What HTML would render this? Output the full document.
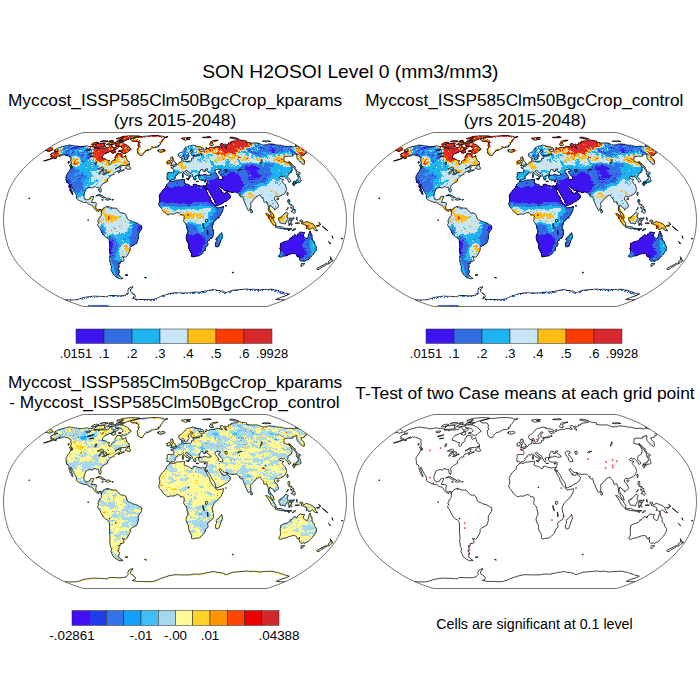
<!DOCTYPE html>
<html><head><meta charset="utf-8"><title>SON H2OSOI Level 0</title>
<style>html,body{margin:0;padding:0;background:#fff}svg{display:block}text{font-family:"Liberation Sans",sans-serif;fill:#000}</style></head>
<body>
<svg width="700" height="700" viewBox="0 0 700 700">
<rect width="700" height="700" fill="#fff"/>
<defs>
<path id="coast" d="M-120.8 -69.3l4.5 -2.5l2 -0.6l2 -0.5l3.4 -0.9l1.7 -0.4l1.7 -0.3l1.2 0.2l1.2 0.2l1.1 0.2l1 0.2l1.6 0.1l1.6 0.1l0.8 0.5l1 0.2l1.1 0.3l1.9 -0.4l1.7 -0.3l1.6 -0.2l2.5 -0.3l1.1 0.8l1.5 -0.2l1.6 -0.1l0.9 0.4l1 0.4l1.4 0.7l-1.1 0.3l1.8 0l1.8 -0.1l1.2 0.3l-0.3 0.7l2 -1.1l2.1 0l2 0.2l1.9 -0.6l1.2 0.3l1.3 -1.2l0.5 -1.4l2.2 -0.9l0.1 1.4l0 0.9l0.4 0.7l1.3 0.2l0 0.9l1 -0.5l1.6 -1.5l1.9 0.1l0 1l-1.3 1.4l-1.9 0.6l-1.6 0.3l-2.1 1.4l-2.1 0.5l-2.2 1l-2.5 1.4l-1.6 1.5l-0.7 1.3l0.5 1.7l1.9 0l1.8 1l1.1 0.7l2.1 0.2l-0.9 2.2l0.3 1l0.4 0.8l1 -0.3l1 -1.5l0.5 -1.6l2.2 -1.2l1.1 -1.3l-0.3 -1.7l1.1 -1.3l1 -2.3l2.2 0l1.9 0.6l1.1 0.7l-0.6 2l0.8 0.7l1.9 -0.7l1.4 -1.3l0 0.8l0.5 1.5l0.5 1.5l0.6 1.5l1.6 1l0.6 1.6l-0.1 1l-2 0.5l-1.9 0.9l-2.5 0l-1.5 0.1l-1.5 0.1l-1.6 1l-2.3 1.6l-1.1 0.7l2.2 -1.2l2.8 -1.1l1.3 0l-0.4 1.1l-1 0.5l0.3 1l0.9 0.6l1.6 0.2l1.5 -0.8l-0.2 0.8l-1.5 0.6l-1.9 0.7l-2 1.1l-0.4 -0.7l1.9 -1.3l-0.9 0.1l-1.4 0.3l-1.5 0.8l-1.5 0.6l-1.1 1.3l0.4 0.7l-1.4 0.5l-2.2 0.6l-0.5 1.1l-1.2 1.1l-1.2 1.3l-0.3 0.8l0 1.6l-1.6 0.9l-1.5 0.7l-1.8 1.4l-1.4 1.3l-0.4 1.4l0.4 1.9l0.2 1.6l-0.6 1.6l-0.8 0.1l-0.6 -1.4l-0.4 -1.6l0.1 -1.3l-0.7 -0.9l-1.5 0.4l-1.2 -0.8l-1.8 0.1l-0.8 1.2l-1.3 0l-1.7 -0.5l-2 0.5l-2.2 1.5l-0.7 2l-0.8 2.1l-0.4 1.8l0.3 2l0.9 1.6l1.3 0.9l1.9 -0.4l1.5 -0.5l0.7 -1.9l2 -0.8l1.4 0.2l-0.8 2l-0.6 1.6l-0.7 1.6l-0.3 0.8l1.6 0l1.9 -0.2l1.5 1l-0.4 2.2l-0.3 1.6l0.6 1.6l0.9 1.1l1.4 0l1 -0.5l1.4 0.2l0.6 0.8l-0.5 1.3l-0.7 -0.9l-0.9 -0.7l-0.8 0.7l-0.2 0.9l-0.9 -0.4l-1.2 -0.5l-0.9 -0.7l-1.1 -1.3l-0.7 -1.1l-1 -1.8l-0.7 -0.6l-1.6 -0.3l-1.3 -0.5l-1.4 -0.9l-1.2 -1.4l-1.5 0.4l-1.4 -0.2l-1.8 -0.7l-2.2 -1l-1.7 -0.8l-1.5 -1.6l0 -1.4l-0.1 -1.9l-1.1 -1.8l-1.1 -1.3l-0.5 -1.6l-1 -1.4l-0.7 -1.7l-0.3 -1.4l-0.9 -0.4l-0.3 1.3l0.6 1.6l0.5 1.6l0.7 2.2l0.6 1.6l0.3 1.1l-0.7 -0.2l-1.3 -1.8l-0.1 -1.6l-1.3 -1.3l0.2 -1.4l-0.8 -1.3l-0.2 -2.7l-0.8 -1.6l-1.5 -0.5l-0.3 -2.2l0 -1.4l-0.3 -1.8l0.1 -1.1l1 -1.6l1.7 -2.6l1.2 -1.9l0.8 -2.2l1.2 0.9l0.8 -1.6l-0.8 -1l-1.3 -1.1l0.4 -1.5l0 -2.1l-0.3 -1l0.3 -2l-0.6 -1l-1.4 -0.2l-0.8 -1.1l-1.3 -0.1l-1.2 -0.1l-1.2 -0.7l-2.1 0.2l-2.2 1l-1.7 0.3l2 -1.6l-2.6 1.3l-2.2 1l-2.9 1.2l-2.6 1l-3.1 1l-2.1 0.5l-1.6 0.2l3.5 -1.2l2.3 -0.7l3 -1.3l1.7 -1l-1.5 0.1l-2.1 0l1.3 -1.3l-1.3 -0.5l0.8 -1.3l2 -1.1l2.7 -0.5l2 -1l-1.5 0l-2.2 0zM-44.5 -80.4l2.1 -0.7l2.1 -0.6l2.3 -0.6l2.2 -0.5l1.6 -0.1l1.5 -0.2l1.6 -0.1l1.5 -0.1l1.8 -0.2l1.8 -0.2l1.8 -0.1l1.8 -0.2l1.4 0l1.4 0l1.4 0l1.4 0.1l1.4 0.2l1.4 0.2l1.5 0.2l1 0.4l1 0.5l1.8 -0.2l1.8 -0.2l-1.9 0.7l-1.9 0.7l-1 1.6l-1 1.6l-1.7 1.7l-0.4 1.8l-2.2 0.9l1.2 0.6l-1.5 0.6l-1.5 0.6l-1.8 0.2l-1.8 0.2l-1.7 1.1l-1.7 1l-1.6 0.4l-1.6 0.3l-2.2 2.4l-1.5 2.5l-1.5 0l-2 -1l-0.9 -1.5l-0.5 -2.4l-0.3 -1.8l1.9 -1.9l-1.1 -1.3l0.6 -1.8l-0.7 -2.1l-1 -0.5l-1 -0.4l-1.9 0l-1.9 0l-1.2 -0.8zM-43.8 -70.2l-2.2 1.4l-2 2l-2.6 0.7l-2 -0.5l-1.4 -1.4l-1.3 0l-1.2 -0.1l0.2 -0.9l1.5 -0.1l1.5 -0.1l1.6 -1.4l-1.2 -1.4l-1.2 -1.4l-1.7 0l-1.7 0l-1.7 -0.4l-1 -0.9l1.6 -1.8l1.5 -0.1l1.6 0l1.4 0l1.5 0l0.8 0.4l0.8 0.4l1.3 0.6l1.3 0.5l0.8 0.5l0.9 0.5l0.3 1.2l1.6 0.9zM-72.7 -72.5l-1.9 0.2l-1.9 0.2l-1.4 0l-1.4 0l-1.1 -1l1.7 -1.6l-1.1 -0.2l2.6 -1.1l1.2 0.1l1.2 0.1l1.9 -0.2l1.9 -0.2l1.6 0.3l-1.6 1.6l0.9 0.5l0.9 0.4l-1.8 0.9zM-83.6 -75.1l0.6 0.6l2 -0.2l2.3 -0.8l2.4 -0.7l0.1 -0.9l-1 -0.1l-1 -0.1l-1.4 0.2l-1.4 0.2zM-56.4 -79l1.5 0.1l1.4 0.1l1.6 0l1.5 0.1l2.6 -1.1l2.3 -0.8l1.6 -0.4l1.5 -0.4l2.3 -0.5l2.3 -0.5l2.6 -1l-1.4 -0.2l-1.4 -0.1l-1.4 -0.1l-1.4 0l-1.4 0l-1.4 0l-1.4 0l-1.6 0.2l-1.7 0.2l-1.6 0.1l-1.6 0.2l-2.1 0.7l1.1 0.3l1 0.4l-0.7 1.1l-2.7 0.8zM-51.6 -77.4l-1.7 0l-1.6 0.1l-1.4 -0.1l-1.3 0l-1.3 -0.1l0.9 -1.2l2 -0.1l1.4 0.2l1.4 0.2l1.1 0.1l1.2 0.1zM-58.3 -80.6l1.8 0.1l1.7 0.1l2.3 -1l-0.6 -0.5l-0.5 -0.5l-1.6 0.3l-1.6 0.4zM-75 -77.7l1.3 0.1l1.3 0.1l1.3 0.2l1.6 -0.2l1.5 -0.2l1 -0.9l-1 -0.2l-1 -0.2l-2 0.1l-2 0.1zM-66.5 -77.9l1.8 0.1l1.8 0.1l1.6 -0.9l-1.2 -0.6l-1.4 0.2l-1.5 0.2zM-68.6 -74.7l1.7 0l1.7 0l1.5 -0.2l1.6 -0.3l2.7 -0.8l0.2 -0.9l-1.3 0l-1.2 -0.1l-1.7 0.1l-1.7 0l-2.2 0.9zM-64 -67.3l1.2 0.5l1.2 0.4l2.4 -0.9l-0.1 -1l-0.9 -1.4l-1.7 0.5zM-49.8 -51.2l1.2 0.4l1.3 0.4l2.5 0.2l0.5 -0.9l-0.4 -1.1l-1.4 -1l0.7 -2.1l-1.4 0.5l-1.3 1.6zM-103.3 -52l-1.3 -0.5l-1 -1.9l1.2 -0.2l1 0.9zM-106.6 -58l0.9 0.1l-0.9 1.9l-0.4 -0.8zM-120.6 -61.1l2.4 -0.8l-0.2 0.6l-2.1 0.6zM-79.3 -23.5l2.5 -1.3l2.3 0l2.6 1.6l2.5 1.4l-1.6 0.2l-1.5 0.1l-0.4 -0.8l-2.2 -1.2l-1.3 -0.6l-1.9 0.4zM-69.8 -19.8l1.9 -1.7l2.4 0.1l1.3 1.3l-2 0.5l-1.2 0.5l-0.7 -0.5zM-73.5 -19.8l1.9 0.3l-0.7 0.3zM-63.1 -19.8l1.4 0.1l-0.3 0.3l-1.1 0zM-145.9 -21.8l0.8 0.5l-0.8 0.8l-0.2 -0.6zM-73.4 -9.2l1.3 -0.8l0.5 -1.5l1.2 -0.4l1.8 -1l0.9 -0.4l-0.1 1.4l1.5 -0.5l0.3 -0.8l1.1 1.3l2.3 0.5l1.9 0.1l1.9 -0.2l0.9 1.3l0.9 1l1.4 1.6l1.4 1.1l1.9 0l1.9 0.5l1.2 1.1l1.1 2.7l0.5 1.7l1.4 1l1.4 0.3l2.4 1.4l1.5 0.5l1.9 0.4l1.9 0.9l1.6 1.2l1.9 0.7l0.5 2.2l-0.6 2.1l-1.4 1.9l-1.3 1.9l-0.4 2.2l0.2 2.7l-0.8 2.7l-0.8 2.1l-1.8 1.1l-1.8 0.9l-1.8 0.9l-1.3 1.4l0.1 2.5l-0.9 1.9l-1.1 2.1l-1.3 2.2l-1.3 1l-1.9 -0.4l-1.4 -0.6l1.5 2.1l0.1 2.4l-1.9 0.8l-1.9 0.1l0.2 1.9l-2.1 0.2l1.4 1.6l-0.9 1.1l0.4 1.6l-1.4 1l1.8 1.6l-0.5 2.1l-0.6 1.6l1 1.4l0.5 0.6l2 1.6l1.2 0.4l-2 0.6l-2.2 -0.5l-2.1 -1l-2.3 -1.6l-1.7 -2l-1.1 -2.7l-0.8 -1.5l0.5 -1.6l0.3 -1.6l-1.2 -1.6l-0.3 -2.2l-0.4 -2.1l-0.1 -2.2l0.4 -2.1l-0.2 -2.2l-0.3 -2.1l-0.2 -2.2l0.1 -2.7l0 -2.7l-0.2 -3.2l-0.4 -1.8l-1.6 -1.5l-2 -1l-2.1 -2l-1.3 -2.1l-1.2 -2.4l-1.2 -2.7l-1.5 -1.6l-0.4 -1.6l0.9 -1.3l0.3 -0.9l-0.9 -0.3l0.2 -1.3l0.7 -1.3l0 -0.9l1.1 -0.5l0.3 -1.2l1 -1l0.1 -2.1l0.2 -1.7l-0.4 -0.3zM-49.8 55.5l2.3 -0.3l0.3 0.8l-2.4 0zM-5.3 -38.6l1.8 0.3l1.7 0.3l2.7 -1.4l1.8 -0.1l1.8 -0.2l2.6 -0.2l1.8 -0.3l0.9 0.3l-0.5 2.1l-0.3 1.1l0.9 0.8l1.9 0.4l2.1 0.7l1.6 1.4l1.9 0.6l0.8 -0.6l-0.1 -1.7l2.7 -0.2l1.9 1.1l2.4 0.5l1.8 0.3l1.3 -0.6l1.4 0.3l1.5 -0.1l-1.3 1.4l0.2 1.7l1.2 1.2l0.7 1.8l1.1 1.8l0.2 1.1l1.2 1.1l0.4 1.6l0.3 1.8l1.1 0.9l0.8 2.1l0.7 1.1l1.5 1.5l1.5 1.1l0.3 1l1.2 1.3l1.4 -0.4l1.9 -0.4l1.9 -0.4l1.1 -0.3l-0.1 1.6l-0.7 2.6l-1.1 2.1l-0.9 1.6l-1.9 2.2l-1.9 1.6l-1.9 2l-1 1.3l-0.9 1.6l-0.7 1.6l-0.3 1.6l0.4 1.6l0.2 2.2l0.7 1.1l0 2.1l0 2.2l-1.2 1.9l-2 1.1l-1 1.1l-1.4 1.1l-0.3 1.3l0.6 1.2l-0.2 2l-1.4 1.1l-1.1 0.8l-0.2 1.9l-0.8 1.6l-1.3 1.6l-1.8 1.9l-1.9 1.4l-1.4 0.5l-2.3 0l-2.7 0.8l-1.4 -0.6l-0.3 -1.6l0.4 -1.3l-1.1 -2.2l-0.6 -1.1l-1.1 -2.1l-0.4 -2.7l-0.1 -2.2l-1.2 -2.1l-0.9 -2.2l-0.3 -2.1l0.8 -2.2l1 -1.8l0.3 -1.6l-0.8 -2l-0.4 -2.7l-0.5 -1.6l-0.9 -1.3l-1.5 -1.6l-0.4 -1.6l0.5 -1.4l-0.1 -1.7l0.3 -1.3l-0.7 -0.8l-0.7 -0.6l-1.2 0.2l-1 0.1l-0.9 -1.4l-1.5 -0.9l-1.9 0.2l-1.4 0.6l-1.9 0.9l-1.9 -0.4l-1.9 0.4l-1.4 0.5l-1.5 -0.9l-1.9 -1.6l-1.4 -0.9l-0.7 -1.6l-1.1 -1.6l-1 -1.1l-1.1 -1.1l-0.1 -1.1l-0.6 -1.3l1 -1.4l0.3 -2.1l-0.1 -1.6l-0.6 -1.7l0.5 -1.6l0.7 -1.6l1 -1.6l1.2 -1.6l1 -1.1l1.4 -0.9l0.9 -1l0.4 -1.3l0.5 -1.7l1.1 -1l1.1 -0.8zM46.7 12.9l0.3 1.9l0.4 1.9l-0.9 2.7l-1.2 3.3l-0.8 2l-0.7 2.1l-1.7 0.7l-1.3 -0.5l-0.5 -2.7l1.2 -2.7l-0.2 -2.7l1.1 -1.6l1.9 -1.1l1.1 -1.6zM130.3 -68.8l-0.4 0.5l1.9 1.9l-1 0.3l-0.9 0.2l-0.4 1.5l-1.7 0.5l-2 0.2l0.4 1.3l0.3 1l2.1 1.5l0.5 1.2l0.3 1.9l-0.2 1.5l-0.5 0.5l-2.6 -2l-2.8 -2.6l-1.2 -1.8l-0.4 -1.7l0.2 -1.5l0.1 -1.5l-1 0.3l-1 0.2l-1.1 0.2l-1.2 0.1l0.3 1.6l-1.1 0.2l-1.1 0.2l-2.7 -0.3l-2 0.2l-1.7 0.3l-0.4 1.5l-0.1 2l0.2 1.5l1.8 0.2l2.1 0.7l1.9 1.2l0.9 1.5l1.2 2.1l0 1.8l-0.4 1.9l-0.7 1.6l-1.4 0.6l-1 0.5l-0.6 0.5l0.3 1.3l-0.7 1l0 0.9l1.4 1.1l1.7 1.6l0.2 1.4l-1.1 0.7l-1.1 0l-0.4 -1.5l-0.5 -1.3l-1.3 -0.6l-1.1 -1.4l-0.9 -0.8l-1.6 0.3l-0.6 0.5l-0.8 -1.6l-1.2 1.1l-1.1 0.5l1 1.1l1.5 0.5l2.2 0.4l-0.8 0.7l-0.8 1.3l1 1.4l1.5 1.6l1.3 1.7l-0.3 1l1 1.1l-0.3 1.3l-0.6 2l-0.8 1.5l-1.2 1.1l-1.7 0.9l-1.3 0.6l-1.7 0.7l-1.1 0.8l-0.8 -0.8l-1.4 -0.1l-1 1.2l-0.6 1.6l1.2 1.8l1.6 1.4l1.1 2.2l0.4 2.2l-0.7 1l-1.4 0.7l-0.8 1l-0.9 0.8l-0.3 -1.4l-1.3 -0.6l-1.1 -1.5l-1.5 -0.9l-0.5 -0.8l-0.4 1.1l-0.3 1.6l-0.1 1.9l1 1l0.6 1.4l0.9 0.6l1.1 1.1l0.7 1.4l0.1 1.6l0.7 1.3l-0.9 0l-1.7 -1.3l-0.8 -1.4l-0.5 -1.8l-0.6 -1.2l-1.2 -1.3l-0.3 -1.6l0.2 -2.2l-0.4 -1.6l-0.8 -2l-0.3 -1.6l-1.2 -0.2l-1 0.8l-1 -0.5l-0.1 -1.9l-0.9 -1.6l-1.6 -1.7l-0.9 -1.6l-1 0l-1.3 0.8l-1.8 0.5l-0.3 1.4l-1.3 0.8l-1.2 1.4l-1 1.5l-1.6 0.9l-0.2 1.9l0.4 1.6l-0.4 2.2l-0.6 1.3l-0.7 0.5l-0.7 0.8l-1 -1.3l-0.9 -2.4l-1 -1.6l-0.6 -2.2l-0.9 -1.6l-0.9 -2.5l-0.3 -1.8l-0.3 -1.1l-1.3 0.8l-1.8 -1.1l-0.1 -0.8l0.9 -0.5l-1.7 -0.6l-1.3 -1.2l-0.8 -0.7l-2.3 0l-2.3 0.2l-2.4 -0.3l-1.6 -0.4l-0.6 -1.3l-1.6 0.3l-1.4 -0.1l-1.5 -1l-1.3 -1.4l-0.9 -1.3l-1.1 -0.1l-0.6 0.9l0.8 1.3l1.4 1.7l0.3 1.3l0.8 0.9l0.4 -1.2l0.3 1.4l1.2 0.3l1.4 -0.1l1.2 -1.6l0.3 -0.6l0.3 1.6l1.5 1.2l1.8 1.3l-0.8 2.2l-0.7 1.6l-1.1 1.1l-1.4 1.1l-1.8 0.5l-1.8 1.3l-1.8 1.2l-1.9 0.7l-1.8 0.8l-1.5 0.1l-0.5 -1.9l-0.4 -2.2l-1.3 -2.2l-1.5 -1.9l-1 -1.8l-0.8 -1.9l-1.2 -1.9l-1.2 -1.6l-1 -1.2l-0.2 -1.5l-0.5 1.8l-1.2 -1.3l-0.5 -1.1l1.3 -1.4l0.5 -1l0.2 -1.3l0.4 -1.7l0 -1.4l-1 -0.4l-1.3 0.5l-1.3 -0.3l-1.4 0l-1.3 0l-1.4 -0.5l-0.6 -1.1l-0.5 -1.4l0.1 -1.1l2.1 -0.4l0 -0.5l1.9 0l1.6 -0.9l1.8 0.3l1.4 0.7l1.7 0l2.2 -0.4l-0.7 -1.4l-1.5 -0.9l-1.5 -0.9l-0.9 -0.8l0.7 -0.8l0.6 -1.1l-1.3 0l-1.5 0.8l-0.3 0.6l1.3 0.4l-0.8 0.5l-1.4 0.5l-1.2 -1.1l0.7 -0.6l-1.3 -0.6l-1 0l-0.8 1.3l-0.6 1.4l-0.4 1.6l0.3 1.1l0.7 0.2l0 0.3l-1.3 0.1l-0.8 0.5l-0.5 -0.4l-1.3 0l-0.8 0.9l-0.6 -0.5l0.1 1.2l1.2 1.2l-0.9 0.7l0.1 1.1l-0.9 -0.2l-0.7 -1.1l-0.4 -1.4l-1.1 -1l-0.4 -1.6l-0.5 -0.9l-1.4 -0.7l-1.8 -1.1l-0.7 -1.3l-0.9 -0.4l-1.2 0.3l0.1 1.1l1.2 0.8l0.8 1.3l1.3 0.5l0.1 0.6l1.8 0.7l0.4 0.6l-1.1 -0.4l-0.4 1l0.4 0.5l-0.5 0.8l-0.7 0.3l0.2 -1.1l-0.3 -1l-1.1 -0.8l-1.8 -0.8l-1.4 -1.1l-0.6 -1.1l-1.2 -0.8l-1.3 0.5l-1.2 0.8l-1.8 -0.5l-0.8 1.1l0.2 0.7l-1.9 0.9l-1.1 1.6l0.4 0.8l-0.8 1l-1.2 1.1l-2.2 0.1l-0.9 0.8l-0.9 -0.9l-0.9 -0.3l-1.3 0.1l0.2 -1.6l-0.6 -0.3l0.7 -2.4l-0.3 -2.1l1.1 -0.8l2.2 0.1l2.1 0.2l1 0l0.6 -1.3l0.1 -1.4l-1 -1.3l-1.9 -0.6l-0.1 -0.8l1.4 -0.3l1.2 0.1l-0.2 -1l1.5 0.3l1.2 -0.7l0.2 -1l1.5 -0.4l0.8 -1.1l0.3 -0.7l1.6 -0.4l1.2 -0.3l0.1 -1.2l-0.5 -1l0.1 -1l1.3 -0.6l0.4 1.1l-0.3 1l0.1 1l0.8 0.5l1.2 -0.3l1.2 0.3l1.6 -0.3l2 -0.4l1 0.3l0.9 -0.6l-0.2 -1.8l0.6 -0.8l1.3 0.6l0.5 -0.5l-0.4 -1l-0.5 -0.7l1.1 -0.3l2.3 -0.1l1.4 -0.4l-1.2 -0.5l-1.9 0.1l-2.2 0.5l-1.2 -0.7l-0.4 -1.4l0 -1.1l0.9 -0.8l1.3 -1l-0.5 -0.7l-1.6 0l-0.5 1l-0.8 1.1l-1.3 1l-0.4 1.5l0.3 0.5l1 0.7l-0.5 0.8l-0.8 1l-0.2 1.5l-1 0.4l-0.5 0.6l-1 0.1l-0.5 -0.9l-0.6 -1.5l-0.8 -1.2l-0.4 -0.5l-0.7 0.5l-1.1 0.9l-1.2 0l-0.8 -0.7l-0.4 -1.2l-0.1 -1.5l0.4 -0.8l1.1 -0.6l1.4 -0.6l1 -0.9l1 -0.9l0.7 -1l0.9 -1.2l0.9 -0.8l1.3 -0.7l1.6 -0.5l1.7 -0.4l1.7 -0.6l1.6 0.2l2.1 0.5l-0.5 0.6l2.2 0.3l2.1 0.1l1.5 0.6l1.6 0.5l1.1 1.1l-1.6 0.7l-1.3 -0.2l-1.3 -0.2l-1.4 -0.2l1.3 1.2l0.5 0.9l1.8 0.5l0.5 -0.7l1.5 0.1l0.1 -0.8l0.8 -0.9l1.4 0.2l-0.2 -1.2l-0.5 -0.9l1.5 0.3l0.7 1.1l0.8 -0.7l1.3 -0.4l1.8 -0.5l1.5 0.2l1.9 -0.4l1 -0.7l0.7 -0.1l2.3 0.4l2.4 0.6l0.9 -0.3l-1.6 -0.9l-0.9 -1.3l0.6 -1.2l2 0l1.1 1.2l0.9 1.3l0.6 1.4l1.6 0.9l-0.4 -1.1l-0.7 -1.6l-1.3 -1.4l0.7 -0.4l1.7 0.9l1 -0.5l1 -0.4l-0.7 -0.9l1.5 -0.1l1.5 -0.1l-0.3 -1l1 -0.3l1 -0.3l1.1 -0.2l1 -0.2l1.4 -0.1l1.4 -0.2l0.7 -0.4l0.7 -0.5l2.7 0.7l1.7 0.1l1.8 0.2l1.7 0.6l-0.4 0.5l-0.5 0.5l2.6 0.6l1.8 0.1l1.8 0.1l1.5 -0.1l1.6 0l1.5 0.1l1.5 0.2l3 1.3l2.6 0.7l0.3 -0.5l1.4 0l1.4 0.1l0.8 -0.9l1.7 0l1.7 0l2.1 0.3l2.1 0.3l2.3 0.7l1.7 0l1.7 0l3.6 1.1l1.9 0.1l1.8 0.1l1.5 -0.4l3.5 0.9l0.8 -0.3l0.8 -0.4l2.3 0.4l2.3 0.3M-124.7 -72.5l1.1 0.7l0.5 0.6l0.5 0.6l0.8 0.9l-3.4 1.4l-1.7 -0.3l-0.5 -0.6l-2.9 0.4M-4.5 -53.8l1.6 -0.2l2.1 -0.5l1.9 -0.5l-0.4 -0.4l0.7 -1.1l-1.2 -0.3l-0.4 -1.1l-1 -1l-0.4 -1l-0.8 -0.2l0.8 -1.3l-1.1 -0.2l0.4 -0.9l-1.6 0l-0.6 1.1l0.2 1.2l0.3 1l1.2 0.4l0.4 0.9l-0.2 0.7l-1 0.2l0.2 0.9l-0.8 0.5l1.3 0.4l-0.8 0.4zM-8.2 -55.6l1.7 0.1l1.5 -0.5l0.2 -1.4l0.2 -1l-0.6 -0.7l-1.3 0l-0.3 0.8l-1.2 0.2l0.1 0.9l0.4 0.7zM-17.3 -69.2l1.6 -0.9l1.3 0.7l1.5 -0.5l1.5 -0.3l1 0.5l0.5 0.9l-1 0.7l-2.3 0.8l-1.9 -0.1l-1.4 -0.3l0.5 -0.7l-1.4 -0.3l1.2 -0.3zM6.6 -81l2 1.2l2 0.6l1.7 -0.6l1.1 -0.6l-2 -0.6l1.5 -0.2l1.4 -0.2l1.6 -0.5l-1.4 0l-1.4 -0.1l-1.4 -0.1l-1.4 0.2l-1.4 0.2l-1.2 0.1l-1.2 0.1zM34.6 -74.7l1.3 0.6l2.1 0.1l0.4 -1.2l-1.7 -1.3l0.8 -0.8l1 -0.4l1 -0.5l1.3 -0.4l1.2 -0.4l1.1 -0.2l-2 -0.2l-1.7 0.3l-1.7 0.3l-0.9 0.4l-1 0.4l-0.4 1.5l-0.9 0.9zM57.2 -81l2 0.4l2 0.4l1.3 -0.2l1.2 -0.2l-2.2 -0.8l-2.8 -0.7l-1.7 -0.2l-1.7 -0.1l-0.8 0.7zM27.7 -81.9l1.6 0.1l1.6 0l1.7 0.1l1.2 -0.1l1.3 -0.2l1.3 -0.1l-1.8 -0.7l-1.4 0.1l-1.5 0.1l-1.4 0.2l-1.4 0.1l-1.4 0.1zM87.2 -78.2l2.1 0.3l2 0.3l1 -0.6l1.8 0.2l1.8 0.1l-1.8 -0.7l-1.5 0l-1.6 -0.1l-1.6 0l-1.1 0.2zM121 -74.7l-1 0l0.8 0.4l1.3 0.2M113.6 -58.2l2 1.4l2 2l1.6 1.8l1.1 0.3l-0.1 1.6l1.3 1.4l-1 0.2l-1.5 -2.1l-1.6 -2.1l-1.9 -2.1zM122 -44.7l0.6 -1.1l1.9 0.5l1 -1.4l-1.6 -0.7l-3 -1.6l0.3 1.1l0.5 1.3l-0.4 0.8zM118 -36.7l1.3 -0.3l2.2 -0.3l1.6 0.1l0.1 -0.2l1.6 0l0.8 -0.4l0.5 -0.7l-0.5 -1.4l-0.3 -1.4l-0.3 -1.3l-1.6 -1.9l-0.9 0.3l0.6 1.3l0.3 1.4l-0.2 1.3l-1.3 0.1l0.1 0.7l-0.2 0.9l-2.6 0.1l-1.3 1.2zM117.5 -36.1l0.7 -0.4l1.2 0.9l0.1 1.7l-0.8 0.2l-0.8 -1.4zM119.6 -36.5l1.6 -0.4l0.1 0.8l-0.8 0.7zM112.1 -27.2l1 0.2l-0.1 1.6l-0.3 1.7l-0.8 -1.1zM101.8 -20.8l1.1 -0.8l1 0.3l-0.4 1.3l-1.2 0.3zM75.9 -10.5l1.2 1.3l0.6 1.6l-0.7 1l-0.9 0.1l-0.3 -1.6zM113.1 -20l1.6 0.2l0.1 2l-0.2 1.6l1.1 1.1l1.5 0.5l-0.1 0.8l-1.3 -0.8l-1.5 -0.2l-0.8 -1.2l-0.5 -1.3zM116 -7.6l1.3 -1.6l1.8 -1.3l0.8 1.3l0.2 2.2l-0.7 0.9l-1.5 -0.9l-0.6 -1.1zM115.5 -12.7l1.5 0.8l1.3 -1.6l0.6 1.6l-0.5 1.1l-1.2 0.6l-1 -0.6zM111.3 -9.2l2 -2.1l-0.1 -0.9l-0.8 1.4zM90.6 -6l2.2 0.4l2.4 2.4l2.9 2.7l1.4 2.7l1.4 1.6l-0.3 2.5l-1.2 0l-1.8 -1.8l-1.4 -1.8l-1.4 -2.7l-1.5 -2.7l-1.9 -2.2zM100 7.3l1.3 -0.8l1.8 0.6l2 -0.1l1.8 0.4l1.9 1l-0.3 1l-1.5 -0.2l-1.6 -0.2l-2.3 -0.6l-1.9 -0.4zM109.2 8.8l1.9 0l1.9 0.3l1.9 0l1.9 -0.1l-0.2 0.5l-2.7 0.1l-2.8 0.1l-1.9 -0.2zM117.1 11.1l1.5 -1.4l2 -0.6l0 0.4l-1.5 1l-1.5 0.7zM112.9 10.2l1.7 0.4l-0.8 0.5zM103.8 -1.6l1 -0.2l1.1 0.3l0.3 -1.4l1.4 -0.6l0.9 -1.4l1.4 -1l1.1 -1.7l0.9 0.8l1.5 1.2l-1.1 1l-0.2 1.9l1.1 1.6l-1.2 1.1l-0.1 1.3l-1 1.4l-0.5 1.6l-1.4 0l-0.9 -0.7l-1.7 0.2l-1.5 -0.6l-0.1 -1.6l-1 -1.1zM114.1 -0.9l1.2 -0.5l1.9 0.3l1.9 -0.6l-0.5 1.3l-1.4 0l-1.9 -0.1l-0.7 1.4l1.1 0.2l1.8 -0.2l-0.8 1l-0.8 0.3l0.7 1.6l0.6 1.1l-0.7 1l-0.9 -1l-0.4 -1.7l-0.5 0.6l-0.2 2.1l-0.8 0l0.1 -2.1l-0.5 -1.1l0.8 -2.2zM121.4 -2.2l1 0.6l-0.4 1.6l0.4 0.9l-0.6 -0.4l-0.3 -1.6zM120 3.5l1.1 0.1l0.8 -0.4l2.6 0.4l-0.7 0.4l-1.9 -0.1l-1.5 0.2zM124.8 0.9l1.4 -0.5l1.5 0.5l0.1 1.8l1.2 0.9l2 -1.8l1.9 0.6l1.4 0.4l1.8 0.9l1.5 0.4l1.1 1.3l1.6 1.1l-0.4 0.8l1.1 1.9l1.3 1.6l0.4 0.6l-1.4 -0.3l-1.4 -0.3l-1.3 -1.6l-1.3 -0.9l-1 0.9l-1.1 0.7l-1.4 -0.1l-1.3 -1.1l-1.4 0.3l0.8 -1.4l-0.6 -1.7l-1.9 -0.9l-1.8 -0.8l-1 0.1l-0.2 -1.1l0.7 -0.7l-1.4 -0.1l-0.9 -1zM141.2 6l2 -0.1l1.5 -1.3l0.2 0.8l-1.3 1.3l-1.5 0.1zM143.6 2.8l1.6 1.2l0.4 1.2l-0.4 -0.9l-1.6 -1.3zM147.4 6.5l1.3 1.1l1.4 1l1.7 1.6l1.3 1.1l-1.3 -0.6l-2.2 -1.7l-2.2 -2zM157.1 16.2l0.6 1.6l0.5 1.1l-0.9 -1zM153.4 21.8l1.2 0.9l1.1 1.4l-0.5 0l-1.5 -1.4zM166.6 18.9l1.2 0.1l-0.4 0.6l-0.9 -0.2zM105.8 23.7l0.7 -0.2l1.4 -0.8l1.5 -0.5l2 -0.6l1.9 -0.6l1.5 -1.6l0.1 -1.1l1.2 0.4l0.6 -1.1l1.2 -1.1l1.1 -1.4l1.4 0l0.6 1.1l1.2 -0.1l0.7 -1.8l0.9 -0.9l1.2 -0.5l0.7 -0.6l2.1 0.8l1.7 -0.2l-0.5 1.4l-0.8 1.3l0.4 1.3l1.2 1.1l1.3 0.9l1.2 0l1.1 -2.2l0.4 -2.1l0.8 -2.7l0.5 -0.4l0.7 2l0 1.9l1.3 0.8l0 1.9l0 2.2l1.3 1l0.8 1.1l0.3 1.7l0.7 1.3l1.2 1.6l0.1 1.6l-0.5 2.1l-1.3 2.2l-1.3 1.9l-1.9 1.7l-1.6 1.8l-1.5 1.9l-2.1 0.7l-2 1.2l-0.9 -0.8l-1.6 0.5l-1.5 -0.5l-0.9 -0.8l0.4 -1.7l-0.9 -0.5l0.5 -1.1l0.2 -1.6l-1 1.9l-1.3 0l-0.3 -0.5l-0.2 -1.4l-1 -1.1l-1.6 -0.5l-1.9 0.2l-2 0.6l-2.1 0.6l-1.2 0.7l-1.9 0.5l-1.9 0.1l-2.2 1.1l-1.7 -0.3l-0.7 -0.5l1.5 -2.5l0.4 -2.1l-0.1 -1.7l-0.1 -2.1l-0.1 -1.6l0.5 -1.6zM126.6 43.9l1.3 0.4l1.7 -0.3l-1 1.5l-1.4 1.2l-1.4 0.2l0.1 -1.1zM155.4 37.2l0.6 1.1l0.6 1.1l-0.3 1.2l1.8 0l-0.4 0.9l-1.9 1.1l-1.8 1.6l-1.5 0.5l0.9 -1.2l-0.3 -1.1l1.4 -0.9l1.1 -1.6l-0.1 -1.6zM151.3 43.8l0.5 0.9l-2.3 1.6l-1.2 0.9l-1.9 0.7l-1.3 1.4l-2.2 0.9l-0.9 -0.5l-0.4 -0.5l2.4 -1.5l2.9 -1.4l2.3 -1.2zM7.2 -44.2l1.2 0l0.1 1.9l-1 0.2l-0.2 -1zM7.5 -45.8l0.7 -0.5l0.1 1.6l-0.6 0zM11.1 -41l2.6 -0.2l-0.2 1.6l-1.9 -0.6zM21.1 -38.4l2.5 0.3l-0.2 0.3l-2.3 -0.2zM29 -37.8l1.9 -0.6l-0.3 0.7l-1.2 0.4zM57.3 52.7l1.2 0.1l-0.5 0.6l-0.9 -0.1zM50.5 -13.6l1.1 0l-0.2 0.3l-0.9 -0.1zM-87.2 0.3l0.7 0l-0.1 0.8l-0.6 -0.1zM13.6 -79.8l1.4 -0.2l-0.4 -0.4l-1.2 0zM-30.5 57.9l1.7 0.3l0.1 0.5l-1.3 -0.4zM-110.2 80.2l1.7 0.1l1.7 0l1.6 0.1l1.7 0l1.4 0l1.4 -0.1l1.4 0l1.4 -0.1l0.9 -0.3l0.9 -0.3l1 -0.3l1.1 -0.3l0.8 -0.4l0.9 -0.4l1.2 -0.2l1.3 -0.3l1.3 -0.2l1.3 -0.2l1.4 -0.2l1.3 -0.1l1.4 -0.2l1.4 -0.2l1.8 0.1l1.7 0.1l1.7 0l1.7 0.1l1.7 0.1l1.8 0.1l1.7 0.1l1.8 0.1l0.9 -0.6l0.9 -0.7l1.7 0l1.6 0l1.8 0.1l1.7 0.1l1.7 0l1.7 0.1l1.4 -0.1l1.5 -0.1l1.5 -0.1l1.3 -0.4l1.3 -0.4l1 -1.1l1 -1.2l-0.4 -1.8l0.9 -2.3l1.1 -0.6l1.2 -0.6l2 -0.5l-0.6 1.2l-1.3 0.9l-0.4 1.4l-0.3 1.4l3.3 2.3l1.7 2.2l-0.2 1.2l-1.4 0.7l-1.4 0.6l1.9 0.3l2 0.4l1.9 0.3l1.5 0l1.5 0l1.6 0l1.5 0l1.6 0.1l1.5 0l1.6 0.1l1.5 0l1.5 -0.2l1.4 -0.2l1.3 -0.4l1.3 -0.4l1.3 -0.4l1.5 -0.7l1.5 -0.7l1.6 -0.7l1.4 -0.5l1.5 -0.4l1.5 -0.4l1.6 -0.6l1.7 -0.5l1.8 -0.3l1.8 -0.3l1.8 -0.3l1.7 0l1.7 0.1l1.7 0l1.7 0.1l1.8 0l1.7 0l1.7 0l1.7 0l1.8 -0.2l1.7 -0.3l1.8 -0.2l1.8 -0.2l1.7 0.1l1.7 0.2l1.8 -0.4l1.9 -0.4l1.8 -0.3l1.9 -0.4l1.9 -0.3l1.9 -0.4l1.9 -0.3l2 -0.3l1.5 0.5l1.6 0.4l1.6 0.2l1.7 0.2l1.6 0.2l1.6 0.2l0.7 1.2l1.9 0.2l2.8 -1.1l1.9 -0.7l1.9 -0.7l2.2 -0.1l2.2 -0.1l1.8 -0.2l1.8 -0.2l1.8 -0.1l1.9 -0.2l2 -0.2l1.6 0.2l1.6 0.3l1.9 -0.2l1.9 -0.1l1.6 0.2l1.5 0.3l1.7 0.1l1.6 0.2l2 -0.3l2 -0.2l1.9 -0.1l1.8 0l1.9 -0.1l1.9 -0.1l1.4 0.3l1.4 0.4l1.5 0.2l1.5 0.2l1.1 0.5l1.1 0.5l1.4 0.4l1.3 0.3l1.1 0.4l1 0.5l1.3 0.3l1.2 0.3l1.2 0.4l1.1 0.3l-4.2 1.8l-5.1 1.7l-3.8 1.6l1.4 0.2l1.4 0.2l1.6 0l1.5 0l1.5 0l1.6 0M41.5 -50.1l2 -0.3l1.3 0.3l0.5 1.6l-1.6 0.6l-0.1 1.6l1.6 1l1.2 1.6l1.1 1.6l0.5 1.9l-1.6 0.5l-1.7 -0.5l-1.3 -1.1l0 -2.2l-1.7 -1.8l-1 -1.6l-0.7 -1.4l0.4 -1zM49.6 -49.8l2.4 -0.3l0.3 2.4l-1.7 0.6zM62.6 -49l1.6 -1.3l2.6 0.2l-1.5 0.4l-1.3 1zM85.1 -55.3l1.1 -0.7l1 -1.7l-0.3 -1.8l-0.7 -0.1l0.2 1.9l-1 1.1zM23.2 -63.9l1.5 -0.2l0.2 -0.8l-1.3 -0.7l-1 0.7zM26 -64.9l1.1 -0.3l-0.7 -1.2l-0.7 0.2zM-77.7 -50.4l1.6 0.1l1.9 -0.3l1 0.5l1.5 0l0.4 -1.3l-1.2 -1.1l-1.9 0.5zM-76.3 -45.3l1.1 0l1.1 -1.6l1.8 -2.3l-0.8 -0.1l-2 1.4zM-71.8 -49.4l0.2 2.7l1.1 0.1l0.9 -1.3l1.2 -0.2l-0.3 -1.4l-1.7 -0.2zM-72.5 -45l2 0.2l2.1 -1.2l-1.3 0l-1.9 0.5zM-68.7 -46.7l1.9 0l1.2 -0.5l-0.5 -0.3l-1.8 0.3zM-79.9 -54.3l1 -1l0.6 -2.4l-1.4 0.3l-0.2 1.6zM-87.8 -64.9l1.9 0l3.5 -1.5l1.3 -0.2l-2.5 0.7l-2.2 0zM-89.2 -69.7l0.9 0.9l2.4 -0.2l1.8 -1.2l-0.9 -0.4l-2.6 0.4zM-85.5 -62.6l2.7 -0.5l1.6 -0.1l-2.1 -0.2zM30.3 0.3l1.9 -0.6l0.5 1.4l-0.8 1.8l-1.4 -0.2zM27.9 3.8l0.5 1.6l0.5 1.9l0.5 1.9l-0.4 0l-1.1 -2.7zM32.3 10.5l0.6 1.4l0.3 3.2l-0.6 0l-0.2 -2.7zM-66 16.6l1 0.4l0 0.7l-0.7 -0.4zM12.8 -14l1.1 -0.6l-0.2 1z"/>
<path id="frame" d="M91.3 -87L94.5 -86.1L98.1 -84.9L102.2 -83.4L106.6 -81.7L111.1 -79.8L115.5 -77.7L119.5 -75.6L123.2 -73.4L126.8 -71.1L130.3 -68.8L133.7 -66.4L137 -63.9L140.1 -61.4L143.2 -58.9L146.1 -56.3L148.8 -53.7L151.3 -51.1L153.7 -48.5L155.9 -45.8L158.1 -43.1L160 -40.5L161.7 -37.8L163.2 -35.1L164.6 -32.4L165.9 -29.7L166.9 -27L167.7 -24.3L168.4 -21.6L169.2 -18.9L169.8 -16.2L170.3 -13.5L170.7 -10.8L171 -8.1L171.3 -5.4L171.4 -2.7L171.5 0L171.4 2.7L171.3 5.4L171 8.1L170.7 10.8L170.3 13.5L169.8 16.2L169.2 18.9L168.4 21.6L167.7 24.3L166.9 27L165.9 29.7L164.6 32.4L163.2 35.1L161.7 37.8L160 40.5L158.1 43.1L155.9 45.8L153.7 48.5L151.3 51.1L148.8 53.7L146.1 56.3L143.2 58.9L140.1 61.4L137 63.9L133.7 66.4L130.3 68.8L126.8 71.1L123.2 73.4L119.5 75.6L115.5 77.7L111.1 79.8L106.6 81.7L102.2 83.4L98.1 84.9L94.5 86.1L91.3 87L-91.3 87L-94.5 86.1L-98.1 84.9L-102.2 83.4L-106.6 81.7L-111.1 79.8L-115.5 77.7L-119.5 75.6L-123.2 73.4L-126.8 71.1L-130.3 68.8L-133.7 66.4L-137 63.9L-140.1 61.4L-143.2 58.9L-146.1 56.3L-148.8 53.7L-151.3 51.1L-153.7 48.5L-155.9 45.8L-158.1 43.1L-160 40.5L-161.7 37.8L-163.2 35.1L-164.6 32.4L-165.9 29.7L-166.9 27L-167.7 24.3L-168.4 21.6L-169.2 18.9L-169.8 16.2L-170.3 13.5L-170.7 10.8L-171 8.1L-171.3 5.4L-171.4 2.7L-171.5 0L-171.4 -2.7L-171.3 -5.4L-171 -8.1L-170.7 -10.8L-170.3 -13.5L-169.8 -16.2L-169.2 -18.9L-168.4 -21.6L-167.7 -24.3L-166.9 -27L-165.9 -29.7L-164.6 -32.4L-163.2 -35.1L-161.7 -37.8L-160 -40.5L-158.1 -43.1L-155.9 -45.8L-153.7 -48.5L-151.3 -51.1L-148.8 -53.7L-146.1 -56.3L-143.2 -58.9L-140.1 -61.4L-137 -63.9L-133.7 -66.4L-130.3 -68.8L-126.8 -71.1L-123.2 -73.4L-119.5 -75.6L-115.5 -77.7L-111.1 -79.8L-106.6 -81.7L-102.2 -83.4L-98.1 -84.9L-94.5 -86.1L-91.3 -87z"/>
<clipPath id="clip"><use href="#frame"/></clipPath>
<g id="absmap" shape-rendering="crispEdges"><path fill="#3d14f0" d="M-69.5 86.8h0.8v0.3h-0.8zM-65 86.8h0.8v0.3h-0.8zM-84.4 86.5h0.8v0.4h-0.8zM-77.1 86.1h0.8v0.5h-0.8zM-86.7 85.7h0.8v0.5h-0.8zM-72.9 85.7h0.8v0.5h-0.8zM-79.3 85.3h1.5v0.6h-1.5zM-104.8 80.3h0.9v0.8h-0.9zM-34.2 79.6h0.9v0.9h-0.9zM-5.5 74.8h1v0.9h-1zM112.1 74.8h1v0.9h-1zM106.2 73.1h1v1h-1zM41 70.5h1v1h-1zM83.3 69.6h1v1h-1zM124.5 38.6h1.2v1.1h-1.2zM123.8 37.6h4.6v1.1h-4.6zM130.6 37.6h1.2v1.1h-1.2zM16.3 36.6h4.6v1.1h-4.6zM122.1 36.6h6.9v1.1h-6.9zM-62.7 35.5h1.2v1.1h-1.2zM16.3 35.5h8v1.1h-8zM107.8 35.5h1.2v1.1h-1.2zM110.1 35.5h2.4v1.1h-2.4zM121.4 35.5h8v1.1h-8zM16.4 34.5h8.1v1.1h-8.1zM109.3 34.5h5.8v1.1h-5.8zM120.7 34.5h11.5v1.1h-11.5zM-65.4 33.5h2.4v1.1h-2.4zM16.4 33.5h8.1v1.1h-8.1zM108.6 33.5h22.9v1.1h-22.9zM-65.7 32.5h3.5v1.1h-3.5zM15.4 32.5h10.4v1.1h-10.4zM107.8 32.5h24.1v1.1h-24.1zM-65.9 31.5h2.4v1.1h-2.4zM15.4 31.5h11.6v1.1h-11.6zM104.7 31.5h1.3v1.1h-1.3zM107 31.5h24.2v1.1h-24.2zM-66 30.4h2.4v1.1h-2.4zM14.3 30.4h12.7v1.1h-12.7zM105 30.4h25.4v1.1h-25.4zM-66.2 29.4h3.6v1.1h-3.6zM14.3 29.4h12.8v1.1h-12.8zM105.2 29.4h24.3v1.1h-24.3zM-66.4 28.4h3.6v1.1h-3.6zM13.2 28.4h14v1.1h-14zM104.4 28.4h26.7v1.1h-26.7zM-65.4 27.4h3.6v1.1h-3.6zM13.2 27.4h15.2v1.1h-15.2zM104.6 27.4h23.2v1.1h-23.2zM-65.5 26.4h2.4v1.1h-2.4zM13.3 26.4h15.2v1.1h-15.2zM30.7 26.4h1.3v1.1h-1.3zM104.8 26.4h23.3v1.1h-23.3zM-65.7 25.4h3.6v1.1h-3.6zM13.3 25.4h15.2v1.1h-15.2zM105 25.4h22.2v1.1h-22.2zM-65.8 24.4h3.6v1.1h-3.6zM13.3 24.4h15.2v1.1h-15.2zM105.2 24.4h22.2v1.1h-22.2zM132 24.4h1.3v1.1h-1.3zM-65.9 23.3h3.6v1.1h-3.6zM13.4 23.3h17.6v1.1h-17.6zM105.4 23.3h22.3v1.1h-22.3zM-66 22.3h3.6v1.1h-3.6zM12.2 22.3h17.6v1.1h-17.6zM106.8 22.3h22.3v1.1h-22.3zM-66.1 21.3h3.6v1.1h-3.6zM12.2 21.3h17.7v1.1h-17.7zM109.3 21.3h20v1.1h-20zM-62.7 20.3h1.3v1.1h-1.3zM11.1 20.3h18.9v1.1h-18.9zM113 20.3h17.7v1.1h-17.7zM11.1 19.3h18.9v1.1h-18.9zM114.3 19.3h15.4v1.1h-15.4zM-40.6 18.3h1.3v1.1h-1.3zM11.1 18.3h18.9v1.1h-18.9zM114.5 18.3h14.2v1.1h-14.2zM11.1 17.2h16.6v1.1h-16.6zM115.8 17.2h14.2v1.1h-14.2zM11.1 16.2h15.4v1.1h-15.4zM27.6 16.2h1.3v1.1h-1.3zM117.2 16.2h11.9v1.1h-11.9zM11.2 15.2h15.5v1.1h-15.5zM118.5 15.2h2.5v1.1h-2.5zM122 15.2h7.2v1.1h-7.2zM11.2 14.2h2.5v1.1h-2.5zM15.9 14.2h1.3v1.1h-1.3zM19.4 14.2h6v1.1h-6zM36 14.2h1.3v1.1h-1.3zM122.2 14.2h6v1.1h-6zM20.6 13.2h2.5v1.1h-2.5zM123.5 13.2h2.5v1.1h-2.5zM124.8 12.2h3.7v1.1h-3.7zM-37.4 11.1h2.5v1.1h-2.5zM-38.6 10.1h1.3v1.1h-1.3zM-38.6 9.1h3.7v1.1h-3.7zM-37.4 8.1h2.5v1.1h-2.5zM-33.9 8.1h1.3v1.1h-1.3zM18.4 8.1h1.3v1.1h-1.3zM-37.5 7.1h4.9v1.1h-4.9zM-37.5 6.1h1.3v1.1h-1.3zM-35.1 6.1h1.3v1.1h-1.3zM39.8 -3.1h1.3v1.1h-1.3zM42.2 -6.2h1.3v1.1h-1.3zM45.7 -7.2h1.3v1.1h-1.3zM45.6 -12.3h1.3v1.1h-1.3zM47.9 -12.3h1.3v1.1h-1.3zM46.7 -13.3h2.5v1.1h-2.5zM38.4 -14.3h4.8v1.1h-4.8zM50.2 -14.3h1.3v1.1h-1.3zM23 -15.3h1.3v1.1h-1.3zM37.2 -15.3h2.5v1.1h-2.5zM40.7 -15.3h4.8v1.1h-4.8zM-11.3 -16.3h1.3v1.1h-1.3zM2.9 -16.3h3.7v1.1h-3.7zM10 -16.3h7.2v1.1h-7.2zM34.8 -16.3h3.7v1.1h-3.7zM40.6 -16.3h7.2v1.1h-7.2zM-10.1 -17.3h7.2v1.1h-7.2zM-1.8 -17.3h20.1v1.1h-20.1zM32.3 -17.3h6v1.1h-6zM39.4 -17.3h9.5v1.1h-9.5zM-15.9 -18.4h53.1v1.1h-53.1zM39.4 -18.4h11.9v1.1h-11.9zM-15.9 -19.4h53v1.1h-53zM39.3 -19.4h13v1.1h-13zM-15.9 -20.4h51.7v1.1h-51.7zM38.1 -20.4h15.4v1.1h-15.4zM-15.9 -21.4h51.6v1.1h-51.6zM38 -21.4h16.5v1.1h-16.5zM-15.8 -22.4h51.6v1.1h-51.6zM36.8 -22.4h18.8v1.1h-18.8zM-15.8 -23.4h50.3v1.1h-50.3zM36.7 -23.4h18.8v1.1h-18.8zM-15.8 -24.5h50.2v1.1h-50.2zM35.5 -24.5h19.9v1.1h-19.9zM-15.8 -25.5h49v1.1h-49zM35.4 -25.5h19.9v1.1h-19.9zM-14.6 -26.5h47.7v1.1h-47.7zM35.4 -26.5h18.7v1.1h-18.7zM-14.5 -27.5h47.6v1.1h-47.6zM34.1 -27.5h14v1.1h-14zM50.4 -27.5h2.4v1.1h-2.4zM56.2 -27.5h2.4v1.1h-2.4zM60.8 -27.5h2.4v1.1h-2.4zM-13.3 -28.5h45.2v1.1h-45.2zM34.1 -28.5h12.8v1.1h-12.8zM51.4 -28.5h15.2v1.1h-15.2zM-13.3 -29.5h45.1v1.1h-45.1zM32.8 -29.5h14v1.1h-14zM49 -29.5h16.3v1.1h-16.3zM-105.3 -30.5h1.3v1.1h-1.3zM-12.1 -30.5h57.7v1.1h-57.7zM47.7 -30.5h19.7v1.1h-19.7zM-105.1 -31.6h1.3v1.1h-1.3zM-11 -31.6h35.7v1.1h-35.7zM26.9 -31.6h18.5v1.1h-18.5zM46.4 -31.6h20.8v1.1h-20.8zM-105.9 -32.6h2.4v1.1h-2.4zM-9.8 -32.6h4.7v1.1h-4.7zM-1.8 -32.6h24.2v1.1h-24.2zM23.4 -32.6h1.3v1.1h-1.3zM26.8 -32.6h17.3v1.1h-17.3zM45.2 -32.6h21.9v1.1h-21.9zM-106.7 -33.6h2.4v1.1h-2.4zM-9.7 -33.6h2.4v1.1h-2.4zM-0.6 -33.6h1.3v1.1h-1.3zM1.7 -33.6h3.5v1.1h-3.5zM7.4 -33.6h60.6v1.1h-60.6zM-106.4 -34.6h3.5v1.1h-3.5zM8.5 -34.6h3.5v1.1h-3.5zM13 -34.6h2.4v1.1h-2.4zM17.6 -34.6h6.9v1.1h-6.9zM27.8 -34.6h1.3v1.1h-1.3zM30.1 -34.6h38.8v1.1h-38.8zM-106 -35.6h3.5v1.1h-3.5zM9.6 -35.6h1.3v1.1h-1.3zM17.5 -35.6h4.7v1.1h-4.7zM31.1 -35.6h37.5v1.1h-37.5zM69.7 -35.6h1.3v1.1h-1.3zM-106.8 -36.7h1.2v1.1h-1.2zM0.5 -36.7h1.2v1.1h-1.2zM9.6 -36.7h1.2v1.1h-1.2zM31 -36.7h2.4v1.1h-2.4zM34.4 -36.7h34v1.1h-34zM-106.4 -37.7h1.2v1.1h-1.2zM1.6 -37.7h1.2v1.1h-1.2zM8.4 -37.7h1.2v1.1h-1.2zM34.3 -37.7h33.9v1.1h-33.9zM73.7 -37.7h1.2v1.1h-1.2zM75.9 -37.7h2.4v1.1h-2.4zM80.4 -37.7h1.2v1.1h-1.2zM-108.2 -38.7h3.5v1.1h-3.5zM29.7 -38.7h1.2v1.1h-1.2zM34.1 -38.7h33.8v1.1h-33.8zM79 -38.7h1.2v1.1h-1.2zM85.7 -38.7h1.2v1.1h-1.2zM-107.8 -39.7h2.4v1.1h-2.4zM34 -39.7h32.5v1.1h-32.5zM87.6 -39.7h1.2v1.1h-1.2zM-107.4 -40.7h1.2v1.1h-1.2zM30.5 -40.7h1.2v1.1h-1.2zM38.3 -40.7h27.9v1.1h-27.9zM72.8 -40.7h6.8v1.1h-6.8zM81.7 -40.7h1.2v1.1h-1.2zM-95.8 -41.7h1.2v1.1h-1.2zM12.7 -41.7h1.2v1.1h-1.2zM40.4 -41.7h3.4v1.1h-3.4zM47 -41.7h18.9v1.1h-18.9zM73.6 -41.7h1.2v1.1h-1.2zM75.8 -41.7h2.3v1.1h-2.3zM80.2 -41.7h1.2v1.1h-1.2zM82.5 -41.7h1.2v1.1h-1.2zM88 -41.7h3.4v1.1h-3.4zM42.4 -42.7h1.2v1.1h-1.2zM46.8 -42.7h18.9v1.1h-18.9zM73.3 -42.7h2.3v1.1h-2.3zM76.6 -42.7h8.9v1.1h-8.9zM46.6 -43.7h18.8v1.1h-18.8zM74 -43.7h1.2v1.1h-1.2zM76.2 -43.7h10v1.1h-10zM-93.4 -44.8h1.2v1.1h-1.2zM48.5 -44.8h1.2v1.1h-1.2zM51.8 -44.8h12.1v1.1h-12.1zM76.9 -44.8h9.9v1.1h-9.9zM47.2 -45.8h2.3v1.1h-2.3zM51.6 -45.8h12.1v1.1h-12.1zM73.3 -45.8h1.2v1.1h-1.2zM75.5 -45.8h8.8v1.1h-8.8zM90.7 -45.8h1.2v1.1h-1.2zM53.4 -46.8h7.7v1.1h-7.7zM72.9 -46.8h1.2v1.1h-1.2zM75.1 -46.8h8.8v1.1h-8.8zM55.3 -47.8h4.4v1.1h-4.4zM61.8 -47.8h1.2v1.1h-1.2zM71.4 -47.8h10.9v1.1h-10.9zM53.9 -48.8h1.2v1.1h-1.2zM75.3 -48.8h7.6v1.1h-7.6zM71.7 -49.8h9.7v1.1h-9.7zM68.1 -50.8h1.2v1.1h-1.2zM70.2 -50.8h13.9v1.1h-13.9zM69.8 -51.8h14.8v1.1h-14.8zM67.3 -52.7h1.2v1.1h-1.2zM69.4 -52.7h13.7v1.1h-13.7zM70 -53.7h2.2v1.1h-2.2zM74.1 -53.7h7.4v1.1h-7.4zM71.6 -54.7h1.2v1.1h-1.2zM75.7 -54.7h2.2v1.1h-2.2zM77.2 -55.7h1.1v1.1h-1.1zM-87.5 -61.5h1.1v1.1h-1.1zM-86.8 -62.4h1.1v1.1h-1.1zM12.1 -62.4h1.1v1.1h-1.1zM-92.9 -64.3h1.1v1.1h-1.1zM8 -64.3h1.1v1.1h-1.1zM-109.1 -65.2h2v1h-2zM-84.5 -65.2h1.1v1h-1.1zM-103.4 -67h1v1h-1zM80.1 -67h2v1h-2zM86.6 -67h1v1h-1zM98.6 -67h2v1h-2zM102.3 -67h1v1h-1zM-103.3 -67.9h1v1h-1zM79.3 -67.9h2v1h-2zM96.8 -67.9h2.9v1h-2.9zM101.4 -67.9h2v1h-2zM117 -67.9h1v1h-1zM118.8 -67.9h1v1h-1zM-102.3 -68.8h1v1h-1zM75.9 -68.8h1v1h-1zM89.5 -68.8h1v1h-1zM96.8 -68.8h1.9v1h-1.9zM115.8 -68.8h1v1h-1zM-107.6 -69.7h1v1h-1zM-90.5 -69.7h1v1h-1zM74.2 -69.7h1v1h-1zM90.4 -69.7h1v1h-1zM94.9 -69.7h6.4v1h-6.4zM103 -69.7h1v1h-1zM105.7 -69.7h1v1h-1zM107.5 -69.7h1v1h-1zM115.6 -69.7h1.9v1h-1.9zM-103.9 -70.6h1v1h-1zM94.8 -70.6h1v1h-1zM96.6 -70.6h2.8v1h-2.8zM106.4 -70.6h1v1h-1zM114.4 -70.6h1v1h-1zM-104.5 -71.5h2.8v1h-2.8zM-101 -71.5h1.9v1h-1.9zM85.9 -71.5h1v1h-1zM87.7 -71.5h1v1h-1zM96.5 -71.5h2.8v1h-2.8zM100 -71.5h1v1h-1zM113.3 -71.5h1v1h-1zM-109.6 -72.3h1v1h-1zM-103.5 -72.3h6.2v1h-6.2zM85 -72.3h1.9v1h-1.9zM93.8 -72.3h3.6v1h-3.6zM104.2 -72.3h1v1h-1zM106.8 -72.3h1v1h-1zM-100.6 -73.2h1.8v1h-1.8zM-98 -73.2h1.8v1h-1.8zM-93.7 -73.2h2.7v1h-2.7zM82.4 -73.2h1v1h-1zM85 -73.2h1v1h-1zM93.6 -73.2h2.7v1h-2.7zM98.8 -73.2h3.6v1h-3.6zM105.7 -73.2h1v1h-1zM107.4 -73.2h1v1h-1zM-98.7 -74h1.8v1h-1.8zM92.6 -74h1v1h-1zM98.6 -74h1v1h-1zM107.1 -74h1.8v1h-1.8zM90.7 -74.9h1.8v1h-1.8zM95.7 -74.9h2.7v1h-2.7zM94.6 -75.7h2.6v0.9h-2.6zM98 -75.7h1v0.9h-1z"/><path fill="#326ee1" d="M-83.4 86.8h3.9v0.3h-3.9zM-79 86.8h3.3v0.3h-3.3zM-75.2 86.8h5.8v0.3h-5.8zM-68.8 86.8h3.9v0.3h-3.9zM-64.4 86.8h0.8v0.3h-0.8zM-83.8 86.5h4.6v0.4h-4.6zM-78.7 86.5h4.6v0.4h-4.6zM-73.5 86.5h9.1v0.4h-9.1zM-85.5 86.1h8.6v0.5h-8.6zM-76.4 86.1h11.2v0.5h-11.2zM-85.4 85.7h2.1v0.5h-2.1zM-82.8 85.7h10v0.5h-10zM-72.2 85.7h5.4v0.5h-5.4zM-88 85.3h8.8v0.6h-8.8zM-77.3 85.3h6.1v0.6h-6.1zM-70.6 85.3h3.5v0.6h-3.5zM-99.4 81.1h0.9v0.8h-0.9zM-109.3 80.3h0.9v0.8h-0.9zM-107.8 80.3h0.9v0.8h-0.9zM-99.5 80.3h0.9v0.8h-0.9zM-96.5 80.3h0.9v0.8h-0.9zM-39 80.3h0.9v0.8h-0.9zM-37.5 80.3h0.9v0.8h-0.9zM-30.7 80.3h0.9v0.8h-0.9zM-27.7 80.3h0.9v0.8h-0.9zM-25.4 80.3h2.4v0.8h-2.4zM-22.4 80.3h2.4v0.8h-2.4zM107 80.3h1.6v0.8h-1.6zM-99.5 79.6h2.4v0.9h-2.4zM-93.4 79.6h0.9v0.9h-0.9zM-39.6 79.6h1.7v0.9h-1.7zM-35.8 79.6h1.7v0.9h-1.7zM-33.5 79.6h0.9v0.9h-0.9zM-31.9 79.6h0.9v0.9h-0.9zM-29.6 79.6h0.9v0.9h-0.9zM-28.1 79.6h0.9v0.9h-0.9zM-25.8 79.6h0.9v0.9h-0.9zM-23.5 79.6h0.9v0.9h-0.9zM-21.9 79.6h1.7v0.9h-1.7zM-18.9 79.6h0.9v0.9h-0.9zM100.2 79.6h0.9v0.9h-0.9zM103.3 79.6h1.7v0.9h-1.7zM-94.8 78.8h0.9v0.9h-0.9zM-93.2 78.8h0.9v0.9h-0.9zM-90.9 78.8h0.9v0.9h-0.9zM-89.3 78.8h0.9v0.9h-0.9zM-92.3 78h0.9v0.9h-0.9zM-89.1 78h1.7v0.9h-1.7zM-86.7 78h0.9v0.9h-0.9zM-18.6 78h0.9v0.9h-0.9zM-17.1 78h1.7v0.9h-1.7zM104 78h0.9v0.9h-0.9zM-87.9 77.2h1.7v0.9h-1.7zM-84.7 77.2h0.9v0.9h-0.9zM-81.5 77.2h1.7v0.9h-1.7zM-78.3 77.2h1.7v0.9h-1.7zM-69.5 77.2h0.9v0.9h-0.9zM-42.2 77.2h0.9v0.9h-0.9zM-84.2 76.4h0.9v0.9h-0.9zM-72 76.4h0.9v0.9h-0.9zM-63.1 76.4h1.7v0.9h-1.7zM-60.7 76.4h0.9v0.9h-0.9zM-58.2 76.4h0.9v0.9h-0.9zM-56.6 76.4h0.9v0.9h-0.9zM-55 76.4h1.7v0.9h-1.7zM-41.9 76.4h0.9v0.9h-0.9zM-12.7 76.4h2.6v0.9h-2.6zM107.7 76.4h0.9v0.9h-0.9zM-65.6 75.6h0.9v0.9h-0.9zM-63.9 75.6h3.4v0.9h-3.4zM-59 75.6h0.9v0.9h-0.9zM-52.4 75.6h0.9v0.9h-0.9zM-49.9 75.6h0.9v0.9h-0.9zM-12.8 75.6h1.8v0.9h-1.8zM-9.5 75.6h0.9v0.9h-0.9zM110 75.6h1.8v0.9h-1.8zM-48 74.8h1v0.9h-1zM-42.2 74.8h1.8v0.9h-1.8zM-8 74.8h1v0.9h-1zM108.8 74.8h1v0.9h-1zM-48.6 73.9h1v1h-1zM-42.7 73.9h1v1h-1zM-4.7 73.9h1.8v1h-1.8zM-0.5 73.9h1v1h-1zM1.2 73.9h1v1h-1zM6.3 73.9h1.8v1h-1.8zM8.8 73.9h1v1h-1zM14.7 73.9h1v1h-1zM50.2 73.9h1v1h-1zM106.7 73.9h1v1h-1zM113.5 73.9h1v1h-1zM-48.3 73.1h1.8v1h-1.8zM-3 73.1h1.8v1h-1.8zM8.1 73.1h1v1h-1zM12.3 73.1h1v1h-1zM16.6 73.1h3.5v1h-3.5zM23.4 73.1h1.8v1h-1.8zM26 73.1h1v1h-1zM49 73.1h1.8v1h-1.8zM105.4 73.1h1v1h-1zM107.9 73.1h1v1h-1zM16.8 72.2h1.8v1h-1.8zM20.2 72.2h1v1h-1zM22.8 72.2h1v1h-1zM24.6 72.2h1v1h-1zM27.1 72.2h3.6v1h-3.6zM44.4 72.2h1v1h-1zM47 72.2h1.8v1h-1.8zM49.6 72.2h1v1h-1zM53.9 72.2h1.8v1h-1.8zM102.2 72.2h1v1h-1zM104 72.2h1.8v1h-1.8zM108.3 72.2h1v1h-1zM27.4 71.4h1.9v1h-1.9zM30.9 71.4h1v1h-1zM44.9 71.4h1v1h-1zM55.4 71.4h1.9v1h-1.9zM83.3 71.4h1v1h-1zM99 71.4h1.9v1h-1.9zM103.4 71.4h1v1h-1zM33.9 70.5h1.9v1h-1.9zM36.5 70.5h1v1h-1zM41.8 70.5h2.8v1h-2.8zM56.8 70.5h1v1h-1zM58.6 70.5h1v1h-1zM60.4 70.5h2.8v1h-2.8zM71.8 70.5h1v1h-1zM74.5 70.5h1v1h-1zM78.9 70.5h1.9v1h-1.9zM82.4 70.5h1.9v1h-1.9zM85 70.5h1v1h-1zM86.8 70.5h1v1h-1zM93 70.5h1v1h-1zM95.6 70.5h1.9v1h-1.9zM100 70.5h1.9v1h-1.9zM102.7 70.5h1v1h-1zM-45 69.6h1v1h-1zM36.9 69.6h1v1h-1zM62.8 69.6h1v1h-1zM66.3 69.6h1.9v1h-1.9zM70.8 69.6h1v1h-1zM74.3 69.6h2.8v1h-2.8zM80.6 69.6h1v1h-1zM85.9 69.6h1.9v1h-1.9zM89.5 69.6h1v1h-1zM94.8 69.6h1.9v1h-1.9zM98.4 69.6h1v1h-1zM-47.3 68.7h1v1h-1zM-58.6 57.5h2.1v1.1h-2.1zM-59.5 55.6h2.2v1.1h-2.2zM-56.5 55.6h1.1v1.1h-1.1zM-59.9 54.6h4.2v1.1h-4.2zM-59.3 53.6h3.2v1.1h-3.2zM-59.7 52.6h4.3v1.1h-4.3zM-60.1 51.7h4.3v1.1h-4.3zM-60.4 50.7h5.4v1.1h-5.4zM-60.8 49.7h4.3v1.1h-4.3zM-61.2 48.7h4.4v1.1h-4.4zM-61.5 47.7h5.5v1.1h-5.5zM-60.8 46.7h5.5v1.1h-5.5zM-61.1 45.7h5.5v1.1h-5.5zM-62.5 44.7h6.6v1.1h-6.6zM-62.8 43.6h7.8v1.1h-7.8zM-63.1 42.6h7.8v1.1h-7.8zM-63.4 41.6h7.8v1.1h-7.8zM128.4 41.6h1.2v1.1h-1.2zM-63.7 40.6h5.7v1.1h-5.7zM124.5 40.6h6.8v1.1h-6.8zM-64 39.6h3.5v1.1h-3.5zM124 39.6h10.1v1.1h-10.1zM-65.4 38.6h4.6v1.1h-4.6zM-58.7 38.6h1.2v1.1h-1.2zM125.6 38.6h3.5v1.1h-3.5zM130.1 38.6h1.2v1.1h-1.2zM132.3 38.6h2.4v1.1h-2.4zM-64.5 37.6h4.6v1.1h-4.6zM128.3 37.6h2.4v1.1h-2.4zM131.7 37.6h3.5v1.1h-3.5zM-65.9 36.6h6.9v1.1h-6.9zM102.9 36.6h2.4v1.1h-2.4zM128.8 36.6h6.9v1.1h-6.9zM-65 35.5h2.4v1.1h-2.4zM-61.6 35.5h2.4v1.1h-2.4zM24.2 35.5h1.2v1.1h-1.2zM103.3 35.5h1.2v1.1h-1.2zM105.6 35.5h2.4v1.1h-2.4zM109 35.5h1.2v1.1h-1.2zM129.3 35.5h6.9v1.1h-6.9zM-65.2 34.5h5.8v1.1h-5.8zM24.3 34.5h2.4v1.1h-2.4zM105.9 34.5h3.5v1.1h-3.5zM132 34.5h3.5v1.1h-3.5zM-63.2 33.5h4.7v1.1h-4.7zM24.4 33.5h3.5v1.1h-3.5zM105.2 33.5h3.5v1.1h-3.5zM131.3 33.5h4.7v1.1h-4.7zM138.1 33.5h1.3v1.1h-1.3zM-62.2 32.5h4.7v1.1h-4.7zM25.6 32.5h2.4v1.1h-2.4zM105.5 32.5h2.4v1.1h-2.4zM131.7 32.5h4.7v1.1h-4.7zM-63.6 31.5h5.8v1.1h-5.8zM26.8 31.5h2.4v1.1h-2.4zM105.8 31.5h1.3v1.1h-1.3zM131 31.5h5.8v1.1h-5.8zM-63.7 30.4h5.9v1.1h-5.9zM26.9 30.4h3.6v1.1h-3.6zM130.2 30.4h3.6v1.1h-3.6zM134.8 30.4h1.3v1.1h-1.3zM-62.8 29.4h5.9v1.1h-5.9zM27 29.4h3.6v1.1h-3.6zM129.4 29.4h5.9v1.1h-5.9zM-62.9 28.4h5.9v1.1h-5.9zM27.1 28.4h3.6v1.1h-3.6zM130.9 28.4h4.7v1.1h-4.7zM139 28.4h1.3v1.1h-1.3zM-61.9 27.4h4.7v1.1h-4.7zM28.3 27.4h2.4v1.1h-2.4zM127.7 27.4h7.1v1.1h-7.1zM-63.2 26.4h7.1v1.1h-7.1zM-44.7 26.4h1.3v1.1h-1.3zM28.3 26.4h2.4v1.1h-2.4zM39.9 26.4h3.6v1.1h-3.6zM128 26.4h7.1v1.1h-7.1zM-62.2 25.4h5.9v1.1h-5.9zM-44.8 25.4h3.6v1.1h-3.6zM28.4 25.4h4.8v1.1h-4.8zM40 25.4h3.6v1.1h-3.6zM127.1 25.4h8.2v1.1h-8.2zM-62.3 24.4h5.9v1.1h-5.9zM-44.8 24.4h4.8v1.1h-4.8zM28.5 24.4h4.8v1.1h-4.8zM40.1 24.4h4.8v1.1h-4.8zM127.3 24.4h4.8v1.1h-4.8zM133.2 24.4h1.3v1.1h-1.3zM-62.4 23.3h2.5v1.1h-2.5zM-58.9 23.3h1.3v1.1h-1.3zM-43.8 23.3h5.9v1.1h-5.9zM30.8 23.3h2.5v1.1h-2.5zM40.2 23.3h4.8v1.1h-4.8zM127.6 23.3h7.1v1.1h-7.1zM135.7 23.3h1.3v1.1h-1.3zM154.4 23.3h1.3v1.1h-1.3zM-62.5 22.3h6v1.1h-6zM-45 22.3h7.1v1.1h-7.1zM29.7 22.3h3.6v1.1h-3.6zM40.2 22.3h6v1.1h-6zM128.9 22.3h6v1.1h-6zM153.5 22.3h1.3v1.1h-1.3zM-62.6 21.3h4.8v1.1h-4.8zM-45.1 21.3h8.3v1.1h-8.3zM29.8 21.3h3.6v1.1h-3.6zM41.5 21.3h2.5v1.1h-2.5zM45 21.3h1.3v1.1h-1.3zM129.2 21.3h6v1.1h-6zM-66.2 20.3h3.6v1.1h-3.6zM-60.4 20.3h1.3v1.1h-1.3zM-45.1 20.3h8.3v1.1h-8.3zM29.8 20.3h4.8v1.1h-4.8zM41.5 20.3h4.8v1.1h-4.8zM130.5 20.3h4.8v1.1h-4.8zM136.4 20.3h1.3v1.1h-1.3zM-66.3 19.3h7.2v1.1h-7.2zM-52.2 19.3h1.3v1.1h-1.3zM-49.9 19.3h1.3v1.1h-1.3zM-45.2 19.3h8.3v1.1h-8.3zM29.9 19.3h4.8v1.1h-4.8zM40.4 19.3h2.5v1.1h-2.5zM43.9 19.3h1.3v1.1h-1.3zM129.6 19.3h8.3v1.1h-8.3zM-66.4 18.3h7.2v1.1h-7.2zM-51.2 18.3h1.3v1.1h-1.3zM-46.5 18.3h6v1.1h-6zM-39.4 18.3h3.6v1.1h-3.6zM29.9 18.3h7.2v1.1h-7.2zM40.5 18.3h4.8v1.1h-4.8zM128.6 18.3h9.5v1.1h-9.5zM-65.3 17.2h3.6v1.1h-3.6zM-47.7 17.2h11.9v1.1h-11.9zM27.6 17.2h10.7v1.1h-10.7zM41.7 17.2h3.6v1.1h-3.6zM132.3 17.2h4.8v1.1h-4.8zM-64.3 16.2h2.5v1.1h-2.5zM-45.4 16.2h9.5v1.1h-9.5zM26.5 16.2h1.3v1.1h-1.3zM28.8 16.2h9.5v1.1h-9.5zM43 16.2h2.5v1.1h-2.5zM132.5 16.2h4.8v1.1h-4.8zM-50.2 15.2h1.3v1.1h-1.3zM-45.5 15.2h9.6v1.1h-9.6zM26.5 15.2h11.9v1.1h-11.9zM44.2 15.2h1.3v1.1h-1.3zM132.7 15.2h4.8v1.1h-4.8zM-72.7 14.2h1.3v1.1h-1.3zM-43.2 14.2h7.2v1.1h-7.2zM13.5 14.2h2.5v1.1h-2.5zM17.1 14.2h2.5v1.1h-2.5zM25.3 14.2h10.7v1.1h-10.7zM37.2 14.2h1.3v1.1h-1.3zM44.2 14.2h1.3v1.1h-1.3zM128.1 14.2h1.3v1.1h-1.3zM132.8 14.2h3.7v1.1h-3.7zM-72.8 13.2h1.3v1.1h-1.3zM-44.4 13.2h8.4v1.1h-8.4zM12.4 13.2h8.4v1.1h-8.4zM23 13.2h15.5v1.1h-15.5zM125.9 13.2h3.7v1.1h-3.7zM134.1 13.2h2.5v1.1h-2.5zM-74 12.2h3.7v1.1h-3.7zM-46.8 12.2h1.3v1.1h-1.3zM-43.2 12.2h8.4v1.1h-8.4zM12.4 12.2h7.2v1.1h-7.2zM20.7 12.2h3.7v1.1h-3.7zM25.4 12.2h13.1v1.1h-13.1zM128.4 12.2h1.3v1.1h-1.3zM134.3 12.2h1.3v1.1h-1.3zM-74.1 11.1h3.7v1.1h-3.7zM-43.3 11.1h6v1.1h-6zM12.4 11.1h12v1.1h-12zM29 11.1h9.6v1.1h-9.6zM134.4 11.1h1.3v1.1h-1.3zM-74.1 10.1h3.7v1.1h-3.7zM-43.3 10.1h4.9v1.1h-4.9zM-37.4 10.1h3.7v1.1h-3.7zM12.4 10.1h10.8v1.1h-10.8zM29 10.1h9.6v1.1h-9.6zM113.2 10.1h1.3v1.1h-1.3zM116.7 10.1h2.5v1.1h-2.5zM-73 9.1h1.3v1.1h-1.3zM-43.4 9.1h4.9v1.1h-4.9zM-35.1 9.1h2.5v1.1h-2.5zM12.4 9.1h10.8v1.1h-10.8zM30.2 9.1h8.4v1.1h-8.4zM-73.1 8.1h1.3v1.1h-1.3zM-43.4 8.1h6.1v1.1h-6.1zM-35.1 8.1h1.3v1.1h-1.3zM11.2 8.1h7.2v1.1h-7.2zM19.5 8.1h2.5v1.1h-2.5zM30.2 8.1h7.2v1.1h-7.2zM-42.2 7.1h4.9v1.1h-4.9zM11.2 7.1h9.6v1.1h-9.6zM30.2 7.1h4.9v1.1h-4.9zM36.2 7.1h1.3v1.1h-1.3zM-73.2 6.1h1.3v1.1h-1.3zM-42.2 6.1h4.9v1.1h-4.9zM-36.3 6.1h1.3v1.1h-1.3zM-33.9 6.1h1.3v1.1h-1.3zM11.2 6.1h12v1.1h-12zM31.4 6.1h6.1v1.1h-6.1zM-42.3 5h8.4v1.1h-8.4zM11.2 5h9.6v1.1h-9.6zM32.7 5h4.9v1.1h-4.9zM-42.3 4h6.1v1.1h-6.1zM13.6 4h4.9v1.1h-4.9zM33.9 4h4.9v1.1h-4.9zM-39.9 3h2.5v1.1h-2.5zM12.4 3h1.3v1.1h-1.3zM33.9 3h4.9v1.1h-4.9zM36.3 2h2.5v1.1h-2.5zM37.5 1h2.5v1.1h-2.5zM37.5 0h3.7v1.1h-3.7zM35.1 -1.1h7.3v1.1h-7.3zM35.1 -2.1h8.5v1.1h-8.5zM35.1 -3.1h4.9v1.1h-4.9zM41 -3.1h3.7v1.1h-3.7zM35.1 -4.1h9.6v1.1h-9.6zM37.4 -5.1h8.4v1.1h-8.4zM37.4 -6.2h4.9v1.1h-4.9zM43.4 -6.2h3.7v1.1h-3.7zM39.8 -7.2h6.1v1.1h-6.1zM40.9 -8.2h7.2v1.1h-7.2zM40.9 -9.2h7.2v1.1h-7.2zM39.7 -10.2h8.4v1.1h-8.4zM39.7 -11.2h8.4v1.1h-8.4zM38.5 -12.3h7.2v1.1h-7.2zM46.7 -12.3h1.3v1.1h-1.3zM-3 -13.3h1.3v1.1h-1.3zM-0.6 -13.3h9.6v1.1h-9.6zM10 -13.3h1.3v1.1h-1.3zM13.6 -13.3h2.5v1.1h-2.5zM36 -13.3h4.9v1.1h-4.9zM-16 -14.3h7.2v1.1h-7.2zM-7.7 -14.3h30.9v1.1h-30.9zM26.6 -14.3h11.9v1.1h-11.9zM-16 -15.3h2.5v1.1h-2.5zM-12.5 -15.3h35.6v1.1h-35.6zM24.2 -15.3h1.3v1.1h-1.3zM26.5 -15.3h2.5v1.1h-2.5zM31.2 -15.3h6v1.1h-6zM-17.2 -16.3h6v1.1h-6zM-10.1 -16.3h13.1v1.1h-13.1zM6.4 -16.3h3.7v1.1h-3.7zM17.1 -16.3h17.8v1.1h-17.8zM-16 -17.3h6v1.1h-6zM-3 -17.3h1.3v1.1h-1.3zM18.2 -17.3h14.3v1.1h-14.3zM-62.8 -20.4h1.3v1.1h-1.3zM-145.9 -21.4h1.3v1.1h-1.3zM-103 -25.5h1.3v1.1h-1.3zM64.5 -25.5h1.3v1.1h-1.3zM-104 -26.5h2.4v1.1h-2.4zM-98.2 -26.5h1.3v1.1h-1.3zM63.2 -26.5h2.4v1.1h-2.4zM-103.8 -27.5h1.3v1.1h-1.3zM-98 -27.5h2.4v1.1h-2.4zM63.1 -27.5h3.6v1.1h-3.6zM-104.7 -28.5h2.4v1.1h-2.4zM-100.1 -28.5h4.7v1.1h-4.7zM-93.1 -28.5h1.3v1.1h-1.3zM66.4 -28.5h2.4v1.1h-2.4zM-105.6 -29.5h2.4v1.1h-2.4zM-102.2 -29.5h8.2v1.1h-8.2zM-92.9 -29.5h3.6v1.1h-3.6zM65.1 -29.5h4.7v1.1h-4.7zM-104.2 -30.5h1.3v1.1h-1.3zM-101.9 -30.5h9.3v1.1h-9.3zM67.3 -30.5h4.7v1.1h-4.7zM-102.8 -31.6h4.7v1.1h-4.7zM-97 -31.6h5.9v1.1h-5.9zM24.6 -31.6h2.4v1.1h-2.4zM67.1 -31.6h7v1.1h-7zM75.1 -31.6h4.7v1.1h-4.7zM-103.6 -32.6h11.6v1.1h-11.6zM-5.2 -32.6h3.6v1.1h-3.6zM22.3 -32.6h1.3v1.1h-1.3zM24.6 -32.6h2.4v1.1h-2.4zM66.9 -32.6h8.1v1.1h-8.1zM76.1 -32.6h3.6v1.1h-3.6zM-103.3 -33.6h11.5v1.1h-11.5zM-7.5 -33.6h7v1.1h-7zM0.5 -33.6h1.3v1.1h-1.3zM5.1 -33.6h2.4v1.1h-2.4zM67.8 -33.6h2.4v1.1h-2.4zM71.3 -33.6h10.4v1.1h-10.4zM-103 -34.6h11.5v1.1h-11.5zM-8.6 -34.6h17.2v1.1h-17.2zM11.9 -34.6h1.3v1.1h-1.3zM68.8 -34.6h2.4v1.1h-2.4zM72.2 -34.6h6.9v1.1h-6.9zM-102.6 -35.6h10.3v1.1h-10.3zM-8.6 -35.6h18.3v1.1h-18.3zM10.7 -35.6h3.5v1.1h-3.5zM68.5 -35.6h1.3v1.1h-1.3zM70.8 -35.6h1.3v1.1h-1.3zM73.1 -35.6h9.2v1.1h-9.2zM-105.7 -36.7h13.7v1.1h-13.7zM-88.7 -36.7h1.2v1.1h-1.2zM-7.4 -36.7h8v1.1h-8zM1.6 -36.7h8v1.1h-8zM33.3 -36.7h1.2v1.1h-1.2zM68.3 -36.7h5.8v1.1h-5.8zM75.1 -36.7h10.3v1.1h-10.3zM88.6 -36.7h1.2v1.1h-1.2zM90.9 -36.7h1.2v1.1h-1.2zM-108.7 -37.7h2.4v1.1h-2.4zM-105.3 -37.7h13.6v1.1h-13.6zM-6.2 -37.7h8v1.1h-8zM2.8 -37.7h5.7v1.1h-5.7zM32 -37.7h2.4v1.1h-2.4zM68 -37.7h5.7v1.1h-5.7zM74.8 -37.7h1.2v1.1h-1.2zM78.2 -37.7h2.4v1.1h-2.4zM81.5 -37.7h9.1v1.1h-9.1zM-109.4 -38.7h1.2v1.1h-1.2zM-104.9 -38.7h2.4v1.1h-2.4zM-101.5 -38.7h8v1.1h-8zM-92.5 -38.7h1.2v1.1h-1.2zM-6.2 -38.7h15.8v1.1h-15.8zM20.7 -38.7h2.4v1.1h-2.4zM31.9 -38.7h2.4v1.1h-2.4zM67.8 -38.7h11.3v1.1h-11.3zM80.1 -38.7h5.7v1.1h-5.7zM86.8 -38.7h4.6v1.1h-4.6zM-108.9 -39.7h1.2v1.1h-1.2zM-105.6 -39.7h3.5v1.1h-3.5zM-101.1 -39.7h1.2v1.1h-1.2zM-98.9 -39.7h4.6v1.1h-4.6zM-93.3 -39.7h1.2v1.1h-1.2zM0.5 -39.7h9.1v1.1h-9.1zM26.2 -39.7h4.6v1.1h-4.6zM31.8 -39.7h2.4v1.1h-2.4zM66.4 -39.7h21.3v1.1h-21.3zM88.7 -39.7h4.6v1.1h-4.6zM-109.6 -40.7h2.3v1.1h-2.3zM-106.3 -40.7h5.7v1.1h-5.7zM-99.6 -40.7h7.9v1.1h-7.9zM6.1 -40.7h3.5v1.1h-3.5zM11.6 -40.7h2.3v1.1h-2.3zM29.4 -40.7h1.2v1.1h-1.2zM32.8 -40.7h5.7v1.1h-5.7zM66.1 -40.7h6.8v1.1h-6.8zM79.5 -40.7h2.3v1.1h-2.3zM82.8 -40.7h10.1v1.1h-10.1zM-109.1 -41.7h5.7v1.1h-5.7zM-102.5 -41.7h6.8v1.1h-6.8zM-94.7 -41.7h1.2v1.1h-1.2zM-92.5 -41.7h3.4v1.1h-3.4zM-88.1 -41.7h2.3v1.1h-2.3zM-8.4 -41.7h1.2v1.1h-1.2zM11.6 -41.7h1.2v1.1h-1.2zM13.8 -41.7h1.2v1.1h-1.2zM29.3 -41.7h11.2v1.1h-11.2zM65.8 -41.7h7.9v1.1h-7.9zM74.7 -41.7h1.2v1.1h-1.2zM78 -41.7h2.3v1.1h-2.3zM81.3 -41.7h1.2v1.1h-1.2zM83.6 -41.7h4.5v1.1h-4.5zM91.3 -41.7h1.2v1.1h-1.2zM-109.7 -42.7h11.1v1.1h-11.1zM-97.6 -42.7h1.2v1.1h-1.2zM-95.4 -42.7h3.4v1.1h-3.4zM-91 -42.7h2.3v1.1h-2.3zM7.1 -42.7h1.2v1.1h-1.2zM29.2 -42.7h8.9v1.1h-8.9zM39.1 -42.7h3.4v1.1h-3.4zM65.5 -42.7h7.8v1.1h-7.8zM75.5 -42.7h1.2v1.1h-1.2zM85.4 -42.7h6.7v1.1h-6.7zM93.1 -42.7h2.3v1.1h-2.3zM-109.2 -43.7h21v1.1h-21zM29 -43.7h3.4v1.1h-3.4zM35.6 -43.7h7.8v1.1h-7.8zM65.2 -43.7h8.9v1.1h-8.9zM75.1 -43.7h1.2v1.1h-1.2zM86.1 -43.7h7.8v1.1h-7.8zM94.9 -43.7h1.2v1.1h-1.2zM-108.7 -44.8h8.9v1.1h-8.9zM-97.8 -44.8h4.5v1.1h-4.5zM-92.3 -44.8h1.2v1.1h-1.2zM-90.1 -44.8h2.3v1.1h-2.3zM26.7 -44.8h6.7v1.1h-6.7zM35.4 -44.8h7.8v1.1h-7.8zM45.3 -44.8h3.4v1.1h-3.4zM49.6 -44.8h2.3v1.1h-2.3zM63.8 -44.8h13.2v1.1h-13.2zM86.8 -44.8h8.9v1.1h-8.9zM109.7 -44.8h1.2v1.1h-1.2zM-108.1 -45.8h2.3v1.1h-2.3zM-104.9 -45.8h3.4v1.1h-3.4zM-99.5 -45.8h1.2v1.1h-1.2zM-97.3 -45.8h6.6v1.1h-6.6zM23.3 -45.8h1.2v1.1h-1.2zM28.7 -45.8h2.3v1.1h-2.3zM35.3 -45.8h6.6v1.1h-6.6zM45 -45.8h2.3v1.1h-2.3zM49.4 -45.8h2.3v1.1h-2.3zM63.5 -45.8h2.3v1.1h-2.3zM66.8 -45.8h6.6v1.1h-6.6zM74.4 -45.8h1.2v1.1h-1.2zM84.1 -45.8h6.6v1.1h-6.6zM91.7 -45.8h6.6v1.1h-6.6zM-107.6 -46.8h8.8v1.1h-8.8zM-93.5 -46.8h1.2v1.1h-1.2zM-7.1 -46.8h1.2v1.1h-1.2zM37.2 -46.8h4.4v1.1h-4.4zM43.7 -46.8h1.2v1.1h-1.2zM45.9 -46.8h7.7v1.1h-7.7zM61 -46.8h12v1.1h-12zM74 -46.8h1.2v1.1h-1.2zM83.7 -46.8h13.1v1.1h-13.1zM98.8 -46.8h1.2v1.1h-1.2zM105.3 -46.8h1.2v1.1h-1.2zM-107 -47.8h6.6v1.1h-6.6zM-99.5 -47.8h3.3v1.1h-3.3zM-94.1 -47.8h3.3v1.1h-3.3zM38.1 -47.8h3.3v1.1h-3.3zM43.5 -47.8h11.9v1.1h-11.9zM59.6 -47.8h2.3v1.1h-2.3zM62.8 -47.8h8.7v1.1h-8.7zM82.2 -47.8h14.1v1.1h-14.1zM-106.4 -48.8h10.8v1.1h-10.8zM43.2 -48.8h10.8v1.1h-10.8zM55 -48.8h20.4v1.1h-20.4zM82.8 -48.8h6.5v1.1h-6.5zM90.3 -48.8h5.5v1.1h-5.5zM114.9 -48.8h1.2v1.1h-1.2zM-105.8 -49.8h10.7v1.1h-10.7zM-86.7 -49.8h1.2v1.1h-1.2zM38.7 -49.8h1.2v1.1h-1.2zM45.1 -49.8h16.1v1.1h-16.1zM62.1 -49.8h9.7v1.1h-9.7zM81.3 -49.8h13.9v1.1h-13.9zM-105.2 -50.8h6.5v1.1h-6.5zM-97.8 -50.8h1.2v1.1h-1.2zM44.9 -50.8h2.2v1.1h-2.2zM48 -50.8h20.2v1.1h-20.2zM69.2 -50.8h1.2v1.1h-1.2zM84 -50.8h10.7v1.1h-10.7zM99.8 -50.8h1.2v1.1h-1.2zM106.1 -50.8h1.2v1.1h-1.2zM-104.6 -51.8h4.3v1.1h-4.3zM-92 -51.8h1.2v1.1h-1.2zM45.6 -51.8h1.2v1.1h-1.2zM63.5 -51.8h6.4v1.1h-6.4zM84.5 -51.8h11.7v1.1h-11.7zM-105 -52.7h3.3v1.1h-3.3zM42.2 -52.7h1.2v1.1h-1.2zM65.2 -52.7h2.2v1.1h-2.2zM68.3 -52.7h1.2v1.1h-1.2zM82.9 -52.7h11.6v1.1h-11.6zM-104.3 -53.7h1.2v1.1h-1.2zM46.1 -53.7h1.2v1.1h-1.2zM65.8 -53.7h4.3v1.1h-4.3zM72 -53.7h2.2v1.1h-2.2zM81.4 -53.7h6.3v1.1h-6.3zM88.6 -53.7h10.5v1.1h-10.5zM-105.7 -54.7h1.2v1.1h-1.2zM-90.2 -54.7h1.2v1.1h-1.2zM66.4 -54.7h5.3v1.1h-5.3zM72.6 -54.7h3.2v1.1h-3.2zM77.8 -54.7h9.4v1.1h-9.4zM89.1 -54.7h9.4v1.1h-9.4zM-105 -55.7h1.1v1.1h-1.1zM68 -55.7h1.1v1.1h-1.1zM70.1 -55.7h7.3v1.1h-7.3zM78.2 -55.7h4.2v1.1h-4.2zM89.5 -55.7h5.2v1.1h-5.2zM95.6 -55.7h3.2v1.1h-3.2zM76.7 -56.7h1.1v1.1h-1.1zM88.9 -56.7h4.2v1.1h-4.2zM94 -56.7h2.2v1.1h-2.2zM97 -56.7h1.1v1.1h-1.1zM-107.5 -57.6h2.1v1.1h-2.1zM-93.4 -57.6h2.1v1.1h-2.1zM-106.7 -58.6h1.1v1.1h-1.1zM-93.7 -58.6h5.1v1.1h-5.1zM-104.9 -59.6h1.1v1.1h-1.1zM-93.9 -59.6h3.1v1.1h-3.1zM-90 -59.6h1.1v1.1h-1.1zM-105 -60.5h1.1v1.1h-1.1zM-93.2 -60.5h1.1v1.1h-1.1zM-90.2 -60.5h1.1v1.1h-1.1zM-88.2 -60.5h1.1v1.1h-1.1zM-94.4 -61.5h1.1v1.1h-1.1zM-92.4 -61.5h1.1v1.1h-1.1zM-90.5 -61.5h3.1v1.1h-3.1zM-86.5 -61.5h1.1v1.1h-1.1zM-105.2 -62.4h1.1v1.1h-1.1zM-95.5 -62.4h4v1.1h-4zM-88.7 -62.4h2.1v1.1h-2.1zM-85.8 -62.4h2.1v1.1h-2.1zM9.2 -62.4h1.1v1.1h-1.1zM11.1 -62.4h1.1v1.1h-1.1zM-106.2 -63.3h2v1.1h-2zM-93.7 -63.3h3v1.1h-3zM-88.9 -63.3h5.9v1.1h-5.9zM8.1 -63.3h2v1.1h-2zM11 -63.3h2v1.1h-2zM17.7 -63.3h1.1v1.1h-1.1zM85 -63.3h2v1.1h-2zM-110.1 -64.3h4.9v1.1h-4.9zM-104.4 -64.3h1.1v1.1h-1.1zM-96.7 -64.3h3.9v1.1h-3.9zM-92 -64.3h2v1.1h-2zM-88.2 -64.3h4.9v1.1h-4.9zM7.1 -64.3h1.1v1.1h-1.1zM9 -64.3h4.9v1.1h-4.9zM17.6 -64.3h2v1.1h-2zM27.1 -64.3h1.1v1.1h-1.1zM81.4 -64.3h4.9v1.1h-4.9zM90 -64.3h1.1v1.1h-1.1zM-113.8 -65.2h4.8v1h-4.8zM-107.2 -65.2h7.7v1h-7.7zM-98.7 -65.2h8.6v1h-8.6zM-87.4 -65.2h3v1h-3zM8 -65.2h3v1h-3zM15.5 -65.2h1.1v1h-1.1zM17.4 -65.2h2v1h-2zM78.8 -65.2h4.8v1h-4.8zM84.4 -65.2h5.8v1h-5.8zM91 -65.2h1.1v1h-1.1zM103.3 -65.2h1.1v1h-1.1zM123.1 -65.2h1.1v1h-1.1zM-112.8 -66.1h6.7v1h-6.7zM-104.3 -66.1h4.8v1h-4.8zM-98.7 -66.1h1.1v1h-1.1zM-96.9 -66.1h2v1h-2zM-92.2 -66.1h1.1v1h-1.1zM-86.6 -66.1h2v1h-2zM18.2 -66.1h1.1v1h-1.1zM77.1 -66.1h8.5v1h-8.5zM86.5 -66.1h2.9v1h-2.9zM90.2 -66.1h2v1h-2zM94 -66.1h2v1h-2zM100.5 -66.1h1.1v1h-1.1zM102.4 -66.1h1.1v1h-1.1zM115.5 -66.1h1.1v1h-1.1zM119.2 -66.1h2v1h-2zM-111.7 -67h8.5v1h-8.5zM-102.4 -67h1v1h-1zM-100.6 -67h1v1h-1zM-96.9 -67h3.8v1h-3.8zM-92.3 -67h2v1h-2zM-88.5 -67h2v1h-2zM-85.8 -67h2v1h-2zM9.7 -67h1v1h-1zM17.1 -67h1v1h-1zM70.8 -67h1v1h-1zM75.5 -67h4.8v1h-4.8zM82 -67h4.8v1h-4.8zM89.4 -67h1v1h-1zM93.1 -67h3.8v1h-3.8zM100.5 -67h2v1h-2zM103.3 -67h1v1h-1zM105.1 -67h2v1h-2zM107.9 -67h1v1h-1zM113.5 -67h1v1h-1zM118.1 -67h1v1h-1zM120 -67h1v1h-1zM-109.7 -67.9h2v1h-2zM-107 -67.9h2v1h-2zM-102.4 -67.9h3.8v1h-3.8zM-97.8 -67.9h2v1h-2zM-95.1 -67.9h4.7v1h-4.7zM-89.5 -67.9h2.9v1h-2.9zM-85 -67.9h2v1h-2zM8.7 -67.9h2v1h-2zM16 -67.9h2v1h-2zM70.2 -67.9h1v1h-1zM74.8 -67.9h4.7v1h-4.7zM81.2 -67.9h5.6v1h-5.6zM88.5 -67.9h1v1h-1zM91.3 -67.9h2.9v1h-2.9zM95.9 -67.9h1v1h-1zM99.5 -67.9h2v1h-2zM105 -67.9h1v1h-1zM112.4 -67.9h1v1h-1zM117.9 -67.9h1v1h-1zM119.7 -67.9h1v1h-1zM-110.5 -68.8h5.6v1h-5.6zM-101.4 -68.8h1v1h-1zM-97.8 -68.8h1v1h-1zM-91.4 -68.8h4.7v1h-4.7zM-84.1 -68.8h1v1h-1zM8.6 -68.8h2.8v1h-2.8zM16.8 -68.8h1v1h-1zM73.1 -68.8h2.8v1h-2.8zM76.8 -68.8h3.8v1h-3.8zM82.2 -68.8h7.4v1h-7.4zM90.4 -68.8h6.5v1h-6.5zM98.6 -68.8h6.5v1h-6.5zM105.8 -68.8h3.8v1h-3.8zM112.2 -68.8h1.9v1h-1.9zM114.9 -68.8h1v1h-1zM116.8 -68.8h1.9v1h-1.9zM-109.4 -69.7h1.9v1h-1.9zM-106.7 -69.7h1.9v1h-1.9zM-103.1 -69.7h1.9v1h-1.9zM-89.6 -69.7h4.6v1h-4.6zM-84.2 -69.7h1v1h-1zM9.4 -69.7h1.9v1h-1.9zM14.8 -69.7h1.9v1h-1.9zM72.4 -69.7h1.9v1h-1.9zM75.1 -69.7h1v1h-1zM81.4 -69.7h1v1h-1zM84.1 -69.7h6.4v1h-6.4zM91.3 -69.7h3.7v1h-3.7zM101.2 -69.7h1v1h-1zM103.9 -69.7h1.9v1h-1.9zM106.6 -69.7h1v1h-1zM111.1 -69.7h1.9v1h-1.9zM113.8 -69.7h1.9v1h-1.9zM117.4 -69.7h1v1h-1zM-118.1 -70.6h1v1h-1zM-112.8 -70.6h3.7v1h-3.7zM-107.4 -70.6h3.7v1h-3.7zM-103 -70.6h2.8v1h-2.8zM-99.4 -70.6h1v1h-1zM-97.6 -70.6h3.7v1h-3.7zM-90.5 -70.6h1.9v1h-1.9zM-86.9 -70.6h2.8v1h-2.8zM10.2 -70.6h1.9v1h-1.9zM15.5 -70.6h1.9v1h-1.9zM71.7 -70.6h4.6v1h-4.6zM77.9 -70.6h1.9v1h-1.9zM80.6 -70.6h1v1h-1zM85 -70.6h1.9v1h-1.9zM87.7 -70.6h7.2v1h-7.2zM95.7 -70.6h1v1h-1zM99.3 -70.6h7.2v1h-7.2zM107.3 -70.6h3.7v1h-3.7zM112.7 -70.6h1.9v1h-1.9zM115.3 -70.6h1.9v1h-1.9zM-112.5 -71.5h4.5v1h-4.5zM-107.2 -71.5h2.8v1h-2.8zM-101.9 -71.5h1v1h-1zM-99.3 -71.5h4.5v1h-4.5zM-94 -71.5h1v1h-1zM-92.2 -71.5h1v1h-1zM12.7 -71.5h1v1h-1zM15.4 -71.5h1.9v1h-1.9zM72.7 -71.5h3.6v1h-3.6zM77.1 -71.5h1.9v1h-1.9zM82.4 -71.5h1.9v1h-1.9zM85 -71.5h1v1h-1zM86.8 -71.5h1v1h-1zM88.6 -71.5h8.1v1h-8.1zM99.2 -71.5h1v1h-1zM100.9 -71.5h1.9v1h-1.9zM103.6 -71.5h4.5v1h-4.5zM110.6 -71.5h1.9v1h-1.9zM115 -71.5h1v1h-1zM-111.3 -72.3h1.9v1h-1.9zM-107.8 -72.3h3.6v1h-3.6zM-97.3 -72.3h6.2v1h-6.2zM10 -72.3h1v1h-1zM81.5 -72.3h3.6v1h-3.6zM86.8 -72.3h4.5v1h-4.5zM92 -72.3h1v1h-1zM97.2 -72.3h7.1v1h-7.1zM105.1 -72.3h1.9v1h-1.9zM107.7 -72.3h5.4v1h-5.4zM113.8 -72.3h2.7v1h-2.7zM-110.1 -73.2h5.3v1h-5.3zM-102.3 -73.2h1.8v1h-1.8zM-98.9 -73.2h1v1h-1zM-96.3 -73.2h2.7v1h-2.7zM-91.1 -73.2h1v1h-1zM-19.5 -73.2h1v1h-1zM15.9 -73.2h1v1h-1zM78.9 -73.2h3.6v1h-3.6zM84.1 -73.2h1v1h-1zM85.8 -73.2h7.9v1h-7.9zM96.2 -73.2h1.8v1h-1.8zM102.2 -73.2h3.6v1h-3.6zM106.6 -73.2h1v1h-1zM108.3 -73.2h1v1h-1zM110.9 -73.2h1.8v1h-1.8zM113.5 -73.2h1v1h-1zM115.2 -73.2h1v1h-1zM-108.9 -74h1v1h-1zM-107.2 -74h1.8v1h-1.8zM-99.5 -74h1v1h-1zM-90.1 -74h1v1h-1zM79.8 -74h1.8v1h-1.8zM84.9 -74h2.7v1h-2.7zM89.2 -74h3.5v1h-3.5zM93.4 -74h3.5v1h-3.5zM97.7 -74h1v1h-1zM99.4 -74h1v1h-1zM101.1 -74h6.1v1h-6.1zM113.9 -74h1v1h-1zM-106 -74.9h2.7v1h-2.7zM79.7 -74.9h2.7v1h-2.7zM83.1 -74.9h1.8v1h-1.8zM89 -74.9h1.8v1h-1.8zM93.2 -74.9h2.7v1h-2.7zM98.3 -74.9h7.7v1h-7.7zM79.6 -75.7h1.8v0.9h-1.8zM82.9 -75.7h1v0.9h-1zM93 -75.7h1.8v0.9h-1.8zM97.1 -75.7h1v0.9h-1zM98.8 -75.7h1v0.9h-1zM81.9 -76.5h1.8v0.9h-1.8zM91.9 -78.1h0.9v0.9h-0.9z"/><path fill="#1eb4f0" d="M-79.6 86.8h0.8v0.3h-0.8zM-75.8 86.8h0.8v0.3h-0.8zM-79.3 86.5h0.8v0.4h-0.8zM-74.2 86.5h0.8v0.4h-0.8zM-86.1 85.7h0.8v0.5h-0.8zM-83.4 85.7h0.8v0.5h-0.8zM-67 85.7h0.8v0.5h-0.8zM-77.9 85.3h0.8v0.6h-0.8zM-71.2 85.3h0.8v0.6h-0.8zM-28.4 80.3h0.9v0.8h-0.9zM-31.2 79.6h0.9v0.9h-0.9zM101.7 79.6h0.9v0.9h-0.9zM-79.4 76.4h0.9v0.9h-0.9zM-64.7 76.4h0.9v0.9h-0.9zM-51.7 76.4h0.9v0.9h-0.9zM-7.2 73.9h1v1h-1zM0.4 73.9h1v1h-1zM18.5 72.2h1v1h-1zM106.6 72.2h1v1h-1zM77.1 70.5h1v1h-1zM64.5 69.6h1v1h-1zM-56.2 58.5h1.1v1.1h-1.1zM-56.6 57.5h1.1v1.1h-1.1zM-30.6 57.5h2.1v1.1h-2.1zM-60.1 56.6h5.2v1.1h-5.2zM-60.5 55.6h1.1v1.1h-1.1zM-57.5 55.6h1.1v1.1h-1.1zM-49.3 55.6h1.1v1.1h-1.1zM-62 54.6h2.2v1.1h-2.2zM-49.7 54.6h2.2v1.1h-2.2zM-62.4 53.6h3.2v1.1h-3.2zM-62.8 52.6h3.2v1.1h-3.2zM56.5 52.6h2.2v1.1h-2.2zM-63.2 51.7h3.3v1.1h-3.3zM-63.6 50.7h3.3v1.1h-3.3zM-64 49.7h3.3v1.1h-3.3zM-63.3 48.7h2.2v1.1h-2.2zM141.8 48.7h1.2v1.1h-1.2zM-63.6 47.7h2.3v1.1h-2.3zM-64 46.7h3.3v1.1h-3.3zM-64.3 45.7h3.4v1.1h-3.4zM125.8 45.7h1.2v1.1h-1.2zM-64.7 44.7h2.3v1.1h-2.3zM-63.9 43.6h1.2v1.1h-1.2zM126.1 43.6h3.4v1.1h-3.4zM-65.3 42.6h2.3v1.1h-2.3zM-55.5 42.6h1.2v1.1h-1.2zM154.1 42.6h1.2v1.1h-1.2zM-65.6 41.6h2.3v1.1h-2.3zM-55.7 41.6h3.4v1.1h-3.4zM-65.9 40.6h2.3v1.1h-2.3zM-58.2 40.6h5.7v1.1h-5.7zM-60.7 39.6h7.9v1.1h-7.9zM-60.9 38.6h2.4v1.1h-2.4zM-57.6 38.6h2.4v1.1h-2.4zM-54.2 38.6h1.2v1.1h-1.2zM128.9 38.6h1.2v1.1h-1.2zM131.2 38.6h1.2v1.1h-1.2zM154.6 38.6h1.2v1.1h-1.2zM-65.6 37.6h1.2v1.1h-1.2zM-60 37.6h6.8v1.1h-6.8zM-59.1 36.6h4.6v1.1h-4.6zM105.2 36.6h2.4v1.1h-2.4zM135.6 36.6h1.2v1.1h-1.2zM-59.4 35.5h4.6v1.1h-4.6zM104.4 35.5h1.2v1.1h-1.2zM136.1 35.5h1.2v1.1h-1.2zM-59.6 34.5h3.5v1.1h-3.5zM104.8 34.5h1.3v1.1h-1.3zM135.4 34.5h3.5v1.1h-3.5zM-58.6 33.5h3.5v1.1h-3.5zM-49.5 33.5h1.3v1.1h-1.3zM135.9 33.5h2.4v1.1h-2.4zM-57.7 32.5h1.3v1.1h-1.3zM136.3 32.5h3.5v1.1h-3.5zM-57.8 31.5h2.4v1.1h-2.4zM-53.3 31.5h1.3v1.1h-1.3zM136.7 31.5h3.6v1.1h-3.6zM-58 30.4h2.4v1.1h-2.4zM133.7 30.4h1.3v1.1h-1.3zM136 30.4h5.9v1.1h-5.9zM-57 29.4h2.4v1.1h-2.4zM135.2 29.4h7v1.1h-7zM-57.2 28.4h1.3v1.1h-1.3zM135.5 28.4h3.6v1.1h-3.6zM140.1 28.4h1.3v1.1h-1.3zM-57.3 27.4h2.4v1.1h-2.4zM134.7 27.4h7.1v1.1h-7.1zM-56.3 26.4h2.4v1.1h-2.4zM135 26.4h5.9v1.1h-5.9zM-56.4 25.4h3.6v1.1h-3.6zM-45.9 25.4h1.3v1.1h-1.3zM43.5 25.4h1.3v1.1h-1.3zM135.2 25.4h2.4v1.1h-2.4zM138.7 25.4h2.4v1.1h-2.4zM-56.5 24.4h3.6v1.1h-3.6zM-46 24.4h1.3v1.1h-1.3zM134.3 24.4h5.9v1.1h-5.9zM-60.1 23.3h1.3v1.1h-1.3zM-57.7 23.3h7.1v1.1h-7.1zM-48.4 23.3h4.8v1.1h-4.8zM134.6 23.3h1.3v1.1h-1.3zM136.9 23.3h3.6v1.1h-3.6zM-56.7 22.3h11.8v1.1h-11.8zM134.8 22.3h4.8v1.1h-4.8zM-57.9 21.3h6v1.1h-6zM-50.9 21.3h6v1.1h-6zM43.8 21.3h1.3v1.1h-1.3zM135 21.3h4.8v1.1h-4.8zM-61.5 20.3h1.3v1.1h-1.3zM-59.2 20.3h6v1.1h-6zM-52.2 20.3h7.1v1.1h-7.1zM135.2 20.3h1.3v1.1h-1.3zM137.6 20.3h1.3v1.1h-1.3zM-59.3 19.3h7.2v1.1h-7.2zM-51.1 19.3h1.3v1.1h-1.3zM-48.7 19.3h3.6v1.1h-3.6zM42.8 19.3h1.3v1.1h-1.3zM45.1 19.3h1.3v1.1h-1.3zM-67.6 18.3h1.3v1.1h-1.3zM-59.4 18.3h8.3v1.1h-8.3zM-50 18.3h3.6v1.1h-3.6zM45.2 18.3h2.5v1.1h-2.5zM166.2 18.3h1.3v1.1h-1.3zM-67.7 17.2h2.5v1.1h-2.5zM-61.8 17.2h2.5v1.1h-2.5zM-58.3 17.2h10.7v1.1h-10.7zM45.2 17.2h2.5v1.1h-2.5zM157 17.2h1.3v1.1h-1.3zM-67.8 16.2h3.7v1.1h-3.7zM-61.9 16.2h16.6v1.1h-16.6zM45.3 16.2h2.5v1.1h-2.5zM-71.4 15.2h1.3v1.1h-1.3zM-66.7 15.2h16.6v1.1h-16.6zM-49 15.2h3.7v1.1h-3.7zM45.4 15.2h2.5v1.1h-2.5zM-71.5 14.2h1.3v1.1h-1.3zM-68 14.2h1.3v1.1h-1.3zM-65.6 14.2h4.8v1.1h-4.8zM-58.5 14.2h15.5v1.1h-15.5zM45.4 14.2h2.5v1.1h-2.5zM-71.6 13.2h2.5v1.1h-2.5zM-63.3 13.2h1.3v1.1h-1.3zM-56.2 13.2h1.3v1.1h-1.3zM-53.8 13.2h2.5v1.1h-2.5zM-50.3 13.2h6v1.1h-6zM45.5 13.2h1.3v1.1h-1.3zM-70.5 12.2h2.5v1.1h-2.5zM-56.3 12.2h1.3v1.1h-1.3zM-50.4 12.2h3.7v1.1h-3.7zM-45.6 12.2h2.5v1.1h-2.5zM19.5 12.2h1.3v1.1h-1.3zM24.2 12.2h1.3v1.1h-1.3zM-48 11.1h4.9v1.1h-4.9zM24.2 11.1h4.9v1.1h-4.9zM-70.6 10.1h1.3v1.1h-1.3zM-64.7 10.1h1.3v1.1h-1.3zM-46.9 10.1h3.7v1.1h-3.7zM23.1 10.1h3.7v1.1h-3.7zM27.8 10.1h1.3v1.1h-1.3zM140.4 10.1h2.5v1.1h-2.5zM-75.4 9.1h2.5v1.1h-2.5zM-71.8 9.1h2.5v1.1h-2.5zM-48.1 9.1h4.9v1.1h-4.9zM23.1 9.1h7.2v1.1h-7.2zM108.5 9.1h1.3v1.1h-1.3zM112.1 9.1h4.9v1.1h-4.9zM118 9.1h2.5v1.1h-2.5zM150 9.1h1.3v1.1h-1.3zM-75.4 8.1h2.5v1.1h-2.5zM-71.9 8.1h2.5v1.1h-2.5zM-61.2 8.1h2.5v1.1h-2.5zM-46.9 8.1h3.7v1.1h-3.7zM21.9 8.1h8.4v1.1h-8.4zM105 8.1h1.3v1.1h-1.3zM107.4 8.1h4.9v1.1h-4.9zM149 8.1h1.3v1.1h-1.3zM-75.5 7.1h6.1v1.1h-6.1zM-62.4 7.1h1.3v1.1h-1.3zM-45.8 7.1h1.3v1.1h-1.3zM-43.4 7.1h1.3v1.1h-1.3zM20.7 7.1h9.6v1.1h-9.6zM35 7.1h1.3v1.1h-1.3zM105.1 7.1h1.3v1.1h-1.3zM147.9 7.1h1.3v1.1h-1.3zM-75.5 6.1h2.5v1.1h-2.5zM-72 6.1h1.3v1.1h-1.3zM-56.5 6.1h1.3v1.1h-1.3zM-45.8 6.1h3.7v1.1h-3.7zM23.1 6.1h2.5v1.1h-2.5zM26.7 6.1h4.9v1.1h-4.9zM146.7 6.1h1.3v1.1h-1.3zM-74.4 5h3.7v1.1h-3.7zM-44.6 5h2.5v1.1h-2.5zM20.8 5h12v1.1h-12zM113.5 5h1.3v1.1h-1.3zM115.9 5h1.3v1.1h-1.3zM-74.4 4h2.5v1.1h-2.5zM-43.5 4h1.3v1.1h-1.3zM10.1 4h3.7v1.1h-3.7zM18.4 4h7.3v1.1h-7.3zM26.7 4h7.3v1.1h-7.3zM114.8 4h2.5v1.1h-2.5zM-72.1 3h1.3v1.1h-1.3zM-45.9 3h6.1v1.1h-6.1zM10.1 3h2.5v1.1h-2.5zM13.6 3h7.3v1.1h-7.3zM27.9 3h6.1v1.1h-6.1zM-74.5 2h1.3v1.1h-1.3zM-45.9 2h6.1v1.1h-6.1zM12.4 2h6.1v1.1h-6.1zM30.3 2h1.3v1.1h-1.3zM32.7 2h3.7v1.1h-3.7zM-44.7 1h2.5v1.1h-2.5zM19.6 1h1.3v1.1h-1.3zM30.3 1h3.7v1.1h-3.7zM35.1 1h2.5v1.1h-2.5zM14.8 0h1.3v1.1h-1.3zM31.5 0h6.1v1.1h-6.1zM31.5 -1.1h3.7v1.1h-3.7zM32.7 -2.1h2.5v1.1h-2.5zM-55.4 -3.1h1.3v1.1h-1.3zM32.7 -3.1h2.5v1.1h-2.5zM-55.4 -4.1h1.3v1.1h-1.3zM-51.8 -4.1h1.3v1.1h-1.3zM32.7 -4.1h2.5v1.1h-2.5zM32.7 -5.1h4.9v1.1h-4.9zM29.1 -6.2h1.3v1.1h-1.3zM32.7 -6.2h4.9v1.1h-4.9zM108.8 -6.2h1.3v1.1h-1.3zM-52.9 -7.2h1.3v1.1h-1.3zM2.9 -7.2h1.3v1.1h-1.3zM7.7 -7.2h1.3v1.1h-1.3zM32.6 -7.2h7.3v1.1h-7.3zM-1.8 -8.2h1.3v1.1h-1.3zM35 -8.2h6.1v1.1h-6.1zM-0.6 -9.2h1.3v1.1h-1.3zM11.2 -9.2h1.3v1.1h-1.3zM23.1 -9.2h1.3v1.1h-1.3zM36.2 -9.2h4.9v1.1h-4.9zM75.3 -9.2h1.3v1.1h-1.3zM119.3 -9.2h1.3v1.1h-1.3zM-64.7 -10.2h1.3v1.1h-1.3zM-3 -10.2h6.1v1.1h-6.1zM5.3 -10.2h1.3v1.1h-1.3zM7.7 -10.2h2.5v1.1h-2.5zM16 -10.2h1.3v1.1h-1.3zM19.5 -10.2h4.9v1.1h-4.9zM36.1 -10.2h3.7v1.1h-3.7zM119.2 -10.2h1.3v1.1h-1.3zM-65.9 -11.2h2.5v1.1h-2.5zM-7.8 -11.2h1.3v1.1h-1.3zM-5.4 -11.2h33.3v1.1h-33.3zM36.1 -11.2h3.7v1.1h-3.7zM74 -11.2h1.3v1.1h-1.3zM-14.9 -12.3h2.5v1.1h-2.5zM-6.6 -12.3h45.1v1.1h-45.1zM-16 -13.3h13.1v1.1h-13.1zM-1.8 -13.3h1.3v1.1h-1.3zM8.8 -13.3h1.3v1.1h-1.3zM11.2 -13.3h2.5v1.1h-2.5zM15.9 -13.3h20.2v1.1h-20.2zM100 -13.3h1.3v1.1h-1.3zM-8.9 -14.3h1.3v1.1h-1.3zM23 -14.3h3.7v1.1h-3.7zM-13.6 -15.3h1.3v1.1h-1.3zM25.3 -15.3h1.3v1.1h-1.3zM28.9 -15.3h2.5v1.1h-2.5zM91.4 -16.3h1.3v1.1h-1.3zM97.3 -16.3h1.3v1.1h-1.3zM68.8 -18.4h1.3v1.1h-1.3zM112.3 -18.4h2.5v1.1h-2.5zM95.7 -19.4h2.5v1.1h-2.5zM112.1 -19.4h2.5v1.1h-2.5zM-91 -20.4h1.3v1.1h-1.3zM-68.7 -20.4h4.8v1.1h-4.8zM68.6 -20.4h1.3v1.1h-1.3zM-99 -21.4h1.3v1.1h-1.3zM87.2 -21.4h1.3v1.1h-1.3zM-98.9 -22.4h2.5v1.1h-2.5zM87.1 -22.4h2.5v1.1h-2.5zM-98.7 -23.4h4.8v1.1h-4.8zM-83.5 -23.4h2.5v1.1h-2.5zM64.7 -23.4h1.3v1.1h-1.3zM-98.5 -24.5h7.1v1.1h-7.1zM-78.7 -24.5h5.9v1.1h-5.9zM64.6 -24.5h2.5v1.1h-2.5zM94.9 -24.5h1.3v1.1h-1.3zM-99.5 -25.5h9.4v1.1h-9.4zM-77.4 -25.5h1.3v1.1h-1.3zM65.7 -25.5h2.4v1.1h-2.4zM85.5 -25.5h1.3v1.1h-1.3zM-100.5 -26.5h2.4v1.1h-2.4zM-97 -26.5h7.1v1.1h-7.1zM65.6 -26.5h3.6v1.1h-3.6zM-100.3 -27.5h2.4v1.1h-2.4zM-95.7 -27.5h5.9v1.1h-5.9zM66.6 -27.5h3.6v1.1h-3.6zM-101.2 -28.5h1.3v1.1h-1.3zM-95.5 -28.5h2.4v1.1h-2.4zM-92 -28.5h2.4v1.1h-2.4zM68.8 -28.5h3.6v1.1h-3.6zM78 -28.5h1.3v1.1h-1.3zM-94.1 -29.5h1.3v1.1h-1.3zM-76.8 -29.5h1.3v1.1h-1.3zM69.7 -29.5h10.5v1.1h-10.5zM-92.7 -30.5h3.6v1.1h-3.6zM-76.6 -30.5h1.3v1.1h-1.3zM71.9 -30.5h10.5v1.1h-10.5zM-98.2 -31.6h1.3v1.1h-1.3zM-91.3 -31.6h3.6v1.1h-3.6zM-76.4 -31.6h1.3v1.1h-1.3zM74 -31.6h1.3v1.1h-1.3zM79.7 -31.6h2.4v1.1h-2.4zM-92.2 -32.6h8.1v1.1h-8.1zM74.9 -32.6h1.3v1.1h-1.3zM79.5 -32.6h4.7v1.1h-4.7zM-91.9 -33.6h2.4v1.1h-2.4zM-88.5 -33.6h3.5v1.1h-3.5zM70.1 -33.6h1.3v1.1h-1.3zM81.5 -33.6h4.7v1.1h-4.7zM-91.6 -34.6h6.9v1.1h-6.9zM71 -34.6h1.3v1.1h-1.3zM79 -34.6h12.6v1.1h-12.6zM102.9 -34.6h1.3v1.1h-1.3zM109.7 -34.6h1.3v1.1h-1.3zM117.7 -34.6h1.3v1.1h-1.3zM-92.4 -35.6h4.7v1.1h-4.7zM-86.8 -35.6h4.7v1.1h-4.7zM-78.8 -35.6h1.3v1.1h-1.3zM71.9 -35.6h1.3v1.1h-1.3zM82.1 -35.6h10.3v1.1h-10.3zM103.7 -35.6h1.3v1.1h-1.3zM109.3 -35.6h1.3v1.1h-1.3zM117.3 -35.6h2.4v1.1h-2.4zM-92.1 -36.7h3.5v1.1h-3.5zM-87.6 -36.7h6.9v1.1h-6.9zM-78.6 -36.7h1.2v1.1h-1.2zM73.9 -36.7h1.2v1.1h-1.2zM85.2 -36.7h3.5v1.1h-3.5zM89.8 -36.7h1.2v1.1h-1.2zM92 -36.7h2.4v1.1h-2.4zM99.9 -36.7h1.2v1.1h-1.2zM102.2 -36.7h1.2v1.1h-1.2zM104.4 -36.7h1.2v1.1h-1.2zM116.9 -36.7h4.6v1.1h-4.6zM-91.8 -37.7h11.4v1.1h-11.4zM90.5 -37.7h4.6v1.1h-4.6zM99.6 -37.7h3.5v1.1h-3.5zM117.6 -37.7h6.9v1.1h-6.9zM-102.6 -38.7h1.2v1.1h-1.2zM-93.7 -38.7h1.2v1.1h-1.2zM-91.4 -38.7h5.7v1.1h-5.7zM-84.7 -38.7h1.2v1.1h-1.2zM-81.3 -38.7h4.6v1.1h-4.6zM91.3 -38.7h3.5v1.1h-3.5zM100.3 -38.7h1.2v1.1h-1.2zM103.7 -38.7h1.2v1.1h-1.2zM119.4 -38.7h2.4v1.1h-2.4zM122.7 -38.7h1.2v1.1h-1.2zM125 -38.7h1.2v1.1h-1.2zM-102.2 -39.7h1.2v1.1h-1.2zM-100 -39.7h1.2v1.1h-1.2zM-94.4 -39.7h1.2v1.1h-1.2zM-92.2 -39.7h7.9v1.1h-7.9zM-81 -39.7h1.2v1.1h-1.2zM-78.8 -39.7h2.4v1.1h-2.4zM-6.2 -39.7h2.4v1.1h-2.4zM-0.6 -39.7h1.2v1.1h-1.2zM93.2 -39.7h3.5v1.1h-3.5zM101 -39.7h3.5v1.1h-3.5zM122.2 -39.7h2.4v1.1h-2.4zM125.6 -39.7h1.2v1.1h-1.2zM-100.7 -40.7h1.2v1.1h-1.2zM-91.8 -40.7h5.7v1.1h-5.7zM-85.1 -40.7h1.2v1.1h-1.2zM-79.6 -40.7h1.2v1.1h-1.2zM-8.4 -40.7h2.3v1.1h-2.3zM-5.1 -40.7h4.6v1.1h-4.6zM18.3 -40.7h2.3v1.1h-2.3zM23.9 -40.7h5.7v1.1h-5.7zM31.6 -40.7h1.2v1.1h-1.2zM92.8 -40.7h4.6v1.1h-4.6zM99.5 -40.7h5.7v1.1h-5.7zM-103.6 -41.7h1.2v1.1h-1.2zM-93.6 -41.7h1.2v1.1h-1.2zM-89.2 -41.7h1.2v1.1h-1.2zM-85.9 -41.7h2.3v1.1h-2.3zM-7.2 -41.7h7.9v1.1h-7.9zM18.2 -41.7h3.4v1.1h-3.4zM23.8 -41.7h5.7v1.1h-5.7zM92.4 -41.7h13.4v1.1h-13.4zM111.2 -41.7h1.2v1.1h-1.2zM-98.7 -42.7h1.2v1.1h-1.2zM-96.5 -42.7h1.2v1.1h-1.2zM-92.1 -42.7h1.2v1.1h-1.2zM-88.8 -42.7h4.5v1.1h-4.5zM-8.3 -42.7h4.5v1.1h-4.5zM-2.8 -42.7h3.4v1.1h-3.4zM13.7 -42.7h1.2v1.1h-1.2zM18.1 -42.7h2.3v1.1h-2.3zM22.6 -42.7h6.7v1.1h-6.7zM38 -42.7h1.2v1.1h-1.2zM92 -42.7h1.2v1.1h-1.2zM95.3 -42.7h10v1.1h-10zM110.7 -42.7h1.2v1.1h-1.2zM-88.4 -43.7h5.6v1.1h-5.6zM-81.8 -43.7h1.2v1.1h-1.2zM-65.3 -43.7h1.2v1.1h-1.2zM-8.3 -43.7h8.9v1.1h-8.9zM7.1 -43.7h1.2v1.1h-1.2zM13.7 -43.7h2.3v1.1h-2.3zM18.1 -43.7h3.4v1.1h-3.4zM23.5 -43.7h5.6v1.1h-5.6zM32.3 -43.7h3.4v1.1h-3.4zM93.8 -43.7h1.2v1.1h-1.2zM96 -43.7h12.2v1.1h-12.2zM109.1 -43.7h3.4v1.1h-3.4zM122.3 -43.7h2.3v1.1h-2.3zM-100 -44.8h2.3v1.1h-2.3zM-91.2 -44.8h1.2v1.1h-1.2zM-88 -44.8h5.6v1.1h-5.6zM-67.2 -44.8h2.3v1.1h-2.3zM-8.2 -44.8h9.9v1.1h-9.9zM7 -44.8h1.2v1.1h-1.2zM16.9 -44.8h1.2v1.1h-1.2zM20.2 -44.8h6.7v1.1h-6.7zM33.3 -44.8h2.3v1.1h-2.3zM95.5 -44.8h14.3v1.1h-14.3zM110.8 -44.8h2.3v1.1h-2.3zM121.7 -44.8h2.3v1.1h-2.3zM-106 -45.8h1.2v1.1h-1.2zM-101.6 -45.8h2.3v1.1h-2.3zM-98.4 -45.8h1.2v1.1h-1.2zM-90.8 -45.8h7.7v1.1h-7.7zM-8.2 -45.8h11v1.1h-11zM16.8 -45.8h1.2v1.1h-1.2zM22.2 -45.8h1.2v1.1h-1.2zM65.7 -45.8h1.2v1.1h-1.2zM98.3 -45.8h13.2v1.1h-13.2zM112.4 -45.8h1.2v1.1h-1.2zM121.1 -45.8h1.2v1.1h-1.2zM123.3 -45.8h1.2v1.1h-1.2zM-98.9 -46.8h5.5v1.1h-5.5zM-92.4 -46.8h8.8v1.1h-8.8zM-73 -46.8h1.2v1.1h-1.2zM-8.2 -46.8h1.2v1.1h-1.2zM-6 -46.8h9.8v1.1h-9.8zM7 -46.8h1.2v1.1h-1.2zM9.1 -46.8h1.2v1.1h-1.2zM14.5 -46.8h1.2v1.1h-1.2zM22.1 -46.8h2.3v1.1h-2.3zM35.1 -46.8h2.3v1.1h-2.3zM44.8 -46.8h1.2v1.1h-1.2zM96.7 -46.8h2.3v1.1h-2.3zM99.9 -46.8h5.5v1.1h-5.5zM106.4 -46.8h8.8v1.1h-8.8zM-100.5 -47.8h1.2v1.1h-1.2zM-96.2 -47.8h2.3v1.1h-2.3zM-90.9 -47.8h7.6v1.1h-7.6zM-79 -47.8h1.2v1.1h-1.2zM-76.9 -47.8h1.2v1.1h-1.2zM-7 -47.8h3.3v1.1h-3.3zM-1.7 -47.8h6.6v1.1h-6.6zM8 -47.8h1.2v1.1h-1.2zM14.5 -47.8h3.3v1.1h-3.3zM19.8 -47.8h2.3v1.1h-2.3zM23.1 -47.8h2.3v1.1h-2.3zM32.7 -47.8h1.2v1.1h-1.2zM34.9 -47.8h3.3v1.1h-3.3zM96.1 -47.8h20.5v1.1h-20.5zM-95.7 -48.8h10.8v1.1h-10.8zM-58.3 -48.8h1.2v1.1h-1.2zM-1.7 -48.8h6.5v1.1h-6.5zM9 -48.8h2.3v1.1h-2.3zM15.4 -48.8h9.7v1.1h-9.7zM32.5 -48.8h7.6v1.1h-7.6zM89.2 -48.8h1.2v1.1h-1.2zM95.6 -48.8h19.4v1.1h-19.4zM-95.2 -49.8h8.6v1.1h-8.6zM-85.6 -49.8h7.6v1.1h-7.6zM-54.8 -49.8h1.2v1.1h-1.2zM-1.6 -49.8h5.4v1.1h-5.4zM15.4 -49.8h6.5v1.1h-6.5zM24.9 -49.8h1.2v1.1h-1.2zM34.5 -49.8h4.4v1.1h-4.4zM39.8 -49.8h1.2v1.1h-1.2zM61.1 -49.8h1.2v1.1h-1.2zM95.1 -49.8h8.6v1.1h-8.6zM104.6 -49.8h12.9v1.1h-12.9zM-98.8 -50.8h1.2v1.1h-1.2zM-96.7 -50.8h19.1v1.1h-19.1zM-55.5 -50.8h1.2v1.1h-1.2zM35.3 -50.8h9.6v1.1h-9.6zM47 -50.8h1.2v1.1h-1.2zM94.5 -50.8h5.4v1.1h-5.4zM100.9 -50.8h5.4v1.1h-5.4zM107.2 -50.8h10.7v1.1h-10.7zM-100.4 -51.8h8.5v1.1h-8.5zM-90.9 -51.8h12.7v1.1h-12.7zM-73.1 -51.8h1.2v1.1h-1.2zM18.3 -51.8h1.2v1.1h-1.2zM36.2 -51.8h5.4v1.1h-5.4zM42.5 -51.8h3.3v1.1h-3.3zM46.7 -51.8h16.9v1.1h-16.9zM96.1 -51.8h21.1v1.1h-21.1zM-101.8 -52.7h12.6v1.1h-12.6zM-88.3 -52.7h5.3v1.1h-5.3zM-82 -52.7h5.3v1.1h-5.3zM-3.7 -52.7h1.2v1.1h-1.2zM36 -52.7h6.4v1.1h-6.4zM43.3 -52.7h22v1.1h-22zM94.4 -52.7h23.1v1.1h-23.1zM-105.3 -53.7h1.2v1.1h-1.2zM-103.3 -53.7h3.2v1.1h-3.2zM-97 -53.7h20.9v1.1h-20.9zM37.8 -53.7h8.4v1.1h-8.4zM47.2 -53.7h8.4v1.1h-8.4zM56.5 -53.7h2.2v1.1h-2.2zM59.6 -53.7h6.3v1.1h-6.3zM87.6 -53.7h1.2v1.1h-1.2zM99 -53.7h9.5v1.1h-9.5zM-104.7 -54.7h2.2v1.1h-2.2zM-95.4 -54.7h5.3v1.1h-5.3zM-89.2 -54.7h5.3v1.1h-5.3zM-82 -54.7h6.3v1.1h-6.3zM-60.3 -54.7h2.2v1.1h-2.2zM36.5 -54.7h4.2v1.1h-4.2zM41.7 -54.7h6.3v1.1h-6.3zM49.9 -54.7h4.2v1.1h-4.2zM55.1 -54.7h2.2v1.1h-2.2zM58.2 -54.7h2.2v1.1h-2.2zM62.3 -54.7h2.2v1.1h-2.2zM65.4 -54.7h1.2v1.1h-1.2zM87 -54.7h2.2v1.1h-2.2zM98.4 -54.7h9.4v1.1h-9.4zM-103.9 -55.7h1.1v1.1h-1.1zM-94.7 -55.7h13.4v1.1h-13.4zM-80.4 -55.7h2.2v1.1h-2.2zM-2.6 -55.7h1.1v1.1h-1.1zM-0.6 -55.7h1.1v1.1h-1.1zM36.3 -55.7h3.2v1.1h-3.2zM50.6 -55.7h7.3v1.1h-7.3zM63.9 -55.7h4.2v1.1h-4.2zM69 -55.7h1.1v1.1h-1.1zM82.3 -55.7h7.3v1.1h-7.3zM94.6 -55.7h1.1v1.1h-1.1zM98.7 -55.7h6.3v1.1h-6.3zM-104.2 -56.7h1.1v1.1h-1.1zM-95.1 -56.7h12.3v1.1h-12.3zM-81.9 -56.7h4.2v1.1h-4.2zM-72.7 -56.7h1.1v1.1h-1.1zM36 -56.7h3.2v1.1h-3.2zM50.3 -56.7h4.2v1.1h-4.2zM63.5 -56.7h13.3v1.1h-13.3zM77.7 -56.7h5.2v1.1h-5.2zM83.8 -56.7h5.2v1.1h-5.2zM92.9 -56.7h1.1v1.1h-1.1zM96 -56.7h1.1v1.1h-1.1zM98 -56.7h5.2v1.1h-5.2zM-104.5 -57.6h1.1v1.1h-1.1zM-91.3 -57.6h11.2v1.1h-11.2zM10.5 -57.6h4.2v1.1h-4.2zM25.7 -57.6h1.1v1.1h-1.1zM34.8 -57.6h4.2v1.1h-4.2zM40.8 -57.6h1.1v1.1h-1.1zM49.9 -57.6h5.2v1.1h-5.2zM64 -57.6h2.1v1.1h-2.1zM72.1 -57.6h1.1v1.1h-1.1zM74.1 -57.6h3.1v1.1h-3.1zM84.2 -57.6h2.1v1.1h-2.1zM87.2 -57.6h8.2v1.1h-8.2zM96.3 -57.6h1.1v1.1h-1.1zM98.3 -57.6h2.1v1.1h-2.1zM-94.7 -58.6h1.1v1.1h-1.1zM-88.7 -58.6h5.1v1.1h-5.1zM-82.6 -58.6h2.1v1.1h-2.1zM11.5 -58.6h4.1v1.1h-4.1zM23.5 -58.6h2.1v1.1h-2.1zM29.5 -58.6h2.1v1.1h-2.1zM34.5 -58.6h3.1v1.1h-3.1zM39.5 -58.6h1.1v1.1h-1.1zM50.5 -58.6h4.1v1.1h-4.1zM62.5 -58.6h2.1v1.1h-2.1zM90.6 -58.6h1.1v1.1h-1.1zM92.6 -58.6h2.1v1.1h-2.1zM124.6 -58.6h1.1v1.1h-1.1zM-90.9 -59.6h1.1v1.1h-1.1zM-89 -59.6h2.1v1.1h-2.1zM-86 -59.6h2.1v1.1h-2.1zM-83 -59.6h2.1v1.1h-2.1zM-80 -59.6h1.1v1.1h-1.1zM22.3 -59.6h1.1v1.1h-1.1zM24.3 -59.6h2.1v1.1h-2.1zM28.3 -59.6h2.1v1.1h-2.1zM35.2 -59.6h1.1v1.1h-1.1zM50.1 -59.6h1.1v1.1h-1.1zM52.1 -59.6h2.1v1.1h-2.1zM63 -59.6h2.1v1.1h-2.1zM89.9 -59.6h1.1v1.1h-1.1zM-95.1 -60.5h2.1v1.1h-2.1zM-92.2 -60.5h2.1v1.1h-2.1zM-89.2 -60.5h1.1v1.1h-1.1zM-87.3 -60.5h2.1v1.1h-2.1zM-84.3 -60.5h1.1v1.1h-1.1zM-82.3 -60.5h1.1v1.1h-1.1zM7.3 -60.5h1.1v1.1h-1.1zM9.3 -60.5h3.1v1.1h-3.1zM22.1 -60.5h4.1v1.1h-4.1zM27 -60.5h1.1v1.1h-1.1zM50.7 -60.5h3.1v1.1h-3.1zM61.5 -60.5h2.1v1.1h-2.1zM86.2 -60.5h2.1v1.1h-2.1zM-104.1 -61.5h1.1v1.1h-1.1zM-95.3 -61.5h1.1v1.1h-1.1zM-93.4 -61.5h1.1v1.1h-1.1zM-91.4 -61.5h1.1v1.1h-1.1zM-85.6 -61.5h1.1v1.1h-1.1zM6.3 -61.5h2.1v1.1h-2.1zM9.2 -61.5h4v1.1h-4zM16.1 -61.5h2.1v1.1h-2.1zM24.9 -61.5h1.1v1.1h-1.1zM26.8 -61.5h2.1v1.1h-2.1zM30.7 -61.5h1.1v1.1h-1.1zM33.7 -61.5h1.1v1.1h-1.1zM42.5 -61.5h1.1v1.1h-1.1zM62 -61.5h1.1v1.1h-1.1zM77.7 -61.5h1.1v1.1h-1.1zM91.3 -61.5h2.1v1.1h-2.1zM94.3 -61.5h1.1v1.1h-1.1zM121.6 -61.5h1.1v1.1h-1.1zM-104.2 -62.4h1.1v1.1h-1.1zM-96.5 -62.4h1.1v1.1h-1.1zM-91.6 -62.4h3v1.1h-3zM10.1 -62.4h1.1v1.1h-1.1zM25.6 -62.4h4v1.1h-4zM31.4 -62.4h3v1.1h-3zM42.1 -62.4h1.1v1.1h-1.1zM66.3 -62.4h1.1v1.1h-1.1zM76 -62.4h2.1v1.1h-2.1zM80.9 -62.4h1.1v1.1h-1.1zM83.8 -62.4h1.1v1.1h-1.1zM85.7 -62.4h3v1.1h-3zM89.6 -62.4h3v1.1h-3zM-104.3 -63.3h2v1.1h-2zM-98.5 -63.3h4.9v1.1h-4.9zM-90.9 -63.3h2v1.1h-2zM6.2 -63.3h1.1v1.1h-1.1zM10 -63.3h1.1v1.1h-1.1zM12.9 -63.3h1.1v1.1h-1.1zM18.7 -63.3h3v1.1h-3zM22.5 -63.3h1.1v1.1h-1.1zM25.4 -63.3h4v1.1h-4zM31.2 -63.3h1.1v1.1h-1.1zM33.1 -63.3h1.1v1.1h-1.1zM76.3 -63.3h3v1.1h-3zM80.2 -63.3h4.9v1.1h-4.9zM86.9 -63.3h4.9v1.1h-4.9zM92.7 -63.3h1.1v1.1h-1.1zM96.5 -63.3h1.1v1.1h-1.1zM98.4 -63.3h2v1.1h-2zM-105.3 -64.3h1.1v1.1h-1.1zM-103.4 -64.3h6.8v1.1h-6.8zM-90.1 -64.3h2v1.1h-2zM-83.4 -64.3h1.1v1.1h-1.1zM3.3 -64.3h1.1v1.1h-1.1zM5.2 -64.3h1.1v1.1h-1.1zM16.6 -64.3h1.1v1.1h-1.1zM19.5 -64.3h2v1.1h-2zM23.3 -64.3h3.9v1.1h-3.9zM28 -64.3h1.1v1.1h-1.1zM30.9 -64.3h3v1.1h-3zM34.7 -64.3h3v1.1h-3zM40.4 -64.3h1.1v1.1h-1.1zM71.9 -64.3h2v1.1h-2zM75.7 -64.3h2v1.1h-2zM79.5 -64.3h2v1.1h-2zM86.2 -64.3h3.9v1.1h-3.9zM90.9 -64.3h2v1.1h-2zM97.6 -64.3h2v1.1h-2zM103.3 -64.3h2v1.1h-2zM116.6 -64.3h1.1v1.1h-1.1zM124.3 -64.3h1.1v1.1h-1.1zM-114.7 -65.2h1.1v1h-1.1zM-99.6 -65.2h1.1v1h-1.1zM-90.2 -65.2h2v1h-2zM-83.6 -65.2h1.1v1h-1.1zM3.3 -65.2h1.1v1h-1.1zM7 -65.2h1.1v1h-1.1zM10.8 -65.2h3v1h-3zM16.5 -65.2h1.1v1h-1.1zM19.3 -65.2h1.1v1h-1.1zM21.2 -65.2h3v1h-3zM25 -65.2h3.9v1h-3.9zM32.5 -65.2h4.8v1h-4.8zM53.3 -65.2h1.1v1h-1.1zM65.6 -65.2h1.1v1h-1.1zM67.4 -65.2h1.1v1h-1.1zM70.3 -65.2h3.9v1h-3.9zM76.9 -65.2h2v1h-2zM83.5 -65.2h1.1v1h-1.1zM90.1 -65.2h1.1v1h-1.1zM92 -65.2h9.6v1h-9.6zM102.4 -65.2h1.1v1h-1.1zM104.3 -65.2h1.1v1h-1.1zM108 -65.2h2v1h-2zM115.6 -65.2h2v1h-2zM121.3 -65.2h2v1h-2zM-113.7 -66.1h1.1v1h-1.1zM-106.2 -66.1h2v1h-2zM-99.7 -66.1h1.1v1h-1.1zM-97.8 -66.1h1.1v1h-1.1zM-95 -66.1h2.9v1h-2.9zM-91.3 -66.1h4.8v1h-4.8zM-84.7 -66.1h2v1h-2zM-32.3 -66.1h1.1v1h-1.1zM3.2 -66.1h1.1v1h-1.1zM7 -66.1h3.9v1h-3.9zM11.6 -66.1h2v1h-2zM15.4 -66.1h1.1v1h-1.1zM17.3 -66.1h1.1v1h-1.1zM21.9 -66.1h1.1v1h-1.1zM26.6 -66.1h1.1v1h-1.1zM55.6 -66.1h1.1v1h-1.1zM65.9 -66.1h2.9v1h-2.9zM69.6 -66.1h3.9v1h-3.9zM74.3 -66.1h1.1v1h-1.1zM76.2 -66.1h1.1v1h-1.1zM85.5 -66.1h1.1v1h-1.1zM89.3 -66.1h1.1v1h-1.1zM92.1 -66.1h2v1h-2zM95.8 -66.1h4.8v1h-4.8zM101.4 -66.1h1.1v1h-1.1zM103.3 -66.1h6.7v1h-6.7zM111.7 -66.1h3.9v1h-3.9zM116.4 -66.1h2.9v1h-2.9zM121.1 -66.1h1.1v1h-1.1zM-113.6 -67h2v1h-2zM-101.5 -67h1v1h-1zM-99.7 -67h2.9v1h-2.9zM-93.2 -67h1v1h-1zM-90.4 -67h2v1h-2zM-86.7 -67h1v1h-1zM-83.9 -67h1v1h-1zM4.1 -67h5.7v1h-5.7zM10.6 -67h1v1h-1zM15.2 -67h2v1h-2zM18 -67h1v1h-1zM63.4 -67h1v1h-1zM65.3 -67h1v1h-1zM69 -67h1v1h-1zM71.8 -67h1v1h-1zM74.5 -67h1v1h-1zM87.5 -67h2v1h-2zM90.3 -67h2.9v1h-2.9zM96.8 -67h2v1h-2zM104.2 -67h1v1h-1zM107 -67h1v1h-1zM108.8 -67h4.8v1h-4.8zM114.4 -67h3.8v1h-3.8zM119 -67h1v1h-1zM120.9 -67h1v1h-1zM-114.3 -67.9h4.7v1h-4.7zM-107.9 -67.9h1v1h-1zM-105.1 -67.9h2v1h-2zM-98.7 -67.9h1v1h-1zM-96 -67.9h1v1h-1zM-90.5 -67.9h1v1h-1zM-86.8 -67.9h2v1h-2zM5.9 -67.9h2.9v1h-2.9zM10.5 -67.9h2.9v1h-2.9zM17.8 -67.9h3.8v1h-3.8zM62.8 -67.9h2.9v1h-2.9zM66.5 -67.9h3.8v1h-3.8zM71.1 -67.9h3.8v1h-3.8zM86.7 -67.9h2v1h-2zM89.4 -67.9h2v1h-2zM94 -67.9h2v1h-2zM103.2 -67.9h2v1h-2zM106 -67.9h6.5v1h-6.5zM113.3 -67.9h1v1h-1zM115.1 -67.9h2v1h-2zM-114.1 -68.8h1v1h-1zM-112.3 -68.8h1.9v1h-1.9zM-105 -68.8h2.8v1h-2.8zM-100.5 -68.8h2.8v1h-2.8zM-96.9 -68.8h2.8v1h-2.8zM-93.2 -68.8h1.9v1h-1.9zM-86.9 -68.8h1.9v1h-1.9zM7.7 -68.8h1v1h-1zM11.3 -68.8h1v1h-1zM14.9 -68.8h1v1h-1zM17.7 -68.8h1v1h-1zM21.3 -68.8h1v1h-1zM64 -68.8h1v1h-1zM65.9 -68.8h5.6v1h-5.6zM72.2 -68.8h1v1h-1zM80.4 -68.8h1.9v1h-1.9zM104.9 -68.8h1v1h-1zM109.5 -68.8h2.8v1h-2.8zM118.6 -68.8h1v1h-1zM127.7 -68.8h1v1h-1zM-114.8 -69.7h5.5v1h-5.5zM-104.9 -69.7h1.9v1h-1.9zM-101.3 -69.7h5.5v1h-5.5zM-94.1 -69.7h3.7v1h-3.7zM-85.1 -69.7h1v1h-1zM8.5 -69.7h1v1h-1zM11.2 -69.7h1v1h-1zM17.5 -69.7h1v1h-1zM63.4 -69.7h1v1h-1zM68.8 -69.7h1v1h-1zM71.5 -69.7h1v1h-1zM76 -69.7h1v1h-1zM77.8 -69.7h3.7v1h-3.7zM82.3 -69.7h1.9v1h-1.9zM102.1 -69.7h1v1h-1zM108.4 -69.7h2.8v1h-2.8zM112.9 -69.7h1v1h-1zM118.3 -69.7h1v1h-1zM-117.2 -70.6h1v1h-1zM-108.3 -70.6h1v1h-1zM-100.3 -70.6h1v1h-1zM-98.5 -70.6h1v1h-1zM-94.1 -70.6h3.7v1h-3.7zM-88.7 -70.6h1.9v1h-1.9zM-84.2 -70.6h1.9v1h-1.9zM-27.2 -70.6h1v1h-1zM-16.5 -70.6h1.9v1h-1.9zM9.3 -70.6h1v1h-1zM12 -70.6h1v1h-1zM13.8 -70.6h1.9v1h-1.9zM17.3 -70.6h2.8v1h-2.8zM20.9 -70.6h1.9v1h-1.9zM70.8 -70.6h1v1h-1zM76.1 -70.6h1.9v1h-1.9zM79.7 -70.6h1v1h-1zM83.3 -70.6h1.9v1h-1.9zM86.8 -70.6h1v1h-1zM110.9 -70.6h1.9v1h-1.9zM117.1 -70.6h1v1h-1zM118.9 -70.6h1v1h-1zM-108.1 -71.5h1v1h-1zM-94.8 -71.5h1v1h-1zM-93.1 -71.5h1v1h-1zM-91.3 -71.5h4.5v1h-4.5zM-86 -71.5h1.9v1h-1.9zM9.2 -71.5h2.8v1h-2.8zM13.6 -71.5h1.9v1h-1.9zM17.1 -71.5h1v1h-1zM18.9 -71.5h1.9v1h-1.9zM26 -71.5h1v1h-1zM70.9 -71.5h1.9v1h-1.9zM76.2 -71.5h1v1h-1zM78.9 -71.5h2.8v1h-2.8zM84.2 -71.5h1v1h-1zM102.7 -71.5h1v1h-1zM108 -71.5h2.8v1h-2.8zM112.4 -71.5h1v1h-1zM114.1 -71.5h1v1h-1zM115.9 -71.5h1v1h-1zM117.7 -71.5h1v1h-1zM-125.3 -72.3h1v1h-1zM-116.5 -72.3h1v1h-1zM-112.2 -72.3h1v1h-1zM-108.7 -72.3h1v1h-1zM-104.3 -72.3h1v1h-1zM-91.2 -72.3h1.9v1h-1.9zM-88.6 -72.3h1.9v1h-1.9zM-20.6 -72.3h1.9v1h-1.9zM12.6 -72.3h1v1h-1zM15.2 -72.3h2.7v1h-2.7zM70.2 -72.3h1v1h-1zM75.4 -72.3h6.2v1h-6.2zM91.1 -72.3h1v1h-1zM92.9 -72.3h1v1h-1zM113 -72.3h1v1h-1zM116.4 -72.3h1.9v1h-1.9zM-113.6 -73.2h3.6v1h-3.6zM-104.9 -73.2h2.7v1h-2.7zM-90.3 -73.2h1v1h-1zM-87.7 -73.2h1v1h-1zM-20.3 -73.2h1v1h-1zM-18.6 -73.2h1v1h-1zM13.3 -73.2h1v1h-1zM15.1 -73.2h1v1h-1zM16.8 -73.2h1v1h-1zM18.5 -73.2h1v1h-1zM78.1 -73.2h1v1h-1zM83.3 -73.2h1v1h-1zM97.9 -73.2h1v1h-1zM109.1 -73.2h1.8v1h-1.8zM112.6 -73.2h1v1h-1zM114.3 -73.2h1v1h-1zM116.1 -73.2h1v1h-1zM119.5 -73.2h2.7v1h-2.7zM-110.6 -74h1.8v1h-1.8zM-108 -74h1v1h-1zM-105.5 -74h2.7v1h-2.7zM-102.1 -74h2.7v1h-2.7zM-89.3 -74h1.8v1h-1.8zM-20.1 -74h1.8v1h-1.8zM14.9 -74h3.5v1h-3.5zM77.2 -74h1.8v1h-1.8zM81.5 -74h3.5v1h-3.5zM87.5 -74h1.8v1h-1.8zM96.8 -74h1v1h-1zM100.3 -74h1v1h-1zM-106.8 -74.9h1v1h-1zM-103.4 -74.9h1v1h-1zM16.4 -74.9h1v1h-1zM78.9 -74.9h1v1h-1zM82.2 -74.9h1v1h-1zM84.8 -74.9h1v1h-1zM86.5 -74.9h2.7v1h-2.7zM92.4 -74.9h1v1h-1zM120.2 -74.9h1v1h-1zM78.8 -75.7h1v0.9h-1zM82.1 -75.7h1v0.9h-1zM83.8 -75.7h2.6v0.9h-2.6zM92.1 -75.7h1v0.9h-1zM78.6 -76.5h3.4v0.9h-3.4zM83.6 -76.5h0.9v0.9h-0.9zM90.3 -78.1h1.7v0.9h-1.7zM89 -78.9h0.9v0.9h-0.9zM92.9 -78.9h0.9v0.9h-0.9zM-43.3 -79.7h0.9v0.9h-0.9zM-40.4 -80.4h0.9v0.9h-0.9zM-39.8 -81.2h0.9v0.8h-0.9zM-12.3 -81.9h0.9v0.8h-0.9zM-47.3 -83.2h0.8v0.8h-0.8z"/><path fill="#c8e6f7" d="M-55.2 58.5h3.1v1.1h-3.1zM-55.6 57.5h2.1v1.1h-2.1zM-55 56.6h1.1v1.1h-1.1zM-48.3 55.6h1.1v1.1h-1.1zM142.1 49.7h1.2v1.1h-1.2zM-64.4 48.7h1.2v1.1h-1.2zM142.9 48.7h2.2v1.1h-2.2zM142.6 47.7h4.4v1.1h-4.4zM144.5 46.7h4.4v1.1h-4.4zM126.9 45.7h1.2v1.1h-1.2zM146.4 45.7h3.4v1.1h-3.4zM125.4 44.7h3.4v1.1h-3.4zM148.2 44.7h3.4v1.1h-3.4zM-65 43.6h1.2v1.1h-1.2zM150.1 43.6h4.5v1.1h-4.5zM153 42.6h1.2v1.1h-1.2zM152.6 41.6h4.5v1.1h-4.5zM-52.7 40.6h2.3v1.1h-2.3zM154.4 40.6h3.4v1.1h-3.4zM-65.1 39.6h1.2v1.1h-1.2zM-52.9 39.6h2.3v1.1h-2.3zM155.1 39.6h2.3v1.1h-2.3zM-55.3 38.6h1.2v1.1h-1.2zM-53.1 38.6h2.4v1.1h-2.4zM155.7 38.6h1.2v1.1h-1.2zM-53.3 37.6h2.4v1.1h-2.4zM155.2 37.6h1.2v1.1h-1.2zM-54.6 36.6h6.9v1.1h-6.9zM-54.8 35.5h8v1.1h-8zM-56.2 34.5h2.4v1.1h-2.4zM-52.8 34.5h5.8v1.1h-5.8zM-55.2 33.5h3.5v1.1h-3.5zM-50.7 33.5h1.3v1.1h-1.3zM-48.4 33.5h2.4v1.1h-2.4zM-56.5 32.5h10.4v1.1h-10.4zM-55.6 31.5h2.4v1.1h-2.4zM-52.1 31.5h3.6v1.1h-3.6zM-46.4 31.5h1.3v1.1h-1.3zM-55.7 30.4h5.9v1.1h-5.9zM-45.4 30.4h1.3v1.1h-1.3zM-54.7 29.4h4.7v1.1h-4.7zM-45.5 29.4h1.3v1.1h-1.3zM-56 28.4h4.7v1.1h-4.7zM-45.6 28.4h1.3v1.1h-1.3zM-55 27.4h4.7v1.1h-4.7zM-48 27.4h3.6v1.1h-3.6zM-53.9 26.4h2.4v1.1h-2.4zM-47 26.4h2.4v1.1h-2.4zM140.8 26.4h1.3v1.1h-1.3zM-52.9 25.4h2.4v1.1h-2.4zM-47.1 25.4h1.3v1.1h-1.3zM137.6 25.4h1.3v1.1h-1.3zM-53 24.4h7.1v1.1h-7.1zM-50.7 23.3h2.5v1.1h-2.5zM-52.1 21.3h1.3v1.1h-1.3zM-53.3 20.3h1.3v1.1h-1.3zM-68.9 17.2h1.3v1.1h-1.3zM-59.5 17.2h1.3v1.1h-1.3zM-70.2 16.2h2.5v1.1h-2.5zM-70.2 15.2h3.7v1.1h-3.7zM-70.3 14.2h2.5v1.1h-2.5zM-66.8 14.2h1.3v1.1h-1.3zM-60.9 14.2h2.5v1.1h-2.5zM-69.2 13.2h6v1.1h-6zM-62.1 13.2h6v1.1h-6zM-55 13.2h1.3v1.1h-1.3zM-51.5 13.2h1.3v1.1h-1.3zM-68.1 12.2h12v1.1h-12zM-55.1 12.2h4.9v1.1h-4.9zM-70.5 11.1h3.7v1.1h-3.7zM-65.8 11.1h7.2v1.1h-7.2zM-57.5 11.1h9.6v1.1h-9.6zM-69.4 10.1h4.9v1.1h-4.9zM-63.5 10.1h16.7v1.1h-16.7zM26.6 10.1h1.3v1.1h-1.3zM139.3 10.1h1.3v1.1h-1.3zM151.1 10.1h1.3v1.1h-1.3zM-69.5 9.1h8.4v1.1h-8.4zM-60 9.1h12v1.1h-12zM109.7 9.1h2.5v1.1h-2.5zM133.4 9.1h1.3v1.1h-1.3zM138.2 9.1h3.7v1.1h-3.7zM-69.5 8.1h8.4v1.1h-8.4zM-58.8 8.1h4.9v1.1h-4.9zM-52.9 8.1h6.1v1.1h-6.1zM102.7 8.1h2.5v1.1h-2.5zM106.2 8.1h1.3v1.1h-1.3zM137.1 8.1h1.3v1.1h-1.3zM-76.7 7.1h1.3v1.1h-1.3zM-69.5 7.1h7.2v1.1h-7.2zM-61.2 7.1h15.6v1.1h-15.6zM-44.6 7.1h1.3v1.1h-1.3zM100.3 7.1h4.9v1.1h-4.9zM106.3 7.1h1.3v1.1h-1.3zM131.2 7.1h1.3v1.1h-1.3zM-70.8 6.1h14.4v1.1h-14.4zM-55.3 6.1h1.3v1.1h-1.3zM-52.9 6.1h3.7v1.1h-3.7zM-48.2 6.1h2.5v1.1h-2.5zM25.5 6.1h1.3v1.1h-1.3zM100.4 6.1h2.5v1.1h-2.5zM136.1 6.1h1.3v1.1h-1.3zM138.4 6.1h1.3v1.1h-1.3zM-77.9 5h3.7v1.1h-3.7zM-70.8 5h15.6v1.1h-15.6zM-54.2 5h9.6v1.1h-9.6zM99.2 5h2.5v1.1h-2.5zM134.9 5h2.5v1.1h-2.5zM-78 4h3.7v1.1h-3.7zM-72 4h28.7v1.1h-28.7zM25.5 4h1.3v1.1h-1.3zM100.5 4h1.3v1.1h-1.3zM108.8 4h1.3v1.1h-1.3zM113.6 4h1.3v1.1h-1.3zM-76.8 3h4.9v1.1h-4.9zM-70.9 3h3.7v1.1h-3.7zM-66.1 3h20.4v1.1h-20.4zM20.8 3h7.3v1.1h-7.3zM99.3 3h1.3v1.1h-1.3zM105.3 3h3.7v1.1h-3.7zM113.6 3h3.7v1.1h-3.7zM119.6 3h4.9v1.1h-4.9zM129.1 3h1.3v1.1h-1.3zM-76.8 2h2.5v1.1h-2.5zM-73.3 2h9.6v1.1h-9.6zM-62.5 2h16.8v1.1h-16.8zM8.9 2h3.7v1.1h-3.7zM18.4 2h3.7v1.1h-3.7zM23.2 2h7.3v1.1h-7.3zM31.5 2h1.3v1.1h-1.3zM99.4 2h1.3v1.1h-1.3zM104.1 2h7.3v1.1h-7.3zM112.4 2h3.7v1.1h-3.7zM-76.9 1h1.3v1.1h-1.3zM-74.5 1h6.1v1.1h-6.1zM-66.1 1h2.5v1.1h-2.5zM-62.6 1h12v1.1h-12zM-49.5 1h4.9v1.1h-4.9zM8.9 1h10.8v1.1h-10.8zM20.8 1h9.6v1.1h-9.6zM33.9 1h1.3v1.1h-1.3zM104.1 1h4.9v1.1h-4.9zM111.3 1h1.3v1.1h-1.3zM113.7 1h3.7v1.1h-3.7zM124.4 1h1.3v1.1h-1.3zM-87.6 0h1.3v1.1h-1.3zM-76.9 0h1.3v1.1h-1.3zM-70.9 0h1.3v1.1h-1.3zM-66.1 0h1.3v1.1h-1.3zM-57.8 0h3.7v1.1h-3.7zM-53 0h8.5v1.1h-8.5zM7.7 0h6.1v1.1h-6.1zM16 0h4.9v1.1h-4.9zM22 0h9.6v1.1h-9.6zM98.2 0h1.3v1.1h-1.3zM108.9 0h3.7v1.1h-3.7zM113.7 0h1.3v1.1h-1.3zM124.4 0h3.7v1.1h-3.7zM-76.9 -1.1h2.5v1.1h-2.5zM-73.3 -1.1h1.3v1.1h-1.3zM-70.9 -1.1h1.3v1.1h-1.3zM-62.6 -1.1h1.3v1.1h-1.3zM-59 -1.1h12v1.1h-12zM8.9 -1.1h22.7v1.1h-22.7zM104.2 -1.1h1.3v1.1h-1.3zM108.9 -1.1h3.7v1.1h-3.7zM113.7 -1.1h4.9v1.1h-4.9zM120.8 -1.1h1.3v1.1h-1.3zM-75.7 -2.1h6.1v1.1h-6.1zM-56.6 -2.1h9.6v1.1h-9.6zM14.8 -2.1h1.3v1.1h-1.3zM18.4 -2.1h3.7v1.1h-3.7zM25.6 -2.1h2.5v1.1h-2.5zM29.1 -2.1h3.7v1.1h-3.7zM110.1 -2.1h3.7v1.1h-3.7zM114.9 -2.1h1.3v1.1h-1.3zM117.2 -2.1h2.5v1.1h-2.5zM120.8 -2.1h1.3v1.1h-1.3zM-75.6 -3.1h6.1v1.1h-6.1zM-66.1 -3.1h1.3v1.1h-1.3zM-57.8 -3.1h1.3v1.1h-1.3zM-54.2 -3.1h6.1v1.1h-6.1zM14.8 -3.1h1.3v1.1h-1.3zM18.4 -3.1h3.7v1.1h-3.7zM23.2 -3.1h3.7v1.1h-3.7zM29.1 -3.1h3.7v1.1h-3.7zM94.6 -3.1h1.3v1.1h-1.3zM105.3 -3.1h1.3v1.1h-1.3zM107.7 -3.1h1.3v1.1h-1.3zM110.1 -3.1h1.3v1.1h-1.3zM-74.4 -4.1h3.7v1.1h-3.7zM-61.3 -4.1h6.1v1.1h-6.1zM-54.2 -4.1h2.5v1.1h-2.5zM-50.6 -4.1h2.5v1.1h-2.5zM19.6 -4.1h1.3v1.1h-1.3zM23.2 -4.1h1.3v1.1h-1.3zM29.1 -4.1h3.7v1.1h-3.7zM92.2 -4.1h1.3v1.1h-1.3zM106.5 -4.1h4.9v1.1h-4.9zM-74.4 -5.1h3.7v1.1h-3.7zM-64.9 -5.1h16.8v1.1h-16.8zM-7.8 -5.1h1.3v1.1h-1.3zM19.6 -5.1h1.3v1.1h-1.3zM26.7 -5.1h6.1v1.1h-6.1zM107.6 -5.1h3.7v1.1h-3.7zM-74.4 -6.2h1.3v1.1h-1.3zM-69.6 -6.2h18v1.1h-18zM-50.6 -6.2h1.3v1.1h-1.3zM-6.6 -6.2h4.9v1.1h-4.9zM4.1 -6.2h6.1v1.1h-6.1zM17.2 -6.2h1.3v1.1h-1.3zM22 -6.2h2.5v1.1h-2.5zM26.7 -6.2h2.5v1.1h-2.5zM30.3 -6.2h2.5v1.1h-2.5zM110 -6.2h3.7v1.1h-3.7zM-74.3 -7.2h1.3v1.1h-1.3zM-70.8 -7.2h9.6v1.1h-9.6zM-60.1 -7.2h7.3v1.1h-7.3zM-7.8 -7.2h9.6v1.1h-9.6zM4.1 -7.2h3.7v1.1h-3.7zM8.9 -7.2h2.5v1.1h-2.5zM13.6 -7.2h1.3v1.1h-1.3zM16 -7.2h16.8v1.1h-16.8zM75.4 -7.2h2.5v1.1h-2.5zM109.9 -7.2h2.5v1.1h-2.5zM118.2 -7.2h2.5v1.1h-2.5zM-73.1 -8.2h1.3v1.1h-1.3zM-69.5 -8.2h14.4v1.1h-14.4zM-5.4 -8.2h3.7v1.1h-3.7zM-0.6 -8.2h6.1v1.1h-6.1zM6.5 -8.2h20.3v1.1h-20.3zM27.9 -8.2h7.2v1.1h-7.2zM75.4 -8.2h2.5v1.1h-2.5zM115.8 -8.2h4.9v1.1h-4.9zM-70.7 -9.2h10.8v1.1h-10.8zM-58.8 -9.2h2.5v1.1h-2.5zM-12.5 -9.2h1.3v1.1h-1.3zM-7.8 -9.2h7.2v1.1h-7.2zM0.5 -9.2h10.8v1.1h-10.8zM12.4 -9.2h10.8v1.1h-10.8zM24.3 -9.2h12v1.1h-12zM76.5 -9.2h1.3v1.1h-1.3zM116.9 -9.2h2.5v1.1h-2.5zM-70.6 -10.2h6.1v1.1h-6.1zM-63.5 -10.2h6.1v1.1h-6.1zM-8.9 -10.2h6.1v1.1h-6.1zM2.9 -10.2h2.5v1.1h-2.5zM6.5 -10.2h1.3v1.1h-1.3zM10 -10.2h6.1v1.1h-6.1zM17.2 -10.2h2.5v1.1h-2.5zM24.3 -10.2h12v1.1h-12zM72.9 -10.2h3.7v1.1h-3.7zM99 -10.2h1.3v1.1h-1.3zM116.8 -10.2h2.5v1.1h-2.5zM-70.6 -11.2h4.9v1.1h-4.9zM-63.5 -11.2h6v1.1h-6zM-13.7 -11.2h3.7v1.1h-3.7zM-8.9 -11.2h1.3v1.1h-1.3zM-6.6 -11.2h1.3v1.1h-1.3zM27.8 -11.2h8.4v1.1h-8.4zM71.7 -11.2h2.5v1.1h-2.5zM98.9 -11.2h2.5v1.1h-2.5zM112 -11.2h1.3v1.1h-1.3zM115.5 -11.2h3.7v1.1h-3.7zM-71.7 -12.3h10.8v1.1h-10.8zM-59.9 -12.3h1.3v1.1h-1.3zM-12.5 -12.3h6v1.1h-6zM71.6 -12.3h4.9v1.1h-4.9zM92.9 -12.3h1.3v1.1h-1.3zM97.7 -12.3h2.5v1.1h-2.5zM101.2 -12.3h1.3v1.1h-1.3zM111.9 -12.3h1.3v1.1h-1.3zM115.5 -12.3h3.7v1.1h-3.7zM-82.3 -13.3h1.3v1.1h-1.3zM-69.3 -13.3h3.7v1.1h-3.7zM71.6 -13.3h4.9v1.1h-4.9zM92.9 -13.3h2.5v1.1h-2.5zM96.4 -13.3h3.7v1.1h-3.7zM101.1 -13.3h2.5v1.1h-2.5zM117.7 -13.3h1.3v1.1h-1.3zM-83.4 -14.3h3.7v1.1h-3.7zM70.3 -14.3h6v1.1h-6zM92.8 -14.3h10.8v1.1h-10.8zM-85.7 -15.3h7.2v1.1h-7.2zM70.2 -15.3h6v1.1h-6zM92.7 -15.3h10.7v1.1h-10.7zM113.9 -15.3h3.7v1.1h-3.7zM-87.9 -16.3h9.6v1.1h-9.6zM70.1 -16.3h6v1.1h-6zM92.6 -16.3h4.8v1.1h-4.8zM98.5 -16.3h4.8v1.1h-4.8zM113.8 -16.3h1.3v1.1h-1.3zM-91.4 -17.3h1.3v1.1h-1.3zM-89 -17.3h2.5v1.1h-2.5zM-85.5 -17.3h7.2v1.1h-7.2zM68.9 -17.3h7.2v1.1h-7.2zM92.4 -17.3h10.7v1.1h-10.7zM112.5 -17.3h2.5v1.1h-2.5zM-93.6 -18.4h10.7v1.1h-10.7zM70 -18.4h8.4v1.1h-8.4zM88.8 -18.4h13.1v1.1h-13.1zM-95.8 -19.4h13v1.1h-13zM68.7 -19.4h9.5v1.1h-9.5zM88.6 -19.4h7.2v1.1h-7.2zM98 -19.4h2.5v1.1h-2.5zM-98 -20.4h7.2v1.1h-7.2zM-89.8 -20.4h4.8v1.1h-4.8zM-83.9 -20.4h2.5v1.1h-2.5zM-73.4 -20.4h1.3v1.1h-1.3zM-69.8 -20.4h1.3v1.1h-1.3zM69.7 -20.4h9.5v1.1h-9.5zM88.5 -20.4h11.8v1.1h-11.8zM102.6 -20.4h1.3v1.1h-1.3zM113.1 -20.4h1.3v1.1h-1.3zM-97.8 -21.4h8.3v1.1h-8.3zM-86.1 -21.4h1.3v1.1h-1.3zM-83.8 -21.4h2.5v1.1h-2.5zM-68.6 -21.4h3.6v1.1h-3.6zM67.3 -21.4h2.5v1.1h-2.5zM70.8 -21.4h6v1.1h-6zM79 -21.4h1.3v1.1h-1.3zM88.4 -21.4h11.8v1.1h-11.8zM101.3 -21.4h2.5v1.1h-2.5zM-96.5 -22.4h6v1.1h-6zM-84.8 -22.4h3.6v1.1h-3.6zM-73.1 -22.4h1.3v1.1h-1.3zM-70.8 -22.4h1.3v1.1h-1.3zM67.2 -22.4h4.8v1.1h-4.8zM73 -22.4h1.3v1.1h-1.3zM75.4 -22.4h2.5v1.1h-2.5zM78.9 -22.4h2.5v1.1h-2.5zM89.4 -22.4h10.6v1.1h-10.6zM-94 -23.4h3.6v1.1h-3.6zM-84.7 -23.4h1.3v1.1h-1.3zM-74.2 -23.4h3.6v1.1h-3.6zM65.9 -23.4h2.5v1.1h-2.5zM69.4 -23.4h1.3v1.1h-1.3zM71.7 -23.4h1.3v1.1h-1.3zM74.1 -23.4h1.3v1.1h-1.3zM76.4 -23.4h1.3v1.1h-1.3zM79.9 -23.4h2.5v1.1h-2.5zM85.8 -23.4h15.3v1.1h-15.3zM102.1 -23.4h2.5v1.1h-2.5zM-91.5 -24.5h1.3v1.1h-1.3zM67 -24.5h9.4v1.1h-9.4zM78.6 -24.5h16.4v1.1h-16.4zM96.1 -24.5h3.6v1.1h-3.6zM100.8 -24.5h5.9v1.1h-5.9zM-76.3 -25.5h2.4v1.1h-2.4zM68 -25.5h4.8v1.1h-4.8zM77.3 -25.5h8.3v1.1h-8.3zM86.6 -25.5h15.2v1.1h-15.2zM102.9 -25.5h5.9v1.1h-5.9zM111.1 -25.5h2.4v1.1h-2.4zM69 -26.5h3.6v1.1h-3.6zM77.2 -26.5h23.3v1.1h-23.3zM102.7 -26.5h7.1v1.1h-7.1zM112 -26.5h1.3v1.1h-1.3zM70.1 -27.5h3.6v1.1h-3.6zM75.9 -27.5h24.5v1.1h-24.5zM101.4 -27.5h9.4v1.1h-9.4zM111.8 -27.5h1.3v1.1h-1.3zM-75.8 -28.5h2.4v1.1h-2.4zM72.2 -28.5h5.9v1.1h-5.9zM79.2 -28.5h16.3v1.1h-16.3zM96.5 -28.5h3.6v1.1h-3.6zM101.1 -28.5h10.5v1.1h-10.5zM-75.6 -29.5h2.4v1.1h-2.4zM80.1 -29.5h4.7v1.1h-4.7zM85.9 -29.5h10.5v1.1h-10.5zM97.4 -29.5h14v1.1h-14zM-75.4 -30.5h2.4v1.1h-2.4zM82.2 -30.5h30v1.1h-30zM-75.2 -31.6h1.3v1.1h-1.3zM82 -31.6h30v1.1h-30zM-84.2 -32.6h2.4v1.1h-2.4zM-78.4 -32.6h4.7v1.1h-4.7zM84.1 -32.6h27.6v1.1h-27.6zM-89.6 -33.6h1.3v1.1h-1.3zM-85.1 -33.6h11.5v1.1h-11.5zM86.1 -33.6h25.2v1.1h-25.2zM-84.8 -34.6h11.5v1.1h-11.5zM91.5 -34.6h11.5v1.1h-11.5zM104 -34.6h5.8v1.1h-5.8zM118.8 -34.6h1.3v1.1h-1.3zM-87.9 -35.6h1.3v1.1h-1.3zM-82.2 -35.6h3.5v1.1h-3.5zM-77.7 -35.6h5.8v1.1h-5.8zM92.3 -35.6h11.5v1.1h-11.5zM104.8 -35.6h4.7v1.1h-4.7zM-80.8 -36.7h2.4v1.1h-2.4zM-77.4 -36.7h6.9v1.1h-6.9zM94.3 -36.7h5.8v1.1h-5.8zM101 -36.7h1.2v1.1h-1.2zM103.3 -36.7h1.2v1.1h-1.2zM105.6 -36.7h3.5v1.1h-3.5zM-80.5 -37.7h9.1v1.1h-9.1zM95.1 -37.7h4.6v1.1h-4.6zM102.9 -37.7h5.7v1.1h-5.7zM114.2 -37.7h1.2v1.1h-1.2zM-85.8 -38.7h1.2v1.1h-1.2zM-83.6 -38.7h2.4v1.1h-2.4zM-76.9 -38.7h5.7v1.1h-5.7zM94.7 -38.7h5.7v1.1h-5.7zM101.4 -38.7h2.4v1.1h-2.4zM104.8 -38.7h3.5v1.1h-3.5zM112.6 -38.7h3.5v1.1h-3.5zM118.2 -38.7h1.2v1.1h-1.2zM121.6 -38.7h1.2v1.1h-1.2zM123.8 -38.7h1.2v1.1h-1.2zM-84.4 -39.7h3.5v1.1h-3.5zM-79.9 -39.7h1.2v1.1h-1.2zM-76.5 -39.7h5.7v1.1h-5.7zM96.5 -39.7h4.6v1.1h-4.6zM104.4 -39.7h3.5v1.1h-3.5zM112.2 -39.7h3.5v1.1h-3.5zM121.1 -39.7h1.2v1.1h-1.2zM124.5 -39.7h1.2v1.1h-1.2zM-86.2 -40.7h1.2v1.1h-1.2zM-84 -40.7h4.6v1.1h-4.6zM-78.5 -40.7h9v1.1h-9zM-6.2 -40.7h1.2v1.1h-1.2zM97.3 -40.7h2.3v1.1h-2.3zM105 -40.7h3.5v1.1h-3.5zM111.7 -40.7h3.5v1.1h-3.5zM121.7 -40.7h4.6v1.1h-4.6zM-83.7 -41.7h17.8v1.1h-17.8zM110.1 -41.7h1.2v1.1h-1.2zM112.4 -41.7h2.3v1.1h-2.3zM123.4 -41.7h2.3v1.1h-2.3zM-84.4 -42.7h11.1v1.1h-11.1zM-72.3 -42.7h6.7v1.1h-6.7zM-3.9 -42.7h1.2v1.1h-1.2zM109.6 -42.7h1.2v1.1h-1.2zM111.8 -42.7h1.2v1.1h-1.2zM122.9 -42.7h2.3v1.1h-2.3zM-82.9 -43.7h1.2v1.1h-1.2zM-80.7 -43.7h15.5v1.1h-15.5zM17 -43.7h1.2v1.1h-1.2zM108 -43.7h1.2v1.1h-1.2zM112.4 -43.7h1.2v1.1h-1.2zM-82.5 -44.8h15.4v1.1h-15.4zM-65 -44.8h2.3v1.1h-2.3zM11.4 -44.8h4.5v1.1h-4.5zM18 -44.8h2.3v1.1h-2.3zM-83.2 -45.8h22.9v1.1h-22.9zM7 -45.8h1.2v1.1h-1.2zM10.3 -45.8h3.4v1.1h-3.4zM17.9 -45.8h4.5v1.1h-4.5zM111.3 -45.8h1.2v1.1h-1.2zM-83.8 -46.8h10.9v1.1h-10.9zM-71.9 -46.8h10.9v1.1h-10.9zM10.2 -46.8h2.3v1.1h-2.3zM15.6 -46.8h6.6v1.1h-6.6zM121.5 -46.8h4.4v1.1h-4.4zM-83.3 -47.8h4.4v1.1h-4.4zM-78 -47.8h1.2v1.1h-1.2zM-75.8 -47.8h1.2v1.1h-1.2zM-73.7 -47.8h7.6v1.1h-7.6zM-64 -47.8h4.4v1.1h-4.4zM-57.6 -47.8h2.3v1.1h-2.3zM4.8 -47.8h2.3v1.1h-2.3zM9.1 -47.8h2.3v1.1h-2.3zM13.4 -47.8h1.2v1.1h-1.2zM17.7 -47.8h2.3v1.1h-2.3zM22 -47.8h1.2v1.1h-1.2zM33.8 -47.8h1.2v1.1h-1.2zM120.9 -47.8h4.4v1.1h-4.4zM-85 -48.8h18.3v1.1h-18.3zM-63.6 -48.8h5.5v1.1h-5.5zM-56.2 -48.8h3.3v1.1h-3.3zM4.8 -48.8h4.4v1.1h-4.4zM12.2 -48.8h3.3v1.1h-3.3zM28.3 -48.8h2.3v1.1h-2.3zM31.5 -48.8h1.2v1.1h-1.2zM115.9 -48.8h1.2v1.1h-1.2zM120.2 -48.8h2.3v1.1h-2.3zM-78.2 -49.8h7.6v1.1h-7.6zM-69.7 -49.8h2.2v1.1h-2.2zM-62.2 -49.8h7.6v1.1h-7.6zM-53.7 -49.8h3.3v1.1h-3.3zM3.7 -49.8h11.8v1.1h-11.8zM21.7 -49.8h3.3v1.1h-3.3zM28.1 -49.8h2.2v1.1h-2.2zM31.3 -49.8h3.3v1.1h-3.3zM103.6 -49.8h1.2v1.1h-1.2zM-77.7 -50.8h8.6v1.1h-8.6zM-68.2 -50.8h1.2v1.1h-1.2zM-66.1 -50.8h2.2v1.1h-2.2zM-62.9 -50.8h7.5v1.1h-7.5zM-48.1 -50.8h3.3v1.1h-3.3zM-1.6 -50.8h8.6v1.1h-8.6zM7.9 -50.8h27.6v1.1h-27.6zM119.9 -50.8h1.2v1.1h-1.2zM-78.3 -51.8h5.4v1.1h-5.4zM-72 -51.8h18v1.1h-18zM-49.9 -51.8h6.4v1.1h-6.4zM-3.7 -51.8h9.6v1.1h-9.6zM11 -51.8h7.5v1.1h-7.5zM19.4 -51.8h16.9v1.1h-16.9zM41.4 -51.8h1.2v1.1h-1.2zM119.2 -51.8h1.2v1.1h-1.2zM-89.3 -52.7h1.2v1.1h-1.2zM-83 -52.7h1.2v1.1h-1.2zM-76.8 -52.7h3.3v1.1h-3.3zM-72.6 -52.7h1.2v1.1h-1.2zM-70.5 -52.7h2.2v1.1h-2.2zM-67.4 -52.7h13.7v1.1h-13.7zM-49.6 -52.7h5.3v1.1h-5.3zM-2.7 -52.7h7.4v1.1h-7.4zM12 -52.7h24.1v1.1h-24.1zM118.4 -52.7h2.2v1.1h-2.2zM-100.2 -53.7h3.2v1.1h-3.2zM-76.3 -53.7h20.9v1.1h-20.9zM-48.3 -53.7h3.2v1.1h-3.2zM-1.6 -53.7h7.4v1.1h-7.4zM10.8 -53.7h27.1v1.1h-27.1zM55.5 -53.7h1.2v1.1h-1.2zM58.6 -53.7h1.2v1.1h-1.2zM108.4 -53.7h8.4v1.1h-8.4zM117.7 -53.7h2.2v1.1h-2.2zM-102.6 -54.7h2.2v1.1h-2.2zM-99.5 -54.7h1.2v1.1h-1.2zM-96.4 -54.7h1.2v1.1h-1.2zM-84 -54.7h2.2v1.1h-2.2zM-75.8 -54.7h7.3v1.1h-7.3zM-65.5 -54.7h5.3v1.1h-5.3zM-58.3 -54.7h4.2v1.1h-4.2zM-50 -54.7h4.2v1.1h-4.2zM-3.7 -54.7h3.2v1.1h-3.2zM1.5 -54.7h2.2v1.1h-2.2zM7.7 -54.7h2.2v1.1h-2.2zM10.8 -54.7h25.9v1.1h-25.9zM40.7 -54.7h1.2v1.1h-1.2zM47.9 -54.7h2.2v1.1h-2.2zM54.1 -54.7h1.2v1.1h-1.2zM57.1 -54.7h1.2v1.1h-1.2zM60.2 -54.7h2.2v1.1h-2.2zM64.4 -54.7h1.2v1.1h-1.2zM107.6 -54.7h4.2v1.1h-4.2zM112.8 -54.7h1.2v1.1h-1.2zM116.9 -54.7h2.2v1.1h-2.2zM-96.8 -55.7h2.2v1.1h-2.2zM-81.4 -55.7h1.1v1.1h-1.1zM-78.3 -55.7h7.3v1.1h-7.3zM-68.1 -55.7h1.1v1.1h-1.1zM-64 -55.7h9.3v1.1h-9.3zM-52.8 -55.7h1.1v1.1h-1.1zM-47.6 -55.7h2.2v1.1h-2.2zM-3.6 -55.7h1.1v1.1h-1.1zM-1.6 -55.7h1.1v1.1h-1.1zM0.5 -55.7h2.2v1.1h-2.2zM7.6 -55.7h13.4v1.1h-13.4zM22 -55.7h14.4v1.1h-14.4zM39.4 -55.7h11.4v1.1h-11.4zM57.8 -55.7h6.3v1.1h-6.3zM104.9 -55.7h5.2v1.1h-5.2zM116.1 -55.7h1.1v1.1h-1.1zM127.4 -55.7h2.2v1.1h-2.2zM-103.2 -56.7h1.1v1.1h-1.1zM-82.9 -56.7h1.1v1.1h-1.1zM-77.8 -56.7h5.2v1.1h-5.2zM-71.7 -56.7h3.2v1.1h-3.2zM-66.6 -56.7h1.1v1.1h-1.1zM-64.6 -56.7h1.1v1.1h-1.1zM-60.5 -56.7h7.2v1.1h-7.2zM-46.3 -56.7h1.1v1.1h-1.1zM-5.6 -56.7h1.1v1.1h-1.1zM-3.6 -56.7h5.2v1.1h-5.2zM5.5 -56.7h1.1v1.1h-1.1zM7.6 -56.7h10.3v1.1h-10.3zM18.8 -56.7h17.4v1.1h-17.4zM39.1 -56.7h11.3v1.1h-11.3zM54.3 -56.7h9.3v1.1h-9.3zM82.8 -56.7h1.1v1.1h-1.1zM103.1 -56.7h2.2v1.1h-2.2zM106.1 -56.7h3.2v1.1h-3.2zM115.3 -56.7h1.1v1.1h-1.1zM127.5 -56.7h2.2v1.1h-2.2zM-103.5 -57.6h1.1v1.1h-1.1zM-95.4 -57.6h2.1v1.1h-2.1zM-80.2 -57.6h3.1v1.1h-3.1zM-76.2 -57.6h1.1v1.1h-1.1zM-72.2 -57.6h3.1v1.1h-3.1zM-67.1 -57.6h1.1v1.1h-1.1zM-58.1 -57.6h1.1v1.1h-1.1zM-56 -57.6h2.1v1.1h-2.1zM-52 -57.6h1.1v1.1h-1.1zM-47 -57.6h1.1v1.1h-1.1zM-3.6 -57.6h4.2v1.1h-4.2zM3.5 -57.6h1.1v1.1h-1.1zM7.5 -57.6h3.1v1.1h-3.1zM14.6 -57.6h11.2v1.1h-11.2zM26.7 -57.6h4.2v1.1h-4.2zM31.7 -57.6h3.1v1.1h-3.1zM38.8 -57.6h2.1v1.1h-2.1zM41.8 -57.6h8.2v1.1h-8.2zM54.9 -57.6h4.2v1.1h-4.2zM61 -57.6h3.1v1.1h-3.1zM66 -57.6h6.2v1.1h-6.2zM73.1 -57.6h1.1v1.1h-1.1zM77.1 -57.6h7.2v1.1h-7.2zM86.2 -57.6h1.1v1.1h-1.1zM95.3 -57.6h1.1v1.1h-1.1zM97.3 -57.6h1.1v1.1h-1.1zM100.3 -57.6h3.1v1.1h-3.1zM108.4 -57.6h2.1v1.1h-2.1zM126.6 -57.6h2.1v1.1h-2.1zM-104.7 -58.6h2.1v1.1h-2.1zM-101.7 -58.6h1.1v1.1h-1.1zM-95.7 -58.6h1.1v1.1h-1.1zM-83.6 -58.6h1.1v1.1h-1.1zM-80.6 -58.6h2.1v1.1h-2.1zM-69.6 -58.6h1.1v1.1h-1.1zM-67.6 -58.6h1.1v1.1h-1.1zM-54.6 -58.6h3.1v1.1h-3.1zM-47.6 -58.6h2.1v1.1h-2.1zM-2.6 -58.6h2.1v1.1h-2.1zM6.5 -58.6h5.1v1.1h-5.1zM15.5 -58.6h8.1v1.1h-8.1zM25.5 -58.6h4.1v1.1h-4.1zM31.5 -58.6h3.1v1.1h-3.1zM37.5 -58.6h1.1v1.1h-1.1zM40.5 -58.6h10.1v1.1h-10.1zM54.5 -58.6h4.1v1.1h-4.1zM59.5 -58.6h3.1v1.1h-3.1zM64.5 -58.6h20.1v1.1h-20.1zM85.5 -58.6h5.1v1.1h-5.1zM91.6 -58.6h1.1v1.1h-1.1zM94.6 -58.6h3.1v1.1h-3.1zM98.6 -58.6h3.1v1.1h-3.1zM125.6 -58.6h1.1v1.1h-1.1zM-130.7 -59.6h1.1v1.1h-1.1zM-103.9 -59.6h1.1v1.1h-1.1zM-98.9 -59.6h5.1v1.1h-5.1zM-87 -59.6h1.1v1.1h-1.1zM-84 -59.6h1.1v1.1h-1.1zM-81 -59.6h1.1v1.1h-1.1zM-56.2 -59.6h5.1v1.1h-5.1zM-49.2 -59.6h2.1v1.1h-2.1zM-1.5 -59.6h1.1v1.1h-1.1zM6.4 -59.6h2.1v1.1h-2.1zM16.3 -59.6h6.1v1.1h-6.1zM23.3 -59.6h1.1v1.1h-1.1zM27.3 -59.6h1.1v1.1h-1.1zM30.2 -59.6h2.1v1.1h-2.1zM33.2 -59.6h2.1v1.1h-2.1zM36.2 -59.6h3.1v1.1h-3.1zM44.2 -59.6h1.1v1.1h-1.1zM46.1 -59.6h4.1v1.1h-4.1zM51.1 -59.6h1.1v1.1h-1.1zM54.1 -59.6h1.1v1.1h-1.1zM56.1 -59.6h7.1v1.1h-7.1zM65 -59.6h1.1v1.1h-1.1zM68 -59.6h1.1v1.1h-1.1zM71 -59.6h2.1v1.1h-2.1zM74 -59.6h8.1v1.1h-8.1zM84.9 -59.6h5.1v1.1h-5.1zM90.8 -59.6h7.1v1.1h-7.1zM105.7 -59.6h1.1v1.1h-1.1zM123.6 -59.6h2.1v1.1h-2.1zM126.6 -59.6h1.1v1.1h-1.1zM-104 -60.5h1.1v1.1h-1.1zM-96.1 -60.5h1.1v1.1h-1.1zM-85.3 -60.5h1.1v1.1h-1.1zM-83.3 -60.5h1.1v1.1h-1.1zM-81.3 -60.5h1.1v1.1h-1.1zM-54.7 -60.5h2.1v1.1h-2.1zM-51.8 -60.5h2.1v1.1h-2.1zM6.4 -60.5h1.1v1.1h-1.1zM16.2 -60.5h6v1.1h-6zM26.1 -60.5h1.1v1.1h-1.1zM28 -60.5h2.1v1.1h-2.1zM31 -60.5h9v1.1h-9zM44.8 -60.5h2.1v1.1h-2.1zM49.7 -60.5h1.1v1.1h-1.1zM53.7 -60.5h2.1v1.1h-2.1zM57.6 -60.5h4.1v1.1h-4.1zM63.5 -60.5h3.1v1.1h-3.1zM68.4 -60.5h1.1v1.1h-1.1zM72.4 -60.5h8v1.1h-8zM83.2 -60.5h1.1v1.1h-1.1zM88.1 -60.5h1.1v1.1h-1.1zM90.1 -60.5h8v1.1h-8zM122.6 -60.5h1.1v1.1h-1.1zM-103.2 -61.5h1.1v1.1h-1.1zM-101.2 -61.5h2.1v1.1h-2.1zM-97.3 -61.5h2.1v1.1h-2.1zM-84.6 -61.5h3.1v1.1h-3.1zM-56.3 -61.5h2.1v1.1h-2.1zM-53.3 -61.5h2.1v1.1h-2.1zM-50.4 -61.5h2.1v1.1h-2.1zM-4.4 -61.5h1.1v1.1h-1.1zM18 -61.5h7v1.1h-7zM25.9 -61.5h1.1v1.1h-1.1zM28.8 -61.5h2.1v1.1h-2.1zM31.7 -61.5h2.1v1.1h-2.1zM34.6 -61.5h7.9v1.1h-7.9zM46.4 -61.5h1.1v1.1h-1.1zM49.3 -61.5h5v1.1h-5zM60.1 -61.5h2.1v1.1h-2.1zM64 -61.5h1.1v1.1h-1.1zM65.9 -61.5h4v1.1h-4zM73.7 -61.5h4v1.1h-4zM78.6 -61.5h2.1v1.1h-2.1zM85.5 -61.5h6v1.1h-6zM93.3 -61.5h1.1v1.1h-1.1zM95.2 -61.5h4v1.1h-4zM101.1 -61.5h1.1v1.1h-1.1zM123.6 -61.5h1.1v1.1h-1.1zM-103.3 -62.4h6.9v1.1h-6.9zM-83.9 -62.4h1.1v1.1h-1.1zM-56.7 -62.4h1.1v1.1h-1.1zM-54.8 -62.4h1.1v1.1h-1.1zM-4.4 -62.4h2.1v1.1h-2.1zM5.3 -62.4h1.1v1.1h-1.1zM18.8 -62.4h5v1.1h-5zM24.7 -62.4h1.1v1.1h-1.1zM29.5 -62.4h2.1v1.1h-2.1zM34.4 -62.4h2.1v1.1h-2.1zM37.3 -62.4h2.1v1.1h-2.1zM40.2 -62.4h2.1v1.1h-2.1zM43.1 -62.4h2.1v1.1h-2.1zM49.9 -62.4h3v1.1h-3zM60.5 -62.4h2.1v1.1h-2.1zM65.4 -62.4h1.1v1.1h-1.1zM67.3 -62.4h1.1v1.1h-1.1zM71.2 -62.4h1.1v1.1h-1.1zM74.1 -62.4h2.1v1.1h-2.1zM78 -62.4h3v1.1h-3zM81.8 -62.4h2.1v1.1h-2.1zM84.8 -62.4h1.1v1.1h-1.1zM88.6 -62.4h1.1v1.1h-1.1zM92.5 -62.4h7.9v1.1h-7.9zM106.1 -62.4h3v1.1h-3zM121.6 -62.4h2.1v1.1h-2.1zM-102.4 -63.3h1.1v1.1h-1.1zM-100.5 -63.3h2v1.1h-2zM-83.2 -63.3h1.1v1.1h-1.1zM4.3 -63.3h2v1.1h-2zM21.6 -63.3h1.1v1.1h-1.1zM23.5 -63.3h2v1.1h-2zM29.3 -63.3h2v1.1h-2zM32.1 -63.3h1.1v1.1h-1.1zM34.1 -63.3h8.8v1.1h-8.8zM44.6 -63.3h1.1v1.1h-1.1zM55.2 -63.3h1.1v1.1h-1.1zM60 -63.3h1.1v1.1h-1.1zM61.9 -63.3h1.1v1.1h-1.1zM64.8 -63.3h4v1.1h-4zM69.6 -63.3h1.1v1.1h-1.1zM72.5 -63.3h4v1.1h-4zM79.2 -63.3h1.1v1.1h-1.1zM91.7 -63.3h1.1v1.1h-1.1zM93.6 -63.3h3v1.1h-3zM97.5 -63.3h1.1v1.1h-1.1zM101.3 -63.3h2v1.1h-2zM104.2 -63.3h4v1.1h-4zM121.5 -63.3h2v1.1h-2zM-114.8 -64.3h1.1v1.1h-1.1zM-33.9 -64.3h1.1v1.1h-1.1zM4.2 -64.3h1.1v1.1h-1.1zM6.1 -64.3h1.1v1.1h-1.1zM13.8 -64.3h1.1v1.1h-1.1zM21.4 -64.3h2v1.1h-2zM29 -64.3h2v1.1h-2zM33.8 -64.3h1.1v1.1h-1.1zM38.5 -64.3h2v1.1h-2zM41.4 -64.3h1.1v1.1h-1.1zM43.3 -64.3h3v1.1h-3zM48.1 -64.3h1.1v1.1h-1.1zM53.8 -64.3h3v1.1h-3zM63.3 -64.3h8.7v1.1h-8.7zM73.8 -64.3h2v1.1h-2zM77.6 -64.3h2v1.1h-2zM92.8 -64.3h4.9v1.1h-4.9zM99.5 -64.3h3v1.1h-3zM105.2 -64.3h1.1v1.1h-1.1zM110.9 -64.3h3v1.1h-3zM114.7 -64.3h2v1.1h-2zM117.6 -64.3h1.1v1.1h-1.1zM122.3 -64.3h2v1.1h-2zM-116.6 -65.2h2v1h-2zM-88.3 -65.2h1.1v1h-1.1zM-82.7 -65.2h1.1v1h-1.1zM-34.5 -65.2h3v1h-3zM4.2 -65.2h3v1h-3zM20.2 -65.2h1.1v1h-1.1zM24 -65.2h1.1v1h-1.1zM28.7 -65.2h3.9v1h-3.9zM37.2 -65.2h3.9v1h-3.9zM50.5 -65.2h1.1v1h-1.1zM55.2 -65.2h1.1v1h-1.1zM60.8 -65.2h4.8v1h-4.8zM66.5 -65.2h1.1v1h-1.1zM68.4 -65.2h2v1h-2zM74.1 -65.2h3v1h-3zM101.4 -65.2h1.1v1h-1.1zM105.2 -65.2h3v1h-3zM109.9 -65.2h1.1v1h-1.1zM111.8 -65.2h3.9v1h-3.9zM117.5 -65.2h1.1v1h-1.1zM-114.6 -66.1h1.1v1h-1.1zM-82.8 -66.1h1.1v1h-1.1zM-33.3 -66.1h1.1v1h-1.1zM4.2 -66.1h2.9v1h-2.9zM10.7 -66.1h1.1v1h-1.1zM16.3 -66.1h1.1v1h-1.1zM19.1 -66.1h2.9v1h-2.9zM22.9 -66.1h1.1v1h-1.1zM24.7 -66.1h2v1h-2zM27.5 -66.1h10.4v1h-10.4zM56.5 -66.1h1.1v1h-1.1zM60.3 -66.1h2.9v1h-2.9zM64 -66.1h2v1h-2zM68.7 -66.1h1.1v1h-1.1zM73.4 -66.1h1.1v1h-1.1zM75.2 -66.1h1.1v1h-1.1zM109.9 -66.1h2v1h-2zM122 -66.1h2v1h-2zM-116.3 -67h2.9v1h-2.9zM-83 -67h1v1h-1zM-35.7 -67h1v1h-1zM-32.9 -67h1v1h-1zM11.5 -67h2.9v1h-2.9zM18.9 -67h3.8v1h-3.8zM26.4 -67h3.8v1h-3.8zM32.8 -67h3.8v1h-3.8zM41.2 -67h1v1h-1zM55.1 -67h1v1h-1zM61.6 -67h1v1h-1zM64.4 -67h1v1h-1zM66.2 -67h2.9v1h-2.9zM69.9 -67h1v1h-1zM72.7 -67h2v1h-2zM123.7 -67h1v1h-1zM131.1 -67h1v1h-1zM-115.2 -67.9h1v1h-1zM-83.1 -67.9h1v1h-1zM-16.1 -67.9h1v1h-1zM13.3 -67.9h2v1h-2zM21.5 -67.9h2v1h-2zM27 -67.9h2v1h-2zM35.3 -67.9h2v1h-2zM39.9 -67.9h1v1h-1zM61.9 -67.9h1v1h-1zM65.6 -67.9h1v1h-1zM114.2 -67.9h1v1h-1zM120.7 -67.9h2v1h-2zM128 -67.9h1v1h-1zM-115.9 -68.8h1v1h-1zM-113.2 -68.8h1v1h-1zM-94.1 -68.8h1v1h-1zM-85 -68.8h1v1h-1zM-83.2 -68.8h1v1h-1zM-37.8 -68.8h1v1h-1zM-16.9 -68.8h1.9v1h-1.9zM13.1 -68.8h1.9v1h-1.9zM18.6 -68.8h2.8v1h-2.8zM22.2 -68.8h1v1h-1zM26.8 -68.8h1v1h-1zM38.6 -68.8h1v1h-1zM40.4 -68.8h1.9v1h-1.9zM44.9 -68.8h1.9v1h-1.9zM64.9 -68.8h1v1h-1zM71.3 -68.8h1v1h-1zM114 -68.8h1v1h-1zM119.5 -68.8h1v1h-1zM124.9 -68.8h1.9v1h-1.9zM128.6 -68.8h1v1h-1zM-123.8 -69.7h1v1h-1zM-95.9 -69.7h1.9v1h-1.9zM-83.3 -69.7h1v1h-1zM-45.5 -69.7h1v1h-1zM-17.6 -69.7h3.7v1h-3.7zM12.1 -69.7h2.8v1h-2.8zM18.4 -69.7h4.6v1h-4.6zM29.2 -69.7h1v1h-1zM40.9 -69.7h1v1h-1zM67 -69.7h1.9v1h-1.9zM69.7 -69.7h1.9v1h-1.9zM76.9 -69.7h1v1h-1zM119.2 -69.7h1v1h-1zM121.9 -69.7h1v1h-1zM126.4 -69.7h1v1h-1zM-122.6 -70.6h1v1h-1zM-119.9 -70.6h1v1h-1zM-116.3 -70.6h1v1h-1zM-114.5 -70.6h1.9v1h-1.9zM-109.2 -70.6h1v1h-1zM-82.5 -70.6h1v1h-1zM-29.9 -70.6h1v1h-1zM-26.3 -70.6h1.9v1h-1.9zM8.4 -70.6h1v1h-1zM12.9 -70.6h1v1h-1zM20 -70.6h1v1h-1zM22.7 -70.6h1v1h-1zM25.3 -70.6h2.8v1h-2.8zM40.5 -70.6h1v1h-1zM81.5 -70.6h1.9v1h-1.9zM119.8 -70.6h1v1h-1zM-116.9 -71.5h1.9v1h-1.9zM-113.4 -71.5h1v1h-1zM-86.9 -71.5h1v1h-1zM-84.3 -71.5h1.9v1h-1.9zM-26.9 -71.5h1.9v1h-1.9zM-24.3 -71.5h1v1h-1zM11.9 -71.5h1v1h-1zM18 -71.5h1v1h-1zM20.7 -71.5h3.6v1h-3.6zM25.1 -71.5h1v1h-1zM26.8 -71.5h1.9v1h-1.9zM70.1 -71.5h1v1h-1zM81.5 -71.5h1v1h-1zM116.8 -71.5h1v1h-1zM118.6 -71.5h1.9v1h-1.9zM-114.8 -72.3h2.7v1h-2.7zM-89.5 -72.3h1v1h-1zM-86.9 -72.3h1v1h-1zM-84.3 -72.3h1v1h-1zM-82.5 -72.3h1v1h-1zM-58.1 -72.3h1v1h-1zM-50.2 -72.3h1v1h-1zM-24.9 -72.3h1v1h-1zM-21.4 -72.3h1v1h-1zM10.9 -72.3h1.9v1h-1.9zM13.5 -72.3h1.9v1h-1.9zM17.8 -72.3h3.6v1h-3.6zM24.8 -72.3h1v1h-1zM65 -72.3h1v1h-1zM71.9 -72.3h3.6v1h-3.6zM118.2 -72.3h4.5v1h-4.5zM-89.4 -73.2h1.8v1h-1.8zM-86.8 -73.2h1v1h-1zM-49.7 -73.2h1v1h-1zM-35.9 -73.2h1v1h-1zM-17.7 -73.2h1.8v1h-1.8zM11.6 -73.2h1.8v1h-1.8zM14.2 -73.2h1v1h-1zM17.6 -73.2h1v1h-1zM19.4 -73.2h2.7v1h-2.7zM23.7 -73.2h1v1h-1zM75.5 -73.2h2.7v1h-2.7zM116.9 -73.2h2.7v1h-2.7zM122.1 -73.2h1v1h-1zM-102.9 -74h1v1h-1zM-87.6 -74h1v1h-1zM-37.2 -74h1v1h-1zM-21 -74h1v1h-1zM-18.4 -74h1v1h-1zM14 -74h1v1h-1zM18.3 -74h1.8v1h-1.8zM76.4 -74h1v1h-1zM78.9 -74h1v1h-1zM-55.3 -74.9h1v1h-1zM-17.4 -74.9h1v1h-1zM17.3 -74.9h1.8v1h-1.8zM36.7 -74.9h1.8v1h-1.8zM77.2 -74.9h1.8v1h-1.8zM85.6 -74.9h1v1h-1zM-83.9 -75.7h1v0.9h-1zM-53.9 -75.7h1v0.9h-1zM-17.1 -75.7h2.6v0.9h-2.6zM37.1 -75.7h1.8v0.9h-1.8zM77.9 -75.7h1v0.9h-1zM81.3 -75.7h1v0.9h-1zM-77.9 -76.5h0.9v0.9h-0.9zM-65.6 -76.5h0.9v0.9h-0.9zM-54.8 -76.5h1.8v0.9h-1.8zM-16.1 -76.5h0.9v0.9h-0.9zM-76.9 -77.3h0.9v0.9h-0.9zM-63.9 -77.3h1.7v0.9h-1.7zM79.3 -77.3h0.9v0.9h-0.9zM37.3 -78.1h0.9v0.9h-0.9zM89.4 -78.1h0.9v0.9h-0.9zM36 -78.9h0.9v0.9h-0.9zM88.2 -78.9h0.9v0.9h-0.9zM89.8 -78.9h3.3v0.9h-3.3zM93.7 -78.9h0.9v0.9h-0.9zM-42.6 -79.7h0.9v0.9h-0.9zM9.7 -79.7h0.9v0.9h-0.9zM-44.2 -80.4h2.4v0.9h-2.4zM-39.6 -80.4h0.9v0.9h-0.9zM-44.3 -81.2h0.9v0.8h-0.9zM-40.5 -81.2h0.9v0.8h-0.9zM10.2 -81.2h0.9v0.8h-0.9zM-40.6 -81.9h2.4v0.8h-2.4zM-42.9 -82.5h0.9v0.8h-0.9zM-39.3 -82.5h0.9v0.8h-0.9zM-37.8 -82.5h0.9v0.8h-0.9zM-31.2 -82.5h0.9v0.8h-0.9zM-13.6 -82.5h1.6v0.8h-1.6zM10.6 -82.5h1.6v0.8h-1.6zM-46.6 -83.2h0.8v0.8h-0.8zM-30 -83.2h1.6v0.8h-1.6zM-11.2 -83.2h0.8v0.8h-0.8zM-48.7 -83.8h0.8v0.7h-0.8zM-40.9 -83.8h0.8v0.7h-0.8z"/><path fill="#ffbe14" d="M-44.6 70.5h1v1h-1zM-45.9 69.6h1v1h-1zM-45 67.8h1.9v1h-1.9zM-53.9 34.5h1.3v1.1h-1.3zM-51.8 33.5h1.3v1.1h-1.3zM-48.7 31.5h2.4v1.1h-2.4zM-50 30.4h4.7v1.1h-4.7zM-50.1 29.4h4.7v1.1h-4.7zM-51.4 28.4h5.9v1.1h-5.9zM-50.4 27.4h2.4v1.1h-2.4zM-51.6 26.4h2.4v1.1h-2.4zM-48.1 26.4h1.3v1.1h-1.3zM-50.6 25.4h3.6v1.1h-3.6zM-67 11.1h1.3v1.1h-1.3zM-58.7 11.1h1.3v1.1h-1.3zM-61.2 9.1h1.3v1.1h-1.3zM134.6 9.1h1.3v1.1h-1.3zM-54.1 8.1h1.3v1.1h-1.3zM131.1 8.1h6.1v1.1h-6.1zM138.3 8.1h2.5v1.1h-2.5zM133.6 7.1h7.2v1.1h-7.2zM-76.7 6.1h1.3v1.1h-1.3zM-54.1 6.1h1.3v1.1h-1.3zM-49.4 6.1h1.3v1.1h-1.3zM133.7 6.1h2.5v1.1h-2.5zM137.2 6.1h1.3v1.1h-1.3zM139.6 6.1h4.9v1.1h-4.9zM-55.3 5h1.3v1.1h-1.3zM98.1 5h1.3v1.1h-1.3zM130.2 5h1.3v1.1h-1.3zM133.7 5h1.3v1.1h-1.3zM137.3 5h2.5v1.1h-2.5zM143.2 5h1.3v1.1h-1.3zM96.9 4h3.7v1.1h-3.7zM126.7 4h12v1.1h-12zM-67.3 3h1.3v1.1h-1.3zM96.9 3h2.5v1.1h-2.5zM108.8 3h2.5v1.1h-2.5zM125.5 3h3.7v1.1h-3.7zM130.3 3h7.3v1.1h-7.3zM-63.7 2h1.3v1.1h-1.3zM22 2h1.3v1.1h-1.3zM95.8 2h3.7v1.1h-3.7zM125.5 2h2.5v1.1h-2.5zM129.1 2h4.9v1.1h-4.9zM-75.7 1h1.3v1.1h-1.3zM-68.5 1h2.5v1.1h-2.5zM-63.8 1h1.3v1.1h-1.3zM-50.7 1h1.3v1.1h-1.3zM95.8 1h3.7v1.1h-3.7zM108.9 1h2.5v1.1h-2.5zM125.6 1h2.5v1.1h-2.5zM-75.7 0h4.9v1.1h-4.9zM-69.7 0h3.7v1.1h-3.7zM-65 0h7.3v1.1h-7.3zM-54.2 0h1.3v1.1h-1.3zM13.6 0h1.3v1.1h-1.3zM20.8 0h1.3v1.1h-1.3zM94.6 0h3.7v1.1h-3.7zM103 0h6.1v1.1h-6.1zM-74.5 -1.1h1.3v1.1h-1.3zM-72.1 -1.1h1.3v1.1h-1.3zM-69.7 -1.1h2.5v1.1h-2.5zM-66.1 -1.1h3.7v1.1h-3.7zM-61.4 -1.1h2.5v1.1h-2.5zM94.6 -1.1h1.3v1.1h-1.3zM97 -1.1h1.3v1.1h-1.3zM103 -1.1h1.3v1.1h-1.3zM105.3 -1.1h3.7v1.1h-3.7zM-69.7 -2.1h2.5v1.1h-2.5zM-64.9 -2.1h8.5v1.1h-8.5zM8.9 -2.1h6.1v1.1h-6.1zM16 -2.1h2.5v1.1h-2.5zM22 -2.1h3.7v1.1h-3.7zM27.9 -2.1h1.3v1.1h-1.3zM94.6 -2.1h2.5v1.1h-2.5zM98.2 -2.1h1.3v1.1h-1.3zM102.9 -2.1h7.3v1.1h-7.3zM-69.7 -3.1h2.5v1.1h-2.5zM-64.9 -3.1h7.3v1.1h-7.3zM-56.6 -3.1h1.3v1.1h-1.3zM8.9 -3.1h6.1v1.1h-6.1zM16 -3.1h2.5v1.1h-2.5zM22 -3.1h1.3v1.1h-1.3zM26.7 -3.1h2.5v1.1h-2.5zM93.4 -3.1h1.3v1.1h-1.3zM95.8 -3.1h3.7v1.1h-3.7zM106.5 -3.1h1.3v1.1h-1.3zM108.9 -3.1h1.3v1.1h-1.3zM111.3 -3.1h1.3v1.1h-1.3zM-70.9 -4.1h9.6v1.1h-9.6zM8.9 -4.1h10.8v1.1h-10.8zM20.8 -4.1h2.5v1.1h-2.5zM24.3 -4.1h4.9v1.1h-4.9zM94.6 -4.1h4.9v1.1h-4.9zM111.2 -4.1h1.3v1.1h-1.3zM-70.8 -5.1h6.1v1.1h-6.1zM5.3 -5.1h7.3v1.1h-7.3zM13.6 -5.1h6.1v1.1h-6.1zM20.8 -5.1h6.1v1.1h-6.1zM91 -5.1h3.7v1.1h-3.7zM95.7 -5.1h3.7v1.1h-3.7zM111.2 -5.1h1.3v1.1h-1.3zM-73.2 -6.2h3.7v1.1h-3.7zM-51.8 -6.2h1.3v1.1h-1.3zM-9 -6.2h2.5v1.1h-2.5zM-1.8 -6.2h1.3v1.1h-1.3zM10.1 -6.2h7.3v1.1h-7.3zM18.4 -6.2h3.7v1.1h-3.7zM24.3 -6.2h2.5v1.1h-2.5zM90.9 -6.2h2.5v1.1h-2.5zM95.7 -6.2h2.5v1.1h-2.5zM-73.2 -7.2h2.5v1.1h-2.5zM-61.3 -7.2h1.3v1.1h-1.3zM-10.2 -7.2h2.5v1.1h-2.5zM1.7 -7.2h1.3v1.1h-1.3zM11.2 -7.2h2.5v1.1h-2.5zM14.8 -7.2h1.3v1.1h-1.3zM94.4 -7.2h3.7v1.1h-3.7zM-74.3 -8.2h1.3v1.1h-1.3zM-71.9 -8.2h2.5v1.1h-2.5zM-11.3 -8.2h6.1v1.1h-6.1zM5.3 -8.2h1.3v1.1h-1.3zM26.7 -8.2h1.3v1.1h-1.3zM94.4 -8.2h2.5v1.1h-2.5zM-79 -9.2h8.4v1.1h-8.4zM-60 -9.2h1.3v1.1h-1.3zM-11.3 -9.2h3.7v1.1h-3.7zM93.2 -9.2h2.5v1.1h-2.5zM-80.1 -10.2h9.6v1.1h-9.6zM-12.5 -10.2h3.7v1.1h-3.7zM93.1 -10.2h2.5v1.1h-2.5zM-81.3 -11.2h3.7v1.1h-3.7zM-71.8 -11.2h1.3v1.1h-1.3zM-10.1 -11.2h1.3v1.1h-1.3zM93 -11.2h1.3v1.1h-1.3zM-81.2 -12.3h2.5v1.1h-2.5zM100.1 -12.3h1.3v1.1h-1.3zM-81.1 -13.3h2.5v1.1h-2.5zM-79.9 -14.3h1.3v1.1h-1.3zM-86.6 -17.3h1.3v1.1h-1.3zM91.3 -17.3h1.3v1.1h-1.3zM-85.1 -20.4h1.3v1.1h-1.3zM101.4 -20.4h1.3v1.1h-1.3zM-85 -21.4h1.3v1.1h-1.3zM69.6 -21.4h1.3v1.1h-1.3zM76.7 -21.4h2.5v1.1h-2.5zM-72 -22.4h1.3v1.1h-1.3zM71.9 -22.4h1.3v1.1h-1.3zM74.2 -22.4h1.3v1.1h-1.3zM77.7 -22.4h1.3v1.1h-1.3zM68.2 -23.4h1.3v1.1h-1.3zM70.6 -23.4h1.3v1.1h-1.3zM72.9 -23.4h1.3v1.1h-1.3zM75.2 -23.4h1.3v1.1h-1.3zM77.6 -23.4h2.5v1.1h-2.5zM76.3 -24.5h2.5v1.1h-2.5zM99.6 -24.5h1.3v1.1h-1.3zM72.7 -25.5h4.8v1.1h-4.8zM101.7 -25.5h1.3v1.1h-1.3zM72.5 -26.5h4.8v1.1h-4.8zM100.4 -26.5h2.4v1.1h-2.4zM73.5 -27.5h2.4v1.1h-2.4zM100.2 -27.5h1.3v1.1h-1.3zM95.4 -28.5h1.3v1.1h-1.3zM100 -28.5h1.3v1.1h-1.3zM84.7 -29.5h1.3v1.1h-1.3zM96.3 -29.5h1.3v1.1h-1.3zM-71.5 -37.7h2.4v1.1h-2.4zM-71.2 -38.7h3.5v1.1h-3.5zM-71 -39.7h3.5v1.1h-3.5zM-69.6 -40.7h2.3v1.1h-2.3zM-73.4 -42.7h1.2v1.1h-1.2zM-74.7 -47.8h1.2v1.1h-1.2zM-66.2 -47.8h2.3v1.1h-2.3zM-66.9 -48.8h3.3v1.1h-3.3zM-70.7 -49.8h1.2v1.1h-1.2zM-67.5 -49.8h5.4v1.1h-5.4zM-69.3 -50.8h1.2v1.1h-1.2zM-67.1 -50.8h1.2v1.1h-1.2zM-64 -50.8h1.2v1.1h-1.2zM6.8 -50.8h1.2v1.1h-1.2zM5.7 -51.8h5.4v1.1h-5.4zM-73.7 -52.7h1.2v1.1h-1.2zM-71.6 -52.7h1.2v1.1h-1.2zM-68.4 -52.7h1.2v1.1h-1.2zM4.6 -52.7h7.4v1.1h-7.4zM5.7 -53.7h5.3v1.1h-5.3zM-100.5 -54.7h1.2v1.1h-1.2zM-98.5 -54.7h2.2v1.1h-2.2zM-68.6 -54.7h3.2v1.1h-3.2zM-54.2 -54.7h4.2v1.1h-4.2zM-4.7 -54.7h1.2v1.1h-1.2zM0.5 -54.7h1.2v1.1h-1.2zM3.6 -54.7h4.2v1.1h-4.2zM9.7 -54.7h1.2v1.1h-1.2zM111.8 -54.7h1.2v1.1h-1.2zM113.8 -54.7h2.2v1.1h-2.2zM-102.9 -55.7h2.2v1.1h-2.2zM-98.8 -55.7h2.2v1.1h-2.2zM-71.2 -55.7h3.2v1.1h-3.2zM-67.1 -55.7h3.2v1.1h-3.2zM-54.8 -55.7h2.2v1.1h-2.2zM-51.7 -55.7h4.2v1.1h-4.2zM2.5 -55.7h5.2v1.1h-5.2zM20.9 -55.7h1.1v1.1h-1.1zM110 -55.7h6.3v1.1h-6.3zM-98.1 -56.7h3.2v1.1h-3.2zM-68.6 -56.7h2.2v1.1h-2.2zM-63.6 -56.7h3.2v1.1h-3.2zM-53.4 -56.7h7.2v1.1h-7.2zM-8.7 -56.7h3.2v1.1h-3.2zM3.5 -56.7h2.2v1.1h-2.2zM6.6 -56.7h1.1v1.1h-1.1zM17.7 -56.7h1.1v1.1h-1.1zM105.1 -56.7h1.1v1.1h-1.1zM109.2 -56.7h6.2v1.1h-6.2zM126.5 -56.7h1.1v1.1h-1.1zM-102.4 -57.6h1.1v1.1h-1.1zM-100.4 -57.6h2.1v1.1h-2.1zM-97.4 -57.6h2.1v1.1h-2.1zM-77.2 -57.6h1.1v1.1h-1.1zM-75.2 -57.6h3.1v1.1h-3.1zM-69.2 -57.6h2.1v1.1h-2.1zM-64.1 -57.6h2.1v1.1h-2.1zM-61.1 -57.6h3.1v1.1h-3.1zM-57 -57.6h1.1v1.1h-1.1zM-54 -57.6h2.1v1.1h-2.1zM-50 -57.6h3.1v1.1h-3.1zM-8.6 -57.6h1.1v1.1h-1.1zM-6.6 -57.6h2.1v1.1h-2.1zM4.5 -57.6h3.1v1.1h-3.1zM30.7 -57.6h1.1v1.1h-1.1zM59 -57.6h2.1v1.1h-2.1zM103.4 -57.6h5.2v1.1h-5.2zM110.4 -57.6h3.1v1.1h-3.1zM114.4 -57.6h1.1v1.1h-1.1zM125.5 -57.6h1.1v1.1h-1.1zM-102.7 -58.6h1.1v1.1h-1.1zM-99.7 -58.6h4.1v1.1h-4.1zM-78.6 -58.6h3.1v1.1h-3.1zM-73.6 -58.6h4.1v1.1h-4.1zM-68.6 -58.6h1.1v1.1h-1.1zM-66.6 -58.6h1.1v1.1h-1.1zM-63.6 -58.6h9.1v1.1h-9.1zM-51.6 -58.6h4.1v1.1h-4.1zM-8.6 -58.6h4.1v1.1h-4.1zM38.5 -58.6h1.1v1.1h-1.1zM58.5 -58.6h1.1v1.1h-1.1zM84.5 -58.6h1.1v1.1h-1.1zM97.6 -58.6h1.1v1.1h-1.1zM101.6 -58.6h4.1v1.1h-4.1zM106.6 -58.6h3.1v1.1h-3.1zM126.6 -58.6h3.1v1.1h-3.1zM-102.9 -59.6h3.1v1.1h-3.1zM-79 -59.6h1.1v1.1h-1.1zM-71.1 -59.6h6.1v1.1h-6.1zM-62.1 -59.6h1.1v1.1h-1.1zM-59.2 -59.6h3.1v1.1h-3.1zM-51.2 -59.6h2.1v1.1h-2.1zM-6.5 -59.6h5.1v1.1h-5.1zM26.3 -59.6h1.1v1.1h-1.1zM32.2 -59.6h1.1v1.1h-1.1zM39.2 -59.6h5.1v1.1h-5.1zM45.1 -59.6h1.1v1.1h-1.1zM55.1 -59.6h1.1v1.1h-1.1zM66 -59.6h2.1v1.1h-2.1zM69 -59.6h2.1v1.1h-2.1zM73 -59.6h1.1v1.1h-1.1zM81.9 -59.6h3.1v1.1h-3.1zM97.8 -59.6h5.1v1.1h-5.1zM104.8 -59.6h1.1v1.1h-1.1zM106.7 -59.6h3.1v1.1h-3.1zM125.6 -59.6h1.1v1.1h-1.1zM127.6 -59.6h1.1v1.1h-1.1zM-103 -60.5h4.1v1.1h-4.1zM-98.1 -60.5h2.1v1.1h-2.1zM-80.4 -60.5h1.1v1.1h-1.1zM-69.5 -60.5h1.1v1.1h-1.1zM-58.7 -60.5h4.1v1.1h-4.1zM-52.8 -60.5h1.1v1.1h-1.1zM-49.8 -60.5h2.1v1.1h-2.1zM-4.5 -60.5h3.1v1.1h-3.1zM30 -60.5h1.1v1.1h-1.1zM39.9 -60.5h5v1.1h-5zM46.8 -60.5h1.1v1.1h-1.1zM48.7 -60.5h1.1v1.1h-1.1zM55.6 -60.5h2.1v1.1h-2.1zM66.5 -60.5h2.1v1.1h-2.1zM69.4 -60.5h3.1v1.1h-3.1zM80.3 -60.5h3.1v1.1h-3.1zM84.2 -60.5h2.1v1.1h-2.1zM89.1 -60.5h1.1v1.1h-1.1zM98 -60.5h3.1v1.1h-3.1zM101.9 -60.5h4.1v1.1h-4.1zM107.9 -60.5h1.1v1.1h-1.1zM123.6 -60.5h4.1v1.1h-4.1zM-119.8 -61.5h1.1v1.1h-1.1zM-99.3 -61.5h2.1v1.1h-2.1zM-81.7 -61.5h3.1v1.1h-3.1zM-60.2 -61.5h4v1.1h-4zM-54.3 -61.5h1.1v1.1h-1.1zM-51.4 -61.5h1.1v1.1h-1.1zM-3.5 -61.5h2.1v1.1h-2.1zM43.4 -61.5h3.1v1.1h-3.1zM47.4 -61.5h2.1v1.1h-2.1zM54.2 -61.5h6v1.1h-6zM63 -61.5h1.1v1.1h-1.1zM64.9 -61.5h1.1v1.1h-1.1zM69.8 -61.5h1.1v1.1h-1.1zM72.8 -61.5h1.1v1.1h-1.1zM80.6 -61.5h5v1.1h-5zM99.2 -61.5h2.1v1.1h-2.1zM102.1 -61.5h4v1.1h-4zM107 -61.5h2.1v1.1h-2.1zM122.6 -61.5h1.1v1.1h-1.1zM124.6 -61.5h3.1v1.1h-3.1zM-120.7 -62.4h1.1v1.1h-1.1zM-118.8 -62.4h1.1v1.1h-1.1zM-82.9 -62.4h1.1v1.1h-1.1zM-81 -62.4h1.1v1.1h-1.1zM-60.6 -62.4h1.1v1.1h-1.1zM-55.8 -62.4h1.1v1.1h-1.1zM-53.8 -62.4h1.1v1.1h-1.1zM-51.9 -62.4h3v1.1h-3zM23.7 -62.4h1.1v1.1h-1.1zM36.3 -62.4h1.1v1.1h-1.1zM39.2 -62.4h1.1v1.1h-1.1zM45 -62.4h5v1.1h-5zM52.8 -62.4h7.9v1.1h-7.9zM62.5 -62.4h1.1v1.1h-1.1zM68.3 -62.4h3v1.1h-3zM72.2 -62.4h2.1v1.1h-2.1zM100.3 -62.4h5.9v1.1h-5.9zM109 -62.4h1.1v1.1h-1.1zM123.5 -62.4h3v1.1h-3zM-123.5 -63.3h1.1v1.1h-1.1zM-121.6 -63.3h1.1v1.1h-1.1zM-101.4 -63.3h1.1v1.1h-1.1zM-82.2 -63.3h1.1v1.1h-1.1zM-57.2 -63.3h2v1.1h-2zM-49.5 -63.3h1.1v1.1h-1.1zM-3.4 -63.3h1.1v1.1h-1.1zM42.7 -63.3h2v1.1h-2zM45.6 -63.3h9.7v1.1h-9.7zM56.2 -63.3h4v1.1h-4zM61 -63.3h1.1v1.1h-1.1zM63.9 -63.3h1.1v1.1h-1.1zM68.7 -63.3h1.1v1.1h-1.1zM70.6 -63.3h2v1.1h-2zM100.4 -63.3h1.1v1.1h-1.1zM103.2 -63.3h1.1v1.1h-1.1zM108.1 -63.3h3v1.1h-3zM123.4 -63.3h3v1.1h-3zM-122.4 -64.3h1.1v1.1h-1.1zM-120.5 -64.3h1.1v1.1h-1.1zM-118.6 -64.3h3.9v1.1h-3.9zM-82.4 -64.3h1.1v1.1h-1.1zM-80.5 -64.3h1.1v1.1h-1.1zM-56.7 -64.3h1.1v1.1h-1.1zM-50.1 -64.3h1.1v1.1h-1.1zM-34.8 -64.3h1.1v1.1h-1.1zM37.6 -64.3h1.1v1.1h-1.1zM42.3 -64.3h1.1v1.1h-1.1zM46.1 -64.3h2v1.1h-2zM50.9 -64.3h3v1.1h-3zM56.6 -64.3h3v1.1h-3zM60.4 -64.3h3v1.1h-3zM102.3 -64.3h1.1v1.1h-1.1zM106.2 -64.3h4.9v1.1h-4.9zM113.8 -64.3h1.1v1.1h-1.1zM121.4 -64.3h1.1v1.1h-1.1zM125.2 -64.3h3v1.1h-3zM-123.2 -65.2h2v1h-2zM-36.4 -65.2h2v1h-2zM41 -65.2h1.1v1h-1.1zM43.8 -65.2h2v1h-2zM46.7 -65.2h1.1v1h-1.1zM49.5 -65.2h1.1v1h-1.1zM51.4 -65.2h2v1h-2zM54.2 -65.2h1.1v1h-1.1zM56.1 -65.2h3v1h-3zM59.9 -65.2h1.1v1h-1.1zM110.9 -65.2h1.1v1h-1.1zM124.1 -65.2h1.1v1h-1.1zM-116.5 -66.1h2v1h-2zM-81.9 -66.1h2v1h-2zM-53.8 -66.1h1.1v1h-1.1zM-36.1 -66.1h2.9v1h-2.9zM23.8 -66.1h1.1v1h-1.1zM37.8 -66.1h2v1h-2zM50 -66.1h5.7v1h-5.7zM63.1 -66.1h1.1v1h-1.1zM129.5 -66.1h1.1v1h-1.1zM-82.1 -67h1v1h-1zM-78.4 -67h1v1h-1zM-53.3 -67h1v1h-1zM-51.5 -67h1v1h-1zM-37.6 -67h2v1h-2zM-32 -67h1v1h-1zM22.7 -67h3.8v1h-3.8zM30.1 -67h2.9v1h-2.9zM36.6 -67h1v1h-1zM38.4 -67h2.9v1h-2.9zM42.1 -67h1v1h-1zM44.9 -67h1v1h-1zM48.6 -67h1v1h-1zM50.5 -67h1v1h-1zM52.3 -67h2.9v1h-2.9zM56 -67h1v1h-1zM60.6 -67h1v1h-1zM62.5 -67h1v1h-1zM121.8 -67h2v1h-2zM125.5 -67h2v1h-2zM128.3 -67h2v1h-2zM-117.1 -67.9h2v1h-2zM-82.2 -67.9h1v1h-1zM-77.6 -67.9h1v1h-1zM-51.9 -67.9h1v1h-1zM-49.2 -67.9h2v1h-2zM-37.2 -67.9h2v1h-2zM-31.7 -67.9h1v1h-1zM-15.2 -67.9h2.9v1h-2.9zM23.4 -67.9h3.8v1h-3.8zM29.8 -67.9h5.6v1h-5.6zM37.1 -67.9h2.9v1h-2.9zM40.8 -67.9h1v1h-1zM44.5 -67.9h2.9v1h-2.9zM48.1 -67.9h1v1h-1zM60.1 -67.9h2v1h-2zM122.5 -67.9h1v1h-1zM128.9 -67.9h1v1h-1zM-115 -68.8h1v1h-1zM-82.3 -68.8h1v1h-1zM-76.9 -68.8h1v1h-1zM-47.8 -68.8h1.9v1h-1.9zM-36.9 -68.8h1v1h-1zM-31.4 -68.8h1v1h-1zM-29.6 -68.8h1v1h-1zM-15 -68.8h3.8v1h-3.8zM12.2 -68.8h1v1h-1zM23.1 -68.8h2.8v1h-2.8zM27.7 -68.8h1v1h-1zM29.5 -68.8h1.9v1h-1.9zM32.2 -68.8h2.8v1h-2.8zM35.9 -68.8h2.8v1h-2.8zM39.5 -68.8h1v1h-1zM42.2 -68.8h1v1h-1zM44 -68.8h1v1h-1zM63.1 -68.8h1v1h-1zM120.4 -68.8h1.9v1h-1.9zM123.1 -68.8h1.9v1h-1.9zM126.8 -68.8h1v1h-1zM129.5 -68.8h1v1h-1zM-119.3 -69.7h1v1h-1zM-117.5 -69.7h1v1h-1zM-115.7 -69.7h1v1h-1zM-82.4 -69.7h1v1h-1zM-49.1 -69.7h1v1h-1zM-38.3 -69.7h2.8v1h-2.8zM-29.3 -69.7h1v1h-1zM-27.5 -69.7h1.9v1h-1.9zM-14 -69.7h1v1h-1zM-11.3 -69.7h1v1h-1zM22.9 -69.7h1v1h-1zM30.1 -69.7h3.7v1h-3.7zM35.5 -69.7h1.9v1h-1.9zM38.2 -69.7h2.8v1h-2.8zM41.8 -69.7h1.9v1h-1.9zM44.5 -69.7h1.9v1h-1.9zM62.5 -69.7h1v1h-1zM64.3 -69.7h2.8v1h-2.8zM120.1 -69.7h1.9v1h-1.9zM122.8 -69.7h1.9v1h-1.9zM125.5 -69.7h1v1h-1zM-123.5 -70.6h1v1h-1zM-119 -70.6h1v1h-1zM-115.4 -70.6h1v1h-1zM-66.4 -70.6h1v1h-1zM-63.8 -70.6h1.9v1h-1.9zM-61.1 -70.6h1v1h-1zM-48.6 -70.6h1v1h-1zM-45 -70.6h1v1h-1zM-37 -70.6h1v1h-1zM-29 -70.6h1v1h-1zM-13 -70.6h1v1h-1zM23.6 -70.6h1.9v1h-1.9zM28 -70.6h1v1h-1zM30.7 -70.6h1.9v1h-1.9zM33.4 -70.6h1v1h-1zM36 -70.6h1v1h-1zM37.8 -70.6h2.8v1h-2.8zM41.4 -70.6h1.9v1h-1.9zM61.9 -70.6h3.7v1h-3.7zM66.3 -70.6h1v1h-1zM68.1 -70.6h2.8v1h-2.8zM118 -70.6h1v1h-1zM120.7 -70.6h1.9v1h-1.9zM124.2 -70.6h1.9v1h-1.9zM-117.8 -71.5h1v1h-1zM-115.1 -71.5h1.9v1h-1.9zM-82.5 -71.5h1.9v1h-1.9zM-67.5 -71.5h2.8v1h-2.8zM-63.1 -71.5h1v1h-1zM-50.8 -71.5h1.9v1h-1.9zM-47.2 -71.5h1v1h-1zM-25.2 -71.5h1v1h-1zM24.2 -71.5h1v1h-1zM33.9 -71.5h4.5v1h-4.5zM40.1 -71.5h2.8v1h-2.8zM61.2 -71.5h1v1h-1zM65.6 -71.5h1v1h-1zM69.2 -71.5h1v1h-1zM120.3 -71.5h1v1h-1zM123 -71.5h1v1h-1zM124.7 -71.5h1.9v1h-1.9zM-126.1 -72.3h1v1h-1zM-124.4 -72.3h1.9v1h-1.9zM-115.7 -72.3h1v1h-1zM-86 -72.3h1v1h-1zM-83.4 -72.3h1v1h-1zM-81.6 -72.3h1v1h-1zM-79.9 -72.3h1v1h-1zM-67.7 -72.3h1v1h-1zM-62.4 -72.3h1v1h-1zM-57.2 -72.3h1v1h-1zM-49.4 -72.3h1v1h-1zM-37.1 -72.3h1.9v1h-1.9zM-24 -72.3h2.7v1h-2.7zM21.3 -72.3h3.6v1h-3.6zM25.7 -72.3h1.9v1h-1.9zM30.9 -72.3h1v1h-1zM37 -72.3h1v1h-1zM69.3 -72.3h1v1h-1zM71.1 -72.3h1v1h-1zM122.6 -72.3h2.7v1h-2.7zM-85.9 -73.2h1v1h-1zM-79 -73.2h1.8v1h-1.8zM-66.1 -73.2h1.8v1h-1.8zM-58.3 -73.2h1v1h-1zM-48 -73.2h1v1h-1zM-36.7 -73.2h1v1h-1zM-22.1 -73.2h1.8v1h-1.8zM22 -73.2h1.8v1h-1.8zM24.6 -73.2h1v1h-1zM41 -73.2h1v1h-1zM69.4 -73.2h1v1h-1zM73.8 -73.2h1.8v1h-1.8zM123 -73.2h1v1h-1zM-70.5 -74h1v1h-1zM-65.4 -74h1v1h-1zM-17.6 -74h1.8v1h-1.8zM20 -74h1v1h-1zM50.7 -74h1.8v1h-1.8zM74.6 -74h1.8v1h-1.8zM-37.6 -74.9h1v1h-1zM-18.2 -74.9h1v1h-1zM-16.5 -74.9h1.8v1h-1.8zM35.8 -74.9h1v1h-1zM73.8 -74.9h1.8v1h-1.8zM76.3 -74.9h1v1h-1zM-80.5 -75.7h1.8v0.9h-1.8zM-78 -75.7h1v0.9h-1zM-74.7 -75.7h1v0.9h-1zM-66.4 -75.7h1.8v0.9h-1.8zM-62.2 -75.7h1v0.9h-1zM-55.5 -75.7h1.8v0.9h-1.8zM34.6 -75.7h2.6v0.9h-2.6zM57.9 -75.7h1v0.9h-1zM72.9 -75.7h1v0.9h-1zM77.1 -75.7h1v0.9h-1zM-82.9 -76.5h0.9v0.9h-0.9zM-79.6 -76.5h0.9v0.9h-0.9zM-64.7 -76.5h0.9v0.9h-0.9zM-61.4 -76.5h1.8v0.9h-1.8zM-53.2 -76.5h1.8v0.9h-1.8zM34.1 -76.5h0.9v0.9h-0.9zM36.6 -76.5h0.9v0.9h-0.9zM72.9 -76.5h0.9v0.9h-0.9zM77 -76.5h1.8v0.9h-1.8zM-80.2 -77.3h0.9v0.9h-0.9zM-64.7 -77.3h0.9v0.9h-0.9zM-53.3 -77.3h0.9v0.9h-0.9zM-15.1 -77.3h1.7v0.9h-1.7zM35.3 -77.3h1.7v0.9h-1.7zM-66.3 -78.1h0.9v0.9h-0.9zM-59 -78.1h0.9v0.9h-0.9zM-14.9 -78.1h0.9v0.9h-0.9zM38.1 -78.1h0.9v0.9h-0.9zM-58.2 -78.9h0.9v0.9h-0.9zM-13.9 -78.9h0.9v0.9h-0.9zM36.8 -78.9h4.9v0.9h-4.9zM87.4 -78.9h0.9v0.9h-0.9zM-53.5 -79.7h0.9v0.9h-0.9zM-51.9 -79.7h0.9v0.9h-0.9zM-44.1 -79.7h0.9v0.9h-0.9zM-41.8 -79.7h2.5v0.9h-2.5zM-37.9 -79.7h1.7v0.9h-1.7zM-12.9 -79.7h0.9v0.9h-0.9zM10.5 -79.7h0.9v0.9h-0.9zM-45 -80.4h0.9v0.9h-0.9zM-41.1 -80.4h0.9v0.9h-0.9zM-38.8 -80.4h0.9v0.9h-0.9zM9.6 -80.4h1.7v0.9h-1.7zM11.9 -80.4h0.9v0.9h-0.9zM13.4 -80.4h0.9v0.9h-0.9zM-51.1 -81.2h1.6v0.8h-1.6zM-45.8 -81.2h0.9v0.8h-0.9zM-43.5 -81.2h1.6v0.8h-1.6zM-41.3 -81.2h0.9v0.8h-0.9zM-12.5 -81.2h1.6v0.8h-1.6zM9.4 -81.2h0.9v0.8h-0.9zM10.9 -81.2h1.6v0.8h-1.6zM-55.5 -81.9h0.9v0.8h-0.9zM-44.3 -81.9h3.8v0.8h-3.8zM-38.4 -81.9h0.9v0.8h-0.9zM-11.6 -81.9h0.9v0.8h-0.9zM10 -81.9h1.6v0.8h-1.6zM-55.4 -82.5h0.9v0.8h-0.9zM-47.3 -82.5h0.9v0.8h-0.9zM-41.5 -82.5h2.3v0.8h-2.3zM-38.5 -82.5h0.9v0.8h-0.9zM-33.4 -82.5h0.9v0.8h-0.9zM-31.9 -82.5h0.9v0.8h-0.9zM-30.5 -82.5h0.9v0.8h-0.9zM-12.1 -82.5h0.9v0.8h-0.9zM31.1 -82.5h0.9v0.8h-0.9zM-49.5 -83.2h0.8v0.8h-0.8zM-32.9 -83.2h1.6v0.8h-1.6zM-24.2 -83.2h1.6v0.8h-1.6zM-17.7 -83.2h0.8v0.8h-0.8zM-14.1 -83.2h2.3v0.8h-2.3zM-49.4 -83.8h0.8v0.7h-0.8zM-48 -83.8h0.8v0.7h-0.8zM-45.9 -83.8h0.8v0.7h-0.8zM-41.6 -83.8h0.8v0.7h-0.8zM-40.2 -83.8h0.8v0.7h-0.8zM-28.1 -83.8h0.8v0.7h-0.8zM-24.6 -83.8h1.5v0.7h-1.5zM-21.7 -83.8h0.8v0.7h-0.8zM-21.4 -84.3h0.8v0.7h-0.8zM-19.3 -84.3h0.8v0.7h-0.8z"/><path fill="#ff3c00" d="M-49.3 26.4h1.3v1.1h-1.3zM132.4 7.1h1.3v1.1h-1.3zM131.3 6.1h2.5v1.1h-2.5zM131.4 5h2.5v1.1h-2.5zM94.6 1h1.3v1.1h-1.3zM-67.3 -1.1h1.3v1.1h-1.3zM95.8 -1.1h1.3v1.1h-1.3zM-67.3 -2.1h2.5v1.1h-2.5zM93.4 -2.1h1.3v1.1h-1.3zM-67.3 -3.1h1.3v1.1h-1.3zM93.4 -4.1h1.3v1.1h-1.3zM12.4 -5.1h1.3v1.1h-1.3zM-100.9 -55.7h2.2v1.1h-2.2zM-102.2 -56.7h4.2v1.1h-4.2zM-101.4 -57.6h1.1v1.1h-1.1zM-98.4 -57.6h1.1v1.1h-1.1zM-62.1 -57.6h1.1v1.1h-1.1zM-51 -57.6h1.1v1.1h-1.1zM-7.6 -57.6h1.1v1.1h-1.1zM128.6 -57.6h1.1v1.1h-1.1zM-100.7 -58.6h1.1v1.1h-1.1zM-75.6 -58.6h2.1v1.1h-2.1zM105.6 -58.6h1.1v1.1h-1.1zM-129.7 -59.6h2.1v1.1h-2.1zM-99.9 -59.6h1.1v1.1h-1.1zM-78 -59.6h3.1v1.1h-3.1zM-74.1 -59.6h3.1v1.1h-3.1zM-61.1 -59.6h2.1v1.1h-2.1zM102.8 -59.6h2.1v1.1h-2.1zM128.6 -59.6h1.1v1.1h-1.1zM-127.7 -60.5h2.1v1.1h-2.1zM-99.1 -60.5h1.1v1.1h-1.1zM-79.4 -60.5h1.1v1.1h-1.1zM-60.7 -60.5h2.1v1.1h-2.1zM47.7 -60.5h1.1v1.1h-1.1zM101 -60.5h1.1v1.1h-1.1zM105.9 -60.5h2.1v1.1h-2.1zM127.6 -60.5h1.1v1.1h-1.1zM-124.7 -61.5h2.1v1.1h-2.1zM-120.8 -61.5h1.1v1.1h-1.1zM-102.2 -61.5h1.1v1.1h-1.1zM-78.7 -61.5h1.1v1.1h-1.1zM70.8 -61.5h2.1v1.1h-2.1zM106 -61.5h1.1v1.1h-1.1zM-122.7 -62.4h2.1v1.1h-2.1zM-81.9 -62.4h1.1v1.1h-1.1zM-80 -62.4h3v1.1h-3zM-59.7 -62.4h3v1.1h-3zM-52.9 -62.4h1.1v1.1h-1.1zM63.4 -62.4h2.1v1.1h-2.1zM-124.5 -63.3h1.1v1.1h-1.1zM-122.6 -63.3h1.1v1.1h-1.1zM-120.6 -63.3h3v1.1h-3zM-81.2 -63.3h1.1v1.1h-1.1zM-79.3 -63.3h2v1.1h-2zM-60.1 -63.3h3v1.1h-3zM-55.3 -63.3h1.1v1.1h-1.1zM-53.4 -63.3h1.1v1.1h-1.1zM-51.5 -63.3h1.1v1.1h-1.1zM62.9 -63.3h1.1v1.1h-1.1zM-121.5 -64.3h1.1v1.1h-1.1zM-119.6 -64.3h1.1v1.1h-1.1zM-79.6 -64.3h3v1.1h-3zM-75.8 -64.3h3v1.1h-3zM-59.6 -64.3h1.1v1.1h-1.1zM-55.8 -64.3h3v1.1h-3zM49 -64.3h2v1.1h-2zM59.5 -64.3h1.1v1.1h-1.1zM128.1 -64.3h1.1v1.1h-1.1zM-124.2 -65.2h1.1v1h-1.1zM-121.4 -65.2h1.1v1h-1.1zM-117.6 -65.2h1.1v1h-1.1zM-81.7 -65.2h2v1h-2zM-76 -65.2h1.1v1h-1.1zM-73.2 -65.2h1.1v1h-1.1zM-59.1 -65.2h1.1v1h-1.1zM-56.2 -65.2h1.1v1h-1.1zM-54.3 -65.2h2v1h-2zM42 -65.2h2v1h-2zM45.7 -65.2h1.1v1h-1.1zM47.6 -65.2h2v1h-2zM59 -65.2h1.1v1h-1.1zM125 -65.2h1.1v1h-1.1zM127.9 -65.2h2v1h-2zM-120.2 -66.1h1.1v1h-1.1zM-117.4 -66.1h1.1v1h-1.1zM-79.1 -66.1h2v1h-2zM-58.5 -66.1h1.1v1h-1.1zM-55.7 -66.1h2v1h-2zM-37 -66.1h1.1v1h-1.1zM39.7 -66.1h8.5v1h-8.5zM49.1 -66.1h1.1v1h-1.1zM57.5 -66.1h2.9v1h-2.9zM124.8 -66.1h1.1v1h-1.1zM126.7 -66.1h2.9v1h-2.9zM-119.1 -67h2.9v1h-2.9zM-81.1 -67h2.9v1h-2.9zM-77.4 -67h1v1h-1zM-70.9 -67h2v1h-2zM-61.7 -67h1v1h-1zM-52.4 -67h1v1h-1zM37.5 -67h1v1h-1zM43 -67h2v1h-2zM45.8 -67h2.9v1h-2.9zM49.5 -67h1v1h-1zM51.4 -67h1v1h-1zM59.7 -67h1v1h-1zM127.4 -67h1v1h-1zM130.1 -67h1v1h-1zM-119.8 -67.9h1v1h-1zM-118 -67.9h1v1h-1zM-80.4 -67.9h2v1h-2zM-75.8 -67.9h1v1h-1zM-51 -67.9h1v1h-1zM-38.1 -67.9h1v1h-1zM-30.8 -67.9h1v1h-1zM28.9 -67.9h1v1h-1zM41.7 -67.9h2.9v1h-2.9zM47.2 -67.9h1v1h-1zM52.7 -67.9h2v1h-2zM58.2 -67.9h1v1h-1zM123.4 -67.9h2.9v1h-2.9zM127.1 -67.9h1v1h-1zM129.8 -67.9h1v1h-1zM-126.9 -68.8h1v1h-1zM-119.6 -68.8h3.8v1h-3.8zM-81.4 -68.8h1v1h-1zM-56.9 -68.8h1v1h-1zM-52.3 -68.8h1.9v1h-1.9zM-48.7 -68.8h1v1h-1zM-30.5 -68.8h1v1h-1zM-11.4 -68.8h1v1h-1zM28.6 -68.8h1v1h-1zM31.3 -68.8h1v1h-1zM34.9 -68.8h1v1h-1zM43.1 -68.8h1v1h-1zM46.8 -68.8h1.9v1h-1.9zM57.7 -68.8h1v1h-1zM61.3 -68.8h1.9v1h-1.9zM122.2 -68.8h1v1h-1zM-130.1 -69.7h1v1h-1zM-124.7 -69.7h1v1h-1zM-121.1 -69.7h1.9v1h-1.9zM-118.4 -69.7h1v1h-1zM-116.6 -69.7h1v1h-1zM-81.5 -69.7h1v1h-1zM-75.2 -69.7h1v1h-1zM-67.1 -69.7h1.9v1h-1.9zM-64.4 -69.7h1v1h-1zM-56.3 -69.7h1v1h-1zM-54.5 -69.7h1v1h-1zM-50.9 -69.7h1.9v1h-1.9zM-47.3 -69.7h1.9v1h-1.9zM-30.2 -69.7h1v1h-1zM-28.4 -69.7h1v1h-1zM-13.1 -69.7h1.9v1h-1.9zM-10.4 -69.7h1v1h-1zM23.8 -69.7h1v1h-1zM33.7 -69.7h1.9v1h-1.9zM37.3 -69.7h1v1h-1zM43.6 -69.7h1v1h-1zM124.6 -69.7h1v1h-1zM127.3 -69.7h1.9v1h-1.9zM-127 -70.6h1.9v1h-1.9zM-80.7 -70.6h1.9v1h-1.9zM-64.6 -70.6h1v1h-1zM-62 -70.6h1v1h-1zM-53.1 -70.6h4.6v1h-4.6zM-37.9 -70.6h1v1h-1zM-28.1 -70.6h1v1h-1zM-12.1 -70.6h1.9v1h-1.9zM29.8 -70.6h1v1h-1zM32.5 -70.6h1v1h-1zM34.3 -70.6h1.9v1h-1.9zM36.9 -70.6h1v1h-1zM43.2 -70.6h1v1h-1zM44.9 -70.6h1.9v1h-1.9zM59.2 -70.6h1v1h-1zM67.2 -70.6h1v1h-1zM122.5 -70.6h1.9v1h-1.9zM126 -70.6h1.9v1h-1.9zM-126.6 -71.5h2.8v1h-2.8zM-123.1 -71.5h1v1h-1zM-80.7 -71.5h1v1h-1zM-64 -71.5h1v1h-1zM-62.2 -71.5h1v1h-1zM-52.5 -71.5h1.9v1h-1.9zM-46.3 -71.5h1.9v1h-1.9zM-37.5 -71.5h1.9v1h-1.9zM31.3 -71.5h2.8v1h-2.8zM38.3 -71.5h1v1h-1zM42.7 -71.5h1v1h-1zM58.6 -71.5h1v1h-1zM62.1 -71.5h1v1h-1zM64.8 -71.5h1v1h-1zM66.5 -71.5h1v1h-1zM68.3 -71.5h1v1h-1zM121.2 -71.5h1.9v1h-1.9zM123.9 -71.5h1v1h-1zM-85.1 -72.3h1v1h-1zM-68.5 -72.3h1v1h-1zM-66.8 -72.3h1.9v1h-1.9zM-63.3 -72.3h1v1h-1zM-61.6 -72.3h1.9v1h-1.9zM-53.7 -72.3h3.6v1h-3.6zM-46.7 -72.3h1.9v1h-1.9zM34.4 -72.3h2.7v1h-2.7zM37.9 -72.3h3.6v1h-3.6zM42.3 -72.3h1v1h-1zM46.6 -72.3h1v1h-1zM52.7 -72.3h1.9v1h-1.9zM57.1 -72.3h1v1h-1zM64.1 -72.3h1v1h-1zM65.8 -72.3h1v1h-1zM67.6 -72.3h1v1h-1zM-85.1 -73.2h1v1h-1zM-83.4 -73.2h1.8v1h-1.8zM-64.4 -73.2h1v1h-1zM-57.5 -73.2h1v1h-1zM-54 -73.2h4.4v1h-4.4zM-48.8 -73.2h1v1h-1zM-47.1 -73.2h1v1h-1zM-23.8 -73.2h1.8v1h-1.8zM40.1 -73.2h1v1h-1zM52.2 -73.2h1v1h-1zM53.9 -73.2h3.6v1h-3.6zM63.4 -73.2h1.8v1h-1.8zM70.3 -73.2h2.7v1h-2.7zM-66.2 -74h1v1h-1zM-48.3 -74h1v1h-1zM54.2 -74h1v1h-1zM61.8 -74h1.8v1h-1.8zM64.4 -74h1v1h-1zM72.9 -74h1.8v1h-1.8zM-83.2 -74.9h1.8v1h-1.8zM-76.4 -74.9h1v1h-1zM-73.9 -74.9h1.8v1h-1.8zM-56.2 -74.9h1v1h-1zM-54.5 -74.9h1v1h-1zM-50.3 -74.9h1v1h-1zM-48.6 -74.9h1v1h-1zM-36.8 -74.9h1v1h-1zM35 -74.9h1v1h-1zM58.6 -74.9h1.8v1h-1.8zM61.1 -74.9h1v1h-1zM68.7 -74.9h1v1h-1zM73 -74.9h1v1h-1zM75.5 -74.9h1v1h-1zM-83 -75.7h1.8v0.9h-1.8zM-78.9 -75.7h1v0.9h-1zM-77.2 -75.7h1v0.9h-1zM-75.5 -75.7h1v0.9h-1zM-64.7 -75.7h1v0.9h-1zM-59.7 -75.7h1v0.9h-1zM-56.4 -75.7h1v0.9h-1zM-53 -75.7h1v0.9h-1zM57.1 -75.7h1v0.9h-1zM59.6 -75.7h1.8v0.9h-1.8zM75.4 -75.7h1.8v0.9h-1.8zM-81.2 -76.5h0.9v0.9h-0.9zM-78.7 -76.5h0.9v0.9h-0.9zM-77.1 -76.5h1.8v0.9h-1.8zM-74.6 -76.5h1.8v0.9h-1.8zM-67.2 -76.5h1.8v0.9h-1.8zM-63.9 -76.5h1.8v0.9h-1.8zM-59.8 -76.5h0.9v0.9h-0.9zM-57.3 -76.5h0.9v0.9h-0.9zM-15.3 -76.5h0.9v0.9h-0.9zM35 -76.5h1.8v0.9h-1.8zM53.9 -76.5h0.9v0.9h-0.9zM57.2 -76.5h0.9v0.9h-0.9zM65.5 -76.5h0.9v0.9h-0.9zM73.7 -76.5h0.9v0.9h-0.9zM76.2 -76.5h0.9v0.9h-0.9zM-81 -77.3h0.9v0.9h-0.9zM-62.3 -77.3h2.6v0.9h-2.6zM-55.8 -77.3h0.9v0.9h-0.9zM-54.1 -77.3h0.9v0.9h-0.9zM-15.9 -77.3h0.9v0.9h-0.9zM71.9 -77.3h0.9v0.9h-0.9zM-71.9 -78.1h1.7v0.9h-1.7zM-68.7 -78.1h0.9v0.9h-0.9zM-65.5 -78.1h0.9v0.9h-0.9zM-58.2 -78.1h0.9v0.9h-0.9zM-55.8 -78.1h1.7v0.9h-1.7zM-51.8 -78.1h0.9v0.9h-0.9zM-38.2 -78.1h0.9v0.9h-0.9zM-14.1 -78.1h0.9v0.9h-0.9zM35.7 -78.1h0.9v0.9h-0.9zM-74.1 -78.9h1.7v0.9h-1.7zM-70.9 -78.9h0.9v0.9h-0.9zM-66.1 -78.9h1.7v0.9h-1.7zM-62.2 -78.9h0.9v0.9h-0.9zM-56.6 -78.9h0.9v0.9h-0.9zM-54.3 -78.9h0.9v0.9h-0.9zM-52.7 -78.9h0.9v0.9h-0.9zM-43.2 -78.9h0.9v0.9h-0.9zM-41.6 -78.9h1.7v0.9h-1.7zM-38.4 -78.9h1.7v0.9h-1.7zM-13.1 -78.9h0.9v0.9h-0.9zM58.9 -78.9h0.9v0.9h-0.9zM-54.3 -79.7h0.9v0.9h-0.9zM-52.7 -79.7h0.9v0.9h-0.9zM-51.1 -79.7h0.9v0.9h-0.9zM-13.7 -79.7h0.9v0.9h-0.9zM-51.9 -80.4h1.7v0.9h-1.7zM-41.9 -80.4h0.9v0.9h-0.9zM8 -80.4h1.7v0.9h-1.7zM11.1 -80.4h0.9v0.9h-0.9zM12.6 -80.4h0.9v0.9h-0.9zM14.2 -80.4h0.9v0.9h-0.9zM-58.7 -81.2h0.9v0.8h-0.9zM-57.2 -81.2h1.6v0.8h-1.6zM-54.9 -81.2h0.9v0.8h-0.9zM-49.6 -81.2h0.9v0.8h-0.9zM-45.1 -81.2h0.9v0.8h-0.9zM-42 -81.2h0.9v0.8h-0.9zM7.9 -81.2h0.9v0.8h-0.9zM-56.3 -81.9h0.9v0.8h-0.9zM-54.8 -81.9h0.9v0.8h-0.9zM-50.3 -81.9h1.6v0.8h-1.6zM-45.1 -81.9h0.9v0.8h-0.9zM-37.6 -81.9h0.9v0.8h-0.9zM11.5 -81.9h1.6v0.8h-1.6zM-53.9 -82.5h0.9v0.8h-0.9zM-51 -82.5h0.9v0.8h-0.9zM-48.8 -82.5h1.6v0.8h-1.6zM-46.6 -82.5h0.9v0.8h-0.9zM-44.4 -82.5h1.6v0.8h-1.6zM-42.2 -82.5h0.9v0.8h-0.9zM-34.1 -82.5h0.9v0.8h-0.9zM-29.7 -82.5h0.9v0.8h-0.9zM-14.3 -82.5h0.9v0.8h-0.9zM-11.4 -82.5h0.9v0.8h-0.9zM-9.9 -82.5h0.9v0.8h-0.9zM12 -82.5h0.9v0.8h-0.9zM14.2 -82.5h0.9v0.8h-0.9zM30.4 -82.5h0.9v0.8h-0.9zM34.8 -82.5h0.9v0.8h-0.9zM-53.1 -83.2h0.8v0.8h-0.8zM-50.9 -83.2h1.6v0.8h-1.6zM-48.7 -83.2h1.6v0.8h-1.6zM-45.9 -83.2h0.8v0.8h-0.8zM-43.7 -83.2h3.7v0.8h-3.7zM-38.6 -83.2h2.3v0.8h-2.3zM-28.5 -83.2h3v0.8h-3zM-24.9 -83.2h0.8v0.8h-0.8zM-19.9 -83.2h0.8v0.8h-0.8zM-18.4 -83.2h0.8v0.8h-0.8zM-17 -83.2h0.8v0.8h-0.8zM-8.3 -83.2h0.8v0.8h-0.8zM-47.3 -83.8h1.5v0.7h-1.5zM-45.1 -83.8h0.8v0.7h-0.8zM-43 -83.8h0.8v0.7h-0.8zM-39.5 -83.8h1.5v0.7h-1.5zM-30.2 -83.8h2.3v0.7h-2.3zM-27.4 -83.8h3v0.7h-3zM-23.1 -83.8h0.8v0.7h-0.8zM-21 -83.8h0.8v0.7h-0.8zM-19.6 -83.8h0.8v0.7h-0.8zM-23.5 -84.3h2.2v0.7h-2.2z"/><path fill="#d7282d" d="M-75 -59.6h1.1v1.1h-1.1zM-125.7 -60.5h1.1v1.1h-1.1zM-78.4 -60.5h9v1.1h-9zM-77.8 -61.5h7.9v1.1h-7.9zM-77.1 -62.4h5v1.1h-5zM-80.3 -63.3h1.1v1.1h-1.1zM-77.4 -63.3h4.9v1.1h-4.9zM-54.3 -63.3h1.1v1.1h-1.1zM-50.5 -63.3h1.1v1.1h-1.1zM-124.4 -64.3h2v1.1h-2zM-81.5 -64.3h1.1v1.1h-1.1zM-76.7 -64.3h1.1v1.1h-1.1zM-72.9 -64.3h1.1v1.1h-1.1zM-58.6 -64.3h2v1.1h-2zM-125.1 -65.2h1.1v1h-1.1zM-120.4 -65.2h3v1h-3zM-79.8 -65.2h3.9v1h-3.9zM-75.1 -65.2h2v1h-2zM-72.3 -65.2h1.1v1h-1.1zM-58.1 -65.2h2v1h-2zM-55.3 -65.2h1.1v1h-1.1zM126 -65.2h2v1h-2zM-124 -66.1h3.9v1h-3.9zM-119.3 -66.1h2v1h-2zM-80 -66.1h1.1v1h-1.1zM-77.2 -66.1h7.6v1h-7.6zM-57.6 -66.1h2v1h-2zM48.1 -66.1h1.1v1h-1.1zM123.9 -66.1h1.1v1h-1.1zM125.8 -66.1h1.1v1h-1.1zM-122.8 -67h3.8v1h-3.8zM-76.5 -67h5.7v1h-5.7zM-69.1 -67h1v1h-1zM-62.6 -67h1v1h-1zM-50.6 -67h2v1h-2zM56.9 -67h2.9v1h-2.9zM124.6 -67h1v1h-1zM-118.9 -67.9h1v1h-1zM-81.3 -67.9h1v1h-1zM-78.5 -67.9h1v1h-1zM-76.7 -67.9h1v1h-1zM-74.9 -67.9h8.4v1h-8.4zM-63.8 -67.9h4.7v1h-4.7zM-53.7 -67.9h2v1h-2zM-50.1 -67.9h1v1h-1zM49.1 -67.9h3.8v1h-3.8zM54.6 -67.9h3.8v1h-3.8zM59.2 -67.9h1v1h-1zM126.2 -67.9h1v1h-1zM-127.8 -68.8h1v1h-1zM-125.9 -68.8h1v1h-1zM-121.4 -68.8h1.9v1h-1.9zM-80.5 -68.8h3.8v1h-3.8zM-76 -68.8h17.4v1h-17.4zM-56 -68.8h3.8v1h-3.8zM-50.5 -68.8h1.9v1h-1.9zM48.6 -68.8h9.2v1h-9.2zM58.6 -68.8h2.8v1h-2.8zM-129.2 -69.7h4.6v1h-4.6zM-80.6 -69.7h5.5v1h-5.5zM-74.3 -69.7h7.3v1h-7.3zM-65.3 -69.7h1v1h-1zM-63.5 -69.7h3.7v1h-3.7zM-55.4 -69.7h1v1h-1zM-53.6 -69.7h2.8v1h-2.8zM-48.2 -69.7h1v1h-1zM46.3 -69.7h16.3v1h-16.3zM-128.8 -70.6h1.9v1h-1.9zM-125.2 -70.6h1.9v1h-1.9zM-81.6 -70.6h1v1h-1zM-78.9 -70.6h12.6v1h-12.6zM-65.5 -70.6h1v1h-1zM-60.2 -70.6h1v1h-1zM-47.7 -70.6h2.8v1h-2.8zM44.1 -70.6h1v1h-1zM46.7 -70.6h12.6v1h-12.6zM60.1 -70.6h1.9v1h-1.9zM65.4 -70.6h1v1h-1zM-127.5 -71.5h1v1h-1zM-124 -71.5h1v1h-1zM-79.9 -71.5h12.5v1h-12.5zM-64.9 -71.5h1v1h-1zM-61.3 -71.5h3.6v1h-3.6zM-49 -71.5h1.9v1h-1.9zM-44.6 -71.5h1v1h-1zM39.2 -71.5h1v1h-1zM43.6 -71.5h15.1v1h-15.1zM59.5 -71.5h1.9v1h-1.9zM63 -71.5h1.9v1h-1.9zM67.4 -71.5h1v1h-1zM-80.8 -72.3h1v1h-1zM-79 -72.3h2.7v1h-2.7zM-69.4 -72.3h1v1h-1zM-65.1 -72.3h1.9v1h-1.9zM-59.8 -72.3h1.9v1h-1.9zM-48.5 -72.3h1.9v1h-1.9zM41.4 -72.3h1v1h-1zM43.1 -72.3h3.6v1h-3.6zM47.5 -72.3h5.4v1h-5.4zM54.5 -72.3h2.7v1h-2.7zM58 -72.3h6.2v1h-6.2zM66.7 -72.3h1v1h-1zM68.4 -72.3h1v1h-1zM-84.2 -73.2h1v1h-1zM-81.6 -73.2h2.7v1h-2.7zM-77.3 -73.2h7v1h-7zM-63.5 -73.2h1v1h-1zM-59.2 -73.2h1v1h-1zM41.8 -73.2h3.6v1h-3.6zM46.1 -73.2h4.4v1h-4.4zM51.3 -73.2h1v1h-1zM53 -73.2h1v1h-1zM57.4 -73.2h6.2v1h-6.2zM65.1 -73.2h4.4v1h-4.4zM72.9 -73.2h1v1h-1zM-79.9 -74h9.5v1h-9.5zM-69.6 -74h1v1h-1zM-64.5 -74h1.8v1h-1.8zM-59.4 -74h11.2v1h-11.2zM-47.4 -74h1v1h-1zM-36.3 -74h1.8v1h-1.8zM45.6 -74h4.4v1h-4.4zM52.5 -74h1.8v1h-1.8zM55 -74h6.9v1h-6.9zM63.6 -74h1v1h-1zM65.3 -74h7.8v1h-7.8zM-79 -74.9h2.7v1h-2.7zM-75.6 -74.9h1.8v1h-1.8zM-72.2 -74.9h1.8v1h-1.8zM-65.5 -74.9h2.7v1h-2.7zM-60.4 -74.9h4.3v1h-4.3zM-53.6 -74.9h3.5v1h-3.5zM-49.4 -74.9h1v1h-1zM-35.9 -74.9h1v1h-1zM45.1 -74.9h4.3v1h-4.3zM50.2 -74.9h8.6v1h-8.6zM60.3 -74.9h1v1h-1zM62 -74.9h6.9v1h-6.9zM69.6 -74.9h3.5v1h-3.5zM-81.4 -75.7h1v0.9h-1zM-76.4 -75.7h1v0.9h-1zM-73.9 -75.7h4.3v0.9h-4.3zM-68 -75.7h1.8v0.9h-1.8zM-63.9 -75.7h1.8v0.9h-1.8zM-58.9 -75.7h2.6v0.9h-2.6zM-52.2 -75.7h3.5v0.9h-3.5zM-37.2 -75.7h1.8v0.9h-1.8zM44.6 -75.7h4.3v0.9h-4.3zM49.6 -75.7h1.8v0.9h-1.8zM52.1 -75.7h5.1v0.9h-5.1zM58.8 -75.7h1v0.9h-1zM61.3 -75.7h11.8v0.9h-11.8zM73.8 -75.7h1.8v0.9h-1.8zM-82 -76.5h0.9v0.9h-0.9zM-80.4 -76.5h0.9v0.9h-0.9zM-75.4 -76.5h0.9v0.9h-0.9zM-73 -76.5h3.4v0.9h-3.4zM-62.3 -76.5h0.9v0.9h-0.9zM-59 -76.5h1.8v0.9h-1.8zM-56.5 -76.5h1.8v0.9h-1.8zM-51.5 -76.5h0.9v0.9h-0.9zM-36.7 -76.5h1.8v0.9h-1.8zM45.7 -76.5h1.8v0.9h-1.8zM53.1 -76.5h0.9v0.9h-0.9zM54.7 -76.5h2.6v0.9h-2.6zM58 -76.5h7.5v0.9h-7.5zM66.3 -76.5h6.7v0.9h-6.7zM74.5 -76.5h1.8v0.9h-1.8zM-79.4 -77.3h2.6v0.9h-2.6zM-65.5 -77.3h0.9v0.9h-0.9zM-59.8 -77.3h0.9v0.9h-0.9zM-55 -77.3h0.9v0.9h-0.9zM-37.1 -77.3h2.6v0.9h-2.6zM37 -77.3h0.9v0.9h-0.9zM54.9 -77.3h17.2v0.9h-17.2zM72.8 -77.3h2.6v0.9h-2.6zM-75.1 -78.1h3.3v0.9h-3.3zM-70.3 -78.1h1.7v0.9h-1.7zM-64.7 -78.1h1.7v0.9h-1.7zM-57.4 -78.1h1.7v0.9h-1.7zM-54.2 -78.1h2.5v0.9h-2.5zM-37.4 -78.1h2.5v0.9h-2.5zM36.5 -78.1h0.9v0.9h-0.9zM55.7 -78.1h16.2v0.9h-16.2zM-72.5 -78.9h1.7v0.9h-1.7zM-70.1 -78.9h3.3v0.9h-3.3zM-64.6 -78.9h2.5v0.9h-2.5zM-57.4 -78.9h0.9v0.9h-0.9zM-55.8 -78.9h1.7v0.9h-1.7zM-53.5 -78.9h0.9v0.9h-0.9zM-51.9 -78.9h0.9v0.9h-0.9zM-42.4 -78.9h0.9v0.9h-0.9zM-40 -78.9h1.7v0.9h-1.7zM-36.9 -78.9h1.7v0.9h-1.7zM57.3 -78.9h1.7v0.9h-1.7zM59.7 -78.9h12v0.9h-12zM-63.6 -79.7h1.7v0.9h-1.7zM-55.8 -79.7h1.7v0.9h-1.7zM-50.4 -79.7h1.7v0.9h-1.7zM-39.4 -79.7h1.7v0.9h-1.7zM-36.3 -79.7h0.9v0.9h-0.9zM38.6 -79.7h4v0.9h-4zM62 -79.7h7.1v0.9h-7.1zM-55 -80.4h3.2v0.9h-3.2zM-50.4 -80.4h4v0.9h-4zM-38.1 -80.4h0.9v0.9h-0.9zM-12.7 -80.4h1.7v0.9h-1.7zM61 -80.4h0.9v0.9h-0.9zM63.3 -80.4h0.9v0.9h-0.9zM-57.9 -81.2h0.9v0.8h-0.9zM-55.6 -81.2h0.9v0.8h-0.9zM-52.6 -81.2h1.6v0.8h-1.6zM-48.8 -81.2h3.1v0.8h-3.1zM6.4 -81.2h1.6v0.8h-1.6zM8.6 -81.2h0.9v0.8h-0.9zM12.4 -81.2h0.9v0.8h-0.9zM57.8 -81.2h5.4v0.8h-5.4zM-57.7 -81.9h1.6v0.8h-1.6zM-54 -81.9h1.6v0.8h-1.6zM-51.8 -81.9h1.6v0.8h-1.6zM-48.8 -81.9h3.8v0.8h-3.8zM-36.9 -81.9h0.9v0.8h-0.9zM-10.8 -81.9h0.9v0.8h-0.9zM6.3 -81.9h3.8v0.8h-3.8zM13 -81.9h2.4v0.8h-2.4zM54.7 -81.9h6.8v0.8h-6.8zM-54.6 -82.5h0.9v0.8h-0.9zM-53.2 -82.5h2.3v0.8h-2.3zM-50.2 -82.5h1.6v0.8h-1.6zM-45.9 -82.5h1.6v0.8h-1.6zM-37.1 -82.5h3.1v0.8h-3.1zM-32.7 -82.5h0.9v0.8h-0.9zM-10.7 -82.5h0.9v0.8h-0.9zM-9.2 -82.5h0.9v0.8h-0.9zM12.8 -82.5h1.6v0.8h-1.6zM27.4 -82.5h3.1v0.8h-3.1zM31.8 -82.5h3.1v0.8h-3.1zM35.5 -82.5h0.9v0.8h-0.9zM54.5 -82.5h4.5v0.8h-4.5zM-52.4 -83.2h1.6v0.8h-1.6zM-45.1 -83.2h1.6v0.8h-1.6zM-40.1 -83.2h1.6v0.8h-1.6zM-36.5 -83.2h3.7v0.8h-3.7zM-31.4 -83.2h1.6v0.8h-1.6zM-25.7 -83.2h0.8v0.8h-0.8zM-22.8 -83.2h3v0.8h-3zM-19.2 -83.2h0.8v0.8h-0.8zM-16.3 -83.2h2.3v0.8h-2.3zM-12 -83.2h0.8v0.8h-0.8zM-9.1 -83.2h0.8v0.8h-0.8zM32.1 -83.2h3v0.8h-3zM-50.1 -83.8h0.8v0.7h-0.8zM-44.4 -83.8h1.5v0.7h-1.5zM-42.3 -83.8h0.8v0.7h-0.8zM-38 -83.8h3v0.7h-3zM-30.9 -83.8h0.8v0.7h-0.8zM-22.4 -83.8h0.8v0.7h-0.8zM-20.3 -83.8h0.8v0.7h-0.8zM-18.9 -83.8h6.5v0.7h-6.5zM-24.2 -84.3h0.8v0.7h-0.8zM-20.7 -84.3h1.5v0.7h-1.5zM-18.6 -84.3h2.9v0.7h-2.9z"/></g>
<g id="difmap" shape-rendering="crispEdges"><path fill="#3273eb" d="M42.2 -6.2h1.3v1.1h-1.3zM12.4 -7.2h1.3v1.1h-1.3zM90.1 -35.6h1.3v1.1h-1.3zM89.8 -36.7h1.2v1.1h-1.2zM44.2 -38.7h1.2v1.1h-1.2zM59.2 -41.7h1.2v1.1h-1.2zM124.1 -47.8h1.2v1.1h-1.2zM7.9 -49.8h1.2v1.1h-1.2zM-3.7 -51.8h1.2v1.1h-1.2zM-102.9 -52.7h1.2v1.1h-1.2zM30.5 -58.6h1.1v1.1h-1.1zM100.3 -62.4h1.1v1.1h-1.1zM65.8 -63.3h1.1v1.1h-1.1zM-124.4 -64.3h1.1v1.1h-1.1zM107.1 -65.2h1.1v1h-1.1zM-104.3 -67h1v1h-1zM-98.7 -67.9h1v1h-1zM-84.3 -71.5h1v1h-1zM66 -73.2h1v1h-1zM68.7 -74h1v1h-1zM-35.9 -74.9h1v1h-1zM-39.2 -78.9h0.9v0.9h-0.9z"/><path fill="#14a0fa" d="M-64.9 30.4h1.3v1.1h-1.3zM-63.7 22.3h1.3v1.1h-1.3zM55.9 -41.7h1.2v1.1h-1.2zM7.6 -56.7h1.1v1.1h-1.1zM46.2 -56.7h1.1v1.1h-1.1zM-89.3 -57.6h1.1v1.1h-1.1zM6.5 -57.6h1.1v1.1h-1.1zM69.1 -57.6h1.1v1.1h-1.1zM48.5 -58.6h1.1v1.1h-1.1zM94.1 -60.5h1.1v1.1h-1.1zM101.2 -62.4h1.1v1.1h-1.1zM-93.7 -63.3h4v1.1h-4zM62.9 -63.3h1.1v1.1h-1.1zM69.6 -63.3h1.1v1.1h-1.1zM99.4 -63.3h1.1v1.1h-1.1zM-93.9 -64.3h4.9v1.1h-4.9zM-91.1 -65.2h2v1h-2zM-55.3 -65.2h1.1v1h-1.1zM-84.7 -66.1h1.1v1h-1.1zM-55.7 -66.1h1.1v1h-1.1zM-103.4 -67h1v1h-1zM-91.3 -67h1v1h-1zM-85.8 -67h3.8v1h-3.8zM-116.2 -67.9h1v1h-1zM57.3 -67.9h1v1h-1zM99.5 -67.9h1v1h-1zM107.5 -69.7h1v1h-1zM-86 -70.6h1v1h-1zM69.9 -70.6h1v1h-1zM104.8 -73.2h1v1h-1zM55.4 -75.7h1v0.9h-1zM-41.8 -79.7h0.9v0.9h-0.9z"/><path fill="#41bef5" d="M25 23.3h1.3v1.1h-1.3zM-62.9 18.3h1.3v1.1h-1.3zM-39.4 18.3h1.3v1.1h-1.3zM122.7 18.3h1.3v1.1h-1.3zM19.5 12.2h1.3v1.1h-1.3zM24.2 12.2h2.5v1.1h-2.5zM25.4 11.1h2.5v1.1h-2.5zM30.2 10.1h1.3v1.1h-1.3zM32.6 10.1h1.3v1.1h-1.3zM-61.2 9.1h1.3v1.1h-1.3zM-37.5 6.1h1.3v1.1h-1.3zM-47 4h1.3v1.1h-1.3zM107.7 -3.1h1.3v1.1h-1.3zM42.1 -8.2h1.3v1.1h-1.3zM70 -18.4h1.3v1.1h-1.3zM-89.9 -19.4h1.3v1.1h-1.3zM51.8 -24.5h1.3v1.1h-1.3zM71.5 -25.5h3.6v1.1h-3.6zM71.4 -26.5h2.4v1.1h-2.4zM20.1 -30.5h1.3v1.1h-1.3zM36.8 -35.6h1.3v1.1h-1.3zM-102.3 -36.7h1.2v1.1h-1.2zM-99.5 -47.8h1.2v1.1h-1.2zM-75 -49.8h1.2v1.1h-1.2zM50.1 -50.8h1.2v1.1h-1.2zM-66.8 -51.8h1.2v1.1h-1.2zM15.2 -51.8h1.2v1.1h-1.2zM25.5 -52.7h2.2v1.1h-2.2zM108 -52.7h1.2v1.1h-1.2zM112.2 -52.7h1.2v1.1h-1.2zM0.5 -53.7h1.2v1.1h-1.2zM3.6 -53.7h1.2v1.1h-1.2zM25.4 -53.7h4.3v1.1h-4.3zM-1.6 -54.7h1.2v1.1h-1.2zM1.5 -54.7h5.3v1.1h-5.3zM25.2 -54.7h3.2v1.1h-3.2zM83.9 -54.7h2.2v1.1h-2.2zM-0.6 -55.7h1.1v1.1h-1.1zM3.5 -55.7h1.1v1.1h-1.1zM13.8 -55.7h1.1v1.1h-1.1zM27.1 -55.7h1.1v1.1h-1.1zM70.1 -55.7h1.1v1.1h-1.1zM77.2 -55.7h1.1v1.1h-1.1zM14.7 -56.7h1.1v1.1h-1.1zM-63.1 -57.6h1.1v1.1h-1.1zM-1.6 -57.6h1.1v1.1h-1.1zM35.8 -57.6h1.1v1.1h-1.1zM-46.6 -58.6h1.1v1.1h-1.1zM-90 -59.6h1.1v1.1h-1.1zM80.9 -59.6h1.1v1.1h-1.1zM-86.3 -60.5h1.1v1.1h-1.1zM63.5 -60.5h1.1v1.1h-1.1zM67.5 -60.5h1.1v1.1h-1.1zM79.3 -60.5h1.1v1.1h-1.1zM-124.7 -61.5h1.1v1.1h-1.1zM-73.8 -61.5h1.1v1.1h-1.1zM-70.9 -61.5h1.1v1.1h-1.1zM64.9 -61.5h2.1v1.1h-2.1zM86.4 -61.5h1.1v1.1h-1.1zM101.1 -61.5h1.1v1.1h-1.1zM-94.5 -62.4h5.9v1.1h-5.9zM-81.9 -62.4h1.1v1.1h-1.1zM44 -62.4h1.1v1.1h-1.1zM-102.4 -63.3h1.1v1.1h-1.1zM-94.7 -63.3h1.1v1.1h-1.1zM-89.9 -63.3h2v1.1h-2zM54.2 -63.3h1.1v1.1h-1.1zM67.7 -63.3h1.1v1.1h-1.1zM-97.7 -64.3h1.1v1.1h-1.1zM-94.8 -64.3h1.1v1.1h-1.1zM-89.1 -64.3h1.1v1.1h-1.1zM63.3 -64.3h1.1v1.1h-1.1zM68.1 -64.3h1.1v1.1h-1.1zM75.7 -64.3h1.1v1.1h-1.1zM-96.8 -65.2h1.1v1h-1.1zM-94.9 -65.2h3.9v1h-3.9zM-89.3 -65.2h5.8v1h-5.8zM-82.7 -65.2h1.1v1h-1.1zM-80.8 -65.2h2v1h-2zM40.1 -65.2h1.1v1h-1.1zM42.9 -65.2h1.1v1h-1.1zM61.8 -65.2h1.1v1h-1.1zM64.6 -65.2h1.1v1h-1.1zM67.4 -65.2h1.1v1h-1.1zM93.9 -65.2h1.1v1h-1.1zM-124 -66.1h1.1v1h-1.1zM-95 -66.1h10.4v1h-10.4zM-83.8 -66.1h1.1v1h-1.1zM-79.1 -66.1h1.1v1h-1.1zM39.7 -66.1h2v1h-2zM61.2 -66.1h1.1v1h-1.1zM65 -66.1h1.1v1h-1.1zM68.7 -66.1h1.1v1h-1.1zM74.3 -66.1h1.1v1h-1.1zM-105.2 -67h1v1h-1zM-93.2 -67h1v1h-1zM-87.6 -67h2v1h-2zM-81.1 -67h1v1h-1zM38.4 -67h5.7v1h-5.7zM59.7 -67h2.9v1h-2.9zM76.4 -67h1v1h-1zM98.6 -67h1v1h-1zM-113.4 -67.9h1v1h-1zM-108.8 -67.9h1v1h-1zM-91.4 -67.9h1v1h-1zM-85 -67.9h4.7v1h-4.7zM36.2 -67.9h1v1h-1zM38 -67.9h5.6v1h-5.6zM58.2 -67.9h3.8v1h-3.8zM76.6 -67.9h1v1h-1zM82.1 -67.9h1v1h-1zM88.5 -67.9h1v1h-1zM95.9 -67.9h2v1h-2zM98.6 -67.9h1v1h-1zM101.4 -67.9h1v1h-1zM103.2 -67.9h1v1h-1zM-92.3 -68.8h1v1h-1zM-88.7 -68.8h1v1h-1zM-81.4 -68.8h1v1h-1zM-65 -68.8h1.9v1h-1.9zM36.8 -68.8h6.5v1h-6.5zM49.5 -68.8h1v1h-1zM57.7 -68.8h4.7v1h-4.7zM63.1 -68.8h1v1h-1zM76.8 -68.8h1.9v1h-1.9zM94 -68.8h3.8v1h-3.8zM-91.4 -69.7h1.9v1h-1.9zM-75.2 -69.7h1v1h-1zM-63.5 -69.7h1v1h-1zM-28.4 -69.7h1v1h-1zM40 -69.7h1v1h-1zM58.9 -69.7h1v1h-1zM60.7 -69.7h1v1h-1zM76.9 -69.7h1.9v1h-1.9zM-126.1 -70.6h1v1h-1zM-112.8 -70.6h1v1h-1zM-100.3 -70.6h1v1h-1zM-91.4 -70.6h1v1h-1zM48.5 -70.6h1v1h-1zM62.8 -70.6h1v1h-1zM66.3 -70.6h1v1h-1zM75.2 -70.6h1v1h-1zM103.8 -70.6h1v1h-1zM-116 -71.5h1.9v1h-1.9zM-100.1 -71.5h1v1h-1zM-96.6 -71.5h1v1h-1zM-90.4 -71.5h1v1h-1zM-26.9 -71.5h1v1h-1zM37.4 -71.5h1v1h-1zM63 -71.5h2.8v1h-2.8zM66.5 -71.5h1v1h-1zM68.3 -71.5h1v1h-1zM-69.4 -72.3h1v1h-1zM-64.2 -72.3h1v1h-1zM23.1 -72.3h1v1h-1zM24.8 -72.3h1.9v1h-1.9zM36.2 -72.3h3.6v1h-3.6zM70.2 -72.3h1v1h-1zM-111 -73.2h1v1h-1zM-100.6 -73.2h1v1h-1zM-96.3 -73.2h1v1h-1zM20.2 -73.2h1v1h-1zM22 -73.2h1v1h-1zM24.6 -73.2h1v1h-1zM67.7 -73.2h1v1h-1zM69.4 -73.2h1v1h-1zM71.2 -73.2h1v1h-1zM-59.4 -74h1v1h-1zM-57.7 -74h1.8v1h-1.8zM67.8 -74h1v1h-1zM69.5 -74h1v1h-1zM76.4 -74h1v1h-1zM-60.4 -74.9h1v1h-1zM-57 -74.9h1v1h-1zM35 -74.9h1.8v1h-1.8zM50.2 -74.9h1v1h-1zM63.7 -74.9h1.8v1h-1.8zM66.2 -74.9h1v1h-1zM89.8 -74.9h1v1h-1zM-82.2 -75.7h1v0.9h-1zM64.6 -75.7h1v0.9h-1zM78.8 -75.7h1.8v0.9h-1.8zM34.1 -76.5h0.9v0.9h-0.9zM58 -76.5h0.9v0.9h-0.9zM62.2 -76.5h3.4v0.9h-3.4zM-74.3 -78.1h0.9v0.9h-0.9zM-69.5 -78.1h0.9v0.9h-0.9zM55.7 -78.1h1.7v0.9h-1.7zM-40.6 -81.9h0.9v0.8h-0.9zM55.4 -81.9h0.9v0.8h-0.9zM56.9 -81.9h0.9v0.8h-0.9zM-48 -83.8h0.8v0.7h-0.8zM-26 -83.8h0.8v0.7h-0.8z"/><path fill="#a5d7f0" d="M-56.2 58.5h2.1v1.1h-2.1zM-56.6 57.5h3.1v1.1h-3.1zM-58.1 56.6h3.1v1.1h-3.1zM-60.5 55.6h5.2v1.1h-5.2zM-62 54.6h6.3v1.1h-6.3zM-61.4 53.6h5.3v1.1h-5.3zM-62.8 52.6h1.2v1.1h-1.2zM-59.7 52.6h1.2v1.1h-1.2zM-57.6 52.6h2.2v1.1h-2.2zM56.5 52.6h1.2v1.1h-1.2zM-63.6 50.7h3.3v1.1h-3.3zM-64 49.7h2.2v1.1h-2.2zM142.1 49.7h1.2v1.1h-1.2zM141.8 48.7h1.2v1.1h-1.2zM144 48.7h1.2v1.1h-1.2zM143.7 47.7h1.2v1.1h-1.2zM145.6 46.7h2.3v1.1h-2.3zM-57.9 45.7h1.2v1.1h-1.2zM125.8 45.7h2.3v1.1h-2.3zM146.4 45.7h2.3v1.1h-2.3zM-60.3 44.7h1.2v1.1h-1.2zM125.4 44.7h2.3v1.1h-2.3zM148.2 44.7h3.4v1.1h-3.4zM127.9 40.6h3.4v1.1h-3.4zM-59.6 39.6h1.2v1.1h-1.2zM126.2 39.6h1.2v1.1h-1.2zM128.4 39.6h1.2v1.1h-1.2zM130.6 39.6h1.2v1.1h-1.2zM-60.9 38.6h3.5v1.1h-3.5zM125.6 38.6h1.2v1.1h-1.2zM127.8 38.6h1.2v1.1h-1.2zM-61.2 37.6h2.4v1.1h-2.4zM-57.8 37.6h3.5v1.1h-3.5zM-56.9 36.6h2.4v1.1h-2.4zM-58.2 35.5h2.4v1.1h-2.4zM-48.1 35.5h1.2v1.1h-1.2zM-60.7 34.5h6.9v1.1h-6.9zM-49.4 34.5h2.4v1.1h-2.4zM16.4 34.5h1.3v1.1h-1.3zM25.5 34.5h1.3v1.1h-1.3zM134.3 34.5h1.3v1.1h-1.3zM136.5 34.5h2.4v1.1h-2.4zM-60.9 33.5h6.9v1.1h-6.9zM-51.8 33.5h1.3v1.1h-1.3zM-49.5 33.5h3.5v1.1h-3.5zM26.7 33.5h1.3v1.1h-1.3zM125.6 33.5h8.1v1.1h-8.1zM138.1 33.5h1.3v1.1h-1.3zM-61.1 32.5h7v1.1h-7zM-53.1 32.5h7v1.1h-7zM15.4 32.5h1.3v1.1h-1.3zM124.9 32.5h10.4v1.1h-10.4zM136.3 32.5h3.5v1.1h-3.5zM-65.9 31.5h3.6v1.1h-3.6zM-57.8 31.5h1.3v1.1h-1.3zM-55.6 31.5h3.6v1.1h-3.6zM-49.8 31.5h2.4v1.1h-2.4zM26.8 31.5h1.3v1.1h-1.3zM126.4 31.5h2.4v1.1h-2.4zM129.8 31.5h10.4v1.1h-10.4zM-66 30.4h1.3v1.1h-1.3zM-63.7 30.4h2.4v1.1h-2.4zM-56.9 30.4h10.4v1.1h-10.4zM14.3 30.4h4.7v1.1h-4.7zM20 30.4h1.3v1.1h-1.3zM26.9 30.4h2.4v1.1h-2.4zM125.6 30.4h2.4v1.1h-2.4zM129.1 30.4h2.4v1.1h-2.4zM133.7 30.4h8.2v1.1h-8.2zM-66.2 29.4h3.6v1.1h-3.6zM-55.9 29.4h9.3v1.1h-9.3zM-45.5 29.4h1.3v1.1h-1.3zM14.3 29.4h7v1.1h-7zM24.7 29.4h2.4v1.1h-2.4zM28.1 29.4h2.4v1.1h-2.4zM120.2 29.4h3.6v1.1h-3.6zM129.4 29.4h3.6v1.1h-3.6zM136.3 29.4h1.3v1.1h-1.3zM138.6 29.4h3.6v1.1h-3.6zM-61.8 28.4h1.3v1.1h-1.3zM-49.1 28.4h1.3v1.1h-1.3zM-45.6 28.4h1.3v1.1h-1.3zM14.4 28.4h5.9v1.1h-5.9zM24.8 28.4h5.9v1.1h-5.9zM118.2 28.4h4.7v1.1h-4.7zM126.3 28.4h1.3v1.1h-1.3zM128.6 28.4h3.6v1.1h-3.6zM133.2 28.4h2.4v1.1h-2.4zM140.1 28.4h1.3v1.1h-1.3zM-65.4 27.4h2.4v1.1h-2.4zM-45.7 27.4h1.3v1.1h-1.3zM16.7 27.4h1.3v1.1h-1.3zM24.8 27.4h5.9v1.1h-5.9zM105.8 27.4h1.3v1.1h-1.3zM118.5 27.4h1.3v1.1h-1.3zM120.8 27.4h1.3v1.1h-1.3zM123.1 27.4h2.4v1.1h-2.4zM126.6 27.4h15.2v1.1h-15.2zM-60.9 26.4h1.3v1.1h-1.3zM23.7 26.4h1.3v1.1h-1.3zM26 26.4h5.9v1.1h-5.9zM104.8 26.4h1.3v1.1h-1.3zM108.3 26.4h1.3v1.1h-1.3zM121.1 26.4h2.4v1.1h-2.4zM126.8 26.4h15.2v1.1h-15.2zM-52.9 25.4h1.3v1.1h-1.3zM-49.4 25.4h1.3v1.1h-1.3zM-47.1 25.4h1.3v1.1h-1.3zM14.5 25.4h1.3v1.1h-1.3zM17.9 25.4h2.4v1.1h-2.4zM21.4 25.4h1.3v1.1h-1.3zM23.8 25.4h8.2v1.1h-8.2zM105 25.4h5.9v1.1h-5.9zM112 25.4h1.3v1.1h-1.3zM116.7 25.4h1.3v1.1h-1.3zM128.3 25.4h12.9v1.1h-12.9zM-64.6 24.4h1.3v1.1h-1.3zM-54.1 24.4h9.4v1.1h-9.4zM-41.3 24.4h1.3v1.1h-1.3zM19.1 24.4h14.1v1.1h-14.1zM105.2 24.4h1.3v1.1h-1.3zM107.6 24.4h1.3v1.1h-1.3zM109.9 24.4h2.4v1.1h-2.4zM119.2 24.4h1.3v1.1h-1.3zM125 24.4h10.6v1.1h-10.6zM136.6 24.4h1.3v1.1h-1.3zM-65.9 23.3h2.5v1.1h-2.5zM-53.1 23.3h7.1v1.1h-7.1zM-44.9 23.3h7.1v1.1h-7.1zM19.2 23.3h5.9v1.1h-5.9zM26.2 23.3h7.1v1.1h-7.1zM105.4 23.3h4.8v1.1h-4.8zM112.4 23.3h1.3v1.1h-1.3zM120.6 23.3h1.3v1.1h-1.3zM126.4 23.3h11.8v1.1h-11.8zM154.4 23.3h1.3v1.1h-1.3zM-66 22.3h2.5v1.1h-2.5zM-53.2 22.3h6v1.1h-6zM-45 22.3h7.1v1.1h-7.1zM18 22.3h15.3v1.1h-15.3zM44.9 22.3h1.3v1.1h-1.3zM106.8 22.3h8.3v1.1h-8.3zM121.9 22.3h1.3v1.1h-1.3zM132.4 22.3h1.3v1.1h-1.3zM134.8 22.3h1.3v1.1h-1.3zM137.1 22.3h1.3v1.1h-1.3zM-66.1 21.3h1.3v1.1h-1.3zM-53.3 21.3h7.1v1.1h-7.1zM-42.7 21.3h6v1.1h-6zM16.9 21.3h15.3v1.1h-15.3zM45 21.3h1.3v1.1h-1.3zM109.3 21.3h3.6v1.1h-3.6zM115.1 21.3h2.5v1.1h-2.5zM122.1 21.3h1.3v1.1h-1.3zM132.7 21.3h3.6v1.1h-3.6zM137.3 21.3h1.3v1.1h-1.3zM-52.2 20.3h6v1.1h-6zM-42.8 20.3h6v1.1h-6zM11.1 20.3h23.5v1.1h-23.5zM41.5 20.3h4.8v1.1h-4.8zM113 20.3h3.6v1.1h-3.6zM134 20.3h1.3v1.1h-1.3zM136.4 20.3h1.3v1.1h-1.3zM-66.3 19.3h4.8v1.1h-4.8zM-48.7 19.3h11.8v1.1h-11.8zM11.1 19.3h23.6v1.1h-23.6zM41.6 19.3h4.8v1.1h-4.8zM114.3 19.3h3.6v1.1h-3.6zM131.9 19.3h4.8v1.1h-4.8zM-67.6 18.3h4.8v1.1h-4.8zM-61.7 18.3h3.6v1.1h-3.6zM-50 18.3h1.3v1.1h-1.3zM-47.6 18.3h8.3v1.1h-8.3zM-38.2 18.3h2.5v1.1h-2.5zM14.6 18.3h1.3v1.1h-1.3zM17 18.3h6v1.1h-6zM24 18.3h3.6v1.1h-3.6zM31.1 18.3h1.3v1.1h-1.3zM33.4 18.3h1.3v1.1h-1.3zM44 18.3h3.6v1.1h-3.6zM114.5 18.3h2.5v1.1h-2.5zM132.1 18.3h4.8v1.1h-4.8zM166.2 18.3h1.3v1.1h-1.3zM-55.9 17.2h1.3v1.1h-1.3zM-53.6 17.2h17.8v1.1h-17.8zM20.5 17.2h4.8v1.1h-4.8zM27.6 17.2h1.3v1.1h-1.3zM32.3 17.2h2.5v1.1h-2.5zM42.9 17.2h2.5v1.1h-2.5zM46.4 17.2h1.3v1.1h-1.3zM115.8 17.2h3.6v1.1h-3.6zM135.8 17.2h1.3v1.1h-1.3zM-58.4 16.2h2.5v1.1h-2.5zM-53.7 16.2h17.8v1.1h-17.8zM14.7 16.2h1.3v1.1h-1.3zM18.2 16.2h1.3v1.1h-1.3zM20.6 16.2h1.3v1.1h-1.3zM22.9 16.2h6v1.1h-6zM30 16.2h1.3v1.1h-1.3zM32.3 16.2h6v1.1h-6zM44.1 16.2h1.3v1.1h-1.3zM46.5 16.2h1.3v1.1h-1.3zM117.2 16.2h4.8v1.1h-4.8zM134.8 16.2h2.5v1.1h-2.5zM-64.3 15.2h1.3v1.1h-1.3zM-62 15.2h4.8v1.1h-4.8zM-56.1 15.2h20.2v1.1h-20.2zM14.7 15.2h2.5v1.1h-2.5zM18.2 15.2h2.5v1.1h-2.5zM23 15.2h3.7v1.1h-3.7zM27.7 15.2h4.8v1.1h-4.8zM33.6 15.2h1.3v1.1h-1.3zM35.9 15.2h1.3v1.1h-1.3zM45.4 15.2h2.5v1.1h-2.5zM118.5 15.2h2.5v1.1h-2.5zM136.2 15.2h1.3v1.1h-1.3zM-65.6 14.2h10.7v1.1h-10.7zM-53.8 14.2h3.7v1.1h-3.7zM-49.1 14.2h1.3v1.1h-1.3zM-45.5 14.2h2.5v1.1h-2.5zM-42 14.2h6v1.1h-6zM14.7 14.2h3.7v1.1h-3.7zM26.5 14.2h8.4v1.1h-8.4zM122.2 14.2h1.3v1.1h-1.3zM134 14.2h1.3v1.1h-1.3zM-63.3 13.2h6v1.1h-6zM-56.2 13.2h4.8v1.1h-4.8zM-47.9 13.2h1.3v1.1h-1.3zM-44.4 13.2h1.3v1.1h-1.3zM-38.5 13.2h2.5v1.1h-2.5zM12.4 13.2h1.3v1.1h-1.3zM20.6 13.2h1.3v1.1h-1.3zM23 13.2h15.5v1.1h-15.5zM-63.4 12.2h9.6v1.1h-9.6zM-52.7 12.2h1.3v1.1h-1.3zM-50.4 12.2h3.7v1.1h-3.7zM-44.4 12.2h1.3v1.1h-1.3zM-39.7 12.2h4.9v1.1h-4.9zM13.6 12.2h1.3v1.1h-1.3zM21.8 12.2h2.5v1.1h-2.5zM26.6 12.2h9.6v1.1h-9.6zM-61.1 11.1h2.5v1.1h-2.5zM-56.3 11.1h1.3v1.1h-1.3zM-54 11.1h19.1v1.1h-19.1zM12.4 11.1h2.5v1.1h-2.5zM19.5 11.1h6v1.1h-6zM27.8 11.1h8.4v1.1h-8.4zM-61.1 10.1h2.5v1.1h-2.5zM-56.4 10.1h4.9v1.1h-4.9zM-50.4 10.1h1.3v1.1h-1.3zM-48.1 10.1h9.6v1.1h-9.6zM-37.4 10.1h1.3v1.1h-1.3zM-35 10.1h1.3v1.1h-1.3zM12.4 10.1h1.3v1.1h-1.3zM20.7 10.1h9.6v1.1h-9.6zM31.4 10.1h1.3v1.1h-1.3zM33.7 10.1h1.3v1.1h-1.3zM113.2 10.1h1.3v1.1h-1.3zM140.4 10.1h2.5v1.1h-2.5zM151.1 10.1h1.3v1.1h-1.3zM-62.3 9.1h1.3v1.1h-1.3zM-58.8 9.1h3.7v1.1h-3.7zM-52.8 9.1h1.3v1.1h-1.3zM-50.5 9.1h7.2v1.1h-7.2zM-42.2 9.1h1.3v1.1h-1.3zM12.4 9.1h2.5v1.1h-2.5zM16 9.1h1.3v1.1h-1.3zM18.3 9.1h4.9v1.1h-4.9zM25.5 9.1h7.2v1.1h-7.2zM108.5 9.1h8.4v1.1h-8.4zM133.4 9.1h2.5v1.1h-2.5zM150 9.1h1.3v1.1h-1.3zM-75.4 8.1h1.3v1.1h-1.3zM-58.8 8.1h1.3v1.1h-1.3zM-54.1 8.1h6.1v1.1h-6.1zM-46.9 8.1h1.3v1.1h-1.3zM-44.6 8.1h3.7v1.1h-3.7zM11.2 8.1h1.3v1.1h-1.3zM21.9 8.1h2.5v1.1h-2.5zM26.7 8.1h8.4v1.1h-8.4zM103.8 8.1h8.4v1.1h-8.4zM131.1 8.1h3.7v1.1h-3.7zM149 8.1h1.3v1.1h-1.3zM-76.7 7.1h2.5v1.1h-2.5zM-64.8 7.1h1.3v1.1h-1.3zM-52.9 7.1h12v1.1h-12zM-36.3 7.1h1.3v1.1h-1.3zM-33.9 7.1h1.3v1.1h-1.3zM12.4 7.1h1.3v1.1h-1.3zM14.8 7.1h1.3v1.1h-1.3zM17.2 7.1h2.5v1.1h-2.5zM21.9 7.1h4.9v1.1h-4.9zM27.9 7.1h4.9v1.1h-4.9zM103.9 7.1h3.7v1.1h-3.7zM131.2 7.1h2.5v1.1h-2.5zM136 7.1h1.3v1.1h-1.3zM139.5 7.1h1.3v1.1h-1.3zM-76.7 6.1h2.5v1.1h-2.5zM-66 6.1h3.7v1.1h-3.7zM-51.8 6.1h12v1.1h-12zM-38.7 6.1h1.3v1.1h-1.3zM-35.1 6.1h2.5v1.1h-2.5zM11.2 6.1h6.1v1.1h-6.1zM18.4 6.1h12v1.1h-12zM131.3 6.1h1.3v1.1h-1.3zM139.6 6.1h1.3v1.1h-1.3zM142 6.1h2.5v1.1h-2.5zM146.7 6.1h1.3v1.1h-1.3zM-64.9 5h3.7v1.1h-3.7zM-60.1 5h3.7v1.1h-3.7zM-50.6 5h16.8v1.1h-16.8zM11.2 5h7.3v1.1h-7.3zM19.6 5h12v1.1h-12zM36.2 5h1.3v1.1h-1.3zM100.4 5h1.3v1.1h-1.3zM130.2 5h4.9v1.1h-4.9zM136.1 5h3.7v1.1h-3.7zM143.2 5h1.3v1.1h-1.3zM-76.8 4h1.3v1.1h-1.3zM-72 4h1.3v1.1h-1.3zM-68.5 4h9.6v1.1h-9.6zM-51.8 4h4.9v1.1h-4.9zM-45.9 4h9.6v1.1h-9.6zM10.1 4h4.9v1.1h-4.9zM19.6 4h1.3v1.1h-1.3zM22 4h9.6v1.1h-9.6zM37.4 4h1.3v1.1h-1.3zM99.3 4h2.5v1.1h-2.5zM108.8 4h1.3v1.1h-1.3zM126.7 4h2.5v1.1h-2.5zM130.2 4h2.5v1.1h-2.5zM133.8 4h1.3v1.1h-1.3zM136.2 4h1.3v1.1h-1.3zM-75.6 3h18v1.1h-18zM-49.4 3h9.6v1.1h-9.6zM-38.7 3h1.3v1.1h-1.3zM11.3 3h4.9v1.1h-4.9zM22 3h1.3v1.1h-1.3zM24.3 3h1.3v1.1h-1.3zM26.7 3h7.3v1.1h-7.3zM35.1 3h1.3v1.1h-1.3zM99.3 3h1.3v1.1h-1.3zM105.3 3h3.7v1.1h-3.7zM-75.6 2h2.5v1.1h-2.5zM-72.1 2h12v1.1h-12zM-49.5 2h8.5v1.1h-8.5zM12.4 2h4.9v1.1h-4.9zM27.9 2h1.3v1.1h-1.3zM30.3 2h8.5v1.1h-8.5zM98.2 2h2.5v1.1h-2.5zM104.1 2h6.1v1.1h-6.1zM-74.5 1h6.1v1.1h-6.1zM-67.3 1h7.3v1.1h-7.3zM-59 1h1.3v1.1h-1.3zM-50.7 1h7.3v1.1h-7.3zM11.3 1h6.1v1.1h-6.1zM31.5 1h7.3v1.1h-7.3zM94.6 1h4.9v1.1h-4.9zM104.1 1h8.5v1.1h-8.5zM116 1h1.3v1.1h-1.3zM-75.7 0h7.3v1.1h-7.3zM-67.3 0h3.7v1.1h-3.7zM-62.6 0h2.5v1.1h-2.5zM-53 0h8.5v1.1h-8.5zM13.6 0h2.5v1.1h-2.5zM17.2 0h1.3v1.1h-1.3zM33.9 0h7.3v1.1h-7.3zM97 0h2.5v1.1h-2.5zM103 0h1.3v1.1h-1.3zM105.3 0h4.9v1.1h-4.9zM111.3 0h1.3v1.1h-1.3zM113.7 0h1.3v1.1h-1.3zM-76.9 -1.1h6.1v1.1h-6.1zM-66.1 -1.1h1.3v1.1h-1.3zM-63.8 -1.1h3.7v1.1h-3.7zM-51.9 -1.1h4.9v1.1h-4.9zM8.9 -1.1h2.5v1.1h-2.5zM12.5 -1.1h4.9v1.1h-4.9zM36.3 -1.1h6.1v1.1h-6.1zM97 -1.1h1.3v1.1h-1.3zM104.2 -1.1h7.3v1.1h-7.3zM113.7 -1.1h4.9v1.1h-4.9zM120.8 -1.1h1.3v1.1h-1.3zM-75.7 -2.1h3.7v1.1h-3.7zM-68.5 -2.1h3.7v1.1h-3.7zM-62.6 -2.1h1.3v1.1h-1.3zM-59 -2.1h1.3v1.1h-1.3zM-51.8 -2.1h4.9v1.1h-4.9zM8.9 -2.1h2.5v1.1h-2.5zM13.6 -2.1h6.1v1.1h-6.1zM27.9 -2.1h1.3v1.1h-1.3zM36.3 -2.1h7.3v1.1h-7.3zM94.6 -2.1h2.5v1.1h-2.5zM105.3 -2.1h8.5v1.1h-8.5zM114.9 -2.1h1.3v1.1h-1.3zM117.2 -2.1h2.5v1.1h-2.5zM120.8 -2.1h1.3v1.1h-1.3zM-75.6 -3.1h1.3v1.1h-1.3zM-70.9 -3.1h1.3v1.1h-1.3zM-68.5 -3.1h9.6v1.1h-9.6zM-51.8 -3.1h3.7v1.1h-3.7zM8.9 -3.1h1.3v1.1h-1.3zM11.3 -3.1h1.3v1.1h-1.3zM14.8 -3.1h2.5v1.1h-2.5zM18.4 -3.1h3.7v1.1h-3.7zM29.1 -3.1h1.3v1.1h-1.3zM33.9 -3.1h1.3v1.1h-1.3zM36.3 -3.1h1.3v1.1h-1.3zM38.6 -3.1h2.5v1.1h-2.5zM93.4 -3.1h1.3v1.1h-1.3zM105.3 -3.1h2.5v1.1h-2.5zM108.9 -3.1h3.7v1.1h-3.7zM-73.2 -4.1h1.3v1.1h-1.3zM-70.9 -4.1h1.3v1.1h-1.3zM-67.3 -4.1h3.7v1.1h-3.7zM-62.5 -4.1h1.3v1.1h-1.3zM-60.1 -4.1h1.3v1.1h-1.3zM-54.2 -4.1h1.3v1.1h-1.3zM-51.8 -4.1h1.3v1.1h-1.3zM-49.4 -4.1h1.3v1.1h-1.3zM16 -4.1h6.1v1.1h-6.1zM35.1 -4.1h1.3v1.1h-1.3zM37.4 -4.1h1.3v1.1h-1.3zM94.6 -4.1h2.5v1.1h-2.5zM98.1 -4.1h1.3v1.1h-1.3zM106.5 -4.1h6.1v1.1h-6.1zM-67.3 -5.1h1.3v1.1h-1.3zM-62.5 -5.1h3.7v1.1h-3.7zM-50.6 -5.1h2.5v1.1h-2.5zM5.3 -5.1h1.3v1.1h-1.3zM18.4 -5.1h2.5v1.1h-2.5zM36.2 -5.1h1.3v1.1h-1.3zM93.3 -5.1h1.3v1.1h-1.3zM96.9 -5.1h2.5v1.1h-2.5zM107.6 -5.1h2.5v1.1h-2.5zM111.2 -5.1h1.3v1.1h-1.3zM-69.6 -6.2h1.3v1.1h-1.3zM-63.7 -6.2h1.3v1.1h-1.3zM-61.3 -6.2h3.7v1.1h-3.7zM-50.6 -6.2h1.3v1.1h-1.3zM-1.8 -6.2h1.3v1.1h-1.3zM4.1 -6.2h1.3v1.1h-1.3zM14.8 -6.2h2.5v1.1h-2.5zM20.8 -6.2h1.3v1.1h-1.3zM35 -6.2h2.5v1.1h-2.5zM38.6 -6.2h1.3v1.1h-1.3zM95.7 -6.2h2.5v1.1h-2.5zM108.8 -6.2h4.9v1.1h-4.9zM-74.3 -7.2h3.7v1.1h-3.7zM-61.3 -7.2h3.7v1.1h-3.7zM-52.9 -7.2h1.3v1.1h-1.3zM-9 -7.2h1.3v1.1h-1.3zM-5.4 -7.2h1.3v1.1h-1.3zM-1.8 -7.2h1.3v1.1h-1.3zM0.5 -7.2h1.3v1.1h-1.3zM16 -7.2h1.3v1.1h-1.3zM32.6 -7.2h6.1v1.1h-6.1zM75.4 -7.2h2.5v1.1h-2.5zM94.4 -7.2h3.7v1.1h-3.7zM109.9 -7.2h2.5v1.1h-2.5zM118.2 -7.2h2.5v1.1h-2.5zM-74.3 -8.2h4.9v1.1h-4.9zM-68.4 -8.2h2.5v1.1h-2.5zM-60 -8.2h2.5v1.1h-2.5zM-56.5 -8.2h1.3v1.1h-1.3zM19.6 -8.2h3.7v1.1h-3.7zM29.1 -8.2h1.3v1.1h-1.3zM31.4 -8.2h6.1v1.1h-6.1zM75.4 -8.2h1.3v1.1h-1.3zM94.4 -8.2h2.5v1.1h-2.5zM115.8 -8.2h4.9v1.1h-4.9zM-79 -9.2h10.8v1.1h-10.8zM-63.6 -9.2h1.3v1.1h-1.3zM-57.6 -9.2h1.3v1.1h-1.3zM-5.4 -9.2h1.3v1.1h-1.3zM-1.8 -9.2h1.3v1.1h-1.3zM14.8 -9.2h1.3v1.1h-1.3zM25.5 -9.2h1.3v1.1h-1.3zM30.2 -9.2h6.1v1.1h-6.1zM76.5 -9.2h1.3v1.1h-1.3zM93.2 -9.2h2.5v1.1h-2.5zM-76.6 -10.2h7.2v1.1h-7.2zM5.3 -10.2h1.3v1.1h-1.3zM7.7 -10.2h1.3v1.1h-1.3zM29 -10.2h1.3v1.1h-1.3zM31.4 -10.2h1.3v1.1h-1.3zM72.9 -10.2h1.3v1.1h-1.3zM93.1 -10.2h2.5v1.1h-2.5zM99 -10.2h1.3v1.1h-1.3zM-80.1 -11.2h2.5v1.1h-2.5zM-71.8 -11.2h4.9v1.1h-4.9zM-13.7 -11.2h7.2v1.1h-7.2zM5.3 -11.2h6v1.1h-6zM39.7 -11.2h1.3v1.1h-1.3zM71.7 -11.2h1.3v1.1h-1.3zM93 -11.2h1.3v1.1h-1.3zM98.9 -11.2h2.5v1.1h-2.5zM112 -11.2h1.3v1.1h-1.3zM115.5 -11.2h1.3v1.1h-1.3zM-71.7 -12.3h8.4v1.1h-8.4zM4.1 -12.3h8.4v1.1h-8.4zM13.6 -12.3h1.3v1.1h-1.3zM40.8 -12.3h1.3v1.1h-1.3zM71.6 -12.3h2.5v1.1h-2.5zM75.2 -12.3h1.3v1.1h-1.3zM92.9 -12.3h1.3v1.1h-1.3zM97.7 -12.3h4.9v1.1h-4.9zM111.9 -12.3h1.3v1.1h-1.3zM115.5 -12.3h3.7v1.1h-3.7zM-69.3 -13.3h3.7v1.1h-3.7zM6.5 -13.3h7.2v1.1h-7.2zM39.6 -13.3h1.3v1.1h-1.3zM75.1 -13.3h1.3v1.1h-1.3zM92.9 -13.3h1.3v1.1h-1.3zM96.4 -13.3h7.2v1.1h-7.2zM117.7 -13.3h1.3v1.1h-1.3zM7.6 -14.3h6v1.1h-6zM25.4 -14.3h3.7v1.1h-3.7zM38.4 -14.3h4.8v1.1h-4.8zM70.3 -14.3h1.3v1.1h-1.3zM73.8 -14.3h2.5v1.1h-2.5zM99.9 -14.3h3.7v1.1h-3.7zM-85.7 -15.3h1.3v1.1h-1.3zM-83.3 -15.3h3.7v1.1h-3.7zM10 -15.3h2.5v1.1h-2.5zM13.5 -15.3h1.3v1.1h-1.3zM24.2 -15.3h3.7v1.1h-3.7zM99.8 -15.3h2.5v1.1h-2.5zM-87.9 -16.3h9.6v1.1h-9.6zM-17.2 -16.3h3.7v1.1h-3.7zM24.1 -16.3h1.3v1.1h-1.3zM26.5 -16.3h1.3v1.1h-1.3zM37.1 -16.3h1.3v1.1h-1.3zM70.1 -16.3h1.3v1.1h-1.3zM91.4 -16.3h1.3v1.1h-1.3zM-91.4 -17.3h1.3v1.1h-1.3zM-89 -17.3h10.7v1.1h-10.7zM39.4 -17.3h2.5v1.1h-2.5zM68.9 -17.3h4.8v1.1h-4.8zM93.6 -17.3h1.3v1.1h-1.3zM99.5 -17.3h1.3v1.1h-1.3zM101.9 -17.3h1.3v1.1h-1.3zM113.6 -17.3h1.3v1.1h-1.3zM-93.6 -18.4h8.4v1.1h-8.4zM-84.2 -18.4h1.3v1.1h-1.3zM-7.7 -18.4h2.5v1.1h-2.5zM7.6 -18.4h1.3v1.1h-1.3zM12.3 -18.4h1.3v1.1h-1.3zM68.8 -18.4h1.3v1.1h-1.3zM71.1 -18.4h4.8v1.1h-4.8zM94.7 -18.4h7.2v1.1h-7.2zM-95.8 -19.4h6v1.1h-6zM-88.7 -19.4h3.6v1.1h-3.6zM-84 -19.4h1.3v1.1h-1.3zM-8.9 -19.4h1.3v1.1h-1.3zM-6.5 -19.4h4.8v1.1h-4.8zM42.8 -19.4h1.3v1.1h-1.3zM68.7 -19.4h7.2v1.1h-7.2zM95.7 -19.4h4.8v1.1h-4.8zM-95.6 -20.4h6v1.1h-6zM-85.1 -20.4h3.6v1.1h-3.6zM-69.8 -20.4h1.3v1.1h-1.3zM-65.2 -20.4h1.3v1.1h-1.3zM-62.8 -20.4h1.3v1.1h-1.3zM-6.5 -20.4h1.3v1.1h-1.3zM-4.2 -20.4h4.8v1.1h-4.8zM26.3 -20.4h1.3v1.1h-1.3zM68.6 -20.4h7.2v1.1h-7.2zM-96.7 -21.4h2.5v1.1h-2.5zM-93.2 -21.4h2.5v1.1h-2.5zM-83.8 -21.4h1.3v1.1h-1.3zM-66.2 -21.4h1.3v1.1h-1.3zM-4.1 -21.4h4.8v1.1h-4.8zM5.2 -21.4h7.1v1.1h-7.1zM49.7 -21.4h4.8v1.1h-4.8zM68.5 -21.4h1.3v1.1h-1.3zM70.8 -21.4h3.6v1.1h-3.6zM75.5 -21.4h4.8v1.1h-4.8zM-97.7 -22.4h3.6v1.1h-3.6zM-73.1 -22.4h3.6v1.1h-3.6zM-7.7 -22.4h1.3v1.1h-1.3zM-5.3 -22.4h4.8v1.1h-4.8zM1.7 -22.4h1.3v1.1h-1.3zM5.2 -22.4h2.5v1.1h-2.5zM8.7 -22.4h4.8v1.1h-4.8zM46.1 -22.4h3.6v1.1h-3.6zM50.8 -22.4h2.5v1.1h-2.5zM54.3 -22.4h1.3v1.1h-1.3zM67.2 -22.4h1.3v1.1h-1.3zM69.5 -22.4h1.3v1.1h-1.3zM75.4 -22.4h3.6v1.1h-3.6zM80 -22.4h1.3v1.1h-1.3zM91.7 -22.4h2.5v1.1h-2.5zM95.2 -22.4h3.6v1.1h-3.6zM-98.7 -23.4h6v1.1h-6zM-6.5 -23.4h4.8v1.1h-4.8zM5.2 -23.4h3.6v1.1h-3.6zM9.9 -23.4h4.8v1.1h-4.8zM46.1 -23.4h9.5v1.1h-9.5zM64.7 -23.4h7.1v1.1h-7.1zM75.2 -23.4h2.5v1.1h-2.5zM88.1 -23.4h3.6v1.1h-3.6zM93.9 -23.4h7.1v1.1h-7.1zM-92.7 -24.5h2.5v1.1h-2.5zM-74.1 -24.5h1.3v1.1h-1.3zM-7.6 -24.5h2.5v1.1h-2.5zM-4.1 -24.5h2.5v1.1h-2.5zM11 -24.5h2.5v1.1h-2.5zM43.7 -24.5h1.3v1.1h-1.3zM46 -24.5h5.9v1.1h-5.9zM53 -24.5h2.5v1.1h-2.5zM64.6 -24.5h12.9v1.1h-12.9zM78.6 -24.5h1.3v1.1h-1.3zM91.4 -24.5h1.3v1.1h-1.3zM94.9 -24.5h7.1v1.1h-7.1zM105.4 -24.5h1.3v1.1h-1.3zM-103 -25.5h1.3v1.1h-1.3zM-77.4 -25.5h2.4v1.1h-2.4zM-6.4 -25.5h2.4v1.1h-2.4zM-0.6 -25.5h2.4v1.1h-2.4zM8.7 -25.5h1.3v1.1h-1.3zM28.5 -25.5h4.8v1.1h-4.8zM42.4 -25.5h1.3v1.1h-1.3zM44.7 -25.5h10.6v1.1h-10.6zM66.8 -25.5h4.8v1.1h-4.8zM75 -25.5h3.6v1.1h-3.6zM90.1 -25.5h2.4v1.1h-2.4zM93.6 -25.5h9.4v1.1h-9.4zM106.4 -25.5h1.3v1.1h-1.3zM-104 -26.5h2.4v1.1h-2.4zM-100.5 -26.5h1.3v1.1h-1.3zM-3 -26.5h1.3v1.1h-1.3zM-0.6 -26.5h7.1v1.1h-7.1zM8.7 -26.5h3.6v1.1h-3.6zM27.2 -26.5h5.9v1.1h-5.9zM38.9 -26.5h2.4v1.1h-2.4zM42.3 -26.5h2.4v1.1h-2.4zM47 -26.5h7.1v1.1h-7.1zM66.7 -26.5h4.8v1.1h-4.8zM73.7 -26.5h4.8v1.1h-4.8zM81.8 -26.5h1.3v1.1h-1.3zM87.6 -26.5h2.4v1.1h-2.4zM91.1 -26.5h3.6v1.1h-3.6zM98.1 -26.5h9.4v1.1h-9.4zM112 -26.5h1.3v1.1h-1.3zM-2.9 -27.5h3.6v1.1h-3.6zM2.8 -27.5h1.3v1.1h-1.3zM27.2 -27.5h3.6v1.1h-3.6zM38.8 -27.5h1.3v1.1h-1.3zM41.1 -27.5h1.3v1.1h-1.3zM57.3 -27.5h1.3v1.1h-1.3zM60.8 -27.5h1.3v1.1h-1.3zM66.6 -27.5h9.4v1.1h-9.4zM85.1 -27.5h1.3v1.1h-1.3zM87.4 -27.5h2.4v1.1h-2.4zM90.9 -27.5h1.3v1.1h-1.3zM96.7 -27.5h3.6v1.1h-3.6zM101.4 -27.5h7.1v1.1h-7.1zM109.5 -27.5h1.3v1.1h-1.3zM111.8 -27.5h1.3v1.1h-1.3zM-75.8 -28.5h1.3v1.1h-1.3zM-2.9 -28.5h2.4v1.1h-2.4zM23.7 -28.5h8.2v1.1h-8.2zM36.4 -28.5h2.4v1.1h-2.4zM41 -28.5h2.4v1.1h-2.4zM51.4 -28.5h2.4v1.1h-2.4zM56 -28.5h14v1.1h-14zM72.2 -28.5h1.3v1.1h-1.3zM84.9 -28.5h1.3v1.1h-1.3zM87.3 -28.5h3.6v1.1h-3.6zM91.9 -28.5h5.9v1.1h-5.9zM98.8 -28.5h3.6v1.1h-3.6zM103.4 -28.5h3.6v1.1h-3.6zM-105.6 -29.5h1.3v1.1h-1.3zM-90.6 -29.5h1.3v1.1h-1.3zM-76.8 -29.5h1.3v1.1h-1.3zM2.8 -29.5h2.4v1.1h-2.4zM12.1 -29.5h4.7v1.1h-4.7zM17.8 -29.5h1.3v1.1h-1.3zM20.1 -29.5h11.7v1.1h-11.7zM34 -29.5h11.7v1.1h-11.7zM50.1 -29.5h7v1.1h-7zM58.2 -29.5h1.3v1.1h-1.3zM60.5 -29.5h3.6v1.1h-3.6zM65.1 -29.5h8.2v1.1h-8.2zM82.4 -29.5h1.3v1.1h-1.3zM84.7 -29.5h1.3v1.1h-1.3zM87.1 -29.5h1.3v1.1h-1.3zM90.5 -29.5h2.4v1.1h-2.4zM95.1 -29.5h2.4v1.1h-2.4zM98.6 -29.5h1.3v1.1h-1.3zM-104.2 -30.5h1.3v1.1h-1.3zM-101.9 -30.5h2.4v1.1h-2.4zM-92.7 -30.5h1.3v1.1h-1.3zM-90.4 -30.5h1.3v1.1h-1.3zM-76.6 -30.5h1.3v1.1h-1.3zM-5.2 -30.5h7v1.1h-7zM6.3 -30.5h1.3v1.1h-1.3zM9.7 -30.5h1.3v1.1h-1.3zM12 -30.5h5.9v1.1h-5.9zM21.2 -30.5h20.8v1.1h-20.8zM44.3 -30.5h1.3v1.1h-1.3zM47.7 -30.5h1.3v1.1h-1.3zM50 -30.5h9.3v1.1h-9.3zM60.4 -30.5h13.9v1.1h-13.9zM75.3 -30.5h1.3v1.1h-1.3zM83.4 -30.5h2.4v1.1h-2.4zM89.1 -30.5h2.4v1.1h-2.4zM98.3 -30.5h1.3v1.1h-1.3zM-105.1 -31.6h1.3v1.1h-1.3zM-93.6 -31.6h5.9v1.1h-5.9zM-6.4 -31.6h8.2v1.1h-8.2zM8.6 -31.6h8.2v1.1h-8.2zM20 -31.6h5.9v1.1h-5.9zM26.9 -31.6h11.6v1.1h-11.6zM39.5 -31.6h1.3v1.1h-1.3zM47.6 -31.6h10.4v1.1h-10.4zM61.4 -31.6h1.3v1.1h-1.3zM63.6 -31.6h15v1.1h-15zM79.7 -31.6h3.6v1.1h-3.6zM90 -31.6h3.6v1.1h-3.6zM94.6 -31.6h1.3v1.1h-1.3zM107.3 -31.6h1.3v1.1h-1.3zM-105.9 -32.6h5.8v1.1h-5.8zM-99 -32.6h1.3v1.1h-1.3zM-94.5 -32.6h5.8v1.1h-5.8zM-87.6 -32.6h5.8v1.1h-5.8zM-8.6 -32.6h2.4v1.1h-2.4zM-5.2 -32.6h4.7v1.1h-4.7zM0.5 -32.6h1.3v1.1h-1.3zM12 -32.6h1.3v1.1h-1.3zM15.4 -32.6h3.6v1.1h-3.6zM21.1 -32.6h9.3v1.1h-9.3zM32.6 -32.6h5.8v1.1h-5.8zM50.9 -32.6h5.8v1.1h-5.8zM62.3 -32.6h1.3v1.1h-1.3zM64.6 -32.6h17.3v1.1h-17.3zM89.8 -32.6h5.8v1.1h-5.8zM102.4 -32.6h1.3v1.1h-1.3zM104.7 -32.6h4.7v1.1h-4.7zM110.4 -32.6h1.3v1.1h-1.3zM-106.7 -33.6h2.4v1.1h-2.4zM-103.3 -33.6h4.7v1.1h-4.7zM-93 -33.6h15v1.1h-15zM-74.8 -33.6h1.3v1.1h-1.3zM-9.7 -33.6h3.5v1.1h-3.5zM-5.2 -33.6h7v1.1h-7zM15.4 -33.6h1.3v1.1h-1.3zM19.9 -33.6h9.2v1.1h-9.2zM33.6 -33.6h4.7v1.1h-4.7zM50.7 -33.6h1.3v1.1h-1.3zM64.4 -33.6h8.1v1.1h-8.1zM73.5 -33.6h1.3v1.1h-1.3zM77 -33.6h2.4v1.1h-2.4zM106.6 -33.6h4.7v1.1h-4.7zM-106.4 -34.6h9.2v1.1h-9.2zM-92.7 -34.6h10.4v1.1h-10.4zM-74.5 -34.6h1.3v1.1h-1.3zM-7.4 -34.6h5.8v1.1h-5.8zM-0.6 -34.6h1.3v1.1h-1.3zM17.6 -34.6h6.9v1.1h-6.9zM27.8 -34.6h1.3v1.1h-1.3zM30.1 -34.6h1.3v1.1h-1.3zM32.4 -34.6h9.2v1.1h-9.2zM50.6 -34.6h1.3v1.1h-1.3zM66.5 -34.6h4.7v1.1h-4.7zM106.3 -34.6h2.4v1.1h-2.4zM-106 -35.6h8.1v1.1h-8.1zM-93.6 -35.6h9.2v1.1h-9.2zM-83.4 -35.6h1.3v1.1h-1.3zM-81.1 -35.6h1.3v1.1h-1.3zM-75.4 -35.6h1.3v1.1h-1.3zM-73.2 -35.6h1.3v1.1h-1.3zM-8.6 -35.6h6.9v1.1h-6.9zM17.5 -35.6h4.7v1.1h-4.7zM31.1 -35.6h5.8v1.1h-5.8zM37.9 -35.6h3.5v1.1h-3.5zM49.3 -35.6h1.3v1.1h-1.3zM53.8 -35.6h1.3v1.1h-1.3zM66.3 -35.6h3.5v1.1h-3.5zM70.8 -35.6h1.3v1.1h-1.3zM88.9 -35.6h1.3v1.1h-1.3zM91.2 -35.6h1.3v1.1h-1.3zM103.7 -35.6h1.3v1.1h-1.3zM-105.7 -36.7h3.5v1.1h-3.5zM-101.1 -36.7h4.6v1.1h-4.6zM-95.5 -36.7h1.2v1.1h-1.2zM-93.2 -36.7h13.7v1.1h-13.7zM-78.6 -36.7h8v1.1h-8zM-7.4 -36.7h4.6v1.1h-4.6zM-0.6 -36.7h1.2v1.1h-1.2zM31 -36.7h10.3v1.1h-10.3zM50.2 -36.7h2.4v1.1h-2.4zM61.5 -36.7h1.2v1.1h-1.2zM67.2 -36.7h3.5v1.1h-3.5zM83 -36.7h3.5v1.1h-3.5zM88.6 -36.7h1.2v1.1h-1.2zM90.9 -36.7h4.6v1.1h-4.6zM96.5 -36.7h2.4v1.1h-2.4zM102.2 -36.7h1.2v1.1h-1.2zM-108.7 -37.7h14.8v1.1h-14.8zM-92.9 -37.7h23.8v1.1h-23.8zM-6.2 -37.7h3.5v1.1h-3.5zM34.3 -37.7h3.5v1.1h-3.5zM50 -37.7h3.5v1.1h-3.5zM57.9 -37.7h3.5v1.1h-3.5zM63.5 -37.7h1.2v1.1h-1.2zM69.2 -37.7h1.2v1.1h-1.2zM72.5 -37.7h5.7v1.1h-5.7zM80.4 -37.7h5.7v1.1h-5.7zM89.4 -37.7h2.4v1.1h-2.4zM92.8 -37.7h5.7v1.1h-5.7zM100.7 -37.7h4.6v1.1h-4.6zM-109.4 -38.7h13.6v1.1h-13.6zM-94.8 -38.7h21.4v1.1h-21.4zM-71.2 -38.7h3.5v1.1h-3.5zM-6.2 -38.7h2.4v1.1h-2.4zM40.9 -38.7h1.2v1.1h-1.2zM43.1 -38.7h1.2v1.1h-1.2zM46.5 -38.7h14.7v1.1h-14.7zM62.2 -38.7h1.2v1.1h-1.2zM65.5 -38.7h2.4v1.1h-2.4zM68.9 -38.7h6.8v1.1h-6.8zM76.8 -38.7h1.2v1.1h-1.2zM82.4 -38.7h1.2v1.1h-1.2zM84.6 -38.7h3.5v1.1h-3.5zM93.6 -38.7h9.1v1.1h-9.1zM112.6 -38.7h2.4v1.1h-2.4zM122.7 -38.7h1.2v1.1h-1.2zM125 -38.7h1.2v1.1h-1.2zM-108.9 -39.7h2.4v1.1h-2.4zM-105.6 -39.7h2.4v1.1h-2.4zM-102.2 -39.7h10.2v1.1h-10.2zM-89.9 -39.7h6.8v1.1h-6.8zM-82.1 -39.7h5.7v1.1h-5.7zM-69.8 -39.7h2.4v1.1h-2.4zM-5.1 -39.7h1.2v1.1h-1.2zM39.6 -39.7h1.2v1.1h-1.2zM46.3 -39.7h5.7v1.1h-5.7zM55.2 -39.7h4.6v1.1h-4.6zM60.8 -39.7h1.2v1.1h-1.2zM65.3 -39.7h1.2v1.1h-1.2zM67.5 -39.7h1.2v1.1h-1.2zM69.7 -39.7h1.2v1.1h-1.2zM73.1 -39.7h1.2v1.1h-1.2zM78.7 -39.7h1.2v1.1h-1.2zM82 -39.7h1.2v1.1h-1.2zM85.4 -39.7h2.4v1.1h-2.4zM95.4 -39.7h6.8v1.1h-6.8zM103.2 -39.7h1.2v1.1h-1.2zM112.2 -39.7h1.2v1.1h-1.2zM114.4 -39.7h1.2v1.1h-1.2zM121.1 -39.7h1.2v1.1h-1.2zM123.4 -39.7h3.5v1.1h-3.5zM-109.6 -40.7h3.5v1.1h-3.5zM-101.8 -40.7h5.7v1.1h-5.7zM-91.8 -40.7h3.5v1.1h-3.5zM-86.2 -40.7h4.6v1.1h-4.6zM-80.7 -40.7h3.5v1.1h-3.5zM-8.4 -40.7h7.9v1.1h-7.9zM12.7 -40.7h1.2v1.1h-1.2zM18.3 -40.7h2.3v1.1h-2.3zM26.1 -40.7h4.6v1.1h-4.6zM31.6 -40.7h2.3v1.1h-2.3zM66.1 -40.7h2.3v1.1h-2.3zM77.2 -40.7h11.2v1.1h-11.2zM95 -40.7h10.1v1.1h-10.1zM112.8 -40.7h2.3v1.1h-2.3zM121.7 -40.7h4.6v1.1h-4.6zM-108 -41.7h1.2v1.1h-1.2zM-101.4 -41.7h1.2v1.1h-1.2zM-98.1 -41.7h1.2v1.1h-1.2zM-95.8 -41.7h1.2v1.1h-1.2zM-85.9 -41.7h1.2v1.1h-1.2zM-83.7 -41.7h1.2v1.1h-1.2zM-80.3 -41.7h5.7v1.1h-5.7zM-69.3 -41.7h3.4v1.1h-3.4zM-7.2 -41.7h5.7v1.1h-5.7zM-0.6 -41.7h1.2v1.1h-1.2zM11.6 -41.7h3.4v1.1h-3.4zM18.2 -41.7h3.4v1.1h-3.4zM26 -41.7h1.2v1.1h-1.2zM28.2 -41.7h2.3v1.1h-2.3zM40.4 -41.7h1.2v1.1h-1.2zM54.8 -41.7h1.2v1.1h-1.2zM69.2 -41.7h1.2v1.1h-1.2zM78 -41.7h12.3v1.1h-12.3zM93.5 -41.7h3.4v1.1h-3.4zM98 -41.7h7.9v1.1h-7.9zM123.4 -41.7h1.2v1.1h-1.2zM-99.8 -42.7h4.5v1.1h-4.5zM-84.4 -42.7h8.9v1.1h-8.9zM-69 -42.7h3.4v1.1h-3.4zM-6.1 -42.7h6.7v1.1h-6.7zM13.7 -42.7h1.2v1.1h-1.2zM18.1 -42.7h2.3v1.1h-2.3zM22.6 -42.7h2.3v1.1h-2.3zM25.9 -42.7h2.3v1.1h-2.3zM46.8 -42.7h1.2v1.1h-1.2zM53.4 -42.7h8.9v1.1h-8.9zM63.3 -42.7h3.4v1.1h-3.4zM68.9 -42.7h6.7v1.1h-6.7zM76.6 -42.7h11.1v1.1h-11.1zM88.7 -42.7h6.7v1.1h-6.7zM97.5 -42.7h1.2v1.1h-1.2zM103 -42.7h1.2v1.1h-1.2zM122.9 -42.7h1.2v1.1h-1.2zM-103.7 -43.7h2.3v1.1h-2.3zM-100.5 -43.7h3.4v1.1h-3.4zM-96.1 -43.7h1.2v1.1h-1.2zM-82.9 -43.7h2.3v1.1h-2.3zM-79.6 -43.7h3.4v1.1h-3.4zM-66.4 -43.7h2.3v1.1h-2.3zM-8.3 -43.7h1.2v1.1h-1.2zM-6.1 -43.7h6.7v1.1h-6.7zM14.8 -43.7h1.2v1.1h-1.2zM24.6 -43.7h3.4v1.1h-3.4zM47.7 -43.7h2.3v1.1h-2.3zM51 -43.7h1.2v1.1h-1.2zM54.3 -43.7h6.7v1.1h-6.7zM61.9 -43.7h2.3v1.1h-2.3zM65.2 -43.7h1.2v1.1h-1.2zM69.6 -43.7h1.2v1.1h-1.2zM71.8 -43.7h1.2v1.1h-1.2zM76.2 -43.7h1.2v1.1h-1.2zM78.4 -43.7h5.6v1.1h-5.6zM87.2 -43.7h7.8v1.1h-7.8zM102.5 -43.7h1.2v1.1h-1.2zM104.7 -43.7h1.2v1.1h-1.2zM108 -43.7h1.2v1.1h-1.2zM111.3 -43.7h2.3v1.1h-2.3zM122.3 -43.7h2.3v1.1h-2.3zM-101.1 -44.8h5.6v1.1h-5.6zM-93.4 -44.8h1.2v1.1h-1.2zM-82.5 -44.8h6.7v1.1h-6.7zM-67.2 -44.8h2.3v1.1h-2.3zM-8.2 -44.8h1.2v1.1h-1.2zM-5 -44.8h6.7v1.1h-6.7zM11.4 -44.8h4.5v1.1h-4.5zM16.9 -44.8h1.2v1.1h-1.2zM22.3 -44.8h4.5v1.1h-4.5zM27.8 -44.8h2.3v1.1h-2.3zM45.3 -44.8h1.2v1.1h-1.2zM47.4 -44.8h11v1.1h-11zM62.7 -44.8h1.2v1.1h-1.2zM78 -44.8h1.2v1.1h-1.2zM86.8 -44.8h1.2v1.1h-1.2zM90 -44.8h6.7v1.1h-6.7zM101 -44.8h5.6v1.1h-5.6zM107.5 -44.8h5.6v1.1h-5.6zM121.7 -44.8h2.3v1.1h-2.3zM-95.1 -45.8h6.6v1.1h-6.6zM-85.3 -45.8h7.7v1.1h-7.7zM-76.6 -45.8h1.2v1.1h-1.2zM-74.5 -45.8h2.3v1.1h-2.3zM-69 -45.8h1.2v1.1h-1.2zM-66.9 -45.8h1.2v1.1h-1.2zM-4.9 -45.8h5.6v1.1h-5.6zM1.6 -45.8h1.2v1.1h-1.2zM11.4 -45.8h1.2v1.1h-1.2zM22.2 -45.8h1.2v1.1h-1.2zM45 -45.8h4.5v1.1h-4.5zM50.5 -45.8h4.5v1.1h-4.5zM77.6 -45.8h2.3v1.1h-2.3zM86.3 -45.8h2.3v1.1h-2.3zM89.6 -45.8h1.2v1.1h-1.2zM92.8 -45.8h2.3v1.1h-2.3zM96.1 -45.8h2.3v1.1h-2.3zM101.5 -45.8h12.1v1.1h-12.1zM121.1 -45.8h1.2v1.1h-1.2zM123.3 -45.8h1.2v1.1h-1.2zM-96.8 -46.8h7.7v1.1h-7.7zM-88.1 -46.8h1.2v1.1h-1.2zM-84.9 -46.8h1.2v1.1h-1.2zM-81.6 -46.8h6.6v1.1h-6.6zM-73 -46.8h1.2v1.1h-1.2zM-4.9 -46.8h5.5v1.1h-5.5zM1.6 -46.8h1.2v1.1h-1.2zM10.2 -46.8h2.3v1.1h-2.3zM14.5 -46.8h9.8v1.1h-9.8zM43.7 -46.8h6.6v1.1h-6.6zM57.8 -46.8h1.2v1.1h-1.2zM62.1 -46.8h1.2v1.1h-1.2zM76.1 -46.8h4.4v1.1h-4.4zM88 -46.8h1.2v1.1h-1.2zM92.3 -46.8h1.2v1.1h-1.2zM94.5 -46.8h1.2v1.1h-1.2zM96.7 -46.8h18.5v1.1h-18.5zM121.5 -46.8h4.4v1.1h-4.4zM-96.2 -47.8h1.2v1.1h-1.2zM-94.1 -47.8h7.6v1.1h-7.6zM-81.2 -47.8h5.5v1.1h-5.5zM-74.7 -47.8h1.2v1.1h-1.2zM-57.6 -47.8h2.3v1.1h-2.3zM-7 -47.8h3.3v1.1h-3.3zM-1.7 -47.8h1.2v1.1h-1.2zM13.4 -47.8h11.9v1.1h-11.9zM43.5 -47.8h4.4v1.1h-4.4zM56.4 -47.8h6.6v1.1h-6.6zM74.6 -47.8h5.5v1.1h-5.5zM85.4 -47.8h1.2v1.1h-1.2zM87.5 -47.8h1.2v1.1h-1.2zM94 -47.8h2.3v1.1h-2.3zM97.2 -47.8h10.9v1.1h-10.9zM109 -47.8h3.3v1.1h-3.3zM113.3 -47.8h2.3v1.1h-2.3zM121.9 -47.8h1.2v1.1h-1.2zM-96.8 -48.8h1.2v1.1h-1.2zM-92.5 -48.8h4.4v1.1h-4.4zM-79.7 -48.8h1.2v1.1h-1.2zM-75.4 -48.8h1.2v1.1h-1.2zM-73.3 -48.8h1.2v1.1h-1.2zM-71.1 -48.8h1.2v1.1h-1.2zM-58.3 -48.8h1.2v1.1h-1.2zM-56.2 -48.8h3.3v1.1h-3.3zM-1.7 -48.8h1.2v1.1h-1.2zM12.2 -48.8h7.6v1.1h-7.6zM21.9 -48.8h3.3v1.1h-3.3zM28.3 -48.8h2.3v1.1h-2.3zM31.5 -48.8h1.2v1.1h-1.2zM39 -48.8h1.2v1.1h-1.2zM43.2 -48.8h3.3v1.1h-3.3zM56.1 -48.8h7.6v1.1h-7.6zM74.2 -48.8h5.5v1.1h-5.5zM82.8 -48.8h3.3v1.1h-3.3zM87.1 -48.8h1.2v1.1h-1.2zM91.3 -48.8h1.2v1.1h-1.2zM95.6 -48.8h7.6v1.1h-7.6zM104.2 -48.8h6.5v1.1h-6.5zM112.7 -48.8h4.4v1.1h-4.4zM121.3 -48.8h1.2v1.1h-1.2zM-92 -49.8h4.4v1.1h-4.4zM-78.2 -49.8h1.2v1.1h-1.2zM-61.2 -49.8h2.2v1.1h-2.2zM-56.9 -49.8h2.2v1.1h-2.2zM-1.6 -49.8h1.2v1.1h-1.2zM12.2 -49.8h5.4v1.1h-5.4zM18.5 -49.8h1.2v1.1h-1.2zM28.1 -49.8h2.2v1.1h-2.2zM31.3 -49.8h1.2v1.1h-1.2zM38.7 -49.8h2.2v1.1h-2.2zM47.2 -49.8h2.2v1.1h-2.2zM53.6 -49.8h1.2v1.1h-1.2zM55.7 -49.8h1.2v1.1h-1.2zM57.9 -49.8h5.4v1.1h-5.4zM72.8 -49.8h1.2v1.1h-1.2zM80.2 -49.8h8.6v1.1h-8.6zM89.8 -49.8h1.2v1.1h-1.2zM91.9 -49.8h1.2v1.1h-1.2zM94 -49.8h6.5v1.1h-6.5zM101.4 -49.8h1.2v1.1h-1.2zM112.1 -49.8h1.2v1.1h-1.2zM114.2 -49.8h1.2v1.1h-1.2zM116.3 -49.8h1.2v1.1h-1.2zM-92.5 -50.8h1.2v1.1h-1.2zM-90.4 -50.8h1.2v1.1h-1.2zM-88.3 -50.8h1.2v1.1h-1.2zM-48.1 -50.8h1.2v1.1h-1.2zM6.8 -50.8h2.2v1.1h-2.2zM13.2 -50.8h1.2v1.1h-1.2zM15.3 -50.8h1.2v1.1h-1.2zM17.4 -50.8h1.2v1.1h-1.2zM19.5 -50.8h1.2v1.1h-1.2zM26.9 -50.8h1.2v1.1h-1.2zM30.1 -50.8h2.2v1.1h-2.2zM33.2 -50.8h1.2v1.1h-1.2zM35.3 -50.8h1.2v1.1h-1.2zM38.5 -50.8h8.6v1.1h-8.6zM48 -50.8h1.2v1.1h-1.2zM51.2 -50.8h1.2v1.1h-1.2zM59.7 -50.8h2.2v1.1h-2.2zM67 -50.8h3.3v1.1h-3.3zM81.8 -50.8h1.2v1.1h-1.2zM85 -50.8h13.9v1.1h-13.9zM110.4 -50.8h2.2v1.1h-2.2zM113.5 -50.8h2.2v1.1h-2.2zM116.7 -50.8h1.2v1.1h-1.2zM-90.9 -51.8h2.2v1.1h-2.2zM-83.6 -51.8h1.2v1.1h-1.2zM-61.5 -51.8h1.2v1.1h-1.2zM-56.2 -51.8h1.2v1.1h-1.2zM-2.7 -51.8h4.3v1.1h-4.3zM7.8 -51.8h1.2v1.1h-1.2zM16.2 -51.8h3.3v1.1h-3.3zM20.4 -51.8h1.2v1.1h-1.2zM24.6 -51.8h6.4v1.1h-6.4zM35.1 -51.8h2.2v1.1h-2.2zM38.3 -51.8h1.2v1.1h-1.2zM40.4 -51.8h8.5v1.1h-8.5zM51.9 -51.8h1.2v1.1h-1.2zM60.3 -51.8h1.2v1.1h-1.2zM66.7 -51.8h1.2v1.1h-1.2zM69.8 -51.8h1.2v1.1h-1.2zM87.7 -51.8h9.6v1.1h-9.6zM107.6 -51.8h3.3v1.1h-3.3zM112.9 -51.8h2.2v1.1h-2.2zM119.2 -51.8h1.2v1.1h-1.2zM-90.4 -52.7h2.2v1.1h-2.2zM-83 -52.7h1.2v1.1h-1.2zM-71.6 -52.7h1.2v1.1h-1.2zM-62.2 -52.7h4.3v1.1h-4.3zM-55.9 -52.7h1.2v1.1h-1.2zM-49.6 -52.7h1.2v1.1h-1.2zM-3.7 -52.7h14.7v1.1h-14.7zM14 -52.7h6.4v1.1h-6.4zM22.4 -52.7h1.2v1.1h-1.2zM24.5 -52.7h1.2v1.1h-1.2zM27.6 -52.7h3.3v1.1h-3.3zM34.9 -52.7h2.2v1.1h-2.2zM39.1 -52.7h1.2v1.1h-1.2zM41.2 -52.7h3.3v1.1h-3.3zM45.4 -52.7h4.3v1.1h-4.3zM50.6 -52.7h1.2v1.1h-1.2zM52.7 -52.7h3.3v1.1h-3.3zM58.9 -52.7h1.2v1.1h-1.2zM64.2 -52.7h1.2v1.1h-1.2zM66.2 -52.7h1.2v1.1h-1.2zM68.3 -52.7h1.2v1.1h-1.2zM88.2 -52.7h1.2v1.1h-1.2zM90.3 -52.7h2.2v1.1h-2.2zM98.6 -52.7h4.3v1.1h-4.3zM109 -52.7h3.3v1.1h-3.3zM113.2 -52.7h2.2v1.1h-2.2zM116.4 -52.7h1.2v1.1h-1.2zM-61.8 -53.7h6.3v1.1h-6.3zM-48.3 -53.7h1.2v1.1h-1.2zM-1.6 -53.7h2.2v1.1h-2.2zM1.5 -53.7h2.2v1.1h-2.2zM4.6 -53.7h6.3v1.1h-6.3zM12.9 -53.7h5.3v1.1h-5.3zM19.1 -53.7h1.2v1.1h-1.2zM23.3 -53.7h2.2v1.1h-2.2zM29.5 -53.7h19.8v1.1h-19.8zM50.3 -53.7h3.2v1.1h-3.2zM61.7 -53.7h3.2v1.1h-3.2zM68.9 -53.7h2.2v1.1h-2.2zM82.4 -53.7h3.2v1.1h-3.2zM87.6 -53.7h1.2v1.1h-1.2zM89.7 -53.7h3.2v1.1h-3.2zM93.8 -53.7h2.2v1.1h-2.2zM98 -53.7h2.2v1.1h-2.2zM101.1 -53.7h1.2v1.1h-1.2zM106.3 -53.7h3.2v1.1h-3.2zM110.4 -53.7h6.3v1.1h-6.3zM-88.2 -54.7h5.3v1.1h-5.3zM-82 -54.7h6.3v1.1h-6.3zM-63.4 -54.7h2.2v1.1h-2.2zM-60.3 -54.7h7.3v1.1h-7.3zM-3.7 -54.7h2.2v1.1h-2.2zM0.5 -54.7h1.2v1.1h-1.2zM6.6 -54.7h2.2v1.1h-2.2zM10.8 -54.7h8.4v1.1h-8.4zM22.1 -54.7h3.2v1.1h-3.2zM28.3 -54.7h22.8v1.1h-22.8zM59.2 -54.7h11.5v1.1h-11.5zM74.7 -54.7h1.2v1.1h-1.2zM77.8 -54.7h1.2v1.1h-1.2zM79.8 -54.7h4.2v1.1h-4.2zM87 -54.7h5.3v1.1h-5.3zM93.2 -54.7h4.2v1.1h-4.2zM105.6 -54.7h1.2v1.1h-1.2zM107.6 -54.7h1.2v1.1h-1.2zM110.7 -54.7h4.2v1.1h-4.2zM-87.6 -55.7h2.2v1.1h-2.2zM-84.5 -55.7h7.3v1.1h-7.3zM-70.2 -55.7h1.1v1.1h-1.1zM-64 -55.7h1.1v1.1h-1.1zM-62 -55.7h7.3v1.1h-7.3zM-53.8 -55.7h1.1v1.1h-1.1zM-50.7 -55.7h2.2v1.1h-2.2zM-3.6 -55.7h3.2v1.1h-3.2zM0.5 -55.7h3.2v1.1h-3.2zM4.6 -55.7h4.2v1.1h-4.2zM10.7 -55.7h3.2v1.1h-3.2zM14.8 -55.7h6.3v1.1h-6.3zM22 -55.7h1.1v1.1h-1.1zM24 -55.7h3.2v1.1h-3.2zM28.1 -55.7h14.4v1.1h-14.4zM43.4 -55.7h6.3v1.1h-6.3zM50.6 -55.7h2.2v1.1h-2.2zM54.7 -55.7h1.1v1.1h-1.1zM59.8 -55.7h6.3v1.1h-6.3zM67 -55.7h2.2v1.1h-2.2zM72.1 -55.7h3.2v1.1h-3.2zM78.2 -55.7h1.1v1.1h-1.1zM80.3 -55.7h3.2v1.1h-3.2zM88.5 -55.7h4.2v1.1h-4.2zM109 -55.7h1.1v1.1h-1.1zM111 -55.7h1.1v1.1h-1.1zM-104.2 -56.7h1.1v1.1h-1.1zM-88 -56.7h2.2v1.1h-2.2zM-83.9 -56.7h1.1v1.1h-1.1zM-81.9 -56.7h6.2v1.1h-6.2zM-74.7 -56.7h1.1v1.1h-1.1zM-69.7 -56.7h2.2v1.1h-2.2zM-64.6 -56.7h1.1v1.1h-1.1zM-62.5 -56.7h10.3v1.1h-10.3zM-50.4 -56.7h3.2v1.1h-3.2zM-46.3 -56.7h1.1v1.1h-1.1zM-8.7 -56.7h4.2v1.1h-4.2zM-3.6 -56.7h2.2v1.1h-2.2zM-0.6 -56.7h2.2v1.1h-2.2zM3.5 -56.7h4.2v1.1h-4.2zM8.6 -56.7h1.1v1.1h-1.1zM10.6 -56.7h4.2v1.1h-4.2zM15.7 -56.7h6.2v1.1h-6.2zM25.9 -56.7h5.2v1.1h-5.2zM32 -56.7h14.3v1.1h-14.3zM47.2 -56.7h3.2v1.1h-3.2zM51.3 -56.7h6.2v1.1h-6.2zM59.4 -56.7h1.1v1.1h-1.1zM61.4 -56.7h7.2v1.1h-7.2zM69.6 -56.7h2.2v1.1h-2.2zM72.6 -56.7h1.1v1.1h-1.1zM76.7 -56.7h5.2v1.1h-5.2zM87.9 -56.7h1.1v1.1h-1.1zM90.9 -56.7h1.1v1.1h-1.1zM94 -56.7h1.1v1.1h-1.1zM105.1 -56.7h1.1v1.1h-1.1zM107.2 -56.7h1.1v1.1h-1.1zM127.5 -56.7h2.2v1.1h-2.2zM-85.3 -57.6h3.1v1.1h-3.1zM-80.2 -57.6h1.1v1.1h-1.1zM-78.2 -57.6h1.1v1.1h-1.1zM-76.2 -57.6h3.1v1.1h-3.1zM-72.2 -57.6h2.1v1.1h-2.1zM-53 -57.6h1.1v1.1h-1.1zM-51 -57.6h1.1v1.1h-1.1zM-49 -57.6h3.1v1.1h-3.1zM-8.6 -57.6h1.1v1.1h-1.1zM3.5 -57.6h3.1v1.1h-3.1zM7.5 -57.6h2.1v1.1h-2.1zM10.5 -57.6h1.1v1.1h-1.1zM13.6 -57.6h2.1v1.1h-2.1zM25.7 -57.6h1.1v1.1h-1.1zM27.7 -57.6h8.2v1.1h-8.2zM36.8 -57.6h10.2v1.1h-10.2zM47.9 -57.6h8.2v1.1h-8.2zM56.9 -57.6h2.1v1.1h-2.1zM61 -57.6h7.2v1.1h-7.2zM70.1 -57.6h1.1v1.1h-1.1zM72.1 -57.6h1.1v1.1h-1.1zM75.1 -57.6h5.2v1.1h-5.2zM88.2 -57.6h2.1v1.1h-2.1zM92.3 -57.6h1.1v1.1h-1.1zM108.4 -57.6h1.1v1.1h-1.1zM125.5 -57.6h1.1v1.1h-1.1zM127.6 -57.6h1.1v1.1h-1.1zM-91.7 -58.6h2.1v1.1h-2.1zM-88.7 -58.6h1.1v1.1h-1.1zM-76.6 -58.6h2.1v1.1h-2.1zM-73.6 -58.6h5.1v1.1h-5.1zM-61.6 -58.6h2.1v1.1h-2.1zM-47.6 -58.6h1.1v1.1h-1.1zM6.5 -58.6h6.1v1.1h-6.1zM14.5 -58.6h1.1v1.1h-1.1zM26.5 -58.6h4.1v1.1h-4.1zM31.5 -58.6h8.1v1.1h-8.1zM40.5 -58.6h1.1v1.1h-1.1zM42.5 -58.6h6.1v1.1h-6.1zM50.5 -58.6h1.1v1.1h-1.1zM58.5 -58.6h8.1v1.1h-8.1zM68.5 -58.6h4.1v1.1h-4.1zM75.5 -58.6h3.1v1.1h-3.1zM85.5 -58.6h7.1v1.1h-7.1zM99.6 -58.6h1.1v1.1h-1.1zM103.6 -58.6h2.1v1.1h-2.1zM125.6 -58.6h1.1v1.1h-1.1zM-128.7 -59.6h1.1v1.1h-1.1zM-89 -59.6h1.1v1.1h-1.1zM-74.1 -59.6h5.1v1.1h-5.1zM-62.1 -59.6h3.1v1.1h-3.1zM6.4 -59.6h2.1v1.1h-2.1zM25.3 -59.6h5.1v1.1h-5.1zM31.2 -59.6h4.1v1.1h-4.1zM37.2 -59.6h1.1v1.1h-1.1zM41.2 -59.6h8.1v1.1h-8.1zM59.1 -59.6h2.1v1.1h-2.1zM62 -59.6h2.1v1.1h-2.1zM67 -59.6h6.1v1.1h-6.1zM74 -59.6h3.1v1.1h-3.1zM77.9 -59.6h1.1v1.1h-1.1zM79.9 -59.6h1.1v1.1h-1.1zM81.9 -59.6h1.1v1.1h-1.1zM85.9 -59.6h5.1v1.1h-5.1zM94.8 -59.6h1.1v1.1h-1.1zM104.8 -59.6h2.1v1.1h-2.1zM123.6 -59.6h2.1v1.1h-2.1zM-127.7 -60.5h3.1v1.1h-3.1zM-105 -60.5h1.1v1.1h-1.1zM-95.1 -60.5h1.1v1.1h-1.1zM-91.2 -60.5h2.1v1.1h-2.1zM-77.4 -60.5h1.1v1.1h-1.1zM-75.4 -60.5h7v1.1h-7zM-59.7 -60.5h2.1v1.1h-2.1zM-49.8 -60.5h2.1v1.1h-2.1zM6.4 -60.5h2.1v1.1h-2.1zM9.3 -60.5h1.1v1.1h-1.1zM22.1 -60.5h1.1v1.1h-1.1zM24.1 -60.5h2.1v1.1h-2.1zM27 -60.5h1.1v1.1h-1.1zM32 -60.5h4.1v1.1h-4.1zM39.9 -60.5h1.1v1.1h-1.1zM41.8 -60.5h5v1.1h-5zM47.7 -60.5h5v1.1h-5zM56.6 -60.5h7v1.1h-7zM64.5 -60.5h3.1v1.1h-3.1zM68.4 -60.5h3.1v1.1h-3.1zM74.4 -60.5h1.1v1.1h-1.1zM76.3 -60.5h1.1v1.1h-1.1zM78.3 -60.5h1.1v1.1h-1.1zM80.3 -60.5h3.1v1.1h-3.1zM85.2 -60.5h1.1v1.1h-1.1zM87.2 -60.5h1.1v1.1h-1.1zM89.1 -60.5h1.1v1.1h-1.1zM93.1 -60.5h1.1v1.1h-1.1zM95 -60.5h1.1v1.1h-1.1zM107.9 -60.5h1.1v1.1h-1.1zM122.6 -60.5h2.1v1.1h-2.1zM-123.7 -61.5h1.1v1.1h-1.1zM-100.2 -61.5h8.9v1.1h-8.9zM-90.5 -61.5h4v1.1h-4zM-85.6 -61.5h4v1.1h-4zM-76.8 -61.5h1.1v1.1h-1.1zM-74.8 -61.5h1.1v1.1h-1.1zM-72.9 -61.5h2.1v1.1h-2.1zM-60.2 -61.5h6v1.1h-6zM-49.4 -61.5h1.1v1.1h-1.1zM6.3 -61.5h2.1v1.1h-2.1zM11.2 -61.5h1.1v1.1h-1.1zM24.9 -61.5h2.1v1.1h-2.1zM30.7 -61.5h4v1.1h-4zM39.5 -61.5h3.1v1.1h-3.1zM43.4 -61.5h5v1.1h-5zM49.3 -61.5h3.1v1.1h-3.1zM53.2 -61.5h1.1v1.1h-1.1zM56.2 -61.5h1.1v1.1h-1.1zM58.1 -61.5h1.1v1.1h-1.1zM61 -61.5h2.1v1.1h-2.1zM64 -61.5h1.1v1.1h-1.1zM66.9 -61.5h5v1.1h-5zM77.7 -61.5h2.1v1.1h-2.1zM80.6 -61.5h1.1v1.1h-1.1zM83.5 -61.5h3.1v1.1h-3.1zM93.3 -61.5h2.1v1.1h-2.1zM100.1 -61.5h1.1v1.1h-1.1zM102.1 -61.5h2.1v1.1h-2.1zM121.6 -61.5h4v1.1h-4zM-122.7 -62.4h1.1v1.1h-1.1zM-118.8 -62.4h1.1v1.1h-1.1zM-102.3 -62.4h4v1.1h-4zM-97.5 -62.4h3v1.1h-3zM-88.7 -62.4h3v1.1h-3zM-84.9 -62.4h2.1v1.1h-2.1zM-77.1 -62.4h2.1v1.1h-2.1zM-73.2 -62.4h1.1v1.1h-1.1zM-58.7 -62.4h5.9v1.1h-5.9zM-51.9 -62.4h1.1v1.1h-1.1zM5.3 -62.4h1.1v1.1h-1.1zM18.8 -62.4h2.1v1.1h-2.1zM39.2 -62.4h2.1v1.1h-2.1zM42.1 -62.4h2.1v1.1h-2.1zM45 -62.4h2.1v1.1h-2.1zM47.9 -62.4h6.9v1.1h-6.9zM56.6 -62.4h1.1v1.1h-1.1zM64.4 -62.4h5.9v1.1h-5.9zM76 -62.4h2.1v1.1h-2.1zM78.9 -62.4h1.1v1.1h-1.1zM80.9 -62.4h2.1v1.1h-2.1zM83.8 -62.4h5v1.1h-5zM89.6 -62.4h2.1v1.1h-2.1zM99.3 -62.4h1.1v1.1h-1.1zM102.2 -62.4h4v1.1h-4zM121.6 -62.4h2.1v1.1h-2.1zM-124.5 -63.3h1.1v1.1h-1.1zM-122.6 -63.3h1.1v1.1h-1.1zM-120.6 -63.3h3v1.1h-3zM-106.2 -63.3h1.1v1.1h-1.1zM-103.3 -63.3h1.1v1.1h-1.1zM-101.4 -63.3h4v1.1h-4zM-96.6 -63.3h2v1.1h-2zM-88 -63.3h5.9v1.1h-5.9zM-80.3 -63.3h1.1v1.1h-1.1zM-56.3 -63.3h1.1v1.1h-1.1zM-54.3 -63.3h2v1.1h-2zM5.2 -63.3h2v1.1h-2zM17.7 -63.3h2v1.1h-2zM20.6 -63.3h1.1v1.1h-1.1zM22.5 -63.3h3v1.1h-3zM38.9 -63.3h1.1v1.1h-1.1zM41.8 -63.3h2v1.1h-2zM44.6 -63.3h9.7v1.1h-9.7zM60 -63.3h3v1.1h-3zM63.9 -63.3h2v1.1h-2zM66.7 -63.3h1.1v1.1h-1.1zM70.6 -63.3h1.1v1.1h-1.1zM72.5 -63.3h2v1.1h-2zM75.4 -63.3h4v1.1h-4zM81.1 -63.3h1.1v1.1h-1.1zM83.1 -63.3h2v1.1h-2zM86.9 -63.3h3v1.1h-3zM90.8 -63.3h1.1v1.1h-1.1zM96.5 -63.3h3v1.1h-3zM100.4 -63.3h2v1.1h-2zM103.2 -63.3h1.1v1.1h-1.1zM121.5 -63.3h1.1v1.1h-1.1zM-121.5 -64.3h7.7v1.1h-7.7zM-110.1 -64.3h2v1.1h-2zM-106.3 -64.3h1.1v1.1h-1.1zM-104.4 -64.3h2v1.1h-2zM-101.5 -64.3h3.9v1.1h-3.9zM-95.8 -64.3h1.1v1.1h-1.1zM-88.2 -64.3h8.7v1.1h-8.7zM-59.6 -64.3h1.1v1.1h-1.1zM20.4 -64.3h1.1v1.1h-1.1zM23.3 -64.3h1.1v1.1h-1.1zM33.8 -64.3h3v1.1h-3zM37.6 -64.3h15.4v1.1h-15.4zM60.4 -64.3h3v1.1h-3zM65.2 -64.3h2v1.1h-2zM70 -64.3h1.1v1.1h-1.1zM71.9 -64.3h2v1.1h-2zM74.7 -64.3h1.1v1.1h-1.1zM76.6 -64.3h2v1.1h-2zM82.3 -64.3h1.1v1.1h-1.1zM86.2 -64.3h4.9v1.1h-4.9zM94.7 -64.3h6.8v1.1h-6.8zM108.1 -64.3h2v1.1h-2zM111.9 -64.3h1.1v1.1h-1.1zM113.8 -64.3h4.9v1.1h-4.9zM123.3 -64.3h1.1v1.1h-1.1zM128.1 -64.3h1.1v1.1h-1.1zM-120.4 -65.2h10.5v1h-10.5zM-108.1 -65.2h2v1h-2zM-105.3 -65.2h1.1v1h-1.1zM-103.4 -65.2h6.7v1h-6.7zM-95.9 -65.2h1.1v1h-1.1zM-83.6 -65.2h1.1v1h-1.1zM-81.7 -65.2h1.1v1h-1.1zM-78.9 -65.2h1.1v1h-1.1zM-54.3 -65.2h1.1v1h-1.1zM-36.4 -65.2h1.1v1h-1.1zM11.8 -65.2h2v1h-2zM18.4 -65.2h1.1v1h-1.1zM21.2 -65.2h1.1v1h-1.1zM24 -65.2h1.1v1h-1.1zM25.9 -65.2h2v1h-2zM30.6 -65.2h4.8v1h-4.8zM36.3 -65.2h3.9v1h-3.9zM41 -65.2h2v1h-2zM43.8 -65.2h7.7v1h-7.7zM59 -65.2h1.1v1h-1.1zM60.8 -65.2h1.1v1h-1.1zM62.7 -65.2h2v1h-2zM65.6 -65.2h2v1h-2zM71.2 -65.2h6.7v1h-6.7zM82.6 -65.2h1.1v1h-1.1zM85.4 -65.2h2v1h-2zM88.2 -65.2h2v1h-2zM92 -65.2h1.1v1h-1.1zM94.8 -65.2h3.9v1h-3.9zM99.5 -65.2h1.1v1h-1.1zM106.2 -65.2h1.1v1h-1.1zM108 -65.2h1.1v1h-1.1zM109.9 -65.2h1.1v1h-1.1zM111.8 -65.2h4.8v1h-4.8zM117.5 -65.2h1.1v1h-1.1zM128.8 -65.2h1.1v1h-1.1zM-123.1 -66.1h2v1h-2zM-120.2 -66.1h1.1v1h-1.1zM-118.4 -66.1h3.9v1h-3.9zM-113.7 -66.1h8.5v1h-8.5zM-104.3 -66.1h2v1h-2zM-101.5 -66.1h6.7v1h-6.7zM-81.9 -66.1h2.9v1h-2.9zM-78.2 -66.1h1.1v1h-1.1zM-53.8 -66.1h1.1v1h-1.1zM-37 -66.1h1.1v1h-1.1zM17.3 -66.1h1.1v1h-1.1zM26.6 -66.1h2v1h-2zM30.4 -66.1h7.6v1h-7.6zM38.8 -66.1h1.1v1h-1.1zM41.6 -66.1h3.9v1h-3.9zM46.3 -66.1h2.9v1h-2.9zM50 -66.1h1.1v1h-1.1zM52.8 -66.1h2v1h-2zM59.3 -66.1h2v1h-2zM62.2 -66.1h2.9v1h-2.9zM65.9 -66.1h2.9v1h-2.9zM71.5 -66.1h2.9v1h-2.9zM75.2 -66.1h3.9v1h-3.9zM80.9 -66.1h5.7v1h-5.7zM90.2 -66.1h8.5v1h-8.5zM99.6 -66.1h2.9v1h-2.9zM104.2 -66.1h14.2v1h-14.2zM127.6 -66.1h2.9v1h-2.9zM-122.8 -67h7.5v1h-7.5zM-114.5 -67h2.9v1h-2.9zM-110.8 -67h5.7v1h-5.7zM-102.4 -67h3.8v1h-3.8zM-97.8 -67h4.8v1h-4.8zM-90.4 -67h2.9v1h-2.9zM-80.2 -67h3.8v1h-3.8zM-69.1 -67h1v1h-1zM-61.7 -67h1v1h-1zM-53.3 -67h2v1h-2zM-37.6 -67h2.9v1h-2.9zM22.7 -67h1v1h-1zM24.5 -67h3.8v1h-3.8zM31 -67h7.5v1h-7.5zM44.9 -67h2v1h-2zM47.7 -67h1v1h-1zM49.5 -67h2v1h-2zM53.2 -67h1v1h-1zM55.1 -67h1v1h-1zM56.9 -67h2v1h-2zM62.5 -67h7.5v1h-7.5zM70.8 -67h5.7v1h-5.7zM77.3 -67h9.4v1h-9.4zM88.4 -67h10.3v1h-10.3zM99.6 -67h5.7v1h-5.7zM106.1 -67h3.8v1h-3.8zM110.7 -67h2.9v1h-2.9zM125.5 -67h2.9v1h-2.9zM-119.8 -67.9h2v1h-2zM-117.1 -67.9h1v1h-1zM-115.2 -67.9h2v1h-2zM-112.5 -67.9h3.8v1h-3.8zM-107.9 -67.9h8.4v1h-8.4zM-97.8 -67.9h6.5v1h-6.5zM-90.5 -67.9h3.8v1h-3.8zM-85.9 -67.9h1v1h-1zM-80.4 -67.9h3.8v1h-3.8zM-70.3 -67.9h3.8v1h-3.8zM-63.8 -67.9h2v1h-2zM-51 -67.9h2v1h-2zM-38.1 -67.9h2v1h-2zM-15.2 -67.9h1v1h-1zM-13.4 -67.9h1v1h-1zM23.4 -67.9h3.8v1h-3.8zM31.6 -67.9h4.7v1h-4.7zM37.1 -67.9h1v1h-1zM43.5 -67.9h2v1h-2zM52.7 -67.9h1v1h-1zM56.4 -67.9h1v1h-1zM61.9 -67.9h7.5v1h-7.5zM70.2 -67.9h6.5v1h-6.5zM77.5 -67.9h4.7v1h-4.7zM83 -67.9h5.6v1h-5.6zM89.4 -67.9h6.5v1h-6.5zM97.7 -67.9h1v1h-1zM100.5 -67.9h1v1h-1zM104.1 -67.9h2.9v1h-2.9zM123.4 -67.9h5.6v1h-5.6zM-125.9 -68.8h1v1h-1zM-121.4 -68.8h2.8v1h-2.8zM-113.2 -68.8h1.9v1h-1.9zM-110.5 -68.8h1v1h-1zM-108.7 -68.8h1v1h-1zM-105.9 -68.8h7.4v1h-7.4zM-97.8 -68.8h5.6v1h-5.6zM-91.4 -68.8h2.8v1h-2.8zM-87.8 -68.8h1v1h-1zM-83.2 -68.8h1.9v1h-1.9zM-80.5 -68.8h2.8v1h-2.8zM-76.9 -68.8h1v1h-1zM-66.9 -68.8h1.9v1h-1.9zM-63.2 -68.8h1v1h-1zM-50.5 -68.8h2.8v1h-2.8zM-46.9 -68.8h1v1h-1zM-31.4 -68.8h1v1h-1zM-13.2 -68.8h2.8v1h-2.8zM20.4 -68.8h1v1h-1zM22.2 -68.8h1.9v1h-1.9zM28.6 -68.8h7.4v1h-7.4zM43.1 -68.8h1v1h-1zM50.4 -68.8h1v1h-1zM54 -68.8h1v1h-1zM55.9 -68.8h1.9v1h-1.9zM62.2 -68.8h1v1h-1zM64 -68.8h12.8v1h-12.8zM78.6 -68.8h4.7v1h-4.7zM84 -68.8h6.5v1h-6.5zM91.3 -68.8h2.8v1h-2.8zM98.6 -68.8h6.5v1h-6.5zM112.2 -68.8h4.7v1h-4.7zM123.1 -68.8h1v1h-1zM125.8 -68.8h4.7v1h-4.7zM-126.5 -69.7h3.7v1h-3.7zM-121.1 -69.7h2.8v1h-2.8zM-113 -69.7h1v1h-1zM-111.2 -69.7h7.3v1h-7.3zM-103.1 -69.7h9.1v1h-9.1zM-93.2 -69.7h1.9v1h-1.9zM-89.6 -69.7h2.8v1h-2.8zM-84.2 -69.7h1v1h-1zM-81.5 -69.7h4.6v1h-4.6zM-64.4 -69.7h1v1h-1zM-62.6 -69.7h2.8v1h-2.8zM-54.5 -69.7h1v1h-1zM-47.3 -69.7h1.9v1h-1.9zM-14 -69.7h4.6v1h-4.6zM9.4 -69.7h1v1h-1zM12.1 -69.7h1v1h-1zM19.3 -69.7h1.9v1h-1.9zM30.1 -69.7h1v1h-1zM32.8 -69.7h7.3v1h-7.3zM40.9 -69.7h3.7v1h-3.7zM45.4 -69.7h1v1h-1zM55.3 -69.7h3.7v1h-3.7zM59.8 -69.7h1v1h-1zM61.6 -69.7h4.6v1h-4.6zM67 -69.7h2.8v1h-2.8zM70.6 -69.7h6.4v1h-6.4zM78.7 -69.7h2.8v1h-2.8zM85 -69.7h15.4v1h-15.4zM101.2 -69.7h1v1h-1zM103 -69.7h1v1h-1zM104.8 -69.7h1v1h-1zM110.2 -69.7h1v1h-1zM112 -69.7h5.5v1h-5.5zM122.8 -69.7h5.5v1h-5.5zM-128.8 -70.6h1v1h-1zM-124.3 -70.6h1.9v1h-1.9zM-119.9 -70.6h1v1h-1zM-111 -70.6h1.9v1h-1.9zM-108.3 -70.6h1v1h-1zM-105.6 -70.6h1v1h-1zM-103.9 -70.6h2.8v1h-2.8zM-99.4 -70.6h5.5v1h-5.5zM-93.2 -70.6h1.9v1h-1.9zM-90.5 -70.6h4.6v1h-4.6zM-85.1 -70.6h1v1h-1zM-79.8 -70.6h1.9v1h-1.9zM-77.1 -70.6h1v1h-1zM-73.6 -70.6h1v1h-1zM-63.8 -70.6h4.6v1h-4.6zM-37.9 -70.6h1v1h-1zM-29.9 -70.6h5.5v1h-5.5zM-12.1 -70.6h1.9v1h-1.9zM19.1 -70.6h2.8v1h-2.8zM32.5 -70.6h10.8v1h-10.8zM46.7 -70.6h1v1h-1zM53.9 -70.6h7.2v1h-7.2zM61.9 -70.6h1v1h-1zM63.7 -70.6h2.8v1h-2.8zM67.2 -70.6h2.8v1h-2.8zM70.8 -70.6h4.6v1h-4.6zM76.1 -70.6h4.6v1h-4.6zM86.8 -70.6h2.8v1h-2.8zM90.4 -70.6h6.4v1h-6.4zM102.9 -70.6h1v1h-1zM106.4 -70.6h1v1h-1zM109.1 -70.6h7.2v1h-7.2zM120.7 -70.6h5.5v1h-5.5zM126.9 -70.6h1v1h-1zM-127.5 -71.5h1v1h-1zM-125.7 -71.5h3.6v1h-3.6zM-117.8 -71.5h1.9v1h-1.9zM-113.4 -71.5h1v1h-1zM-111.6 -71.5h2.8v1h-2.8zM-108.1 -71.5h1v1h-1zM-103.7 -71.5h2.8v1h-2.8zM-99.3 -71.5h2.8v1h-2.8zM-95.7 -71.5h1v1h-1zM-92.2 -71.5h1.9v1h-1.9zM-89.6 -71.5h5.4v1h-5.4zM-76.3 -71.5h1v1h-1zM-63.1 -71.5h1.9v1h-1.9zM-60.5 -71.5h2.8v1h-2.8zM-37.5 -71.5h1v1h-1zM-26.1 -71.5h1v1h-1zM-24.3 -71.5h1v1h-1zM17.1 -71.5h7.2v1h-7.2zM25.1 -71.5h1.9v1h-1.9zM33.9 -71.5h3.6v1h-3.6zM38.3 -71.5h4.5v1h-4.5zM46.2 -71.5h1v1h-1zM48 -71.5h1v1h-1zM54.2 -71.5h1v1h-1zM55.9 -71.5h2.8v1h-2.8zM59.5 -71.5h3.6v1h-3.6zM65.6 -71.5h1v1h-1zM67.4 -71.5h1v1h-1zM69.2 -71.5h5.4v1h-5.4zM76.2 -71.5h1.9v1h-1.9zM78.9 -71.5h1.9v1h-1.9zM82.4 -71.5h1v1h-1zM85.9 -71.5h5.4v1h-5.4zM93 -71.5h1v1h-1zM94.7 -71.5h2.8v1h-2.8zM102.7 -71.5h1.9v1h-1.9zM105.3 -71.5h6.3v1h-6.3zM113.3 -71.5h1v1h-1zM118.6 -71.5h8.1v1h-8.1zM-126.1 -72.3h2.7v1h-2.7zM-116.5 -72.3h1v1h-1zM-114.8 -72.3h5.4v1h-5.4zM-108.7 -72.3h1.9v1h-1.9zM-103.5 -72.3h5.4v1h-5.4zM-97.3 -72.3h2.7v1h-2.7zM-90.4 -72.3h2.7v1h-2.7zM-86.9 -72.3h1.9v1h-1.9zM-84.3 -72.3h1v1h-1zM-82.5 -72.3h1v1h-1zM-79.9 -72.3h1v1h-1zM-62.4 -72.3h1v1h-1zM-60.7 -72.3h1.9v1h-1.9zM-58.1 -72.3h1.9v1h-1.9zM-52 -72.3h1v1h-1zM-37.1 -72.3h1.9v1h-1.9zM-24.9 -72.3h1.9v1h-1.9zM-20.6 -72.3h1.9v1h-1.9zM18.7 -72.3h4.5v1h-4.5zM23.9 -72.3h1v1h-1zM26.6 -72.3h1v1h-1zM35.3 -72.3h1v1h-1zM39.7 -72.3h3.6v1h-3.6zM44 -72.3h4.5v1h-4.5zM49.3 -72.3h1v1h-1zM52.7 -72.3h1.9v1h-1.9zM55.4 -72.3h1v1h-1zM58.9 -72.3h11.5v1h-11.5zM71.1 -72.3h2.7v1h-2.7zM74.6 -72.3h3.6v1h-3.6zM78.9 -72.3h1v1h-1zM85.9 -72.3h1v1h-1zM87.6 -72.3h3.6v1h-3.6zM92.9 -72.3h1.9v1h-1.9zM102.5 -72.3h8v1h-8zM111.2 -72.3h1v1h-1zM117.3 -72.3h3.6v1h-3.6zM123.4 -72.3h1.9v1h-1.9zM-113.6 -73.2h1v1h-1zM-111.8 -73.2h1v1h-1zM-110.1 -73.2h2.7v1h-2.7zM-106.7 -73.2h1v1h-1zM-104.9 -73.2h1.8v1h-1.8zM-102.3 -73.2h1.8v1h-1.8zM-99.8 -73.2h3.6v1h-3.6zM-95.4 -73.2h2.7v1h-2.7zM-86.8 -73.2h1v1h-1zM-85.1 -73.2h3.6v1h-3.6zM-66.1 -73.2h1v1h-1zM-64.4 -73.2h1.8v1h-1.8zM-59.2 -73.2h2.7v1h-2.7zM-54 -73.2h1.8v1h-1.8zM-50.5 -73.2h1.8v1h-1.8zM-23.8 -73.2h1v1h-1zM-22.1 -73.2h1.8v1h-1.8zM-19.5 -73.2h3.6v1h-3.6zM16.8 -73.2h1v1h-1zM19.4 -73.2h1v1h-1zM21.1 -73.2h1v1h-1zM22.8 -73.2h1.8v1h-1.8zM40.1 -73.2h5.3v1h-5.3zM57.4 -73.2h3.6v1h-3.6zM62.5 -73.2h3.6v1h-3.6zM66.8 -73.2h1v1h-1zM68.6 -73.2h1v1h-1zM70.3 -73.2h1v1h-1zM72 -73.2h6.2v1h-6.2zM78.9 -73.2h1v1h-1zM85.8 -73.2h1v1h-1zM87.6 -73.2h3.6v1h-3.6zM94.5 -73.2h1v1h-1zM97.1 -73.2h2.7v1h-2.7zM100.5 -73.2h1v1h-1zM103.1 -73.2h1.8v1h-1.8zM105.7 -73.2h1.8v1h-1.8zM108.3 -73.2h1.8v1h-1.8zM116.9 -73.2h7v1h-7zM-110.6 -74h1v1h-1zM-108 -74h2.7v1h-2.7zM-104.6 -74h1v1h-1zM-99.5 -74h2.7v1h-2.7zM-90.1 -74h1v1h-1zM-73 -74h1v1h-1zM-66.2 -74h3.5v1h-3.5zM-58.5 -74h1v1h-1zM-56 -74h1v1h-1zM-50.8 -74h1.8v1h-1.8zM-19.3 -74h3.5v1h-3.5zM16.6 -74h4.4v1h-4.4zM49 -74h1v1h-1zM59.3 -74h1v1h-1zM62.7 -74h1v1h-1zM64.4 -74h3.5v1h-3.5zM70.4 -74h4.4v1h-4.4zM78.9 -74h2.7v1h-2.7zM83.2 -74h3.5v1h-3.5zM87.5 -74h1.8v1h-1.8zM91.7 -74h1v1h-1zM95.1 -74h1.8v1h-1.8zM97.7 -74h2.7v1h-2.7zM101.1 -74h1v1h-1zM-106.8 -74.9h1.8v1h-1.8zM-83.2 -74.9h1.8v1h-1.8zM-79 -74.9h1.8v1h-1.8zM-64.6 -74.9h1.8v1h-1.8zM-59.6 -74.9h2.7v1h-2.7zM-56.2 -74.9h1v1h-1zM-50.3 -74.9h1.8v1h-1.8zM-18.2 -74.9h2.7v1h-2.7zM17.3 -74.9h1.8v1h-1.8zM36.7 -74.9h1.8v1h-1.8zM47.6 -74.9h1.8v1h-1.8zM58.6 -74.9h1.8v1h-1.8zM61.1 -74.9h1v1h-1zM62.8 -74.9h1v1h-1zM65.4 -74.9h1v1h-1zM67.1 -74.9h2.7v1h-2.7zM75.5 -74.9h1.8v1h-1.8zM78 -74.9h6v1h-6zM88.2 -74.9h1v1h-1zM94.9 -74.9h7.7v1h-7.7zM-83.9 -75.7h1.8v0.9h-1.8zM-81.4 -75.7h1.8v0.9h-1.8zM-78.9 -75.7h1v0.9h-1zM-77.2 -75.7h1v0.9h-1zM-68 -75.7h1v0.9h-1zM-66.4 -75.7h5.1v0.9h-5.1zM-59.7 -75.7h3.5v0.9h-3.5zM-55.5 -75.7h1.8v0.9h-1.8zM34.6 -75.7h2.6v0.9h-2.6zM37.9 -75.7h1v0.9h-1zM46.2 -75.7h1.8v0.9h-1.8zM49.6 -75.7h1v0.9h-1zM57.1 -75.7h7.6v0.9h-7.6zM65.4 -75.7h2.6v0.9h-2.6zM71.3 -75.7h2.6v0.9h-2.6zM74.6 -75.7h4.3v0.9h-4.3zM80.4 -75.7h1.8v0.9h-1.8zM82.9 -75.7h1v0.9h-1zM92.1 -75.7h1v0.9h-1zM93.8 -75.7h6v0.9h-6zM-82 -76.5h0.9v0.9h-0.9zM-78.7 -76.5h0.9v0.9h-0.9zM-76.3 -76.5h1.8v0.9h-1.8zM-67.2 -76.5h5.1v0.9h-5.1zM-60.6 -76.5h4.2v0.9h-4.2zM-53.2 -76.5h0.9v0.9h-0.9zM-15.3 -76.5h0.9v0.9h-0.9zM35 -76.5h0.9v0.9h-0.9zM36.6 -76.5h0.9v0.9h-0.9zM46.5 -76.5h0.9v0.9h-0.9zM56.4 -76.5h1.8v0.9h-1.8zM58.9 -76.5h3.4v0.9h-3.4zM65.5 -76.5h5.1v0.9h-5.1zM72 -76.5h8.4v0.9h-8.4zM-81 -77.3h0.9v0.9h-0.9zM-76.9 -77.3h0.9v0.9h-0.9zM-65.5 -77.3h2.6v0.9h-2.6zM-59.8 -77.3h0.9v0.9h-0.9zM-37.1 -77.3h1.7v0.9h-1.7zM35.3 -77.3h2.6v0.9h-2.6zM54.9 -77.3h3.4v0.9h-3.4zM58.9 -77.3h16.4v0.9h-16.4zM-75.1 -78.1h0.9v0.9h-0.9zM-73.5 -78.1h1.7v0.9h-1.7zM-66.3 -78.1h3.3v0.9h-3.3zM-58.2 -78.1h2.5v0.9h-2.5zM35.7 -78.1h1.7v0.9h-1.7zM38.1 -78.1h0.9v0.9h-0.9zM57.3 -78.1h5.7v0.9h-5.7zM63.8 -78.1h3.3v0.9h-3.3zM67.8 -78.1h3.3v0.9h-3.3zM90.3 -78.1h0.9v0.9h-0.9zM-72.5 -78.9h3.3v0.9h-3.3zM-67.7 -78.9h0.9v0.9h-0.9zM-66.1 -78.9h2.5v0.9h-2.5zM-57.4 -78.9h2.5v0.9h-2.5zM36.8 -78.9h2.5v0.9h-2.5zM57.3 -78.9h6.5v0.9h-6.5zM66.8 -78.9h0.9v0.9h-0.9zM68.4 -78.9h0.9v0.9h-0.9zM70.8 -78.9h0.9v0.9h-0.9zM87.4 -78.9h2.5v0.9h-2.5zM90.6 -78.9h0.9v0.9h-0.9zM92.9 -78.9h0.9v0.9h-0.9zM-55.8 -79.7h1.7v0.9h-1.7zM-53.5 -79.7h0.9v0.9h-0.9zM-42.6 -79.7h0.9v0.9h-0.9zM-12.9 -79.7h0.9v0.9h-0.9zM39.3 -79.7h0.9v0.9h-0.9zM41.7 -79.7h0.9v0.9h-0.9zM64.3 -79.7h0.9v0.9h-0.9zM-55 -80.4h2.4v0.9h-2.4zM-50.4 -80.4h0.9v0.9h-0.9zM-41.1 -80.4h0.9v0.9h-0.9zM-12.7 -80.4h0.9v0.9h-0.9zM63.3 -80.4h0.9v0.9h-0.9zM-58.7 -81.2h1.6v0.8h-1.6zM-56.4 -81.2h1.6v0.8h-1.6zM-52.6 -81.2h0.9v0.8h-0.9zM-12.5 -81.2h0.9v0.8h-0.9zM57.8 -81.2h3.9v0.8h-3.9zM-54.8 -81.9h2.4v0.8h-2.4zM-51 -81.9h0.9v0.8h-0.9zM-12.3 -81.9h1.6v0.8h-1.6zM54.7 -81.9h0.9v0.8h-0.9zM56.2 -81.9h0.9v0.8h-0.9zM57.6 -81.9h3.8v0.8h-3.8zM-51.7 -82.5h0.9v0.8h-0.9zM-37.1 -82.5h8.2v0.8h-8.2zM-14.3 -82.5h3.1v0.8h-3.1zM-10.7 -82.5h0.9v0.8h-0.9zM10.6 -82.5h4.5v0.8h-4.5zM30.4 -82.5h6v0.8h-6zM54.5 -82.5h4.5v0.8h-4.5zM-46.6 -83.2h0.8v0.8h-0.8zM-35.8 -83.2h10.2v0.8h-10.2zM-13.4 -83.2h1.6v0.8h-1.6zM-9.1 -83.2h0.8v0.8h-0.8zM32.1 -83.2h3v0.8h-3zM-48.7 -83.8h0.8v0.7h-0.8zM-46.6 -83.8h0.8v0.7h-0.8zM-30.2 -83.8h1.5v0.7h-1.5zM-28.1 -83.8h0.8v0.7h-0.8zM-26.7 -83.8h0.8v0.7h-0.8zM-25.3 -83.8h0.8v0.7h-0.8zM-21 -83.8h0.8v0.7h-0.8zM-13.2 -83.8h0.8v0.7h-0.8zM-23.5 -84.3h2.9v0.7h-2.9zM-19.3 -84.3h0.8v0.7h-0.8zM-17.9 -84.3h0.8v0.7h-0.8z"/><path fill="#fffa96" d="M-107.6 81.1h0.9v0.8h-0.9zM-99.4 81.1h0.9v0.8h-0.9zM-109.3 80.3h0.9v0.8h-0.9zM-107.8 80.3h1.6v0.8h-1.6zM-105.6 80.3h1.6v0.8h-1.6zM-101.8 80.3h0.9v0.8h-0.9zM-99.5 80.3h0.9v0.8h-0.9zM-97.2 80.3h1.6v0.8h-1.6zM-39 80.3h0.9v0.8h-0.9zM-37.5 80.3h1.6v0.8h-1.6zM-30.7 80.3h1.6v0.8h-1.6zM-28.4 80.3h1.6v0.8h-1.6zM-25.4 80.3h2.4v0.8h-2.4zM-22.4 80.3h2.4v0.8h-2.4zM100.9 80.3h0.9v0.8h-0.9zM103.2 80.3h0.9v0.8h-0.9zM107 80.3h1.6v0.8h-1.6zM-99.5 79.6h2.4v0.9h-2.4zM-94.1 79.6h2.4v0.9h-2.4zM-39.6 79.6h1.7v0.9h-1.7zM-36.5 79.6h4v0.9h-4zM-31.9 79.6h1.7v0.9h-1.7zM-29.6 79.6h0.9v0.9h-0.9zM-28.1 79.6h1.7v0.9h-1.7zM-25.8 79.6h0.9v0.9h-0.9zM-24.2 79.6h1.7v0.9h-1.7zM-21.9 79.6h1.7v0.9h-1.7zM-19.6 79.6h1.7v0.9h-1.7zM100.2 79.6h0.9v0.9h-0.9zM101.7 79.6h0.9v0.9h-0.9zM103.3 79.6h1.7v0.9h-1.7zM108.6 79.6h0.9v0.9h-0.9zM-94.8 78.8h0.9v0.9h-0.9zM-93.2 78.8h0.9v0.9h-0.9zM-90.9 78.8h0.9v0.9h-0.9zM-89.3 78.8h0.9v0.9h-0.9zM-41.8 78.8h0.9v0.9h-0.9zM-19.2 78.8h0.9v0.9h-0.9zM-93 78h1.7v0.9h-1.7zM-89.1 78h1.7v0.9h-1.7zM-86.7 78h1.7v0.9h-1.7zM-18.6 78h0.9v0.9h-0.9zM-17.1 78h1.7v0.9h-1.7zM103.2 78h1.7v0.9h-1.7zM-90.4 77.2h0.9v0.9h-0.9zM-87.9 77.2h1.7v0.9h-1.7zM-84.7 77.2h0.9v0.9h-0.9zM-81.5 77.2h1.7v0.9h-1.7zM-78.3 77.2h3.3v0.9h-3.3zM-69.5 77.2h1.7v0.9h-1.7zM-65.5 77.2h0.9v0.9h-0.9zM-42.2 77.2h1.7v0.9h-1.7zM-16.5 77.2h0.9v0.9h-0.9zM-85.9 76.4h0.9v0.9h-0.9zM-84.2 76.4h0.9v0.9h-0.9zM-81.8 76.4h1.7v0.9h-1.7zM-79.4 76.4h0.9v0.9h-0.9zM-72 76.4h0.9v0.9h-0.9zM-67.2 76.4h0.9v0.9h-0.9zM-64.7 76.4h0.9v0.9h-0.9zM-63.1 76.4h1.7v0.9h-1.7zM-60.7 76.4h0.9v0.9h-0.9zM-58.2 76.4h0.9v0.9h-0.9zM-56.6 76.4h3.4v0.9h-3.4zM-51.7 76.4h0.9v0.9h-0.9zM-41.9 76.4h0.9v0.9h-0.9zM-14.3 76.4h0.9v0.9h-0.9zM-12.7 76.4h2.6v0.9h-2.6zM107.7 76.4h0.9v0.9h-0.9zM-65.6 75.6h0.9v0.9h-0.9zM-63.9 75.6h4.2v0.9h-4.2zM-59 75.6h0.9v0.9h-0.9zM-54 75.6h0.9v0.9h-0.9zM-52.4 75.6h0.9v0.9h-0.9zM-49.9 75.6h0.9v0.9h-0.9zM-12.8 75.6h1.8v0.9h-1.8zM-9.5 75.6h0.9v0.9h-0.9zM110 75.6h1.8v0.9h-1.8zM-49.7 74.8h1v0.9h-1zM-48 74.8h1v0.9h-1zM-42.2 74.8h1.8v0.9h-1.8zM-8 74.8h1v0.9h-1zM-5.5 74.8h1.8v0.9h-1.8zM108.8 74.8h1v0.9h-1zM112.1 74.8h1v0.9h-1zM-48.6 73.9h1v1h-1zM-42.7 73.9h1v1h-1zM-7.2 73.9h1v1h-1zM-5.5 73.9h2.7v1h-2.7zM-2.2 73.9h1v1h-1zM-0.5 73.9h2.7v1h-2.7zM6.3 73.9h1.8v1h-1.8zM8.8 73.9h1v1h-1zM11.3 73.9h1.8v1h-1.8zM13.9 73.9h2.7v1h-2.7zM49.3 73.9h1.8v1h-1.8zM106.7 73.9h1v1h-1zM108.4 73.9h1v1h-1zM110.1 73.9h1v1h-1zM113.5 73.9h1v1h-1zM-48.3 73.1h1.8v1h-1.8zM-3 73.1h1.8v1h-1.8zM-0.5 73.1h1v1h-1zM5.5 73.1h1v1h-1zM8.1 73.1h1v1h-1zM10.6 73.1h1v1h-1zM12.3 73.1h1v1h-1zM14 73.1h1.8v1h-1.8zM16.6 73.1h3.5v1h-3.5zM22.6 73.1h2.7v1h-2.7zM26 73.1h1v1h-1zM49 73.1h1.8v1h-1.8zM104.5 73.1h2.7v1h-2.7zM107.9 73.1h1v1h-1zM109.7 73.1h1v1h-1zM-45.4 72.2h1v1h-1zM16.8 72.2h2.7v1h-2.7zM20.2 72.2h1v1h-1zM22 72.2h1.8v1h-1.8zM24.6 72.2h1v1h-1zM27.1 72.2h3.6v1h-3.6zM44.4 72.2h1v1h-1zM46.1 72.2h2.7v1h-2.7zM49.6 72.2h1v1h-1zM53 72.2h2.7v1h-2.7zM101.4 72.2h6.2v1h-6.2zM108.3 72.2h1v1h-1zM27.4 71.4h2.7v1h-2.7zM30.9 71.4h1v1h-1zM40.5 71.4h1v1h-1zM42.3 71.4h1v1h-1zM44.9 71.4h1v1h-1zM48.4 71.4h1v1h-1zM55.4 71.4h1.9v1h-1.9zM58 71.4h1.9v1h-1.9zM83.3 71.4h1v1h-1zM98.1 71.4h2.7v1h-2.7zM102.5 71.4h2.7v1h-2.7zM-46.3 70.5h1v1h-1zM-44.6 70.5h1v1h-1zM33.9 70.5h1.9v1h-1.9zM36.5 70.5h1.9v1h-1.9zM41 70.5h4.5v1h-4.5zM56.8 70.5h2.8v1h-2.8zM60.4 70.5h2.8v1h-2.8zM63.9 70.5h1v1h-1zM65.6 70.5h1v1h-1zM68.3 70.5h1v1h-1zM71.8 70.5h1v1h-1zM74.5 70.5h1v1h-1zM77.1 70.5h1v1h-1zM78.9 70.5h2.8v1h-2.8zM82.4 70.5h1.9v1h-1.9zM85 70.5h1v1h-1zM86.8 70.5h1v1h-1zM93 70.5h1v1h-1zM94.7 70.5h2.8v1h-2.8zM100 70.5h3.6v1h-3.6zM-45.9 69.6h1.9v1h-1.9zM36.9 69.6h1.9v1h-1.9zM62.8 69.6h1v1h-1zM64.5 69.6h1v1h-1zM66.3 69.6h1.9v1h-1.9zM69.9 69.6h1.9v1h-1.9zM74.3 69.6h4.6v1h-4.6zM80.6 69.6h1v1h-1zM83.3 69.6h1v1h-1zM85.9 69.6h1.9v1h-1.9zM89.5 69.6h1v1h-1zM92.2 69.6h1v1h-1zM94.8 69.6h1.9v1h-1.9zM98.4 69.6h1v1h-1zM-47.3 68.7h1.9v1h-1.9zM-45 67.8h1.9v1h-1.9zM-44.6 66.9h1v1h-1zM-54.2 58.5h2.1v1.1h-2.1zM-58.6 57.5h2.1v1.1h-2.1zM-30.6 57.5h2.1v1.1h-2.1zM-60.1 56.6h2.1v1.1h-2.1zM-55 56.6h1.1v1.1h-1.1zM-49.3 55.6h2.2v1.1h-2.2zM-49.7 54.6h2.2v1.1h-2.2zM-62.4 53.6h1.2v1.1h-1.2zM-61.8 52.6h2.2v1.1h-2.2zM-58.7 52.6h1.2v1.1h-1.2zM57.5 52.6h1.2v1.1h-1.2zM-63.2 51.7h7.4v1.1h-7.4zM-60.4 50.7h5.4v1.1h-5.4zM-61.9 49.7h5.4v1.1h-5.4zM-64.4 48.7h6.5v1.1h-6.5zM142.9 48.7h1.2v1.1h-1.2zM-63.6 47.7h7.6v1.1h-7.6zM142.6 47.7h1.2v1.1h-1.2zM144.8 47.7h2.3v1.1h-2.3zM-64 46.7h1.2v1.1h-1.2zM-61.9 46.7h6.6v1.1h-6.6zM144.5 46.7h1.2v1.1h-1.2zM147.7 46.7h1.2v1.1h-1.2zM-64.3 45.7h6.6v1.1h-6.6zM-56.8 45.7h1.2v1.1h-1.2zM148.5 45.7h1.2v1.1h-1.2zM-64.7 44.7h4.5v1.1h-4.5zM-59.3 44.7h3.4v1.1h-3.4zM127.6 44.7h1.2v1.1h-1.2zM-65 43.6h9.9v1.1h-9.9zM126.1 43.6h3.4v1.1h-3.4zM150.1 43.6h4.5v1.1h-4.5zM-65.3 42.6h11.1v1.1h-11.1zM153 42.6h2.3v1.1h-2.3zM-65.6 41.6h13.3v1.1h-13.3zM128.4 41.6h1.2v1.1h-1.2zM152.6 41.6h4.5v1.1h-4.5zM-65.9 40.6h15.6v1.1h-15.6zM124.5 40.6h3.4v1.1h-3.4zM154.4 40.6h3.4v1.1h-3.4zM-65.1 39.6h5.7v1.1h-5.7zM-58.4 39.6h7.9v1.1h-7.9zM124 39.6h2.3v1.1h-2.3zM127.3 39.6h1.2v1.1h-1.2zM129.5 39.6h1.2v1.1h-1.2zM131.7 39.6h2.3v1.1h-2.3zM155.1 39.6h2.3v1.1h-2.3zM-65.4 38.6h4.6v1.1h-4.6zM-57.6 38.6h6.8v1.1h-6.8zM124.5 38.6h1.2v1.1h-1.2zM126.7 38.6h1.2v1.1h-1.2zM128.9 38.6h5.7v1.1h-5.7zM154.6 38.6h2.4v1.1h-2.4zM-65.6 37.6h4.6v1.1h-4.6zM-58.9 37.6h1.2v1.1h-1.2zM-54.4 37.6h3.5v1.1h-3.5zM123.8 37.6h11.3v1.1h-11.3zM155.2 37.6h1.2v1.1h-1.2zM-65.9 36.6h6.9v1.1h-6.9zM-58 36.6h1.2v1.1h-1.2zM-54.6 36.6h6.9v1.1h-6.9zM16.3 36.6h4.6v1.1h-4.6zM102.9 36.6h4.6v1.1h-4.6zM122.1 36.6h14.8v1.1h-14.8zM-65 35.5h6.9v1.1h-6.9zM-56 35.5h8v1.1h-8zM16.3 35.5h9.2v1.1h-9.2zM103.3 35.5h9.2v1.1h-9.2zM121.4 35.5h15.9v1.1h-15.9zM-65.2 34.5h4.7v1.1h-4.7zM-53.9 34.5h4.7v1.1h-4.7zM17.5 34.5h8.1v1.1h-8.1zM104.8 34.5h10.3v1.1h-10.3zM120.7 34.5h13.7v1.1h-13.7zM135.4 34.5h1.3v1.1h-1.3zM-65.4 33.5h4.7v1.1h-4.7zM-54.1 33.5h2.4v1.1h-2.4zM-50.7 33.5h1.3v1.1h-1.3zM16.4 33.5h10.4v1.1h-10.4zM105.2 33.5h20.6v1.1h-20.6zM133.6 33.5h4.7v1.1h-4.7zM-65.7 32.5h4.7v1.1h-4.7zM-54.2 32.5h1.3v1.1h-1.3zM16.5 32.5h11.5v1.1h-11.5zM105.5 32.5h19.5v1.1h-19.5zM135.2 32.5h1.3v1.1h-1.3zM-62.4 31.5h4.7v1.1h-4.7zM-56.7 31.5h1.3v1.1h-1.3zM-52.1 31.5h2.4v1.1h-2.4zM-47.5 31.5h2.4v1.1h-2.4zM15.4 31.5h11.6v1.1h-11.6zM28 31.5h1.3v1.1h-1.3zM104.7 31.5h21.9v1.1h-21.9zM128.7 31.5h1.3v1.1h-1.3zM-61.5 30.4h4.7v1.1h-4.7zM-46.5 30.4h2.4v1.1h-2.4zM18.9 30.4h1.3v1.1h-1.3zM21.2 30.4h5.9v1.1h-5.9zM29.2 30.4h1.3v1.1h-1.3zM105 30.4h3.6v1.1h-3.6zM109.6 30.4h1.3v1.1h-1.3zM111.9 30.4h13.9v1.1h-13.9zM127.9 30.4h1.3v1.1h-1.3zM131.4 30.4h2.4v1.1h-2.4zM-62.8 29.4h7v1.1h-7zM-46.7 29.4h1.3v1.1h-1.3zM21.2 29.4h3.6v1.1h-3.6zM27 29.4h1.3v1.1h-1.3zM105.2 29.4h15.1v1.1h-15.1zM123.7 29.4h5.9v1.1h-5.9zM132.9 29.4h3.6v1.1h-3.6zM137.5 29.4h1.3v1.1h-1.3zM-66.4 28.4h4.7v1.1h-4.7zM-60.6 28.4h11.7v1.1h-11.7zM-47.9 28.4h2.4v1.1h-2.4zM13.2 28.4h1.3v1.1h-1.3zM20.1 28.4h4.7v1.1h-4.7zM104.4 28.4h14v1.1h-14zM122.8 28.4h3.6v1.1h-3.6zM127.4 28.4h1.3v1.1h-1.3zM132 28.4h1.3v1.1h-1.3zM135.5 28.4h4.7v1.1h-4.7zM-63.1 27.4h17.5v1.1h-17.5zM13.2 27.4h3.6v1.1h-3.6zM17.9 27.4h7.1v1.1h-7.1zM104.6 27.4h1.3v1.1h-1.3zM106.9 27.4h11.7v1.1h-11.7zM119.6 27.4h1.3v1.1h-1.3zM121.9 27.4h1.3v1.1h-1.3zM125.4 27.4h1.3v1.1h-1.3zM-65.5 26.4h4.8v1.1h-4.8zM-59.7 26.4h16.3v1.1h-16.3zM13.3 26.4h10.5v1.1h-10.5zM24.9 26.4h1.3v1.1h-1.3zM39.9 26.4h3.6v1.1h-3.6zM106 26.4h2.4v1.1h-2.4zM109.5 26.4h11.7v1.1h-11.7zM123.4 26.4h3.6v1.1h-3.6zM-65.7 25.4h10.6v1.1h-10.6zM-54 25.4h1.3v1.1h-1.3zM-51.7 25.4h2.4v1.1h-2.4zM-48.2 25.4h1.3v1.1h-1.3zM-45.9 25.4h4.8v1.1h-4.8zM13.3 25.4h1.3v1.1h-1.3zM15.6 25.4h2.4v1.1h-2.4zM20.3 25.4h1.3v1.1h-1.3zM22.6 25.4h1.3v1.1h-1.3zM31.9 25.4h1.3v1.1h-1.3zM40 25.4h4.8v1.1h-4.8zM110.8 25.4h1.3v1.1h-1.3zM113.2 25.4h3.6v1.1h-3.6zM117.8 25.4h10.6v1.1h-10.6zM-65.8 24.4h1.3v1.1h-1.3zM-63.5 24.4h9.4v1.1h-9.4zM-44.8 24.4h3.6v1.1h-3.6zM14.5 24.4h4.8v1.1h-4.8zM40.1 24.4h4.8v1.1h-4.8zM106.4 24.4h1.3v1.1h-1.3zM108.7 24.4h1.3v1.1h-1.3zM112.2 24.4h7.1v1.1h-7.1zM120.4 24.4h4.8v1.1h-4.8zM135.5 24.4h1.3v1.1h-1.3zM137.8 24.4h2.4v1.1h-2.4zM-63.6 23.3h10.6v1.1h-10.6zM-46.1 23.3h1.3v1.1h-1.3zM13.4 23.3h5.9v1.1h-5.9zM40.2 23.3h4.8v1.1h-4.8zM110.1 23.3h2.5v1.1h-2.5zM113.6 23.3h7.1v1.1h-7.1zM121.7 23.3h4.8v1.1h-4.8zM138 23.3h2.5v1.1h-2.5zM-62.5 22.3h9.5v1.1h-9.5zM-47.3 22.3h2.5v1.1h-2.5zM12.2 22.3h6v1.1h-6zM40.2 22.3h4.8v1.1h-4.8zM114.9 22.3h7.1v1.1h-7.1zM123.1 22.3h9.5v1.1h-9.5zM133.6 22.3h1.3v1.1h-1.3zM135.9 22.3h1.3v1.1h-1.3zM138.3 22.3h1.3v1.1h-1.3zM153.5 22.3h1.3v1.1h-1.3zM-64.9 21.3h4.8v1.1h-4.8zM-57.9 21.3h4.8v1.1h-4.8zM-46.2 21.3h3.6v1.1h-3.6zM12.2 21.3h4.8v1.1h-4.8zM32.1 21.3h1.3v1.1h-1.3zM41.5 21.3h3.6v1.1h-3.6zM112.8 21.3h2.5v1.1h-2.5zM117.5 21.3h4.8v1.1h-4.8zM123.3 21.3h9.5v1.1h-9.5zM136.2 21.3h1.3v1.1h-1.3zM138.5 21.3h1.3v1.1h-1.3zM-66.2 20.3h6v1.1h-6zM-58 20.3h6v1.1h-6zM-46.3 20.3h3.6v1.1h-3.6zM116.5 20.3h17.7v1.1h-17.7zM135.2 20.3h1.3v1.1h-1.3zM137.6 20.3h1.3v1.1h-1.3zM-61.6 19.3h1.3v1.1h-1.3zM-59.3 19.3h10.7v1.1h-10.7zM40.4 19.3h1.3v1.1h-1.3zM117.8 19.3h14.2v1.1h-14.2zM136.6 19.3h1.3v1.1h-1.3zM-58.2 18.3h8.3v1.1h-8.3zM-48.8 18.3h1.3v1.1h-1.3zM11.1 18.3h3.6v1.1h-3.6zM15.8 18.3h1.3v1.1h-1.3zM22.9 18.3h1.3v1.1h-1.3zM27.6 18.3h3.6v1.1h-3.6zM32.3 18.3h1.3v1.1h-1.3zM34.6 18.3h2.5v1.1h-2.5zM40.5 18.3h3.6v1.1h-3.6zM116.8 18.3h6v1.1h-6zM123.9 18.3h8.3v1.1h-8.3zM136.8 18.3h1.3v1.1h-1.3zM-68.9 17.2h13.1v1.1h-13.1zM-54.8 17.2h1.3v1.1h-1.3zM11.1 17.2h9.5v1.1h-9.5zM25.2 17.2h2.5v1.1h-2.5zM28.8 17.2h3.6v1.1h-3.6zM34.7 17.2h3.6v1.1h-3.6zM41.7 17.2h1.3v1.1h-1.3zM45.2 17.2h1.3v1.1h-1.3zM119.4 17.2h10.7v1.1h-10.7zM132.3 17.2h3.6v1.1h-3.6zM157 17.2h1.3v1.1h-1.3zM-70.2 16.2h11.9v1.1h-11.9zM-56 16.2h2.5v1.1h-2.5zM11.1 16.2h3.7v1.1h-3.7zM15.9 16.2h2.5v1.1h-2.5zM19.4 16.2h1.3v1.1h-1.3zM21.7 16.2h1.3v1.1h-1.3zM28.8 16.2h1.3v1.1h-1.3zM31.2 16.2h1.3v1.1h-1.3zM43 16.2h1.3v1.1h-1.3zM45.3 16.2h1.3v1.1h-1.3zM121.9 16.2h7.2v1.1h-7.2zM132.5 16.2h2.5v1.1h-2.5zM-71.4 15.2h7.2v1.1h-7.2zM-63.2 15.2h1.3v1.1h-1.3zM-57.3 15.2h1.3v1.1h-1.3zM11.2 15.2h3.7v1.1h-3.7zM17.1 15.2h1.3v1.1h-1.3zM20.6 15.2h2.5v1.1h-2.5zM26.5 15.2h1.3v1.1h-1.3zM32.4 15.2h1.3v1.1h-1.3zM34.8 15.2h1.3v1.1h-1.3zM37.1 15.2h1.3v1.1h-1.3zM44.2 15.2h1.3v1.1h-1.3zM122 15.2h2.5v1.1h-2.5zM125.6 15.2h3.7v1.1h-3.7zM132.7 15.2h3.7v1.1h-3.7zM-72.7 14.2h7.2v1.1h-7.2zM-55 14.2h1.3v1.1h-1.3zM-50.2 14.2h1.3v1.1h-1.3zM-47.9 14.2h2.5v1.1h-2.5zM-43.2 14.2h1.3v1.1h-1.3zM11.2 14.2h3.7v1.1h-3.7zM18.3 14.2h8.4v1.1h-8.4zM34.8 14.2h3.7v1.1h-3.7zM44.2 14.2h3.7v1.1h-3.7zM123.4 14.2h6v1.1h-6zM132.8 14.2h1.3v1.1h-1.3zM135.2 14.2h1.3v1.1h-1.3zM-71.6 13.2h8.4v1.1h-8.4zM-57.4 13.2h1.3v1.1h-1.3zM-51.5 13.2h3.7v1.1h-3.7zM-46.8 13.2h2.5v1.1h-2.5zM-43.2 13.2h4.8v1.1h-4.8zM13.5 13.2h7.2v1.1h-7.2zM21.8 13.2h1.3v1.1h-1.3zM45.5 13.2h1.3v1.1h-1.3zM123.5 13.2h6v1.1h-6zM134.1 13.2h2.5v1.1h-2.5zM-74 12.2h10.8v1.1h-10.8zM-53.9 12.2h1.3v1.1h-1.3zM-51.5 12.2h1.3v1.1h-1.3zM-46.8 12.2h2.5v1.1h-2.5zM-43.2 12.2h3.7v1.1h-3.7zM14.7 12.2h4.9v1.1h-4.9zM20.7 12.2h1.3v1.1h-1.3zM36 12.2h2.5v1.1h-2.5zM124.8 12.2h4.9v1.1h-4.9zM134.3 12.2h1.3v1.1h-1.3zM-74.1 11.1h13.2v1.1h-13.2zM-58.7 11.1h2.5v1.1h-2.5zM-55.1 11.1h1.3v1.1h-1.3zM14.8 11.1h4.9v1.1h-4.9zM36.1 11.1h2.5v1.1h-2.5zM134.4 11.1h1.3v1.1h-1.3zM-74.1 10.1h2.5v1.1h-2.5zM-69.4 10.1h1.3v1.1h-1.3zM-67 10.1h6v1.1h-6zM-58.7 10.1h2.5v1.1h-2.5zM-51.6 10.1h1.3v1.1h-1.3zM-49.3 10.1h1.3v1.1h-1.3zM-38.6 10.1h1.3v1.1h-1.3zM-36.2 10.1h1.3v1.1h-1.3zM13.6 10.1h7.2v1.1h-7.2zM34.9 10.1h3.7v1.1h-3.7zM116.7 10.1h2.5v1.1h-2.5zM139.3 10.1h1.3v1.1h-1.3zM-75.4 9.1h4.9v1.1h-4.9zM-69.5 9.1h6.1v1.1h-6.1zM-60 9.1h1.3v1.1h-1.3zM-55.2 9.1h2.5v1.1h-2.5zM-51.7 9.1h1.3v1.1h-1.3zM-43.4 9.1h1.3v1.1h-1.3zM-41 9.1h8.4v1.1h-8.4zM14.8 9.1h1.3v1.1h-1.3zM17.2 9.1h1.3v1.1h-1.3zM23.1 9.1h2.5v1.1h-2.5zM32.6 9.1h4.9v1.1h-4.9zM118 9.1h2.5v1.1h-2.5zM138.2 9.1h3.7v1.1h-3.7zM-74.3 8.1h15.6v1.1h-15.6zM-57.6 8.1h3.7v1.1h-3.7zM-45.8 8.1h1.3v1.1h-1.3zM-41 8.1h8.4v1.1h-8.4zM12.4 8.1h9.6v1.1h-9.6zM24.3 8.1h2.5v1.1h-2.5zM35 8.1h2.5v1.1h-2.5zM102.7 8.1h1.3v1.1h-1.3zM134.7 8.1h6.1v1.1h-6.1zM-74.3 7.1h9.6v1.1h-9.6zM-63.6 7.1h10.8v1.1h-10.8zM-41 7.1h4.9v1.1h-4.9zM11.2 7.1h1.3v1.1h-1.3zM13.6 7.1h1.3v1.1h-1.3zM16 7.1h1.3v1.1h-1.3zM19.6 7.1h2.5v1.1h-2.5zM26.7 7.1h1.3v1.1h-1.3zM32.6 7.1h4.9v1.1h-4.9zM100.3 7.1h3.7v1.1h-3.7zM133.6 7.1h2.5v1.1h-2.5zM137.2 7.1h2.5v1.1h-2.5zM147.9 7.1h1.3v1.1h-1.3zM-74.3 6.1h8.4v1.1h-8.4zM-62.5 6.1h10.8v1.1h-10.8zM-39.9 6.1h1.3v1.1h-1.3zM-36.3 6.1h1.3v1.1h-1.3zM17.2 6.1h1.3v1.1h-1.3zM30.3 6.1h7.3v1.1h-7.3zM100.4 6.1h2.5v1.1h-2.5zM132.5 6.1h7.3v1.1h-7.3zM140.8 6.1h1.3v1.1h-1.3zM-77.9 5h13.2v1.1h-13.2zM-61.3 5h1.3v1.1h-1.3zM-56.5 5h6.1v1.1h-6.1zM18.4 5h1.3v1.1h-1.3zM31.5 5h4.9v1.1h-4.9zM98.1 5h2.5v1.1h-2.5zM113.5 5h1.3v1.1h-1.3zM115.9 5h1.3v1.1h-1.3zM134.9 5h1.3v1.1h-1.3zM-78 4h1.3v1.1h-1.3zM-75.6 4h3.7v1.1h-3.7zM-70.8 4h2.5v1.1h-2.5zM-58.9 4h7.3v1.1h-7.3zM14.8 4h4.9v1.1h-4.9zM20.8 4h1.3v1.1h-1.3zM31.5 4h6.1v1.1h-6.1zM96.9 4h2.5v1.1h-2.5zM113.6 4h3.7v1.1h-3.7zM129 4h1.3v1.1h-1.3zM132.6 4h1.3v1.1h-1.3zM135 4h1.3v1.1h-1.3zM137.4 4h1.3v1.1h-1.3zM-76.8 3h1.3v1.1h-1.3zM-57.8 3h8.5v1.1h-8.5zM-39.9 3h1.3v1.1h-1.3zM10.1 3h1.3v1.1h-1.3zM16 3h6.1v1.1h-6.1zM23.2 3h1.3v1.1h-1.3zM25.5 3h1.3v1.1h-1.3zM33.9 3h1.3v1.1h-1.3zM36.2 3h2.5v1.1h-2.5zM96.9 3h2.5v1.1h-2.5zM108.8 3h2.5v1.1h-2.5zM113.6 3h3.7v1.1h-3.7zM119.6 3h4.9v1.1h-4.9zM125.5 3h12v1.1h-12zM-76.8 2h1.3v1.1h-1.3zM-73.3 2h1.3v1.1h-1.3zM-60.2 2h4.9v1.1h-4.9zM-53 2h3.7v1.1h-3.7zM-41.1 2h1.3v1.1h-1.3zM8.9 2h3.7v1.1h-3.7zM17.2 2h10.8v1.1h-10.8zM29.1 2h1.3v1.1h-1.3zM95.8 2h2.5v1.1h-2.5zM110.1 2h1.3v1.1h-1.3zM112.4 2h3.7v1.1h-3.7zM125.5 2h2.5v1.1h-2.5zM129.1 2h4.9v1.1h-4.9zM-76.9 1h2.5v1.1h-2.5zM-68.5 1h1.3v1.1h-1.3zM-60.2 1h1.3v1.1h-1.3zM-57.8 1h7.3v1.1h-7.3zM-43.5 1h1.3v1.1h-1.3zM8.9 1h2.5v1.1h-2.5zM17.2 1h14.4v1.1h-14.4zM38.6 1h1.3v1.1h-1.3zM113.7 1h2.5v1.1h-2.5zM124.4 1h1.3v1.1h-1.3zM126.8 1h1.3v1.1h-1.3zM-87.6 0h1.3v1.1h-1.3zM-76.9 0h1.3v1.1h-1.3zM-68.5 0h1.3v1.1h-1.3zM-63.8 0h1.3v1.1h-1.3zM-60.2 0h7.3v1.1h-7.3zM7.7 0h6.1v1.1h-6.1zM16 0h1.3v1.1h-1.3zM18.4 0h15.6v1.1h-15.6zM94.6 0h2.5v1.1h-2.5zM104.2 0h1.3v1.1h-1.3zM110.1 0h1.3v1.1h-1.3zM124.4 0h3.7v1.1h-3.7zM-70.9 -1.1h4.9v1.1h-4.9zM-65 -1.1h1.3v1.1h-1.3zM-60.2 -1.1h8.5v1.1h-8.5zM11.3 -1.1h1.3v1.1h-1.3zM17.2 -1.1h19.2v1.1h-19.2zM94.6 -1.1h2.5v1.1h-2.5zM103 -1.1h1.3v1.1h-1.3zM111.3 -1.1h1.3v1.1h-1.3zM-72.1 -2.1h3.7v1.1h-3.7zM-64.9 -2.1h2.5v1.1h-2.5zM-61.4 -2.1h2.5v1.1h-2.5zM-57.8 -2.1h6.1v1.1h-6.1zM11.3 -2.1h2.5v1.1h-2.5zM19.6 -2.1h8.5v1.1h-8.5zM29.1 -2.1h7.3v1.1h-7.3zM93.4 -2.1h1.3v1.1h-1.3zM98.2 -2.1h1.3v1.1h-1.3zM102.9 -2.1h2.5v1.1h-2.5zM-74.5 -3.1h3.7v1.1h-3.7zM-69.7 -3.1h1.3v1.1h-1.3zM-59 -3.1h7.3v1.1h-7.3zM10.1 -3.1h1.3v1.1h-1.3zM12.4 -3.1h2.5v1.1h-2.5zM17.2 -3.1h1.3v1.1h-1.3zM22 -3.1h7.3v1.1h-7.3zM30.3 -3.1h3.7v1.1h-3.7zM35.1 -3.1h1.3v1.1h-1.3zM37.4 -3.1h1.3v1.1h-1.3zM41 -3.1h3.7v1.1h-3.7zM94.6 -3.1h4.9v1.1h-4.9zM-74.4 -4.1h1.3v1.1h-1.3zM-72.1 -4.1h1.3v1.1h-1.3zM-69.7 -4.1h2.5v1.1h-2.5zM-63.7 -4.1h1.3v1.1h-1.3zM-61.3 -4.1h1.3v1.1h-1.3zM-59 -4.1h4.9v1.1h-4.9zM-53 -4.1h1.3v1.1h-1.3zM-50.6 -4.1h1.3v1.1h-1.3zM8.9 -4.1h7.3v1.1h-7.3zM22 -4.1h13.2v1.1h-13.2zM36.2 -4.1h1.3v1.1h-1.3zM38.6 -4.1h6.1v1.1h-6.1zM92.2 -4.1h2.5v1.1h-2.5zM96.9 -4.1h1.3v1.1h-1.3zM-74.4 -5.1h7.3v1.1h-7.3zM-66.1 -5.1h3.7v1.1h-3.7zM-58.9 -5.1h8.4v1.1h-8.4zM-7.8 -5.1h1.3v1.1h-1.3zM6.5 -5.1h12v1.1h-12zM20.8 -5.1h15.6v1.1h-15.6zM37.4 -5.1h8.4v1.1h-8.4zM91 -5.1h2.5v1.1h-2.5zM95.7 -5.1h1.3v1.1h-1.3zM110 -5.1h1.3v1.1h-1.3zM-74.4 -6.2h4.9v1.1h-4.9zM-68.4 -6.2h4.9v1.1h-4.9zM-57.7 -6.2h7.3v1.1h-7.3zM-9 -6.2h7.3v1.1h-7.3zM5.3 -6.2h9.6v1.1h-9.6zM17.2 -6.2h3.7v1.1h-3.7zM22 -6.2h13.2v1.1h-13.2zM37.4 -6.2h1.3v1.1h-1.3zM39.8 -6.2h2.5v1.1h-2.5zM43.4 -6.2h3.7v1.1h-3.7zM90.9 -6.2h2.5v1.1h-2.5zM-70.8 -7.2h9.6v1.1h-9.6zM-57.7 -7.2h4.9v1.1h-4.9zM-10.2 -7.2h1.3v1.1h-1.3zM-7.8 -7.2h2.5v1.1h-2.5zM-4.2 -7.2h2.5v1.1h-2.5zM-0.6 -7.2h1.3v1.1h-1.3zM1.7 -7.2h10.8v1.1h-10.8zM13.6 -7.2h2.5v1.1h-2.5zM17.2 -7.2h15.6v1.1h-15.6zM38.6 -7.2h8.4v1.1h-8.4zM-69.5 -8.2h1.3v1.1h-1.3zM-66 -8.2h6.1v1.1h-6.1zM-57.7 -8.2h1.3v1.1h-1.3zM-11.3 -8.2h31v1.1h-31zM23.1 -8.2h6.1v1.1h-6.1zM30.2 -8.2h1.3v1.1h-1.3zM37.4 -8.2h4.9v1.1h-4.9zM43.3 -8.2h4.9v1.1h-4.9zM76.6 -8.2h1.3v1.1h-1.3zM-68.3 -9.2h4.9v1.1h-4.9zM-62.4 -9.2h4.9v1.1h-4.9zM-12.5 -9.2h7.2v1.1h-7.2zM-4.2 -9.2h2.5v1.1h-2.5zM-0.6 -9.2h15.6v1.1h-15.6zM16 -9.2h9.6v1.1h-9.6zM26.7 -9.2h3.7v1.1h-3.7zM36.2 -9.2h8.4v1.1h-8.4zM46.8 -9.2h1.3v1.1h-1.3zM75.3 -9.2h1.3v1.1h-1.3zM116.9 -9.2h3.7v1.1h-3.7zM-80.1 -10.2h3.7v1.1h-3.7zM-69.5 -10.2h12v1.1h-12zM-12.5 -10.2h17.9v1.1h-17.9zM6.5 -10.2h1.3v1.1h-1.3zM8.8 -10.2h20.3v1.1h-20.3zM30.2 -10.2h1.3v1.1h-1.3zM32.6 -10.2h15.5v1.1h-15.5zM74.1 -10.2h2.5v1.1h-2.5zM116.8 -10.2h3.7v1.1h-3.7zM-81.3 -11.2h1.3v1.1h-1.3zM-67 -11.2h9.6v1.1h-9.6zM-6.6 -11.2h3.7v1.1h-3.7zM-1.8 -11.2h7.2v1.1h-7.2zM11.2 -11.2h28.6v1.1h-28.6zM40.9 -11.2h7.2v1.1h-7.2zM72.9 -11.2h2.5v1.1h-2.5zM116.7 -11.2h2.5v1.1h-2.5zM-81.2 -12.3h2.5v1.1h-2.5zM-63.4 -12.3h2.5v1.1h-2.5zM-59.9 -12.3h1.3v1.1h-1.3zM-14.9 -12.3h9.6v1.1h-9.6zM-4.2 -12.3h1.3v1.1h-1.3zM1.7 -12.3h2.5v1.1h-2.5zM12.4 -12.3h1.3v1.1h-1.3zM14.8 -12.3h26.2v1.1h-26.2zM42 -12.3h7.2v1.1h-7.2zM74 -12.3h1.3v1.1h-1.3zM-82.3 -13.3h3.7v1.1h-3.7zM-16 -13.3h13.1v1.1h-13.1zM-1.8 -13.3h1.3v1.1h-1.3zM0.5 -13.3h6v1.1h-6zM13.6 -13.3h7.2v1.1h-7.2zM21.8 -13.3h17.9v1.1h-17.9zM46.7 -13.3h2.5v1.1h-2.5zM71.6 -13.3h3.7v1.1h-3.7zM94 -13.3h1.3v1.1h-1.3zM-83.4 -14.3h4.8v1.1h-4.8zM-16 -14.3h8.4v1.1h-8.4zM-5.4 -14.3h13.1v1.1h-13.1zM13.5 -14.3h11.9v1.1h-11.9zM28.9 -14.3h9.6v1.1h-9.6zM50.2 -14.3h1.3v1.1h-1.3zM71.5 -14.3h2.5v1.1h-2.5zM92.8 -14.3h7.2v1.1h-7.2zM-84.5 -15.3h1.3v1.1h-1.3zM-79.8 -15.3h1.3v1.1h-1.3zM-16 -15.3h26.1v1.1h-26.1zM12.4 -15.3h1.3v1.1h-1.3zM14.7 -15.3h9.6v1.1h-9.6zM27.7 -15.3h11.9v1.1h-11.9zM40.7 -15.3h4.8v1.1h-4.8zM70.2 -15.3h6v1.1h-6zM92.7 -15.3h7.2v1.1h-7.2zM102.1 -15.3h1.3v1.1h-1.3zM113.9 -15.3h3.7v1.1h-3.7zM-12.4 -16.3h36.7v1.1h-36.7zM25.3 -16.3h1.3v1.1h-1.3zM27.7 -16.3h4.8v1.1h-4.8zM33.6 -16.3h3.7v1.1h-3.7zM40.6 -16.3h7.2v1.1h-7.2zM71.3 -16.3h4.8v1.1h-4.8zM92.6 -16.3h10.7v1.1h-10.7zM113.8 -16.3h1.3v1.1h-1.3zM-16 -17.3h1.3v1.1h-1.3zM-13.6 -17.3h35.5v1.1h-35.5zM22.9 -17.3h15.4v1.1h-15.4zM41.8 -17.3h7.2v1.1h-7.2zM73.6 -17.3h2.5v1.1h-2.5zM91.3 -17.3h2.5v1.1h-2.5zM94.8 -17.3h4.8v1.1h-4.8zM100.7 -17.3h1.3v1.1h-1.3zM112.5 -17.3h1.3v1.1h-1.3zM-15.9 -18.4h8.4v1.1h-8.4zM-5.3 -18.4h13.1v1.1h-13.1zM8.8 -18.4h3.6v1.1h-3.6zM13.5 -18.4h23.7v1.1h-23.7zM39.4 -18.4h11.9v1.1h-11.9zM75.8 -18.4h2.5v1.1h-2.5zM88.8 -18.4h6v1.1h-6zM112.3 -18.4h2.5v1.1h-2.5zM-85.2 -19.4h1.3v1.1h-1.3zM-15.9 -19.4h7.2v1.1h-7.2zM-7.7 -19.4h1.3v1.1h-1.3zM-1.8 -19.4h21.3v1.1h-21.3zM21.7 -19.4h15.4v1.1h-15.4zM39.3 -19.4h3.6v1.1h-3.6zM44 -19.4h8.3v1.1h-8.3zM75.7 -19.4h2.5v1.1h-2.5zM88.6 -19.4h7.2v1.1h-7.2zM112.1 -19.4h2.5v1.1h-2.5zM-98 -20.4h2.5v1.1h-2.5zM-89.8 -20.4h4.8v1.1h-4.8zM-73.4 -20.4h1.3v1.1h-1.3zM-68.7 -20.4h3.6v1.1h-3.6zM-15.9 -20.4h9.5v1.1h-9.5zM-5.3 -20.4h1.3v1.1h-1.3zM0.5 -20.4h15.4v1.1h-15.4zM17 -20.4h9.5v1.1h-9.5zM27.5 -20.4h8.3v1.1h-8.3zM38.1 -20.4h15.4v1.1h-15.4zM75.6 -20.4h3.6v1.1h-3.6zM93.2 -20.4h7.2v1.1h-7.2zM101.4 -20.4h2.5v1.1h-2.5zM113.1 -20.4h1.3v1.1h-1.3zM-145.9 -21.4h1.3v1.1h-1.3zM-99 -21.4h2.5v1.1h-2.5zM-94.3 -21.4h1.3v1.1h-1.3zM-90.8 -21.4h1.3v1.1h-1.3zM-85 -21.4h1.3v1.1h-1.3zM-82.6 -21.4h1.3v1.1h-1.3zM-68.6 -21.4h2.5v1.1h-2.5zM-15.9 -21.4h11.8v1.1h-11.8zM0.5 -21.4h4.8v1.1h-4.8zM12.2 -21.4h8.3v1.1h-8.3zM22.8 -21.4h13v1.1h-13zM39.2 -21.4h10.7v1.1h-10.7zM67.3 -21.4h1.3v1.1h-1.3zM69.6 -21.4h1.3v1.1h-1.3zM74.3 -21.4h1.3v1.1h-1.3zM87.2 -21.4h13v1.1h-13zM101.3 -21.4h2.5v1.1h-2.5zM-98.9 -22.4h1.3v1.1h-1.3zM-94.2 -22.4h3.6v1.1h-3.6zM-84.8 -22.4h3.6v1.1h-3.6zM-15.8 -22.4h8.3v1.1h-8.3zM-6.5 -22.4h1.3v1.1h-1.3zM-0.6 -22.4h2.5v1.1h-2.5zM2.9 -22.4h2.5v1.1h-2.5zM7.6 -22.4h1.3v1.1h-1.3zM13.4 -22.4h18.8v1.1h-18.8zM33.3 -22.4h2.5v1.1h-2.5zM36.8 -22.4h3.6v1.1h-3.6zM41.5 -22.4h4.8v1.1h-4.8zM49.6 -22.4h1.3v1.1h-1.3zM53.2 -22.4h1.3v1.1h-1.3zM68.4 -22.4h1.3v1.1h-1.3zM70.7 -22.4h4.8v1.1h-4.8zM78.9 -22.4h1.3v1.1h-1.3zM87.1 -22.4h4.8v1.1h-4.8zM94.1 -22.4h1.3v1.1h-1.3zM98.8 -22.4h1.3v1.1h-1.3zM-92.9 -23.4h2.5v1.1h-2.5zM-84.7 -23.4h3.6v1.1h-3.6zM-74.2 -23.4h3.6v1.1h-3.6zM-15.8 -23.4h9.5v1.1h-9.5zM-1.8 -23.4h7.1v1.1h-7.1zM8.7 -23.4h1.3v1.1h-1.3zM14.5 -23.4h20v1.1h-20zM36.7 -23.4h9.5v1.1h-9.5zM71.7 -23.4h3.6v1.1h-3.6zM77.6 -23.4h4.8v1.1h-4.8zM85.8 -23.4h2.5v1.1h-2.5zM91.6 -23.4h2.5v1.1h-2.5zM102.1 -23.4h2.5v1.1h-2.5zM-98.5 -24.5h5.9v1.1h-5.9zM-78.7 -24.5h4.8v1.1h-4.8zM-15.8 -24.5h2.5v1.1h-2.5zM-12.3 -24.5h4.8v1.1h-4.8zM-5.3 -24.5h1.3v1.1h-1.3zM-1.8 -24.5h12.9v1.1h-12.9zM13.4 -24.5h21.1v1.1h-21.1zM35.5 -24.5h8.3v1.1h-8.3zM44.8 -24.5h1.3v1.1h-1.3zM77.4 -24.5h1.3v1.1h-1.3zM79.8 -24.5h1.3v1.1h-1.3zM82.1 -24.5h9.4v1.1h-9.4zM92.6 -24.5h2.5v1.1h-2.5zM101.9 -24.5h3.6v1.1h-3.6zM-99.5 -25.5h9.4v1.1h-9.4zM-75.1 -25.5h1.3v1.1h-1.3zM-14.6 -25.5h1.3v1.1h-1.3zM-11.1 -25.5h4.8v1.1h-4.8zM-4.1 -25.5h3.6v1.1h-3.6zM1.7 -25.5h7.1v1.1h-7.1zM9.8 -25.5h12.9v1.1h-12.9zM23.8 -25.5h4.8v1.1h-4.8zM35.4 -25.5h7.1v1.1h-7.1zM43.6 -25.5h1.3v1.1h-1.3zM64.5 -25.5h1.3v1.1h-1.3zM78.5 -25.5h11.8v1.1h-11.8zM92.4 -25.5h1.3v1.1h-1.3zM102.9 -25.5h3.6v1.1h-3.6zM107.6 -25.5h1.3v1.1h-1.3zM111.1 -25.5h2.4v1.1h-2.4zM-99.3 -26.5h9.4v1.1h-9.4zM-14.6 -26.5h11.7v1.1h-11.7zM-1.8 -26.5h1.3v1.1h-1.3zM6.3 -26.5h2.4v1.1h-2.4zM12.1 -26.5h5.9v1.1h-5.9zM19.1 -26.5h8.2v1.1h-8.2zM35.4 -26.5h3.6v1.1h-3.6zM41.2 -26.5h1.3v1.1h-1.3zM44.7 -26.5h2.4v1.1h-2.4zM63.2 -26.5h3.6v1.1h-3.6zM78.3 -26.5h3.6v1.1h-3.6zM83 -26.5h4.8v1.1h-4.8zM89.9 -26.5h1.3v1.1h-1.3zM94.6 -26.5h3.6v1.1h-3.6zM107.4 -26.5h2.4v1.1h-2.4zM-103.8 -27.5h1.3v1.1h-1.3zM-100.3 -27.5h10.5v1.1h-10.5zM-14.5 -27.5h4.8v1.1h-4.8zM-8.7 -27.5h5.9v1.1h-5.9zM0.5 -27.5h2.4v1.1h-2.4zM4 -27.5h23.3v1.1h-23.3zM30.7 -27.5h2.4v1.1h-2.4zM34.1 -27.5h4.8v1.1h-4.8zM39.9 -27.5h1.3v1.1h-1.3zM42.2 -27.5h5.9v1.1h-5.9zM50.4 -27.5h2.4v1.1h-2.4zM56.2 -27.5h1.3v1.1h-1.3zM62 -27.5h4.8v1.1h-4.8zM75.9 -27.5h9.4v1.1h-9.4zM86.3 -27.5h1.3v1.1h-1.3zM89.8 -27.5h1.3v1.1h-1.3zM92.1 -27.5h4.8v1.1h-4.8zM100.2 -27.5h1.3v1.1h-1.3zM108.3 -27.5h1.3v1.1h-1.3zM-104.7 -28.5h2.4v1.1h-2.4zM-101.2 -28.5h11.7v1.1h-11.7zM-74.6 -28.5h1.3v1.1h-1.3zM-13.3 -28.5h10.5v1.1h-10.5zM-0.6 -28.5h24.4v1.1h-24.4zM34.1 -28.5h2.4v1.1h-2.4zM38.7 -28.5h2.4v1.1h-2.4zM43.3 -28.5h3.6v1.1h-3.6zM53.7 -28.5h2.4v1.1h-2.4zM69.9 -28.5h2.4v1.1h-2.4zM73.4 -28.5h11.7v1.1h-11.7zM86.1 -28.5h1.3v1.1h-1.3zM90.7 -28.5h1.3v1.1h-1.3zM97.7 -28.5h1.3v1.1h-1.3zM102.3 -28.5h1.3v1.1h-1.3zM106.9 -28.5h4.7v1.1h-4.7zM-104.5 -29.5h1.3v1.1h-1.3zM-102.2 -29.5h11.7v1.1h-11.7zM-75.6 -29.5h2.4v1.1h-2.4zM-13.3 -29.5h16.3v1.1h-16.3zM5.1 -29.5h7v1.1h-7zM16.7 -29.5h1.3v1.1h-1.3zM19 -29.5h1.3v1.1h-1.3zM32.8 -29.5h1.3v1.1h-1.3zM45.5 -29.5h1.3v1.1h-1.3zM49 -29.5h1.3v1.1h-1.3zM57.1 -29.5h1.3v1.1h-1.3zM59.4 -29.5h1.3v1.1h-1.3zM64 -29.5h1.3v1.1h-1.3zM73.2 -29.5h9.3v1.1h-9.3zM83.6 -29.5h1.3v1.1h-1.3zM85.9 -29.5h1.3v1.1h-1.3zM88.2 -29.5h2.4v1.1h-2.4zM92.8 -29.5h2.4v1.1h-2.4zM97.4 -29.5h1.3v1.1h-1.3zM99.7 -29.5h11.7v1.1h-11.7zM-105.3 -30.5h1.3v1.1h-1.3zM-99.6 -30.5h7v1.1h-7zM-91.5 -30.5h1.3v1.1h-1.3zM-75.4 -30.5h2.4v1.1h-2.4zM-12.1 -30.5h7v1.1h-7zM1.7 -30.5h4.7v1.1h-4.7zM7.4 -30.5h2.4v1.1h-2.4zM10.9 -30.5h1.3v1.1h-1.3zM17.8 -30.5h2.4v1.1h-2.4zM42 -30.5h2.4v1.1h-2.4zM48.9 -30.5h1.3v1.1h-1.3zM59.2 -30.5h1.3v1.1h-1.3zM74.2 -30.5h1.3v1.1h-1.3zM76.5 -30.5h7v1.1h-7zM85.7 -30.5h3.6v1.1h-3.6zM91.4 -30.5h7v1.1h-7zM99.5 -30.5h12.8v1.1h-12.8zM-102.8 -31.6h9.3v1.1h-9.3zM-76.4 -31.6h2.4v1.1h-2.4zM-11 -31.6h4.7v1.1h-4.7zM1.7 -31.6h7v1.1h-7zM16.6 -31.6h3.6v1.1h-3.6zM25.8 -31.6h1.3v1.1h-1.3zM38.4 -31.6h1.3v1.1h-1.3zM40.7 -31.6h4.7v1.1h-4.7zM46.4 -31.6h1.3v1.1h-1.3zM57.9 -31.6h1.3v1.1h-1.3zM60.2 -31.6h1.3v1.1h-1.3zM62.5 -31.6h1.3v1.1h-1.3zM78.6 -31.6h1.3v1.1h-1.3zM83.2 -31.6h7v1.1h-7zM93.5 -31.6h1.3v1.1h-1.3zM95.8 -31.6h11.6v1.1h-11.6zM108.4 -31.6h3.6v1.1h-3.6zM-100.2 -32.6h1.3v1.1h-1.3zM-97.9 -32.6h3.6v1.1h-3.6zM-88.7 -32.6h1.3v1.1h-1.3zM-78.4 -32.6h4.7v1.1h-4.7zM-9.8 -32.6h1.3v1.1h-1.3zM-6.3 -32.6h1.3v1.1h-1.3zM-0.6 -32.6h1.3v1.1h-1.3zM1.7 -32.6h10.4v1.1h-10.4zM13.1 -32.6h2.4v1.1h-2.4zM18.8 -32.6h2.4v1.1h-2.4zM30.3 -32.6h2.4v1.1h-2.4zM38.3 -32.6h5.8v1.1h-5.8zM45.2 -32.6h5.8v1.1h-5.8zM56.6 -32.6h5.8v1.1h-5.8zM63.5 -32.6h1.3v1.1h-1.3zM81.8 -32.6h8.1v1.1h-8.1zM95.5 -32.6h7v1.1h-7zM103.5 -32.6h1.3v1.1h-1.3zM109.2 -32.6h1.3v1.1h-1.3zM-98.7 -33.6h5.8v1.1h-5.8zM-78.2 -33.6h3.5v1.1h-3.5zM-6.3 -33.6h1.3v1.1h-1.3zM1.7 -33.6h13.8v1.1h-13.8zM16.5 -33.6h3.5v1.1h-3.5zM29 -33.6h4.7v1.1h-4.7zM38.2 -33.6h12.7v1.1h-12.7zM51.9 -33.6h12.7v1.1h-12.7zM72.4 -33.6h1.3v1.1h-1.3zM74.7 -33.6h2.4v1.1h-2.4zM79.3 -33.6h8.1v1.1h-8.1zM89.5 -33.6h17.2v1.1h-17.2zM-97.3 -34.6h4.7v1.1h-4.7zM-82.5 -34.6h8.1v1.1h-8.1zM-8.6 -34.6h1.3v1.1h-1.3zM-1.8 -34.6h1.3v1.1h-1.3zM0.5 -34.6h14.9v1.1h-14.9zM31.2 -34.6h1.3v1.1h-1.3zM41.5 -34.6h9.2v1.1h-9.2zM51.7 -34.6h14.9v1.1h-14.9zM71 -34.6h16v1.1h-16zM89.2 -34.6h17.2v1.1h-17.2zM108.6 -34.6h2.4v1.1h-2.4zM117.7 -34.6h2.4v1.1h-2.4zM-98.1 -35.6h4.7v1.1h-4.7zM-84.5 -35.6h1.3v1.1h-1.3zM-82.2 -35.6h1.3v1.1h-1.3zM-80 -35.6h4.7v1.1h-4.7zM-74.3 -35.6h1.3v1.1h-1.3zM-1.8 -35.6h16v1.1h-16zM41.3 -35.6h8.1v1.1h-8.1zM50.4 -35.6h3.5v1.1h-3.5zM54.9 -35.6h11.5v1.1h-11.5zM69.7 -35.6h1.3v1.1h-1.3zM71.9 -35.6h17.1v1.1h-17.1zM92.3 -35.6h11.5v1.1h-11.5zM104.8 -35.6h5.8v1.1h-5.8zM117.3 -35.6h2.4v1.1h-2.4zM-106.8 -36.7h1.2v1.1h-1.2zM-96.6 -36.7h1.2v1.1h-1.2zM-94.4 -36.7h1.2v1.1h-1.2zM-79.7 -36.7h1.2v1.1h-1.2zM-2.9 -36.7h2.4v1.1h-2.4zM0.5 -36.7h10.3v1.1h-10.3zM41.2 -36.7h9.2v1.1h-9.2zM52.5 -36.7h9.2v1.1h-9.2zM62.6 -36.7h4.6v1.1h-4.6zM70.5 -36.7h12.5v1.1h-12.5zM86.4 -36.7h2.4v1.1h-2.4zM95.4 -36.7h1.2v1.1h-1.2zM98.8 -36.7h3.5v1.1h-3.5zM103.3 -36.7h5.8v1.1h-5.8zM116.9 -36.7h4.6v1.1h-4.6zM-94 -37.7h1.2v1.1h-1.2zM-2.9 -37.7h12.5v1.1h-12.5zM32 -37.7h2.4v1.1h-2.4zM37.7 -37.7h12.5v1.1h-12.5zM53.4 -37.7h4.6v1.1h-4.6zM61.3 -37.7h2.4v1.1h-2.4zM64.7 -37.7h4.6v1.1h-4.6zM70.3 -37.7h2.4v1.1h-2.4zM78.2 -37.7h2.4v1.1h-2.4zM86 -37.7h3.5v1.1h-3.5zM91.7 -37.7h1.2v1.1h-1.2zM98.4 -37.7h2.4v1.1h-2.4zM105.2 -37.7h3.5v1.1h-3.5zM114.2 -37.7h1.2v1.1h-1.2zM117.6 -37.7h6.9v1.1h-6.9zM-95.9 -38.7h1.2v1.1h-1.2zM-73.5 -38.7h2.4v1.1h-2.4zM-4 -38.7h3.5v1.1h-3.5zM0.5 -38.7h9.1v1.1h-9.1zM20.7 -38.7h2.4v1.1h-2.4zM29.7 -38.7h1.2v1.1h-1.2zM31.9 -38.7h9.1v1.1h-9.1zM42 -38.7h1.2v1.1h-1.2zM45.4 -38.7h1.2v1.1h-1.2zM61.1 -38.7h1.2v1.1h-1.2zM63.3 -38.7h2.4v1.1h-2.4zM67.8 -38.7h1.2v1.1h-1.2zM75.6 -38.7h1.2v1.1h-1.2zM77.9 -38.7h4.6v1.1h-4.6zM83.5 -38.7h1.2v1.1h-1.2zM88 -38.7h5.7v1.1h-5.7zM102.5 -38.7h5.7v1.1h-5.7zM114.9 -38.7h1.2v1.1h-1.2zM118.2 -38.7h4.6v1.1h-4.6zM123.8 -38.7h1.2v1.1h-1.2zM-106.7 -39.7h1.2v1.1h-1.2zM-103.3 -39.7h1.2v1.1h-1.2zM-92.2 -39.7h2.4v1.1h-2.4zM-83.2 -39.7h1.2v1.1h-1.2zM-76.5 -39.7h6.8v1.1h-6.8zM-6.2 -39.7h1.2v1.1h-1.2zM-0.6 -39.7h10.2v1.1h-10.2zM26.2 -39.7h4.6v1.1h-4.6zM31.8 -39.7h7.9v1.1h-7.9zM40.7 -39.7h5.7v1.1h-5.7zM51.9 -39.7h3.5v1.1h-3.5zM59.7 -39.7h1.2v1.1h-1.2zM61.9 -39.7h3.5v1.1h-3.5zM66.4 -39.7h1.2v1.1h-1.2zM68.6 -39.7h1.2v1.1h-1.2zM70.9 -39.7h2.4v1.1h-2.4zM74.2 -39.7h4.6v1.1h-4.6zM79.8 -39.7h2.4v1.1h-2.4zM83.1 -39.7h2.4v1.1h-2.4zM87.6 -39.7h7.9v1.1h-7.9zM102.1 -39.7h1.2v1.1h-1.2zM104.4 -39.7h3.5v1.1h-3.5zM113.3 -39.7h1.2v1.1h-1.2zM122.2 -39.7h1.2v1.1h-1.2zM-106.3 -40.7h4.6v1.1h-4.6zM-96.3 -40.7h4.6v1.1h-4.6zM-88.5 -40.7h2.3v1.1h-2.3zM-81.8 -40.7h1.2v1.1h-1.2zM-77.3 -40.7h10.1v1.1h-10.1zM6.1 -40.7h3.5v1.1h-3.5zM11.6 -40.7h1.2v1.1h-1.2zM23.9 -40.7h2.3v1.1h-2.3zM30.5 -40.7h1.2v1.1h-1.2zM33.9 -40.7h32.4v1.1h-32.4zM68.3 -40.7h9v1.1h-9zM88.4 -40.7h6.8v1.1h-6.8zM105 -40.7h3.5v1.1h-3.5zM111.7 -40.7h1.2v1.1h-1.2zM-109.1 -41.7h1.2v1.1h-1.2zM-106.9 -41.7h5.7v1.1h-5.7zM-100.3 -41.7h2.3v1.1h-2.3zM-96.9 -41.7h1.2v1.1h-1.2zM-94.7 -41.7h9v1.1h-9zM-84.8 -41.7h1.2v1.1h-1.2zM-82.6 -41.7h2.3v1.1h-2.3zM-74.8 -41.7h5.7v1.1h-5.7zM-8.4 -41.7h1.2v1.1h-1.2zM-1.7 -41.7h1.2v1.1h-1.2zM23.8 -41.7h2.3v1.1h-2.3zM27.1 -41.7h1.2v1.1h-1.2zM30.4 -41.7h10.1v1.1h-10.1zM41.5 -41.7h2.3v1.1h-2.3zM47 -41.7h7.9v1.1h-7.9zM57 -41.7h2.3v1.1h-2.3zM60.3 -41.7h9v1.1h-9zM70.3 -41.7h7.9v1.1h-7.9zM90.2 -41.7h3.4v1.1h-3.4zM96.8 -41.7h1.2v1.1h-1.2zM110.1 -41.7h4.5v1.1h-4.5zM124.5 -41.7h1.2v1.1h-1.2zM-109.7 -42.7h10v1.1h-10zM-95.4 -42.7h11.1v1.1h-11.1zM-75.6 -42.7h6.7v1.1h-6.7zM-8.3 -42.7h2.3v1.1h-2.3zM7.1 -42.7h1.2v1.1h-1.2zM24.8 -42.7h1.2v1.1h-1.2zM28.1 -42.7h15.6v1.1h-15.6zM47.9 -42.7h5.6v1.1h-5.6zM62.2 -42.7h1.2v1.1h-1.2zM66.6 -42.7h2.3v1.1h-2.3zM75.5 -42.7h1.2v1.1h-1.2zM87.6 -42.7h1.2v1.1h-1.2zM95.3 -42.7h2.3v1.1h-2.3zM98.6 -42.7h4.5v1.1h-4.5zM104.1 -42.7h1.2v1.1h-1.2zM109.6 -42.7h3.4v1.1h-3.4zM124 -42.7h1.2v1.1h-1.2zM-109.2 -43.7h5.6v1.1h-5.6zM-101.6 -43.7h1.2v1.1h-1.2zM-97.2 -43.7h1.2v1.1h-1.2zM-95 -43.7h5.6v1.1h-5.6zM-88.4 -43.7h5.6v1.1h-5.6zM-76.3 -43.7h10v1.1h-10zM-7.2 -43.7h1.2v1.1h-1.2zM7.1 -43.7h1.2v1.1h-1.2zM13.7 -43.7h1.2v1.1h-1.2zM17 -43.7h4.5v1.1h-4.5zM23.5 -43.7h1.2v1.1h-1.2zM27.9 -43.7h15.5v1.1h-15.5zM46.6 -43.7h1.2v1.1h-1.2zM49.9 -43.7h1.2v1.1h-1.2zM52.1 -43.7h2.3v1.1h-2.3zM60.9 -43.7h1.2v1.1h-1.2zM64.1 -43.7h1.2v1.1h-1.2zM66.3 -43.7h3.4v1.1h-3.4zM70.7 -43.7h1.2v1.1h-1.2zM72.9 -43.7h3.4v1.1h-3.4zM77.3 -43.7h1.2v1.1h-1.2zM83.9 -43.7h3.4v1.1h-3.4zM94.9 -43.7h7.8v1.1h-7.8zM103.6 -43.7h1.2v1.1h-1.2zM105.8 -43.7h2.3v1.1h-2.3zM109.1 -43.7h2.3v1.1h-2.3zM-108.7 -44.8h7.8v1.1h-7.8zM-95.6 -44.8h2.3v1.1h-2.3zM-92.3 -44.8h9.9v1.1h-9.9zM-75.9 -44.8h8.9v1.1h-8.9zM-65 -44.8h2.3v1.1h-2.3zM-7.1 -44.8h2.3v1.1h-2.3zM7 -44.8h1.2v1.1h-1.2zM18 -44.8h4.5v1.1h-4.5zM26.7 -44.8h1.2v1.1h-1.2zM30 -44.8h13.2v1.1h-13.2zM46.4 -44.8h1.2v1.1h-1.2zM58.4 -44.8h4.5v1.1h-4.5zM63.8 -44.8h14.3v1.1h-14.3zM79.1 -44.8h7.8v1.1h-7.8zM87.9 -44.8h2.3v1.1h-2.3zM96.6 -44.8h4.5v1.1h-4.5zM106.4 -44.8h1.2v1.1h-1.2zM-108.1 -45.8h13.2v1.1h-13.2zM-88.6 -45.8h3.4v1.1h-3.4zM-77.7 -45.8h1.2v1.1h-1.2zM-75.6 -45.8h1.2v1.1h-1.2zM-72.3 -45.8h3.4v1.1h-3.4zM-67.9 -45.8h1.2v1.1h-1.2zM-65.8 -45.8h5.6v1.1h-5.6zM-8.2 -45.8h3.4v1.1h-3.4zM0.5 -45.8h1.2v1.1h-1.2zM7 -45.8h1.2v1.1h-1.2zM10.3 -45.8h1.2v1.1h-1.2zM12.4 -45.8h1.2v1.1h-1.2zM16.8 -45.8h5.6v1.1h-5.6zM23.3 -45.8h1.2v1.1h-1.2zM28.7 -45.8h2.3v1.1h-2.3zM35.3 -45.8h6.6v1.1h-6.6zM49.4 -45.8h1.2v1.1h-1.2zM54.8 -45.8h22.9v1.1h-22.9zM79.8 -45.8h6.6v1.1h-6.6zM88.5 -45.8h1.2v1.1h-1.2zM90.7 -45.8h2.3v1.1h-2.3zM95 -45.8h1.2v1.1h-1.2zM98.3 -45.8h3.4v1.1h-3.4zM-107.6 -46.8h10.9v1.1h-10.9zM-89.2 -46.8h1.2v1.1h-1.2zM-87 -46.8h2.3v1.1h-2.3zM-83.8 -46.8h2.3v1.1h-2.3zM-75.2 -46.8h2.3v1.1h-2.3zM-71.9 -46.8h10.9v1.1h-10.9zM-8.2 -46.8h3.4v1.1h-3.4zM0.5 -46.8h1.2v1.1h-1.2zM2.7 -46.8h1.2v1.1h-1.2zM7 -46.8h1.2v1.1h-1.2zM9.1 -46.8h1.2v1.1h-1.2zM35.1 -46.8h6.6v1.1h-6.6zM50.2 -46.8h7.7v1.1h-7.7zM58.8 -46.8h3.4v1.1h-3.4zM63.2 -46.8h1.2v1.1h-1.2zM65.3 -46.8h10.9v1.1h-10.9zM80.5 -46.8h7.7v1.1h-7.7zM89.1 -46.8h3.4v1.1h-3.4zM93.4 -46.8h1.2v1.1h-1.2zM95.6 -46.8h1.2v1.1h-1.2zM-107 -47.8h3.3v1.1h-3.3zM-102.7 -47.8h3.3v1.1h-3.3zM-98.4 -47.8h2.3v1.1h-2.3zM-95.2 -47.8h1.2v1.1h-1.2zM-86.6 -47.8h5.5v1.1h-5.5zM-75.8 -47.8h1.2v1.1h-1.2zM-73.7 -47.8h7.6v1.1h-7.6zM-64 -47.8h4.4v1.1h-4.4zM-0.6 -47.8h7.6v1.1h-7.6zM8 -47.8h3.3v1.1h-3.3zM32.7 -47.8h8.7v1.1h-8.7zM47.8 -47.8h8.7v1.1h-8.7zM62.8 -47.8h1.2v1.1h-1.2zM65 -47.8h9.8v1.1h-9.8zM80 -47.8h5.5v1.1h-5.5zM86.5 -47.8h1.2v1.1h-1.2zM88.6 -47.8h5.5v1.1h-5.5zM96.1 -47.8h1.2v1.1h-1.2zM112.3 -47.8h1.2v1.1h-1.2zM115.5 -47.8h1.2v1.1h-1.2zM120.9 -47.8h1.2v1.1h-1.2zM123 -47.8h1.2v1.1h-1.2zM-106.4 -48.8h9.7v1.1h-9.7zM-95.7 -48.8h1.2v1.1h-1.2zM-93.6 -48.8h1.2v1.1h-1.2zM-88.2 -48.8h2.3v1.1h-2.3zM-85 -48.8h5.5v1.1h-5.5zM-78.6 -48.8h3.3v1.1h-3.3zM-74.3 -48.8h1.2v1.1h-1.2zM-72.2 -48.8h1.2v1.1h-1.2zM-70.1 -48.8h6.5v1.1h-6.5zM-62.6 -48.8h4.4v1.1h-4.4zM-0.6 -48.8h11.9v1.1h-11.9zM19.7 -48.8h2.3v1.1h-2.3zM32.5 -48.8h6.5v1.1h-6.5zM46.4 -48.8h9.7v1.1h-9.7zM63.5 -48.8h10.8v1.1h-10.8zM79.6 -48.8h3.3v1.1h-3.3zM86 -48.8h1.2v1.1h-1.2zM88.1 -48.8h3.3v1.1h-3.3zM92.4 -48.8h3.3v1.1h-3.3zM103.1 -48.8h1.2v1.1h-1.2zM110.6 -48.8h2.3v1.1h-2.3zM120.2 -48.8h1.2v1.1h-1.2zM-105.8 -49.8h10.7v1.1h-10.7zM-93 -49.8h1.2v1.1h-1.2zM-87.7 -49.8h9.7v1.1h-9.7zM-77.1 -49.8h2.2v1.1h-2.2zM-73.9 -49.8h8.6v1.1h-8.6zM-64.4 -49.8h3.3v1.1h-3.3zM-59 -49.8h2.2v1.1h-2.2zM-54.8 -49.8h4.4v1.1h-4.4zM-0.6 -49.8h8.6v1.1h-8.6zM9 -49.8h3.3v1.1h-3.3zM17.5 -49.8h1.2v1.1h-1.2zM19.6 -49.8h6.5v1.1h-6.5zM32.4 -49.8h6.5v1.1h-6.5zM45.1 -49.8h2.2v1.1h-2.2zM49.4 -49.8h4.4v1.1h-4.4zM54.7 -49.8h1.2v1.1h-1.2zM56.8 -49.8h1.2v1.1h-1.2zM63.2 -49.8h9.7v1.1h-9.7zM73.8 -49.8h6.5v1.1h-6.5zM88.7 -49.8h1.2v1.1h-1.2zM90.8 -49.8h1.2v1.1h-1.2zM92.9 -49.8h1.2v1.1h-1.2zM100.4 -49.8h1.2v1.1h-1.2zM102.5 -49.8h9.7v1.1h-9.7zM113.1 -49.8h1.2v1.1h-1.2zM115.3 -49.8h1.2v1.1h-1.2zM-105.2 -50.8h11.7v1.1h-11.7zM-91.5 -50.8h1.2v1.1h-1.2zM-89.3 -50.8h1.2v1.1h-1.2zM-87.2 -50.8h32.9v1.1h-32.9zM-47.1 -50.8h2.2v1.1h-2.2zM-1.6 -50.8h8.6v1.1h-8.6zM8.9 -50.8h4.3v1.1h-4.3zM14.2 -50.8h1.2v1.1h-1.2zM16.3 -50.8h1.2v1.1h-1.2zM18.4 -50.8h1.2v1.1h-1.2zM20.6 -50.8h6.5v1.1h-6.5zM28 -50.8h2.2v1.1h-2.2zM32.2 -50.8h1.2v1.1h-1.2zM34.3 -50.8h1.2v1.1h-1.2zM36.4 -50.8h2.2v1.1h-2.2zM47 -50.8h1.2v1.1h-1.2zM49.1 -50.8h1.2v1.1h-1.2zM52.3 -50.8h7.5v1.1h-7.5zM61.8 -50.8h5.4v1.1h-5.4zM70.2 -50.8h11.7v1.1h-11.7zM82.9 -50.8h2.2v1.1h-2.2zM98.7 -50.8h5.4v1.1h-5.4zM105.1 -50.8h5.4v1.1h-5.4zM112.5 -50.8h1.2v1.1h-1.2zM115.7 -50.8h1.2v1.1h-1.2zM119.9 -50.8h1.2v1.1h-1.2zM-103.5 -51.8h12.7v1.1h-12.7zM-88.8 -51.8h5.4v1.1h-5.4zM-82.5 -51.8h15.9v1.1h-15.9zM-65.7 -51.8h4.3v1.1h-4.3zM-60.4 -51.8h4.3v1.1h-4.3zM-55.2 -51.8h1.2v1.1h-1.2zM-49.9 -51.8h6.4v1.1h-6.4zM1.5 -51.8h6.4v1.1h-6.4zM8.9 -51.8h6.4v1.1h-6.4zM19.4 -51.8h1.2v1.1h-1.2zM21.5 -51.8h3.3v1.1h-3.3zM30.9 -51.8h4.3v1.1h-4.3zM37.2 -51.8h1.2v1.1h-1.2zM39.3 -51.8h1.2v1.1h-1.2zM48.8 -51.8h3.3v1.1h-3.3zM53 -51.8h7.5v1.1h-7.5zM61.4 -51.8h5.4v1.1h-5.4zM67.7 -51.8h2.2v1.1h-2.2zM70.9 -51.8h16.9v1.1h-16.9zM97.1 -51.8h10.6v1.1h-10.6zM110.8 -51.8h2.2v1.1h-2.2zM115 -51.8h2.2v1.1h-2.2zM-105 -52.7h2.2v1.1h-2.2zM-101.8 -52.7h6.4v1.1h-6.4zM-93.5 -52.7h3.3v1.1h-3.3zM-88.3 -52.7h5.3v1.1h-5.3zM-82 -52.7h10.6v1.1h-10.6zM-70.5 -52.7h2.2v1.1h-2.2zM-67.4 -52.7h5.3v1.1h-5.3zM-58 -52.7h1.2v1.1h-1.2zM-54.9 -52.7h1.2v1.1h-1.2zM-48.6 -52.7h4.3v1.1h-4.3zM10.9 -52.7h3.3v1.1h-3.3zM20.3 -52.7h2.2v1.1h-2.2zM23.4 -52.7h1.2v1.1h-1.2zM30.7 -52.7h4.3v1.1h-4.3zM37 -52.7h2.2v1.1h-2.2zM40.1 -52.7h1.2v1.1h-1.2zM44.3 -52.7h1.2v1.1h-1.2zM49.5 -52.7h1.2v1.1h-1.2zM51.6 -52.7h1.2v1.1h-1.2zM55.8 -52.7h3.3v1.1h-3.3zM60 -52.7h4.3v1.1h-4.3zM65.2 -52.7h1.2v1.1h-1.2zM67.3 -52.7h1.2v1.1h-1.2zM69.4 -52.7h18.9v1.1h-18.9zM89.2 -52.7h1.2v1.1h-1.2zM92.3 -52.7h2.2v1.1h-2.2zM95.5 -52.7h3.3v1.1h-3.3zM102.8 -52.7h5.3v1.1h-5.3zM115.3 -52.7h1.2v1.1h-1.2zM118.4 -52.7h2.2v1.1h-2.2zM-105.3 -53.7h5.3v1.1h-5.3zM-98.1 -53.7h1.2v1.1h-1.2zM-93.9 -53.7h1.2v1.1h-1.2zM-91.9 -53.7h30.2v1.1h-30.2zM-47.3 -53.7h1.2v1.1h-1.2zM10.8 -53.7h2.2v1.1h-2.2zM18.1 -53.7h1.2v1.1h-1.2zM20.2 -53.7h3.2v1.1h-3.2zM49.2 -53.7h1.2v1.1h-1.2zM53.4 -53.7h7.4v1.1h-7.4zM64.8 -53.7h4.3v1.1h-4.3zM71 -53.7h1.2v1.1h-1.2zM74.1 -53.7h8.4v1.1h-8.4zM86.6 -53.7h1.2v1.1h-1.2zM88.6 -53.7h1.2v1.1h-1.2zM92.8 -53.7h1.2v1.1h-1.2zM95.9 -53.7h2.2v1.1h-2.2zM100.1 -53.7h1.2v1.1h-1.2zM102.1 -53.7h4.3v1.1h-4.3zM109.4 -53.7h1.2v1.1h-1.2zM117.7 -53.7h2.2v1.1h-2.2zM-105.7 -54.7h1.2v1.1h-1.2zM-103.6 -54.7h1.2v1.1h-1.2zM-101.6 -54.7h3.2v1.1h-3.2zM-91.3 -54.7h3.2v1.1h-3.2zM-83 -54.7h1.2v1.1h-1.2zM-75.8 -54.7h12.5v1.1h-12.5zM-61.4 -54.7h1.2v1.1h-1.2zM-53.1 -54.7h7.3v1.1h-7.3zM-4.7 -54.7h1.2v1.1h-1.2zM8.7 -54.7h2.2v1.1h-2.2zM19 -54.7h3.2v1.1h-3.2zM51 -54.7h8.4v1.1h-8.4zM70.5 -54.7h1.2v1.1h-1.2zM73.6 -54.7h1.2v1.1h-1.2zM75.7 -54.7h2.2v1.1h-2.2zM78.8 -54.7h1.2v1.1h-1.2zM86 -54.7h1.2v1.1h-1.2zM92.2 -54.7h1.2v1.1h-1.2zM97.3 -54.7h8.4v1.1h-8.4zM106.6 -54.7h1.2v1.1h-1.2zM108.7 -54.7h2.2v1.1h-2.2zM114.9 -54.7h1.2v1.1h-1.2zM116.9 -54.7h2.2v1.1h-2.2zM-105 -55.7h6.3v1.1h-6.3zM-95.7 -55.7h1.1v1.1h-1.1zM-89.6 -55.7h2.2v1.1h-2.2zM-85.5 -55.7h1.1v1.1h-1.1zM-76.3 -55.7h6.3v1.1h-6.3zM-68.1 -55.7h4.2v1.1h-4.2zM-63 -55.7h1.1v1.1h-1.1zM-54.8 -55.7h1.1v1.1h-1.1zM-52.8 -55.7h2.2v1.1h-2.2zM-48.7 -55.7h3.2v1.1h-3.2zM8.6 -55.7h2.2v1.1h-2.2zM20.9 -55.7h1.1v1.1h-1.1zM23 -55.7h1.1v1.1h-1.1zM52.7 -55.7h2.2v1.1h-2.2zM55.7 -55.7h4.2v1.1h-4.2zM66 -55.7h1.1v1.1h-1.1zM69 -55.7h1.1v1.1h-1.1zM71.1 -55.7h1.1v1.1h-1.1zM75.2 -55.7h2.2v1.1h-2.2zM79.3 -55.7h1.1v1.1h-1.1zM83.4 -55.7h5.2v1.1h-5.2zM92.6 -55.7h9.3v1.1h-9.3zM102.8 -55.7h6.3v1.1h-6.3zM110 -55.7h1.1v1.1h-1.1zM112 -55.7h5.2v1.1h-5.2zM127.4 -55.7h2.2v1.1h-2.2zM-103.2 -56.7h4.2v1.1h-4.2zM-93 -56.7h5.2v1.1h-5.2zM-85.9 -56.7h2.2v1.1h-2.2zM-82.9 -56.7h1.1v1.1h-1.1zM-75.8 -56.7h1.1v1.1h-1.1zM-73.7 -56.7h4.2v1.1h-4.2zM-67.6 -56.7h2.2v1.1h-2.2zM-63.6 -56.7h1.1v1.1h-1.1zM-52.4 -56.7h2.2v1.1h-2.2zM9.6 -56.7h1.1v1.1h-1.1zM21.8 -56.7h4.2v1.1h-4.2zM50.3 -56.7h1.1v1.1h-1.1zM57.4 -56.7h2.2v1.1h-2.2zM60.4 -56.7h1.1v1.1h-1.1zM68.5 -56.7h1.1v1.1h-1.1zM71.6 -56.7h1.1v1.1h-1.1zM73.6 -56.7h3.2v1.1h-3.2zM81.8 -56.7h4.2v1.1h-4.2zM86.8 -56.7h1.1v1.1h-1.1zM88.9 -56.7h2.2v1.1h-2.2zM91.9 -56.7h2.2v1.1h-2.2zM95 -56.7h5.2v1.1h-5.2zM101.1 -56.7h4.2v1.1h-4.2zM106.1 -56.7h1.1v1.1h-1.1zM108.2 -56.7h7.2v1.1h-7.2zM126.5 -56.7h1.1v1.1h-1.1zM-107.5 -57.6h2.1v1.1h-2.1zM-104.5 -57.6h15.3v1.1h-15.3zM-88.3 -57.6h3.1v1.1h-3.1zM-82.3 -57.6h2.1v1.1h-2.1zM-79.2 -57.6h1.1v1.1h-1.1zM-77.2 -57.6h1.1v1.1h-1.1zM-73.2 -57.6h1.1v1.1h-1.1zM-70.2 -57.6h4.2v1.1h-4.2zM-64.1 -57.6h1.1v1.1h-1.1zM-62.1 -57.6h9.2v1.1h-9.2zM-52 -57.6h1.1v1.1h-1.1zM-50 -57.6h1.1v1.1h-1.1zM-7.6 -57.6h3.1v1.1h-3.1zM-3.6 -57.6h2.1v1.1h-2.1zM-0.6 -57.6h1.1v1.1h-1.1zM9.5 -57.6h1.1v1.1h-1.1zM11.6 -57.6h2.1v1.1h-2.1zM15.6 -57.6h10.2v1.1h-10.2zM46.9 -57.6h1.1v1.1h-1.1zM55.9 -57.6h1.1v1.1h-1.1zM59 -57.6h2.1v1.1h-2.1zM73.1 -57.6h2.1v1.1h-2.1zM80.1 -57.6h8.2v1.1h-8.2zM90.2 -57.6h2.1v1.1h-2.1zM93.3 -57.6h15.3v1.1h-15.3zM109.4 -57.6h3.1v1.1h-3.1zM126.6 -57.6h1.1v1.1h-1.1zM128.6 -57.6h1.1v1.1h-1.1zM-106.7 -58.6h1.1v1.1h-1.1zM-104.7 -58.6h3.1v1.1h-3.1zM-98.7 -58.6h7.1v1.1h-7.1zM-89.7 -58.6h1.1v1.1h-1.1zM-87.7 -58.6h11.1v1.1h-11.1zM-74.6 -58.6h1.1v1.1h-1.1zM-68.6 -58.6h2.1v1.1h-2.1zM-63.6 -58.6h2.1v1.1h-2.1zM-59.6 -58.6h12.1v1.1h-12.1zM-7.6 -58.6h3.1v1.1h-3.1zM-1.6 -58.6h1.1v1.1h-1.1zM12.5 -58.6h2.1v1.1h-2.1zM15.5 -58.6h11.1v1.1h-11.1zM39.5 -58.6h1.1v1.1h-1.1zM41.5 -58.6h1.1v1.1h-1.1zM49.5 -58.6h1.1v1.1h-1.1zM51.5 -58.6h2.1v1.1h-2.1zM54.5 -58.6h4.1v1.1h-4.1zM66.5 -58.6h2.1v1.1h-2.1zM72.5 -58.6h3.1v1.1h-3.1zM78.5 -58.6h7.1v1.1h-7.1zM92.6 -58.6h5.1v1.1h-5.1zM98.6 -58.6h1.1v1.1h-1.1zM100.6 -58.6h3.1v1.1h-3.1zM105.6 -58.6h4.1v1.1h-4.1zM124.6 -58.6h1.1v1.1h-1.1zM126.6 -58.6h3.1v1.1h-3.1zM-130.7 -59.6h2.1v1.1h-2.1zM-104.9 -59.6h1.1v1.1h-1.1zM-98.9 -59.6h3.1v1.1h-3.1zM-94.9 -59.6h5.1v1.1h-5.1zM-88 -59.6h14v1.1h-14zM-69.1 -59.6h4.1v1.1h-4.1zM-59.2 -59.6h9.1v1.1h-9.1zM-49.2 -59.6h2.1v1.1h-2.1zM-6.5 -59.6h4.1v1.1h-4.1zM-1.5 -59.6h1.1v1.1h-1.1zM16.3 -59.6h4.1v1.1h-4.1zM21.3 -59.6h4.1v1.1h-4.1zM35.2 -59.6h2.1v1.1h-2.1zM38.2 -59.6h3.1v1.1h-3.1zM49.1 -59.6h5.1v1.1h-5.1zM55.1 -59.6h3.1v1.1h-3.1zM61 -59.6h1.1v1.1h-1.1zM64 -59.6h3.1v1.1h-3.1zM73 -59.6h1.1v1.1h-1.1zM76.9 -59.6h1.1v1.1h-1.1zM78.9 -59.6h1.1v1.1h-1.1zM82.9 -59.6h3.1v1.1h-3.1zM90.8 -59.6h4.1v1.1h-4.1zM95.8 -59.6h9.1v1.1h-9.1zM106.7 -59.6h3.1v1.1h-3.1zM125.6 -59.6h4.1v1.1h-4.1zM-104 -60.5h2.1v1.1h-2.1zM-99.1 -60.5h4.1v1.1h-4.1zM-94.2 -60.5h3.1v1.1h-3.1zM-89.2 -60.5h3.1v1.1h-3.1zM-85.3 -60.5h5v1.1h-5zM-79.4 -60.5h2.1v1.1h-2.1zM-76.4 -60.5h1.1v1.1h-1.1zM-60.7 -60.5h1.1v1.1h-1.1zM-57.7 -60.5h7v1.1h-7zM-4.5 -60.5h3.1v1.1h-3.1zM10.3 -60.5h2.1v1.1h-2.1zM16.2 -60.5h2.1v1.1h-2.1zM20.2 -60.5h2.1v1.1h-2.1zM23.1 -60.5h1.1v1.1h-1.1zM26.1 -60.5h1.1v1.1h-1.1zM28 -60.5h4.1v1.1h-4.1zM35.9 -60.5h4.1v1.1h-4.1zM40.8 -60.5h1.1v1.1h-1.1zM46.8 -60.5h1.1v1.1h-1.1zM52.7 -60.5h4.1v1.1h-4.1zM71.4 -60.5h3.1v1.1h-3.1zM75.3 -60.5h1.1v1.1h-1.1zM77.3 -60.5h1.1v1.1h-1.1zM83.2 -60.5h2.1v1.1h-2.1zM86.2 -60.5h1.1v1.1h-1.1zM88.1 -60.5h1.1v1.1h-1.1zM90.1 -60.5h3.1v1.1h-3.1zM97 -60.5h11v1.1h-11zM124.6 -60.5h3.1v1.1h-3.1zM-120.8 -61.5h2.1v1.1h-2.1zM-104.1 -61.5h4v1.1h-4zM-91.4 -61.5h1.1v1.1h-1.1zM-86.5 -61.5h1.1v1.1h-1.1zM-81.7 -61.5h3.1v1.1h-3.1zM-77.8 -61.5h1.1v1.1h-1.1zM-54.3 -61.5h5v1.1h-5zM-3.5 -61.5h2.1v1.1h-2.1zM9.2 -61.5h2.1v1.1h-2.1zM12.2 -61.5h1.1v1.1h-1.1zM16.1 -61.5h7v1.1h-7zM23.9 -61.5h1.1v1.1h-1.1zM26.8 -61.5h4v1.1h-4zM34.6 -61.5h5v1.1h-5zM48.3 -61.5h1.1v1.1h-1.1zM52.2 -61.5h1.1v1.1h-1.1zM54.2 -61.5h2.1v1.1h-2.1zM57.1 -61.5h1.1v1.1h-1.1zM59.1 -61.5h2.1v1.1h-2.1zM63 -61.5h1.1v1.1h-1.1zM71.8 -61.5h6v1.1h-6zM79.6 -61.5h1.1v1.1h-1.1zM81.6 -61.5h2.1v1.1h-2.1zM87.4 -61.5h5v1.1h-5zM95.2 -61.5h5v1.1h-5zM104 -61.5h5v1.1h-5zM125.5 -61.5h2.1v1.1h-2.1zM-121.7 -62.4h2.1v1.1h-2.1zM-105.2 -62.4h3v1.1h-3zM-98.4 -62.4h1.1v1.1h-1.1zM-82.9 -62.4h1.1v1.1h-1.1zM-81 -62.4h4v1.1h-4zM-75.2 -62.4h2.1v1.1h-2.1zM-60.6 -62.4h2.1v1.1h-2.1zM-52.9 -62.4h1.1v1.1h-1.1zM-50.9 -62.4h2.1v1.1h-2.1zM-4.4 -62.4h2.1v1.1h-2.1zM9.2 -62.4h4v1.1h-4zM20.8 -62.4h18.5v1.1h-18.5zM41.1 -62.4h1.1v1.1h-1.1zM47 -62.4h1.1v1.1h-1.1zM54.7 -62.4h2.1v1.1h-2.1zM57.6 -62.4h6.9v1.1h-6.9zM70.2 -62.4h4v1.1h-4zM75.1 -62.4h1.1v1.1h-1.1zM78 -62.4h1.1v1.1h-1.1zM79.9 -62.4h1.1v1.1h-1.1zM82.8 -62.4h1.1v1.1h-1.1zM88.6 -62.4h1.1v1.1h-1.1zM91.5 -62.4h6.9v1.1h-6.9zM106.1 -62.4h1.1v1.1h-1.1zM109 -62.4h1.1v1.1h-1.1zM123.5 -62.4h3v1.1h-3zM-123.5 -63.3h1.1v1.1h-1.1zM-121.6 -63.3h1.1v1.1h-1.1zM-105.3 -63.3h2v1.1h-2zM-97.6 -63.3h1.1v1.1h-1.1zM-82.2 -63.3h2v1.1h-2zM-79.3 -63.3h6.8v1.1h-6.8zM-60.1 -63.3h4v1.1h-4zM-50.5 -63.3h2v1.1h-2zM-3.4 -63.3h1.1v1.1h-1.1zM4.3 -63.3h1.1v1.1h-1.1zM8.1 -63.3h2v1.1h-2zM11 -63.3h3v1.1h-3zM19.6 -63.3h1.1v1.1h-1.1zM21.6 -63.3h1.1v1.1h-1.1zM25.4 -63.3h4v1.1h-4zM30.2 -63.3h1.1v1.1h-1.1zM32.1 -63.3h3v1.1h-3zM36 -63.3h3v1.1h-3zM40.8 -63.3h1.1v1.1h-1.1zM55.2 -63.3h1.1v1.1h-1.1zM57.1 -63.3h3v1.1h-3zM68.7 -63.3h1.1v1.1h-1.1zM71.5 -63.3h1.1v1.1h-1.1zM74.4 -63.3h1.1v1.1h-1.1zM79.2 -63.3h2v1.1h-2zM85 -63.3h2v1.1h-2zM91.7 -63.3h4.9v1.1h-4.9zM102.3 -63.3h1.1v1.1h-1.1zM104.2 -63.3h3v1.1h-3zM108.1 -63.3h3v1.1h-3zM122.5 -63.3h4v1.1h-4zM-123.4 -64.3h2v1.1h-2zM-108.2 -64.3h2v1.1h-2zM-105.3 -64.3h1.1v1.1h-1.1zM-102.4 -64.3h1.1v1.1h-1.1zM-79.6 -64.3h7.7v1.1h-7.7zM-58.6 -64.3h5.8v1.1h-5.8zM-50.1 -64.3h1.1v1.1h-1.1zM-34.8 -64.3h2v1.1h-2zM3.3 -64.3h11.6v1.1h-11.6zM16.6 -64.3h3.9v1.1h-3.9zM21.4 -64.3h2v1.1h-2zM24.2 -64.3h9.6v1.1h-9.6zM36.6 -64.3h1.1v1.1h-1.1zM52.8 -64.3h3v1.1h-3zM56.6 -64.3h3.9v1.1h-3.9zM69 -64.3h1.1v1.1h-1.1zM70.9 -64.3h1.1v1.1h-1.1zM73.8 -64.3h1.1v1.1h-1.1zM78.5 -64.3h3v1.1h-3zM91.9 -64.3h1.1v1.1h-1.1zM93.8 -64.3h1.1v1.1h-1.1zM101.4 -64.3h6.8v1.1h-6.8zM110 -64.3h2v1.1h-2zM112.8 -64.3h1.1v1.1h-1.1zM121.4 -64.3h2v1.1h-2zM124.3 -64.3h3.9v1.1h-3.9zM-125.1 -65.2h3v1h-3zM-121.4 -65.2h1.1v1h-1.1zM-110 -65.2h2v1h-2zM-106.3 -65.2h1.1v1h-1.1zM-104.4 -65.2h1.1v1h-1.1zM-77.9 -65.2h6.7v1h-6.7zM-59.1 -65.2h3.9v1h-3.9zM-53.4 -65.2h1.1v1h-1.1zM-35.5 -65.2h3.9v1h-3.9zM4.2 -65.2h4.8v1h-4.8zM9.9 -65.2h2v1h-2zM15.5 -65.2h2v1h-2zM19.3 -65.2h2v1h-2zM22.1 -65.2h2v1h-2zM25 -65.2h1.1v1h-1.1zM27.8 -65.2h3v1h-3zM35.4 -65.2h1.1v1h-1.1zM51.4 -65.2h3v1h-3zM58 -65.2h1.1v1h-1.1zM59.9 -65.2h1.1v1h-1.1zM68.4 -65.2h3v1h-3zM77.8 -65.2h4.8v1h-4.8zM83.5 -65.2h2v1h-2zM87.3 -65.2h1.1v1h-1.1zM90.1 -65.2h2v1h-2zM92.9 -65.2h1.1v1h-1.1zM98.6 -65.2h1.1v1h-1.1zM100.5 -65.2h5.8v1h-5.8zM109 -65.2h1.1v1h-1.1zM110.9 -65.2h1.1v1h-1.1zM116.5 -65.2h1.1v1h-1.1zM121.3 -65.2h7.7v1h-7.7zM-119.3 -66.1h1.1v1h-1.1zM-77.2 -66.1h6.7v1h-6.7zM-57.6 -66.1h2v1h-2zM-54.8 -66.1h1.1v1h-1.1zM-36.1 -66.1h4.8v1h-4.8zM3.2 -66.1h2v1h-2zM6 -66.1h7.6v1h-7.6zM15.4 -66.1h2v1h-2zM18.2 -66.1h8.5v1h-8.5zM28.5 -66.1h2v1h-2zM45.3 -66.1h1.1v1h-1.1zM49.1 -66.1h1.1v1h-1.1zM50.9 -66.1h2v1h-2zM54.7 -66.1h4.8v1h-4.8zM69.6 -66.1h2v1h-2zM79 -66.1h2v1h-2zM86.5 -66.1h3.9v1h-3.9zM98.6 -66.1h1.1v1h-1.1zM103.3 -66.1h1.1v1h-1.1zM118.3 -66.1h5.7v1h-5.7zM124.8 -66.1h2.9v1h-2.9zM-115.4 -67h1v1h-1zM-111.7 -67h1v1h-1zM-98.7 -67h1v1h-1zM-82.1 -67h1v1h-1zM-76.5 -67h7.5v1h-7.5zM-62.6 -67h1v1h-1zM-51.5 -67h2.9v1h-2.9zM-32.9 -67h2v1h-2zM4.1 -67h6.6v1h-6.6zM11.5 -67h2.9v1h-2.9zM15.2 -67h2.9v1h-2.9zM19.9 -67h2.9v1h-2.9zM23.6 -67h1v1h-1zM28.2 -67h2.9v1h-2.9zM46.7 -67h1v1h-1zM48.6 -67h1v1h-1zM51.4 -67h2v1h-2zM54.2 -67h1v1h-1zM56 -67h1v1h-1zM69.9 -67h1v1h-1zM87.5 -67h1v1h-1zM109.8 -67h1v1h-1zM113.5 -67h6.6v1h-6.6zM121.8 -67h3.8v1h-3.8zM128.3 -67h3.8v1h-3.8zM-118 -67.9h1v1h-1zM-86.8 -67.9h1v1h-1zM-76.7 -67.9h2v1h-2zM-72.1 -67.9h2v1h-2zM-62 -67.9h2.9v1h-2.9zM-53.7 -67.9h2.9v1h-2.9zM-49.2 -67.9h2v1h-2zM-36.3 -67.9h1v1h-1zM-31.7 -67.9h1v1h-1zM-16.1 -67.9h1v1h-1zM-14.3 -67.9h1v1h-1zM5.9 -67.9h2.9v1h-2.9zM9.6 -67.9h1v1h-1zM12.3 -67.9h1v1h-1zM16 -67.9h1v1h-1zM20.6 -67.9h2.9v1h-2.9zM27.9 -67.9h3.8v1h-3.8zM45.4 -67.9h7.5v1h-7.5zM53.6 -67.9h2.9v1h-2.9zM106.9 -67.9h11.1v1h-11.1zM118.8 -67.9h1v1h-1zM120.7 -67.9h2.9v1h-2.9zM128.9 -67.9h2v1h-2zM-127.8 -68.8h1.9v1h-1.9zM-118.7 -68.8h5.6v1h-5.6zM-111.4 -68.8h1v1h-1zM-107.8 -68.8h1.9v1h-1.9zM-86.9 -68.8h3.8v1h-3.8zM-77.8 -68.8h1v1h-1zM-76 -68.8h1.9v1h-1.9zM-71.4 -68.8h1.9v1h-1.9zM-68.7 -68.8h1.9v1h-1.9zM-62.3 -68.8h3.8v1h-3.8zM-56.9 -68.8h1v1h-1zM-55 -68.8h4.7v1h-4.7zM-47.8 -68.8h1v1h-1zM-37.8 -68.8h1.9v1h-1.9zM-30.5 -68.8h1.9v1h-1.9zM-16.9 -68.8h1.9v1h-1.9zM-14.1 -68.8h1v1h-1zM7.7 -68.8h4.7v1h-4.7zM13.1 -68.8h2.8v1h-2.8zM19.5 -68.8h1v1h-1zM21.3 -68.8h1v1h-1zM24 -68.8h1.9v1h-1.9zM26.8 -68.8h1.9v1h-1.9zM44 -68.8h5.6v1h-5.6zM51.3 -68.8h2.8v1h-2.8zM54.9 -68.8h1v1h-1zM83.1 -68.8h1v1h-1zM90.4 -68.8h1v1h-1zM104.9 -68.8h4.7v1h-4.7zM110.4 -68.8h1.9v1h-1.9zM116.8 -68.8h6.5v1h-6.5zM124.9 -68.8h1v1h-1zM-130.1 -69.7h3.7v1h-3.7zM-118.4 -69.7h5.5v1h-5.5zM-112.1 -69.7h1v1h-1zM-104 -69.7h1v1h-1zM-86.9 -69.7h2.8v1h-2.8zM-83.3 -69.7h1.9v1h-1.9zM-77 -69.7h1.9v1h-1.9zM-74.3 -69.7h1v1h-1zM-69.8 -69.7h3.7v1h-3.7zM-65.3 -69.7h1v1h-1zM-56.3 -69.7h1.9v1h-1.9zM-53.6 -69.7h6.4v1h-6.4zM-45.5 -69.7h1v1h-1zM-38.3 -69.7h1.9v1h-1.9zM-30.2 -69.7h1.9v1h-1.9zM-27.5 -69.7h1.9v1h-1.9zM-15.8 -69.7h1.9v1h-1.9zM8.5 -69.7h1v1h-1zM10.3 -69.7h1.9v1h-1.9zM13 -69.7h3.7v1h-3.7zM17.5 -69.7h1.9v1h-1.9zM21.1 -69.7h2.8v1h-2.8zM29.2 -69.7h1v1h-1zM31 -69.7h1.9v1h-1.9zM44.5 -69.7h1v1h-1zM46.3 -69.7h8.2v1h-8.2zM66.1 -69.7h1v1h-1zM69.7 -69.7h1v1h-1zM81.4 -69.7h3.7v1h-3.7zM100.3 -69.7h1v1h-1zM102.1 -69.7h1v1h-1zM103.9 -69.7h1v1h-1zM105.7 -69.7h1v1h-1zM108.4 -69.7h1.9v1h-1.9zM117.4 -69.7h5.5v1h-5.5zM128.2 -69.7h1v1h-1zM-127.9 -70.6h1.9v1h-1.9zM-119 -70.6h6.4v1h-6.4zM-111.9 -70.6h1v1h-1zM-109.2 -70.6h1v1h-1zM-106.5 -70.6h1v1h-1zM-104.7 -70.6h1v1h-1zM-101.2 -70.6h1v1h-1zM-94.1 -70.6h1v1h-1zM-84.2 -70.6h4.6v1h-4.6zM-78 -70.6h1v1h-1zM-76.2 -70.6h2.8v1h-2.8zM-72.7 -70.6h1.9v1h-1.9zM-68.2 -70.6h1.9v1h-1.9zM-65.5 -70.6h1.9v1h-1.9zM-53.1 -70.6h2.8v1h-2.8zM-49.5 -70.6h5.5v1h-5.5zM-37 -70.6h1v1h-1zM-15.6 -70.6h1v1h-1zM-13 -70.6h1v1h-1zM8.4 -70.6h5.5v1h-5.5zM15.5 -70.6h3.7v1h-3.7zM21.8 -70.6h1.9v1h-1.9zM28 -70.6h1v1h-1zM30.7 -70.6h1.9v1h-1.9zM43.2 -70.6h3.7v1h-3.7zM47.6 -70.6h1v1h-1zM49.4 -70.6h1v1h-1zM51.2 -70.6h2.8v1h-2.8zM61 -70.6h1v1h-1zM80.6 -70.6h6.4v1h-6.4zM89.5 -70.6h1v1h-1zM96.6 -70.6h3.7v1h-3.7zM101.1 -70.6h1.9v1h-1.9zM104.6 -70.6h1.9v1h-1.9zM107.3 -70.6h1.9v1h-1.9zM116.2 -70.6h4.6v1h-4.6zM126 -70.6h1v1h-1zM-114.2 -71.5h1v1h-1zM-109 -71.5h1v1h-1zM-107.2 -71.5h3.6v1h-3.6zM-101 -71.5h1v1h-1zM-94.8 -71.5h2.8v1h-2.8zM-81.6 -71.5h5.4v1h-5.4zM-75.4 -71.5h6.3v1h-6.3zM-68.4 -71.5h5.4v1h-5.4zM-61.3 -71.5h1v1h-1zM-51.6 -71.5h5.4v1h-5.4zM-45.5 -71.5h1v1h-1zM-36.6 -71.5h1v1h-1zM9.2 -71.5h6.3v1h-6.3zM16.3 -71.5h1v1h-1zM24.2 -71.5h1v1h-1zM26.8 -71.5h1.9v1h-1.9zM31.3 -71.5h2.8v1h-2.8zM42.7 -71.5h3.6v1h-3.6zM47.1 -71.5h1v1h-1zM48.9 -71.5h5.4v1h-5.4zM55.1 -71.5h1v1h-1zM58.6 -71.5h1v1h-1zM75.3 -71.5h1v1h-1zM78 -71.5h1v1h-1zM80.6 -71.5h1.9v1h-1.9zM83.3 -71.5h2.8v1h-2.8zM91.2 -71.5h1.9v1h-1.9zM93.9 -71.5h1v1h-1zM97.4 -71.5h5.4v1h-5.4zM104.4 -71.5h1v1h-1zM111.5 -71.5h1.9v1h-1.9zM114.1 -71.5h1v1h-1zM115.9 -71.5h2.8v1h-2.8zM-123.5 -72.3h1v1h-1zM-115.7 -72.3h1v1h-1zM-109.6 -72.3h1v1h-1zM-106.9 -72.3h1v1h-1zM-105.2 -72.3h1v1h-1zM-98.2 -72.3h1v1h-1zM-94.7 -72.3h4.5v1h-4.5zM-87.7 -72.3h1v1h-1zM-85.1 -72.3h1v1h-1zM-83.4 -72.3h1v1h-1zM-81.6 -72.3h1.9v1h-1.9zM-79 -72.3h2.7v1h-2.7zM-68.5 -72.3h1.9v1h-1.9zM-65.9 -72.3h1.9v1h-1.9zM-63.3 -72.3h1v1h-1zM-61.6 -72.3h1v1h-1zM-59 -72.3h1v1h-1zM-53.7 -72.3h1.9v1h-1.9zM-51.1 -72.3h3.6v1h-3.6zM-46.7 -72.3h1v1h-1zM-23.2 -72.3h2.7v1h-2.7zM10 -72.3h5.4v1h-5.4zM16.1 -72.3h1.9v1h-1.9zM30.9 -72.3h1v1h-1zM34.4 -72.3h1v1h-1zM43.1 -72.3h1v1h-1zM48.4 -72.3h1v1h-1zM50.1 -72.3h1.9v1h-1.9zM54.5 -72.3h1v1h-1zM56.2 -72.3h2.7v1h-2.7zM73.7 -72.3h1v1h-1zM78 -72.3h1v1h-1zM79.8 -72.3h5.4v1h-5.4zM86.8 -72.3h1v1h-1zM91.1 -72.3h1.9v1h-1.9zM95.5 -72.3h7.1v1h-7.1zM110.3 -72.3h1v1h-1zM112.1 -72.3h5.4v1h-5.4zM120.8 -72.3h2.7v1h-2.7zM-107.5 -73.2h1v1h-1zM-105.8 -73.2h1v1h-1zM-103.2 -73.2h1v1h-1zM-92.8 -73.2h6.2v1h-6.2zM-85.9 -73.2h1v1h-1zM-81.6 -73.2h6.2v1h-6.2zM-74.7 -73.2h4.4v1h-4.4zM-65.2 -73.2h1v1h-1zM-52.3 -73.2h1.8v1h-1.8zM-48.8 -73.2h1.8v1h-1.8zM-36.7 -73.2h1.8v1h-1.8zM-22.9 -73.2h1v1h-1zM-20.3 -73.2h1v1h-1zM11.6 -73.2h5.3v1h-5.3zM17.6 -73.2h1v1h-1zM46.1 -73.2h1v1h-1zM47.9 -73.2h1.8v1h-1.8zM51.3 -73.2h6.2v1h-6.2zM60.8 -73.2h1.8v1h-1.8zM79.8 -73.2h6.2v1h-6.2zM91 -73.2h3.6v1h-3.6zM95.3 -73.2h1.8v1h-1.8zM99.7 -73.2h1v1h-1zM101.4 -73.2h1.8v1h-1.8zM107.4 -73.2h1v1h-1zM110 -73.2h7v1h-7zM-109.8 -74h1.8v1h-1.8zM-105.5 -74h1v1h-1zM-103.8 -74h4.4v1h-4.4zM-89.3 -74h2.7v1h-2.7zM-79.9 -74h6.9v1h-6.9zM-72.2 -74h3.5v1h-3.5zM-55.1 -74h1v1h-1zM-53.4 -74h2.7v1h-2.7zM-49.1 -74h2.7v1h-2.7zM-37.2 -74h2.7v1h-2.7zM-21 -74h1.8v1h-1.8zM14 -74h2.7v1h-2.7zM45.6 -74h3.5v1h-3.5zM50.7 -74h4.4v1h-4.4zM55.9 -74h3.5v1h-3.5zM60.1 -74h2.7v1h-2.7zM63.6 -74h1v1h-1zM74.6 -74h1.8v1h-1.8zM77.2 -74h1.8v1h-1.8zM81.5 -74h1.8v1h-1.8zM89.2 -74h2.7v1h-2.7zM92.6 -74h2.7v1h-2.7zM96.8 -74h1v1h-1zM100.3 -74h1v1h-1zM102 -74h3.5v1h-3.5zM106.2 -74h2.7v1h-2.7zM113.9 -74h1v1h-1zM-105.1 -74.9h2.7v1h-2.7zM-77.3 -74.9h1.8v1h-1.8zM-74.7 -74.9h4.3v1h-4.3zM-65.5 -74.9h1v1h-1zM-55.3 -74.9h2.7v1h-2.7zM-52 -74.9h1.8v1h-1.8zM-48.6 -74.9h1v1h-1zM-37.6 -74.9h1.8v1h-1.8zM-15.7 -74.9h1v1h-1zM45.1 -74.9h2.7v1h-2.7zM51 -74.9h1.8v1h-1.8zM56.1 -74.9h2.7v1h-2.7zM60.3 -74.9h1v1h-1zM62 -74.9h1v1h-1zM69.6 -74.9h6v1h-6zM77.2 -74.9h1v1h-1zM83.9 -74.9h4.3v1h-4.3zM89 -74.9h1v1h-1zM90.7 -74.9h4.3v1h-4.3zM102.5 -74.9h3.5v1h-3.5zM120.2 -74.9h1v1h-1zM-79.7 -75.7h1v0.9h-1zM-78 -75.7h1v0.9h-1zM-76.4 -75.7h1.8v0.9h-1.8zM-73 -75.7h1.8v0.9h-1.8zM-70.5 -75.7h1v0.9h-1zM-67.2 -75.7h1v0.9h-1zM-56.4 -75.7h1v0.9h-1zM-53.9 -75.7h5.1v0.9h-5.1zM-37.2 -75.7h1v0.9h-1zM-16.3 -75.7h1.8v0.9h-1.8zM44.6 -75.7h1.8v0.9h-1.8zM47.9 -75.7h1v0.9h-1zM50.4 -75.7h1v0.9h-1zM52.1 -75.7h1v0.9h-1zM56.3 -75.7h1v0.9h-1zM67.9 -75.7h3.5v0.9h-3.5zM73.8 -75.7h1v0.9h-1zM82.1 -75.7h1v0.9h-1zM84.6 -75.7h1.8v0.9h-1.8zM93 -75.7h1v0.9h-1zM-82.9 -76.5h0.9v0.9h-0.9zM-81.2 -76.5h2.6v0.9h-2.6zM-77.9 -76.5h1.8v0.9h-1.8zM-74.6 -76.5h1.8v0.9h-1.8zM-70.5 -76.5h0.9v0.9h-0.9zM-62.3 -76.5h1.8v0.9h-1.8zM-56.5 -76.5h3.4v0.9h-3.4zM-52.4 -76.5h1.8v0.9h-1.8zM-36.7 -76.5h1.8v0.9h-1.8zM-16.1 -76.5h0.9v0.9h-0.9zM45.7 -76.5h0.9v0.9h-0.9zM53.1 -76.5h3.4v0.9h-3.4zM70.4 -76.5h1.8v0.9h-1.8zM80.3 -76.5h0.9v0.9h-0.9zM81.9 -76.5h2.6v0.9h-2.6zM-80.2 -77.3h3.4v0.9h-3.4zM-63.1 -77.3h3.4v0.9h-3.4zM-55.8 -77.3h3.4v0.9h-3.4zM-35.4 -77.3h0.9v0.9h-0.9zM-15.9 -77.3h2.6v0.9h-2.6zM79.3 -77.3h0.9v0.9h-0.9zM-71.9 -78.1h1.7v0.9h-1.7zM-68.7 -78.1h0.9v0.9h-0.9zM-59 -78.1h0.9v0.9h-0.9zM-55.8 -78.1h4.9v0.9h-4.9zM-38.2 -78.1h3.3v0.9h-3.3zM-14.9 -78.1h1.7v0.9h-1.7zM37.3 -78.1h0.9v0.9h-0.9zM63 -78.1h0.9v0.9h-0.9zM71 -78.1h0.9v0.9h-0.9zM89.4 -78.1h0.9v0.9h-0.9zM91.9 -78.1h0.9v0.9h-0.9zM-74.1 -78.9h1.7v0.9h-1.7zM-69.3 -78.9h1.7v0.9h-1.7zM-63.8 -78.9h2.5v0.9h-2.5zM-58.2 -78.9h0.9v0.9h-0.9zM-54.3 -78.9h3.3v0.9h-3.3zM-43.2 -78.9h2.5v0.9h-2.5zM-36.1 -78.9h0.9v0.9h-0.9zM-13.9 -78.9h1.7v0.9h-1.7zM39.1 -78.9h2.5v0.9h-2.5zM63.7 -78.9h1.7v0.9h-1.7zM66 -78.9h0.9v0.9h-0.9zM67.6 -78.9h0.9v0.9h-0.9zM69.2 -78.9h1.7v0.9h-1.7zM89.8 -78.9h0.9v0.9h-0.9zM92.2 -78.9h0.9v0.9h-0.9zM93.7 -78.9h0.9v0.9h-0.9zM-63.6 -79.7h1.7v0.9h-1.7zM-54.3 -79.7h0.9v0.9h-0.9zM-52.7 -79.7h4v0.9h-4zM-44.1 -79.7h1.7v0.9h-1.7zM-41 -79.7h0.9v0.9h-0.9zM-13.7 -79.7h0.9v0.9h-0.9zM9.7 -79.7h0.9v0.9h-0.9zM38.6 -79.7h0.9v0.9h-0.9zM40.1 -79.7h1.7v0.9h-1.7zM62 -79.7h2.5v0.9h-2.5zM65.1 -79.7h4v0.9h-4zM-52.7 -80.4h2.4v0.9h-2.4zM-49.6 -80.4h2.4v0.9h-2.4zM-43.5 -80.4h0.9v0.9h-0.9zM-41.9 -80.4h0.9v0.9h-0.9zM-40.4 -80.4h1.7v0.9h-1.7zM-38.1 -80.4h0.9v0.9h-0.9zM-12 -80.4h0.9v0.9h-0.9zM8 -80.4h3.2v0.9h-3.2zM11.9 -80.4h3.2v0.9h-3.2zM61 -80.4h0.9v0.9h-0.9zM-57.2 -81.2h0.9v0.8h-0.9zM-54.9 -81.2h0.9v0.8h-0.9zM-51.9 -81.2h6.9v0.8h-6.9zM-42 -81.2h3.1v0.8h-3.1zM-11.8 -81.2h0.9v0.8h-0.9zM6.4 -81.2h1.6v0.8h-1.6zM8.6 -81.2h4.7v0.8h-4.7zM61.6 -81.2h1.6v0.8h-1.6zM-57.7 -81.9h3.1v0.8h-3.1zM-51.8 -81.9h0.9v0.8h-0.9zM-50.3 -81.9h4.6v0.8h-4.6zM-45.1 -81.9h0.9v0.8h-0.9zM-39.9 -81.9h3.8v0.8h-3.8zM-10.8 -81.9h0.9v0.8h-0.9zM6.3 -81.9h9.1v0.8h-9.1zM-55.4 -82.5h3.8v0.8h-3.8zM-51 -82.5h8.2v0.8h-8.2zM-39.3 -82.5h2.3v0.8h-2.3zM-11.4 -82.5h0.9v0.8h-0.9zM-9.9 -82.5h1.6v0.8h-1.6zM27.4 -82.5h3.1v0.8h-3.1zM-53.1 -83.2h6.6v0.8h-6.6zM-45.9 -83.2h2.3v0.8h-2.3zM-43 -83.2h0.8v0.8h-0.8zM-40.8 -83.2h0.8v0.8h-0.8zM-37.9 -83.2h2.3v0.8h-2.3zM-25.7 -83.2h3.7v0.8h-3.7zM-20.6 -83.2h1.6v0.8h-1.6zM-17.7 -83.2h4.4v0.8h-4.4zM-12 -83.2h1.6v0.8h-1.6zM-8.3 -83.2h0.8v0.8h-0.8zM-50.1 -83.8h1.5v0.7h-1.5zM-47.3 -83.8h0.8v0.7h-0.8zM-45.9 -83.8h6.5v0.7h-6.5zM-37.3 -83.8h2.3v0.7h-2.3zM-30.9 -83.8h0.8v0.7h-0.8zM-28.8 -83.8h0.8v0.7h-0.8zM-24.6 -83.8h3.7v0.7h-3.7zM-20.3 -83.8h3.7v0.7h-3.7zM-16 -83.8h3v0.7h-3zM-24.2 -84.3h0.8v0.7h-0.8zM-20.7 -84.3h1.5v0.7h-1.5zM-18.6 -84.3h0.8v0.7h-0.8zM-17.2 -84.3h1.5v0.7h-1.5z"/><path fill="#ffd228" d="M-58 48.7h1.2v1.1h-1.2zM-62.9 46.7h1.2v1.1h-1.2zM108.4 30.4h1.3v1.1h-1.3zM110.7 30.4h1.3v1.1h-1.3zM-55.2 25.4h1.3v1.1h-1.3zM13.3 24.4h1.3v1.1h-1.3zM-59.1 21.3h1.3v1.1h-1.3zM-60.5 19.3h1.3v1.1h-1.3zM124.4 15.2h1.3v1.1h-1.3zM-72.8 13.2h1.3v1.1h-1.3zM12.4 12.2h1.3v1.1h-1.3zM-70.6 10.1h1.3v1.1h-1.3zM-68.2 10.1h1.3v1.1h-1.3zM-70.6 9.1h1.3v1.1h-1.3zM37.3 9.1h1.3v1.1h-1.3zM-35.1 7.1h1.3v1.1h-1.3zM-55.4 2h2.5v1.1h-2.5zM125.6 1h1.3v1.1h-1.3zM44.5 -9.2h2.5v1.1h-2.5zM-3 -11.2h1.3v1.1h-1.3zM-5.4 -12.3h1.3v1.1h-1.3zM-3 -12.3h4.9v1.1h-4.9zM-3 -13.3h1.3v1.1h-1.3zM-0.6 -13.3h1.3v1.1h-1.3zM20.7 -13.3h1.3v1.1h-1.3zM-7.7 -14.3h2.5v1.1h-2.5zM32.4 -16.3h1.3v1.1h-1.3zM-14.8 -17.3h1.3v1.1h-1.3zM21.7 -17.3h1.3v1.1h-1.3zM-85.3 -18.4h1.3v1.1h-1.3zM19.3 -19.4h2.5v1.1h-2.5zM15.8 -20.4h1.3v1.1h-1.3zM88.5 -20.4h4.8v1.1h-4.8zM20.4 -21.4h2.5v1.1h-2.5zM38 -21.4h1.3v1.1h-1.3zM32.1 -22.4h1.3v1.1h-1.3zM40.3 -22.4h1.3v1.1h-1.3zM-13.5 -24.5h1.3v1.1h-1.3zM80.9 -24.5h1.3v1.1h-1.3zM-15.8 -25.5h1.3v1.1h-1.3zM-13.4 -25.5h2.4v1.1h-2.4zM-9.9 -27.5h1.3v1.1h-1.3zM-89.5 -43.7h1.2v1.1h-1.2zM-80.7 -43.7h1.2v1.1h-1.2zM-103.8 -47.8h1.2v1.1h-1.2zM-66.2 -47.8h2.3v1.1h-2.3zM63.9 -47.8h1.2v1.1h-1.2zM108 -47.8h1.2v1.1h-1.2zM-86.1 -48.8h1.2v1.1h-1.2zM-63.6 -48.8h1.2v1.1h-1.2zM-95.2 -49.8h1.2v1.1h-1.2zM-65.4 -49.8h1.2v1.1h-1.2zM-93.6 -50.8h1.2v1.1h-1.2zM104 -50.8h1.2v1.1h-1.2zM-104.6 -51.8h1.2v1.1h-1.2zM-95.6 -52.7h2.2v1.1h-2.2zM94.4 -52.7h1.2v1.1h-1.2zM-100.2 -53.7h2.2v1.1h-2.2zM-97 -53.7h3.2v1.1h-3.2zM-92.9 -53.7h1.2v1.1h-1.2zM-46.2 -53.7h1.2v1.1h-1.2zM60.6 -53.7h1.2v1.1h-1.2zM72 -53.7h2.2v1.1h-2.2zM85.5 -53.7h1.2v1.1h-1.2zM-104.7 -54.7h1.2v1.1h-1.2zM-102.6 -54.7h1.2v1.1h-1.2zM-98.5 -54.7h7.3v1.1h-7.3zM72.6 -54.7h1.2v1.1h-1.2zM-98.8 -55.7h3.2v1.1h-3.2zM-94.7 -55.7h5.2v1.1h-5.2zM-77.3 -55.7h1.1v1.1h-1.1zM-69.1 -55.7h1.1v1.1h-1.1zM49.6 -55.7h1.1v1.1h-1.1zM101.8 -55.7h1.1v1.1h-1.1zM-99.1 -56.7h6.2v1.1h-6.2zM-47.3 -56.7h1.1v1.1h-1.1zM-1.6 -56.7h1.1v1.1h-1.1zM30.9 -56.7h1.1v1.1h-1.1zM85.8 -56.7h1.1v1.1h-1.1zM100.1 -56.7h1.1v1.1h-1.1zM115.3 -56.7h1.1v1.1h-1.1zM112.4 -57.6h1.1v1.1h-1.1zM114.4 -57.6h1.1v1.1h-1.1zM-101.7 -58.6h3.1v1.1h-3.1zM-66.6 -58.6h1.1v1.1h-1.1zM-2.6 -58.6h1.1v1.1h-1.1zM97.6 -58.6h1.1v1.1h-1.1zM-103.9 -59.6h5.1v1.1h-5.1zM-95.9 -59.6h1.1v1.1h-1.1zM-50.2 -59.6h1.1v1.1h-1.1zM-2.5 -59.6h1.1v1.1h-1.1zM54.1 -59.6h1.1v1.1h-1.1zM58.1 -59.6h1.1v1.1h-1.1zM-102 -60.5h1.1v1.1h-1.1zM-80.4 -60.5h1.1v1.1h-1.1zM18.2 -60.5h2.1v1.1h-2.1zM96 -60.5h1.1v1.1h-1.1zM127.6 -60.5h1.1v1.1h-1.1zM-78.7 -61.5h1.1v1.1h-1.1zM-4.4 -61.5h1.1v1.1h-1.1zM42.5 -61.5h1.1v1.1h-1.1zM92.3 -61.5h1.1v1.1h-1.1zM-85.8 -62.4h1.1v1.1h-1.1zM74.1 -62.4h1.1v1.1h-1.1zM98.3 -62.4h1.1v1.1h-1.1zM107 -62.4h2.1v1.1h-2.1zM-55.3 -63.3h1.1v1.1h-1.1zM-51.5 -63.3h1.1v1.1h-1.1zM10 -63.3h1.1v1.1h-1.1zM29.3 -63.3h1.1v1.1h-1.1zM31.2 -63.3h1.1v1.1h-1.1zM35 -63.3h1.1v1.1h-1.1zM43.7 -63.3h1.1v1.1h-1.1zM56.2 -63.3h1.1v1.1h-1.1zM82.1 -63.3h1.1v1.1h-1.1zM89.8 -63.3h1.1v1.1h-1.1zM107.1 -63.3h1.1v1.1h-1.1zM55.7 -64.3h1.1v1.1h-1.1zM81.4 -64.3h1.1v1.1h-1.1zM83.3 -64.3h2v1.1h-2zM90.9 -64.3h1.1v1.1h-1.1zM92.8 -64.3h1.1v1.1h-1.1zM-122.3 -65.2h1.1v1h-1.1zM3.3 -65.2h1.1v1h-1.1zM8.9 -65.2h1.1v1h-1.1zM17.4 -65.2h1.1v1h-1.1zM54.2 -65.2h3.9v1h-3.9zM-121.2 -66.1h1.1v1h-1.1zM-82.8 -66.1h1.1v1h-1.1zM-70.7 -66.1h1.1v1h-1.1zM-58.5 -66.1h1.1v1h-1.1zM5.1 -66.1h1.1v1h-1.1zM37.8 -66.1h1.1v1h-1.1zM123.9 -66.1h1.1v1h-1.1zM-92.3 -67h1v1h-1zM10.6 -67h1v1h-1zM18 -67h2v1h-2zM44 -67h1v1h-1zM86.6 -67h1v1h-1zM120 -67h2v1h-2zM-99.6 -67.9h1v1h-1zM-74.9 -67.9h1v1h-1zM-73 -67.9h1v1h-1zM-30.8 -67.9h1v1h-1zM8.7 -67.9h1v1h-1zM10.5 -67.9h2v1h-2zM13.3 -67.9h2v1h-2zM16.9 -67.9h3.8v1h-3.8zM69.3 -67.9h1v1h-1zM117.9 -67.9h1v1h-1zM119.7 -67.9h1v1h-1zM-98.7 -68.8h1v1h-1zM-56 -68.8h1v1h-1zM-15 -68.8h1v1h-1zM12.2 -68.8h1v1h-1zM18.6 -68.8h1v1h-1zM35.9 -68.8h1v1h-1zM97.7 -68.8h1v1h-1zM-94.1 -69.7h1v1h-1zM-73.4 -69.7h1v1h-1zM-71.6 -69.7h1.9v1h-1.9zM-36.5 -69.7h1v1h-1zM-17.6 -69.7h1.9v1h-1.9zM23.8 -69.7h1v1h-1zM54.4 -69.7h1v1h-1zM106.6 -69.7h1v1h-1zM-107.4 -70.6h1v1h-1zM-70.9 -70.6h2.8v1h-2.8zM-66.4 -70.6h1v1h-1zM-16.5 -70.6h1v1h-1zM13.8 -70.6h1v1h-1zM23.6 -70.6h4.6v1h-4.6zM50.3 -70.6h1v1h-1zM100.2 -70.6h1v1h-1zM-126.6 -71.5h1v1h-1zM-112.5 -71.5h1v1h-1zM-69.3 -71.5h1v1h-1zM-52.5 -71.5h1v1h-1zM-46.3 -71.5h1v1h-1zM-44.6 -71.5h1v1h-1zM-25.2 -71.5h1v1h-1zM15.4 -71.5h1v1h-1zM115 -71.5h1v1h-1zM-106.1 -72.3h1v1h-1zM-66.8 -72.3h1v1h-1zM-47.6 -72.3h1v1h-1zM-45.9 -72.3h1v1h-1zM15.2 -72.3h1v1h-1zM17.8 -72.3h1v1h-1zM51.9 -72.3h1v1h-1zM85 -72.3h1v1h-1zM-112.7 -73.2h1v1h-1zM-75.6 -73.2h1v1h-1zM-47.1 -73.2h1v1h-1zM47 -73.2h1v1h-1zM78.1 -73.2h1v1h-1zM-54.3 -74h1v1h-1zM55 -74h1v1h-1zM105.4 -74h1v1h-1zM-75.6 -74.9h1v1h-1zM-52.8 -74.9h1v1h-1zM16.4 -74.9h1v1h-1zM52.7 -74.9h3.5v1h-3.5zM-74.7 -75.7h1.8v0.9h-1.8zM-71.4 -75.7h1v0.9h-1zM-36.3 -75.7h1v0.9h-1zM37.1 -75.7h1v0.9h-1zM52.9 -75.7h2.6v0.9h-2.6zM83.8 -75.7h1v0.9h-1zM-73 -76.5h2.6v0.9h-2.6zM81.1 -76.5h0.9v0.9h-0.9zM58.1 -77.3h0.9v0.9h-0.9zM91.1 -78.1h0.9v0.9h-0.9zM-40.8 -78.9h1.7v0.9h-1.7zM-38.4 -78.9h2.5v0.9h-2.5zM36 -78.9h0.9v0.9h-0.9zM65.2 -78.9h0.9v0.9h-0.9zM91.4 -78.9h0.9v0.9h-0.9zM-40.2 -79.7h0.9v0.9h-0.9zM-38.7 -79.7h3.2v0.9h-3.2zM10.5 -79.7h0.9v0.9h-0.9zM-47.3 -80.4h0.9v0.9h-0.9zM-45 -80.4h1.7v0.9h-1.7zM-42.7 -80.4h0.9v0.9h-0.9zM-38.8 -80.4h0.9v0.9h-0.9zM11.1 -80.4h0.9v0.9h-0.9zM-45.1 -81.2h0.9v0.8h-0.9zM-42.8 -81.2h0.9v0.8h-0.9zM7.9 -81.2h0.9v0.8h-0.9zM-45.8 -81.9h0.9v0.8h-0.9zM-44.3 -81.9h3.8v0.8h-3.8zM-42.9 -82.5h3.8v0.8h-3.8zM-43.7 -83.2h0.8v0.8h-0.8zM-42.3 -83.2h1.6v0.8h-1.6zM-40.1 -83.2h2.3v0.8h-2.3zM-22.1 -83.2h0.8v0.8h-0.8zM-19.2 -83.2h1.6v0.8h-1.6zM-39.5 -83.8h2.3v0.7h-2.3zM-16.7 -83.8h0.8v0.7h-0.8z"/><path fill="#ff9600" d="M-59.1 36.6h1.2v1.1h-1.2zM-59.2 20.3h1.3v1.1h-1.3zM-71.8 10.1h1.3v1.1h-1.3zM-63.5 9.1h1.3v1.1h-1.3zM-48.1 8.1h1.3v1.1h-1.3zM-62.5 -6.2h1.3v1.1h-1.3zM-13.6 -16.3h1.3v1.1h-1.3zM-86.1 -21.4h1.3v1.1h-1.3zM22.6 -25.5h1.3v1.1h-1.3zM65.7 -25.5h1.3v1.1h-1.3zM17.9 -26.5h1.3v1.1h-1.3zM59.1 -31.6h1.3v1.1h-1.3zM-0.6 -38.7h1.2v1.1h-1.2zM-94.6 -48.8h1.2v1.1h-1.2zM-56.9 -52.7h1.2v1.1h-1.2zM71.6 -54.7h1.2v1.1h-1.2zM42.4 -55.7h1.1v1.1h-1.1zM26.7 -57.6h1.1v1.1h-1.1zM68 -57.6h1.1v1.1h-1.1zM71.1 -57.6h1.1v1.1h-1.1zM-8.6 -58.6h1.1v1.1h-1.1zM53.5 -58.6h1.1v1.1h-1.1zM20.3 -59.6h1.1v1.1h-1.1zM30.2 -59.6h1.1v1.1h-1.1zM-101.1 -60.5h2.1v1.1h-2.1zM-50.8 -60.5h1.1v1.1h-1.1zM-75.8 -61.5h1.1v1.1h-1.1zM22.9 -61.5h1.1v1.1h-1.1zM64.2 -64.3h1.1v1.1h-1.1zM67.1 -64.3h1.1v1.1h-1.1zM85.2 -64.3h1.1v1.1h-1.1zM-114.6 -66.1h1.1v1h-1.1zM-105.3 -66.1h1.1v1h-1.1zM102.4 -66.1h1.1v1h-1.1zM58.8 -67h1v1h-1zM105.1 -67h1v1h-1zM-73.9 -67.9h1v1h-1zM27 -67.9h1v1h-1zM102.3 -67.9h1v1h-1zM-109.6 -68.8h1v1h-1zM-74.1 -68.8h1v1h-1zM-72.3 -68.8h1v1h-1zM-69.6 -68.8h1v1h-1zM16.8 -68.8h1.9v1h-1.9zM109.5 -68.8h1v1h-1zM124 -68.8h1v1h-1zM-66.2 -69.7h1v1h-1zM-125.2 -70.6h1v1h-1zM-122.6 -70.6h1v1h-1zM-50.4 -70.6h1v1h-1zM-83.4 -71.5h1.9v1h-1.9zM74.5 -71.5h1v1h-1zM94.6 -72.3h1v1h-1zM86.6 -74h1v1h-1zM-17.1 -75.7h1v0.9h-1zM35.8 -76.5h0.9v0.9h-0.9zM-55.1 -78.9h0.9v0.9h-0.9zM-44.3 -81.2h1.6v0.8h-1.6z"/><path fill="#ff4600" d="M-60.3 21.3h1.3v1.1h-1.3zM87.2 -33.6h1.3v1.1h-1.3zM87 -34.6h2.4v1.1h-2.4zM64.2 -46.8h1.2v1.1h-1.2zM-94.1 -49.8h1.2v1.1h-1.2zM-68.4 -52.7h1.2v1.1h-1.2zM39.8 -63.3h1.1v1.1h-1.1zM-96.7 -64.3h1.1v1.1h-1.1zM-102.5 -66.1h1.1v1h-1.1zM-72.5 -69.7h1v1h-1zM111.1 -69.7h1v1h-1zM14.7 -70.6h1v1h-1zM29.8 -70.6h1v1h-1zM-104.3 -72.3h1v1h-1zM18.5 -73.2h1v1h-1zM49.6 -73.2h1v1h-1zM86.7 -73.2h1v1h-1zM-70.3 -78.1h0.9v0.9h-0.9zM67 -78.1h0.9v0.9h-0.9zM-39.4 -79.7h0.9v0.9h-0.9zM-21.3 -83.2h0.8v0.8h-0.8zM-27.4 -83.8h0.8v0.7h-0.8z"/><path fill="#eb0000" d="M-73.2 -68.8h1v1h-1z"/><path fill="#d2282d" d="M-60.4 20.3h1.3v1.1h-1.3zM88.4 -33.6h1.3v1.1h-1.3z"/></g>
</defs>
<text x="350.4" y="77.9" font-size="19.25" text-anchor="middle">SON H2OSOI Level 0 (mm3/mm3)</text>
<text x="175.1" y="106" font-size="17.3" text-anchor="middle">Myccost_ISSP585Clm50BgcCrop_kparams</text>
<text x="175" y="126.1" font-size="17.35" text-anchor="middle">(yrs 2015-2048)</text>
<text x="524.3" y="106" font-size="17.2" text-anchor="middle">Myccost_ISSP585Clm50BgcCrop_control</text>
<text x="525" y="126.1" font-size="17.35" text-anchor="middle">(yrs 2015-2048)</text>
<text x="175.1" y="387.7" font-size="17.3" text-anchor="middle">Myccost_ISSP585Clm50BgcCrop_kparams</text>
<text x="174.5" y="407.6" font-size="17.3" text-anchor="middle">- Myccost_ISSP585Clm50BgcCrop_control</text>
<text x="525" y="399.1" font-size="17.4" text-anchor="middle">T-Test of two Case means at each grid point</text>
<text x="534.5" y="629.4" font-size="14.26" text-anchor="middle">Cells are significant at 0.1 level</text>
<g transform="translate(175.0 219.50)"><g clip-path="url(#clip)"><use href="#absmap"/><use href="#coast" fill="none" stroke="#000" stroke-width=".75" stroke-linejoin="round"/></g><use href="#frame" fill="none" stroke="#000" stroke-width=".55"/></g>
<g transform="translate(525.0 219.50)"><g clip-path="url(#clip)"><use href="#absmap"/><use href="#coast" fill="none" stroke="#000" stroke-width=".75" stroke-linejoin="round"/></g><use href="#frame" fill="none" stroke="#000" stroke-width=".55"/></g>
<g transform="translate(175.0 501.50)"><g clip-path="url(#clip)"><use href="#difmap"/><use href="#coast" fill="none" stroke="#000" stroke-width=".75" stroke-linejoin="round"/></g><use href="#frame" fill="none" stroke="#000" stroke-width=".55"/></g>
<g transform="translate(525.0 501.50)"><g clip-path="url(#clip)"><rect x="-95.8" y="-51.8" width="1.5" height="1.5" fill="#ff2020"/><rect x="-85.2" y="-54.2" width="1.5" height="1.5" fill="#ff2020"/><rect x="-95.8" y="-24.8" width="1.5" height="1.5" fill="#ff2020"/><rect x="-92.4" y="-19.2" width="1.5" height="1.5" fill="#ff2020"/><rect x="-61.2" y="20.8" width="1.5" height="1.5" fill="#ff2020"/><rect x="-60.8" y="25.8" width="1.5" height="1.5" fill="#ff2020"/><rect x="-56.8" y="44.8" width="1.5" height="1.5" fill="#ff2020"/><rect x="-56.2" y="48.2" width="1.5" height="1.5" fill="#ff2020"/><rect x="-56.8" y="51.5" width="1.5" height="1.5" fill="#ff2020"/><rect x="-5.0" y="-52.8" width="1.5" height="1.5" fill="#ff2020"/><rect x="6.8" y="-62.2" width="1.5" height="1.5" fill="#ff2020"/><rect x="11.2" y="-62.8" width="1.5" height="1.5" fill="#ff2020"/><rect x="62.2" y="-43.4" width="1.5" height="1.5" fill="#ff2020"/><rect x="80.5" y="-40.2" width="1.5" height="1.5" fill="#ff2020"/><rect x="86.8" y="-42.2" width="1.5" height="1.5" fill="#ff2020"/><rect x="91.2" y="-40.9" width="1.5" height="1.5" fill="#ff2020"/><rect x="79.8" y="-34.2" width="1.5" height="1.5" fill="#ff2020"/><rect x="86.8" y="-36.8" width="1.5" height="1.5" fill="#ff2020"/><rect x="87.2" y="-34.8" width="1.5" height="1.5" fill="#ff2020"/><rect x="35.5" y="-14.2" width="1.5" height="1.5" fill="#ff2020"/><rect x="26.2" y="17.8" width="1.5" height="1.5" fill="#ff2020"/><rect x="38.0" y="14.0" width="1.5" height="1.5" fill="#ff2020"/><rect x="134.2" y="10.2" width="1.5" height="1.5" fill="#ff2020"/><rect x="121.2" y="14.8" width="1.5" height="1.5" fill="#ff2020"/><rect x="157.2" y="40.2" width="1.5" height="1.5" fill="#ff2020"/><use href="#coast" fill="none" stroke="#000" stroke-width=".75" stroke-linejoin="round"/></g><use href="#frame" fill="none" stroke="#000" stroke-width=".55"/></g>
<rect x="76.00" y="329" width="28.00" height="14.4" fill="#3d14f0" stroke="#222" stroke-width=".5"/><rect x="104.00" y="329" width="28.00" height="14.4" fill="#326ee1" stroke="#222" stroke-width=".5"/><rect x="132.00" y="329" width="28.00" height="14.4" fill="#1eb4f0" stroke="#222" stroke-width=".5"/><rect x="160.00" y="329" width="28.00" height="14.4" fill="#c8e6f7" stroke="#222" stroke-width=".5"/><rect x="188.00" y="329" width="28.00" height="14.4" fill="#ffbe14" stroke="#222" stroke-width=".5"/><rect x="216.00" y="329" width="28.00" height="14.4" fill="#ff3c00" stroke="#222" stroke-width=".5"/><rect x="244.00" y="329" width="28.00" height="14.4" fill="#d7282d" stroke="#222" stroke-width=".5"/><text x="76.0" y="358" font-size="12.95" text-anchor="middle">.0151</text><text x="104.0" y="358" font-size="12.95" text-anchor="middle">.1</text><text x="132.0" y="358" font-size="12.95" text-anchor="middle">.2</text><text x="160.0" y="358" font-size="12.95" text-anchor="middle">.3</text><text x="188.0" y="358" font-size="12.95" text-anchor="middle">.4</text><text x="216.0" y="358" font-size="12.95" text-anchor="middle">.5</text><text x="244.0" y="358" font-size="12.95" text-anchor="middle">.6</text><text x="272.0" y="358" font-size="12.95" text-anchor="middle">.9928</text>
<rect x="426.00" y="329" width="28.00" height="14.4" fill="#3d14f0" stroke="#222" stroke-width=".5"/><rect x="454.00" y="329" width="28.00" height="14.4" fill="#326ee1" stroke="#222" stroke-width=".5"/><rect x="482.00" y="329" width="28.00" height="14.4" fill="#1eb4f0" stroke="#222" stroke-width=".5"/><rect x="510.00" y="329" width="28.00" height="14.4" fill="#c8e6f7" stroke="#222" stroke-width=".5"/><rect x="538.00" y="329" width="28.00" height="14.4" fill="#ffbe14" stroke="#222" stroke-width=".5"/><rect x="566.00" y="329" width="28.00" height="14.4" fill="#ff3c00" stroke="#222" stroke-width=".5"/><rect x="594.00" y="329" width="28.00" height="14.4" fill="#d7282d" stroke="#222" stroke-width=".5"/><text x="426.0" y="358" font-size="12.95" text-anchor="middle">.0151</text><text x="454.0" y="358" font-size="12.95" text-anchor="middle">.1</text><text x="482.0" y="358" font-size="12.95" text-anchor="middle">.2</text><text x="510.0" y="358" font-size="12.95" text-anchor="middle">.3</text><text x="538.0" y="358" font-size="12.95" text-anchor="middle">.4</text><text x="566.0" y="358" font-size="12.95" text-anchor="middle">.5</text><text x="594.0" y="358" font-size="12.95" text-anchor="middle">.6</text><text x="622.0" y="358" font-size="12.95" text-anchor="middle">.9928</text>
<rect x="72.00" y="610.6" width="17.25" height="14.8" fill="#410ff0" stroke="#222" stroke-width=".5"/><rect x="89.25" y="610.6" width="17.25" height="14.8" fill="#233ceb" stroke="#222" stroke-width=".5"/><rect x="106.50" y="610.6" width="17.25" height="14.8" fill="#3273eb" stroke="#222" stroke-width=".5"/><rect x="123.75" y="610.6" width="17.25" height="14.8" fill="#14a0fa" stroke="#222" stroke-width=".5"/><rect x="141.00" y="610.6" width="17.25" height="14.8" fill="#41bef5" stroke="#222" stroke-width=".5"/><rect x="158.25" y="610.6" width="17.25" height="14.8" fill="#a5d7f0" stroke="#222" stroke-width=".5"/><rect x="175.50" y="610.6" width="17.25" height="14.8" fill="#fffa96" stroke="#222" stroke-width=".5"/><rect x="192.75" y="610.6" width="17.25" height="14.8" fill="#ffd228" stroke="#222" stroke-width=".5"/><rect x="210.00" y="610.6" width="17.25" height="14.8" fill="#ff9600" stroke="#222" stroke-width=".5"/><rect x="227.25" y="610.6" width="17.25" height="14.8" fill="#ff4600" stroke="#222" stroke-width=".5"/><rect x="244.50" y="610.6" width="17.25" height="14.8" fill="#eb0000" stroke="#222" stroke-width=".5"/><rect x="261.75" y="610.6" width="17.25" height="14.8" fill="#d2282d" stroke="#222" stroke-width=".5"/><text x="72.0" y="639.7" font-size="13.4" text-anchor="middle">-.02861</text><text x="141.0" y="639.7" font-size="13.4" text-anchor="middle">-.01</text><text x="175.5" y="639.7" font-size="13.4" text-anchor="middle">-.00</text><text x="210.0" y="639.7" font-size="13.4" text-anchor="middle">.01</text><text x="279.0" y="639.7" font-size="13.4" text-anchor="middle">.04388</text>
</svg>
</body></html>
